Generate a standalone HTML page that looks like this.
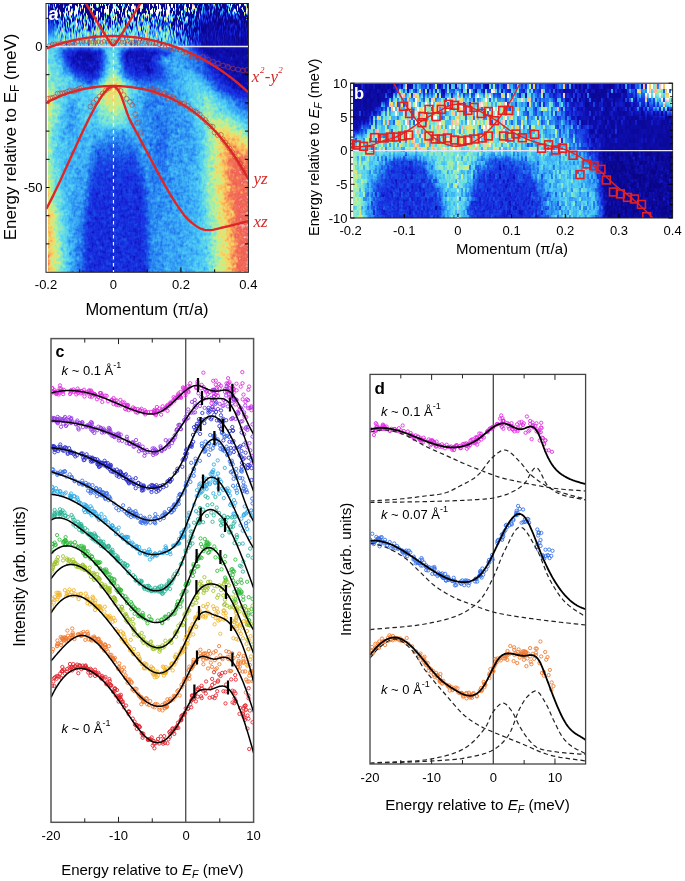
<!DOCTYPE html>
<html><head><meta charset="utf-8"><style>
html,body{margin:0;padding:0;background:#fff;}
body{width:685px;height:881px;position:relative;overflow:hidden;font-family:"Liberation Sans", sans-serif;}
svg{position:absolute;left:0;top:0;}
canvas{position:absolute;}
</style></head><body>
<canvas id="ha" width="200" height="268" style="left:48px;top:4px;width:200px;height:268px;background:linear-gradient(to bottom,#0c0a96 0%,#0c0a96 10%,rgba(12,10,150,0) 16%),linear-gradient(to right,#f5a05a 0%,#9fe0c0 5%,#50b8f0 14%,#2a50e0 22%,#2a50e0 45%,#3c96f0 55%,#48b0f2 70%,#90e0d0 80%,#f0dc70 86%,#f59a5a 91%,#ef6458 95%,#ef6458 100%)"></canvas><canvas id="hb" width="320" height="134" style="left:353px;top:84px;width:320px;height:134px;background:linear-gradient(to bottom,rgba(12,10,150,0.5) 0%,rgba(12,10,150,0) 45%),linear-gradient(to right,#70d0d8 0%,#2040dc 14%,#60c8ec 33%,#2040dc 48%,#4ab0f0 65%,#0a0590 78%,#0a0590 100%)"></canvas>
<svg width="685" height="881" viewBox="0 0 685 881">
<defs><marker id="m0" markerUnits="userSpaceOnUse" markerWidth="8" markerHeight="8" refX="4" refY="4" overflow="visible"><circle cx="4" cy="4" r="2.4" fill="none" stroke="rgba(195,60,50,0.85)" stroke-width="0.7"/></marker><marker id="m1" markerUnits="userSpaceOnUse" markerWidth="8" markerHeight="8" refX="4" refY="4" overflow="visible"><circle cx="4" cy="4" r="1.9" fill="none" stroke="rgba(195,60,50,0.85)" stroke-width="0.7"/></marker><marker id="m2" markerUnits="userSpaceOnUse" markerWidth="8" markerHeight="8" refX="4" refY="4" overflow="visible"><circle cx="4" cy="4" r="1.65" fill="none" stroke="rgb(225,40,225)" stroke-width="0.85"/></marker><marker id="m3" markerUnits="userSpaceOnUse" markerWidth="8" markerHeight="8" refX="4" refY="4" overflow="visible"><circle cx="4" cy="4" r="1.65" fill="none" stroke="rgb(150,55,225)" stroke-width="0.85"/></marker><marker id="m4" markerUnits="userSpaceOnUse" markerWidth="8" markerHeight="8" refX="4" refY="4" overflow="visible"><circle cx="4" cy="4" r="1.65" fill="none" stroke="rgb(40,45,205)" stroke-width="0.85"/></marker><marker id="m5" markerUnits="userSpaceOnUse" markerWidth="8" markerHeight="8" refX="4" refY="4" overflow="visible"><circle cx="4" cy="4" r="1.65" fill="none" stroke="rgb(55,110,230)" stroke-width="0.85"/></marker><marker id="m6" markerUnits="userSpaceOnUse" markerWidth="8" markerHeight="8" refX="4" refY="4" overflow="visible"><circle cx="4" cy="4" r="1.65" fill="none" stroke="rgb(45,170,230)" stroke-width="0.85"/></marker><marker id="m7" markerUnits="userSpaceOnUse" markerWidth="8" markerHeight="8" refX="4" refY="4" overflow="visible"><circle cx="4" cy="4" r="1.65" fill="none" stroke="rgb(40,180,150)" stroke-width="0.85"/></marker><marker id="m8" markerUnits="userSpaceOnUse" markerWidth="8" markerHeight="8" refX="4" refY="4" overflow="visible"><circle cx="4" cy="4" r="1.65" fill="none" stroke="rgb(50,185,60)" stroke-width="0.85"/></marker><marker id="m9" markerUnits="userSpaceOnUse" markerWidth="8" markerHeight="8" refX="4" refY="4" overflow="visible"><circle cx="4" cy="4" r="1.65" fill="none" stroke="rgb(160,195,45)" stroke-width="0.85"/></marker><marker id="m10" markerUnits="userSpaceOnUse" markerWidth="8" markerHeight="8" refX="4" refY="4" overflow="visible"><circle cx="4" cy="4" r="1.65" fill="none" stroke="rgb(240,180,40)" stroke-width="0.85"/></marker><marker id="m11" markerUnits="userSpaceOnUse" markerWidth="8" markerHeight="8" refX="4" refY="4" overflow="visible"><circle cx="4" cy="4" r="1.65" fill="none" stroke="rgb(240,120,45)" stroke-width="0.85"/></marker><marker id="m12" markerUnits="userSpaceOnUse" markerWidth="8" markerHeight="8" refX="4" refY="4" overflow="visible"><circle cx="4" cy="4" r="1.65" fill="none" stroke="rgb(225,35,45)" stroke-width="0.85"/></marker><marker id="m13" markerUnits="userSpaceOnUse" markerWidth="8" markerHeight="8" refX="4" refY="4" overflow="visible"><circle cx="4" cy="4" r="1.65" fill="none" stroke="rgb(50,110,230)" stroke-width="0.85"/></marker></defs>
<rect x="46.0" y="3.5" width="202.4" height="268.8" fill="none" stroke="#222" stroke-width="1"/>
<line x1="46.0" y1="18.30" x2="49.5" y2="18.30" stroke="#000" stroke-width="1"/>
<line x1="248.4" y1="18.30" x2="244.9" y2="18.30" stroke="#000" stroke-width="1"/>
<line x1="46.0" y1="46.50" x2="49.5" y2="46.50" stroke="#000" stroke-width="1"/>
<line x1="248.4" y1="46.50" x2="244.9" y2="46.50" stroke="#000" stroke-width="1"/>
<line x1="46.0" y1="74.70" x2="49.5" y2="74.70" stroke="#000" stroke-width="1"/>
<line x1="248.4" y1="74.70" x2="244.9" y2="74.70" stroke="#000" stroke-width="1"/>
<line x1="46.0" y1="102.90" x2="49.5" y2="102.90" stroke="#000" stroke-width="1"/>
<line x1="248.4" y1="102.90" x2="244.9" y2="102.90" stroke="#000" stroke-width="1"/>
<line x1="46.0" y1="131.10" x2="49.5" y2="131.10" stroke="#000" stroke-width="1"/>
<line x1="248.4" y1="131.10" x2="244.9" y2="131.10" stroke="#000" stroke-width="1"/>
<line x1="46.0" y1="159.30" x2="49.5" y2="159.30" stroke="#000" stroke-width="1"/>
<line x1="248.4" y1="159.30" x2="244.9" y2="159.30" stroke="#000" stroke-width="1"/>
<line x1="46.0" y1="187.50" x2="49.5" y2="187.50" stroke="#000" stroke-width="1"/>
<line x1="248.4" y1="187.50" x2="244.9" y2="187.50" stroke="#000" stroke-width="1"/>
<line x1="46.0" y1="215.70" x2="49.5" y2="215.70" stroke="#000" stroke-width="1"/>
<line x1="248.4" y1="215.70" x2="244.9" y2="215.70" stroke="#000" stroke-width="1"/>
<line x1="46.0" y1="243.90" x2="49.5" y2="243.90" stroke="#000" stroke-width="1"/>
<line x1="248.4" y1="243.90" x2="244.9" y2="243.90" stroke="#000" stroke-width="1"/>
<line x1="79.73" y1="272.3" x2="79.73" y2="269.3" stroke="#000" stroke-width="1"/>
<line x1="113.47" y1="272.3" x2="113.47" y2="267.3" stroke="#000" stroke-width="1"/>
<line x1="147.20" y1="272.3" x2="147.20" y2="269.3" stroke="#000" stroke-width="1"/>
<line x1="180.93" y1="272.3" x2="180.93" y2="267.3" stroke="#000" stroke-width="1"/>
<line x1="214.67" y1="272.3" x2="214.67" y2="269.3" stroke="#000" stroke-width="1"/>
<text x="42.50" y="51.10" font-size="13" text-anchor="end" font-weight="normal" font-style="normal" fill="#000" font-family='"Liberation Sans", sans-serif' >0</text>
<text x="42.50" y="192.10" font-size="13" text-anchor="end" font-weight="normal" font-style="normal" fill="#000" font-family='"Liberation Sans", sans-serif' >-50</text>
<text x="46.00" y="289.40" font-size="13" text-anchor="middle" font-weight="normal" font-style="normal" fill="#000" font-family='"Liberation Sans", sans-serif' >-0.2</text>
<text x="113.47" y="289.40" font-size="13" text-anchor="middle" font-weight="normal" font-style="normal" fill="#000" font-family='"Liberation Sans", sans-serif' >0</text>
<text x="180.93" y="289.40" font-size="13" text-anchor="middle" font-weight="normal" font-style="normal" fill="#000" font-family='"Liberation Sans", sans-serif' >0.2</text>
<text x="248.40" y="289.40" font-size="13" text-anchor="middle" font-weight="normal" font-style="normal" fill="#000" font-family='"Liberation Sans", sans-serif' >0.4</text>
<text x="147.00" y="315.20" font-size="16.5" text-anchor="middle" font-weight="normal" font-style="normal" fill="#000" font-family='"Liberation Sans", sans-serif' >Momentum (&#960;/a)</text>
<text transform="translate(16.3,137) rotate(-90)" font-size="17" text-anchor="middle" font-family='"Liberation Sans", sans-serif'>Energy relative to E<tspan font-size="12" dy="3">F</tspan><tspan dy="-3"> (meV)</tspan></text>
<rect x="350.6" y="83.2" width="322.0" height="134.8" fill="none" stroke="#222" stroke-width="1"/>
<line x1="350.6" y1="218.00" x2="354.6" y2="218.00" stroke="#000" stroke-width="0.9"/>
<line x1="672.6" y1="218.00" x2="668.6" y2="218.00" stroke="#000" stroke-width="0.9"/>
<line x1="350.6" y1="211.26" x2="353.1" y2="211.26" stroke="#000" stroke-width="0.9"/>
<line x1="672.6" y1="211.26" x2="670.1" y2="211.26" stroke="#000" stroke-width="0.9"/>
<line x1="350.6" y1="204.52" x2="353.1" y2="204.52" stroke="#000" stroke-width="0.9"/>
<line x1="672.6" y1="204.52" x2="670.1" y2="204.52" stroke="#000" stroke-width="0.9"/>
<line x1="350.6" y1="197.78" x2="353.1" y2="197.78" stroke="#000" stroke-width="0.9"/>
<line x1="672.6" y1="197.78" x2="670.1" y2="197.78" stroke="#000" stroke-width="0.9"/>
<line x1="350.6" y1="191.04" x2="353.1" y2="191.04" stroke="#000" stroke-width="0.9"/>
<line x1="672.6" y1="191.04" x2="670.1" y2="191.04" stroke="#000" stroke-width="0.9"/>
<line x1="350.6" y1="184.30" x2="354.6" y2="184.30" stroke="#000" stroke-width="0.9"/>
<line x1="672.6" y1="184.30" x2="668.6" y2="184.30" stroke="#000" stroke-width="0.9"/>
<line x1="350.6" y1="177.56" x2="353.1" y2="177.56" stroke="#000" stroke-width="0.9"/>
<line x1="672.6" y1="177.56" x2="670.1" y2="177.56" stroke="#000" stroke-width="0.9"/>
<line x1="350.6" y1="170.82" x2="353.1" y2="170.82" stroke="#000" stroke-width="0.9"/>
<line x1="672.6" y1="170.82" x2="670.1" y2="170.82" stroke="#000" stroke-width="0.9"/>
<line x1="350.6" y1="164.08" x2="353.1" y2="164.08" stroke="#000" stroke-width="0.9"/>
<line x1="672.6" y1="164.08" x2="670.1" y2="164.08" stroke="#000" stroke-width="0.9"/>
<line x1="350.6" y1="157.34" x2="353.1" y2="157.34" stroke="#000" stroke-width="0.9"/>
<line x1="672.6" y1="157.34" x2="670.1" y2="157.34" stroke="#000" stroke-width="0.9"/>
<line x1="350.6" y1="150.60" x2="354.6" y2="150.60" stroke="#000" stroke-width="0.9"/>
<line x1="672.6" y1="150.60" x2="668.6" y2="150.60" stroke="#000" stroke-width="0.9"/>
<line x1="350.6" y1="143.86" x2="353.1" y2="143.86" stroke="#000" stroke-width="0.9"/>
<line x1="672.6" y1="143.86" x2="670.1" y2="143.86" stroke="#000" stroke-width="0.9"/>
<line x1="350.6" y1="137.12" x2="353.1" y2="137.12" stroke="#000" stroke-width="0.9"/>
<line x1="672.6" y1="137.12" x2="670.1" y2="137.12" stroke="#000" stroke-width="0.9"/>
<line x1="350.6" y1="130.38" x2="353.1" y2="130.38" stroke="#000" stroke-width="0.9"/>
<line x1="672.6" y1="130.38" x2="670.1" y2="130.38" stroke="#000" stroke-width="0.9"/>
<line x1="350.6" y1="123.64" x2="353.1" y2="123.64" stroke="#000" stroke-width="0.9"/>
<line x1="672.6" y1="123.64" x2="670.1" y2="123.64" stroke="#000" stroke-width="0.9"/>
<line x1="350.6" y1="116.90" x2="354.6" y2="116.90" stroke="#000" stroke-width="0.9"/>
<line x1="672.6" y1="116.90" x2="668.6" y2="116.90" stroke="#000" stroke-width="0.9"/>
<line x1="350.6" y1="110.16" x2="353.1" y2="110.16" stroke="#000" stroke-width="0.9"/>
<line x1="672.6" y1="110.16" x2="670.1" y2="110.16" stroke="#000" stroke-width="0.9"/>
<line x1="350.6" y1="103.42" x2="353.1" y2="103.42" stroke="#000" stroke-width="0.9"/>
<line x1="672.6" y1="103.42" x2="670.1" y2="103.42" stroke="#000" stroke-width="0.9"/>
<line x1="350.6" y1="96.68" x2="353.1" y2="96.68" stroke="#000" stroke-width="0.9"/>
<line x1="672.6" y1="96.68" x2="670.1" y2="96.68" stroke="#000" stroke-width="0.9"/>
<line x1="350.6" y1="89.94" x2="353.1" y2="89.94" stroke="#000" stroke-width="0.9"/>
<line x1="672.6" y1="89.94" x2="670.1" y2="89.94" stroke="#000" stroke-width="0.9"/>
<line x1="350.6" y1="83.20" x2="354.6" y2="83.20" stroke="#000" stroke-width="0.9"/>
<line x1="672.6" y1="83.20" x2="668.6" y2="83.20" stroke="#000" stroke-width="0.9"/>
<line x1="404.27" y1="218.0" x2="404.27" y2="214.0" stroke="#000" stroke-width="1"/>
<line x1="457.93" y1="218.0" x2="457.93" y2="214.0" stroke="#000" stroke-width="1"/>
<line x1="511.60" y1="218.0" x2="511.60" y2="214.0" stroke="#000" stroke-width="1"/>
<line x1="565.27" y1="218.0" x2="565.27" y2="214.0" stroke="#000" stroke-width="1"/>
<line x1="618.93" y1="218.0" x2="618.93" y2="214.0" stroke="#000" stroke-width="1"/>
<text x="347.50" y="87.80" font-size="13" text-anchor="end" font-weight="normal" font-style="normal" fill="#000" font-family='"Liberation Sans", sans-serif' >10</text>
<text x="347.50" y="121.50" font-size="13" text-anchor="end" font-weight="normal" font-style="normal" fill="#000" font-family='"Liberation Sans", sans-serif' >5</text>
<text x="347.50" y="155.20" font-size="13" text-anchor="end" font-weight="normal" font-style="normal" fill="#000" font-family='"Liberation Sans", sans-serif' >0</text>
<text x="347.50" y="188.90" font-size="13" text-anchor="end" font-weight="normal" font-style="normal" fill="#000" font-family='"Liberation Sans", sans-serif' >-5</text>
<text x="347.50" y="222.60" font-size="13" text-anchor="end" font-weight="normal" font-style="normal" fill="#000" font-family='"Liberation Sans", sans-serif' >-10</text>
<text x="350.60" y="234.80" font-size="13" text-anchor="middle" font-weight="normal" font-style="normal" fill="#000" font-family='"Liberation Sans", sans-serif' >-0.2</text>
<text x="404.27" y="234.80" font-size="13" text-anchor="middle" font-weight="normal" font-style="normal" fill="#000" font-family='"Liberation Sans", sans-serif' >-0.1</text>
<text x="457.93" y="234.80" font-size="13" text-anchor="middle" font-weight="normal" font-style="normal" fill="#000" font-family='"Liberation Sans", sans-serif' >0</text>
<text x="511.60" y="234.80" font-size="13" text-anchor="middle" font-weight="normal" font-style="normal" fill="#000" font-family='"Liberation Sans", sans-serif' >0.1</text>
<text x="565.27" y="234.80" font-size="13" text-anchor="middle" font-weight="normal" font-style="normal" fill="#000" font-family='"Liberation Sans", sans-serif' >0.2</text>
<text x="618.93" y="234.80" font-size="13" text-anchor="middle" font-weight="normal" font-style="normal" fill="#000" font-family='"Liberation Sans", sans-serif' >0.3</text>
<text x="672.60" y="234.80" font-size="13" text-anchor="middle" font-weight="normal" font-style="normal" fill="#000" font-family='"Liberation Sans", sans-serif' >0.4</text>
<text x="512.00" y="253.80" font-size="15" text-anchor="middle" font-weight="normal" font-style="normal" fill="#000" font-family='"Liberation Sans", sans-serif' >Momentum (&#960;/a)</text>
<text transform="translate(318.8,147.3) rotate(-90)" font-size="14.6" text-anchor="middle" font-family='"Liberation Sans", sans-serif'>Energy relative to <tspan font-style="italic">E</tspan><tspan font-size="10.5" dy="3" font-style="italic">F</tspan><tspan dy="-3"> (meV)</tspan></text>
<defs><clipPath id="clipa"><rect x="46.5" y="4" width="201.4" height="268"/></clipPath><clipPath id="clipb"><rect x="351" y="83.7" width="321.2" height="133.9"/></clipPath></defs>
<line x1="48" y1="46.50" x2="248" y2="46.50" stroke="#e6e6ff" stroke-width="1.3"/>
<line x1="113.47" y1="4" x2="113.47" y2="272" stroke="#f4f4ff" stroke-width="1.2" stroke-dasharray="3.6,3.4"/>
<line x1="353" y1="150.60" x2="672.6" y2="150.60" stroke="#e6e6ff" stroke-width="1.3"/>
<line x1="457.93" y1="84" x2="457.93" y2="218" stroke="#f4f4ff" stroke-width="1.1" stroke-dasharray="3.6,3.4"/>
<g clip-path="url(#clipa)">
<path d="M203.0 57.0L208.0 59.5L213.0 61.5L218.0 63.5L223.0 65.5L228.0 67.0L233.0 68.5L238.0 69.5L243.0 70.5L247.0 70.0L48.0 98.6L50.4 98.2L52.8 97.8L55.2 97.0L57.6 93.6L60.0 93.3L62.4 93.2L64.8 92.9L67.2 91.6L69.6 90.7L72.0 91.3L74.4 90.9L76.8 89.9L79.2 88.4L81.6 87.8L90.4 106.5L93.5 102.7L96.6 99.6L99.7 96.5L102.8 93.4L105.9 90.3L109.0 88.0L117.5 88.0L120.6 91.0L123.7 95.0L126.8 98.8L129.9 101.9L132.2 105.0L135.3 114.3L137.6 122.8L140.7 132.9L143.5 143.5L150.1 89.7L152.4 88.9L154.8 92.7L157.4 90.3L160.5 93.5L163.3 93.9L164.8 93.0L168.0 98.9L169.7 96.1L172.7 97.1L174.9 98.9L177.6 101.9L180.0 103.1L182.3 103.8L184.1 103.2L187.8 105.8L190.2 108.9L193.0 111.0L195.4 111.7L197.2 112.9L199.8 114.5L202.3 117.8L205.1 119.8L206.7 122.4L210.1 126.2L212.7 126.7L214.7 132.5L217.8 135.1L220.9 134.8L222.7 139.4L225.2 142.6L227.6 145.4L229.4 148.4L232.2 152.3L234.8 156.6L237.8 160.1L240.1 163.8L242.3 167.6L244.8 172.6" fill="none" stroke="none" marker-start="url(#m0)" marker-mid="url(#m0)" marker-end="url(#m0)"/>
<path d="M49.0 45.5L52.3 44.1L54.7 43.9L57.9 43.9L60.8 42.6L64.0 43.5L66.6 43.2L69.2 43.4L72.4 42.8L75.1 43.2L77.7 41.7L81.0 42.1L83.2 41.9L86.6 41.6L89.2 42.2L92.8 42.0L95.2 42.2L98.5 41.8L101.4 42.5L104.0 41.4L107.1 42.0L110.2 41.0L112.6 41.3L115.2 41.9L118.8 41.4L121.9 42.3L124.6 42.1L127.6 41.1L130.4 42.4L132.6 42.3L135.9 42.6L138.8 42.3L141.9 41.9L144.9 42.4L147.7 42.3L150.0 43.1L153.0 43.4L156.0 43.5L159.0 44.8L162.0 46.2L165.0 47.4L168.0 45.6L171.0 48.6L174.0 49.3L177.0 49.9L180.0 50.3L183.0 53.3L186.0 52.5L189.0 55.3L192.0 57.3L195.0 56.4L198.0 58.9" fill="none" stroke="none" marker-start="url(#m1)" marker-mid="url(#m1)" marker-end="url(#m1)"/>
<path d="M46.00,48.60 L47.70,47.95 L49.40,47.32 L51.10,46.71 L52.80,46.11 L54.50,45.53 L56.21,44.98 L57.91,44.43 L59.61,43.91 L61.31,43.41 L63.01,42.92 L64.71,42.45 L66.41,42.00 L68.11,41.56 L69.81,41.14 L71.51,40.74 L73.21,40.35 L74.91,39.99 L76.62,39.63 L78.32,39.30 L80.02,38.98 L81.72,38.68 L83.42,38.40 L85.12,38.13 L86.82,37.87 L88.52,37.64 L90.22,37.42 L91.92,37.21 L93.62,37.02 L95.32,36.85 L97.03,36.70 L98.73,36.55 L100.43,36.43 L102.13,36.32 L103.83,36.23 L105.53,36.15 L107.23,36.09 L108.93,36.05 L110.63,36.02 L112.33,36.00 L114.03,36.00 L115.73,36.02 L117.44,36.05 L119.14,36.10 L120.84,36.17 L122.54,36.25 L124.24,36.34 L125.94,36.46 L127.64,36.58 L129.34,36.73 L131.04,36.89 L132.74,37.06 L134.44,37.25 L136.14,37.46 L137.85,37.69 L139.55,37.93 L141.25,38.18 L142.95,38.46 L144.65,38.74 L146.35,39.05 L148.05,39.37 L149.75,39.71 L151.45,40.06 L153.15,40.44 L154.85,40.82 L156.55,41.23 L158.26,41.65 L159.96,42.09 L161.66,42.55 L163.36,43.02 L165.06,43.51 L166.76,44.02 L168.46,44.55 L170.16,45.09 L171.86,45.66 L173.56,46.24 L175.26,46.84 L176.96,47.45 L178.67,48.09 L180.37,48.74 L182.07,49.42 L183.77,50.11 L185.47,50.82 L187.17,51.55 L188.87,52.30 L190.57,53.07 L192.27,53.86 L193.97,54.67 L195.67,55.50 L197.37,56.35 L199.08,57.22 L200.78,58.11 L202.48,59.02 L204.18,59.95 L205.88,60.91 L207.58,61.88 L209.28,62.88 L210.98,63.90 L212.68,64.94 L214.38,66.01 L216.08,67.09 L217.78,68.20 L219.49,69.34 L221.19,70.49 L222.89,71.67 L224.59,72.88 L226.29,74.11 L227.99,75.36 L229.69,76.63 L231.39,77.94 L233.09,79.26 L234.79,80.62 L236.49,81.99 L238.19,83.40 L239.90,84.83 L241.60,86.29 L243.30,87.77 L245.00,89.28 L246.70,90.82 L248.40,92.39" fill="none" stroke="rgb(222,38,38)" stroke-width="2.35"/>
<path d="M84.00,0.23 L84.74,1.44 L85.48,2.66 L86.22,3.88 L86.96,5.10 L87.70,6.31 L88.44,7.53 L89.17,8.74 L89.91,9.96 L90.65,11.18 L91.39,12.39 L92.13,13.61 L92.87,14.82 L93.61,16.04 L94.35,17.25 L95.09,18.47 L95.83,19.68 L96.57,20.89 L97.31,22.10 L98.05,23.32 L98.78,24.53 L99.52,25.74 L100.26,26.94 L101.00,28.15 L101.74,29.36 L102.48,30.56 L103.22,31.76 L103.96,32.96 L104.70,34.16 L105.44,35.35 L106.18,36.53 L106.92,37.71 L107.66,38.87 L108.39,40.02 L109.13,41.15 L109.87,42.24 L110.61,43.28 L111.35,44.22 L112.09,44.99 L112.83,45.44 L113.57,45.44 L114.31,44.99 L115.05,44.22 L115.79,43.28 L116.53,42.24 L117.27,41.15 L118.01,40.02 L118.74,38.87 L119.48,37.71 L120.22,36.53 L120.96,35.35 L121.70,34.16 L122.44,32.96 L123.18,31.76 L123.92,30.56 L124.66,29.36 L125.40,28.15 L126.14,26.94 L126.88,25.74 L127.62,24.53 L128.35,23.32 L129.09,22.10 L129.83,20.89 L130.57,19.68 L131.31,18.47 L132.05,17.25 L132.79,16.04 L133.53,14.82 L134.27,13.61 L135.01,12.39 L135.75,11.18 L136.49,9.96 L137.23,8.74 L137.96,7.53 L138.70,6.31 L139.44,5.10 L140.18,3.88 L140.92,2.66 L141.66,1.44 L142.40,0.23" fill="none" stroke="rgb(222,38,38)" stroke-width="2.35"/>
<path d="M46.00,102.97 L47.70,102.03 L49.40,101.12 L51.10,100.25 L52.80,99.40 L54.50,98.59 L56.21,97.81 L57.91,97.06 L59.61,96.34 L61.31,95.64 L63.01,94.98 L64.71,94.34 L66.41,93.73 L68.11,93.15 L69.81,92.59 L71.51,92.06 L73.21,91.55 L74.91,91.07 L76.62,90.61 L78.32,90.17 L80.02,89.76 L81.72,89.38 L83.42,89.01 L85.12,88.67 L86.82,88.35 L88.52,88.05 L90.22,87.77 L91.92,87.51 L93.62,87.27 L95.32,87.06 L97.03,86.86 L98.73,86.69 L100.43,86.53 L102.13,86.40 L103.83,86.28 L105.53,86.19 L107.23,86.11 L108.93,86.06 L110.63,86.02 L112.33,86.00 L114.03,86.00 L115.73,86.03 L117.44,86.07 L119.14,86.13 L120.84,86.21 L122.54,86.31 L124.24,86.43 L125.94,86.56 L127.64,86.72 L129.34,86.90 L131.04,87.10 L132.74,87.32 L134.44,87.56 L136.14,87.83 L137.85,88.11 L139.55,88.41 L141.25,88.74 L142.95,89.09 L144.65,89.46 L146.35,89.85 L148.05,90.27 L149.75,90.71 L151.45,91.17 L153.15,91.66 L154.85,92.17 L156.55,92.71 L158.26,93.27 L159.96,93.86 L161.66,94.48 L163.36,95.12 L165.06,95.79 L166.76,96.49 L168.46,97.22 L170.16,97.98 L171.86,98.76 L173.56,99.58 L175.26,100.43 L176.96,101.31 L178.67,102.23 L180.37,103.18 L182.07,104.16 L183.77,105.18 L185.47,106.23 L187.17,107.32 L188.87,108.45 L190.57,109.61 L192.27,110.82 L193.97,112.06 L195.67,113.35 L197.37,114.68 L199.08,116.05 L200.78,117.46 L202.48,118.92 L204.18,120.43 L205.88,121.98 L207.58,123.58 L209.28,125.22 L210.98,126.92 L212.68,128.67 L214.38,130.47 L216.08,132.32 L217.78,134.23 L219.49,136.19 L221.19,138.21 L222.89,140.29 L224.59,142.42 L226.29,144.62 L227.99,146.88 L229.69,149.20 L231.39,151.58 L233.09,154.03 L234.79,156.55 L236.49,159.13 L238.19,161.78 L239.90,164.51 L241.60,167.30 L243.30,170.17 L245.00,173.12 L246.70,176.14 L248.40,179.24" fill="none" stroke="rgb(222,38,38)" stroke-width="2.35"/>
<path d="M46.30,209.00 L53.17,195.60 L60.35,180.46 L67.70,164.34 L75.10,147.97 L82.41,132.09 L89.50,117.45 L96.23,104.79 L102.49,94.85 L108.12,88.37 L113.00,86.10 L115.24,86.80 L117.27,88.69 L119.12,91.55 L120.84,95.17 L122.47,99.34 L124.03,103.83 L125.56,108.45 L127.11,112.98 L128.71,117.20 L130.40,120.90 L132.06,124.10 L133.73,127.27 L135.40,130.43 L137.08,133.56 L138.75,136.68 L140.42,139.77 L142.08,142.85 L143.73,145.92 L145.37,148.97 L147.00,152.00 L148.53,154.87 L150.05,157.75 L151.56,160.61 L153.07,163.47 L154.56,166.30 L156.06,169.11 L157.54,171.89 L159.03,174.63 L160.51,177.34 L162.00,180.00 L163.35,182.39 L164.69,184.76 L166.02,187.12 L167.35,189.44 L168.68,191.74 L170.01,194.00 L171.35,196.22 L172.69,198.40 L174.04,200.53 L175.40,202.60 L176.60,204.40 L177.80,206.19 L178.99,207.96 L180.19,209.70 L181.39,211.40 L182.61,213.05 L183.85,214.64 L185.10,216.17 L186.39,217.63 L187.70,219.00 L188.87,220.14 L190.09,221.26 L191.32,222.34 L192.58,223.37 L193.85,224.36 L195.11,225.28 L196.37,226.13 L197.61,226.91 L198.82,227.60 L200.00,228.20 L200.83,228.58 L201.63,228.92 L202.40,229.21 L203.16,229.46 L203.92,229.67 L204.69,229.85 L205.48,229.98 L206.31,230.09 L207.18,230.16 L208.10,230.20 L209.48,230.18 L210.94,230.05 L212.47,229.83 L214.05,229.54 L215.69,229.19 L217.37,228.79 L219.09,228.37 L220.84,227.94 L222.61,227.51 L224.40,227.10 L226.66,226.59 L229.00,226.04 L231.42,225.45 L233.89,224.84 L236.39,224.21 L238.92,223.56 L241.46,222.91 L244.00,222.26 L246.52,221.62 L249.00,221.00" fill="none" stroke="rgb(222,38,38)" stroke-width="2.35" stroke-linejoin="round"/>
</g>
<g clip-path="url(#clipb)">
<path d="M385.00,64.29 L386.84,68.42 L388.67,72.43 L390.51,76.34 L392.34,80.15 L394.18,83.84 L396.01,87.43 L397.85,90.92 L399.68,94.29 L401.52,97.57 L403.35,100.73 L405.19,103.79 L407.03,106.74 L408.86,109.59 L410.70,112.32 L412.53,114.96 L414.37,117.48 L416.20,119.90 L418.04,122.21 L419.87,124.42 L421.71,126.52 L423.54,128.52 L425.38,130.40 L427.22,132.18 L429.05,133.86 L430.89,135.43 L432.72,136.89 L434.56,138.24 L436.39,139.49 L438.23,140.63 L440.06,141.67 L441.90,142.60 L443.73,143.42 L445.57,144.14 L447.41,144.75 L449.24,145.25 L451.08,145.65 L452.91,145.94 L454.75,146.12 L456.58,146.20 L458.42,146.17 L460.25,146.03 L462.09,145.79 L463.92,145.44 L465.76,144.99 L467.59,144.43 L469.43,143.76 L471.27,142.98 L473.10,142.10 L474.94,141.12 L476.77,140.02 L478.61,138.82 L480.44,137.52 L482.28,136.10 L484.11,134.58 L485.95,132.96 L487.78,131.23 L489.62,129.39 L491.46,127.44 L493.29,125.39 L495.13,123.23 L496.96,120.97 L498.80,118.60 L500.63,116.12 L502.47,113.54 L504.30,110.85 L506.14,108.05 L507.97,105.14 L509.81,102.14 L511.65,99.02 L513.48,95.80 L515.32,92.47 L517.15,89.03 L518.99,85.49 L520.82,81.84 L522.66,78.09 L524.49,74.22 L526.33,70.26 L528.16,66.18 L530.00,62.00" fill="none" stroke="rgb(222,38,38)" stroke-width="1.4"/>
<path d="M349.00,147.00 L351.62,146.86 L354.29,146.76 L356.99,146.68 L359.67,146.59 L362.31,146.46 L364.88,146.27 L367.36,146.00 L369.70,145.60 L371.51,145.17 L373.24,144.66 L374.90,144.08 L376.51,143.46 L378.10,142.82 L379.68,142.18 L381.27,141.57 L382.90,141.00 L384.54,140.49 L386.19,140.03 L387.83,139.58 L389.48,139.14 L391.13,138.68 L392.76,138.19 L394.39,137.63 L396.00,137.00 L397.68,136.25 L399.38,135.42 L401.07,134.54 L402.75,133.61 L404.41,132.66 L406.03,131.69 L407.59,130.74 L409.10,129.80 L410.34,129.00 L411.52,128.19 L412.66,127.37 L413.78,126.55 L414.88,125.73 L415.99,124.92 L417.13,124.10 L418.30,123.30 L419.57,122.46 L420.85,121.62 L422.15,120.78 L423.46,119.94 L424.78,119.11 L426.11,118.29 L427.45,117.49 L428.80,116.70 L430.18,115.92 L431.60,115.16 L433.04,114.40 L434.48,113.66 L435.92,112.93 L437.32,112.21 L438.69,111.50 L440.00,110.80 L441.07,110.20 L442.10,109.58 L443.11,108.97 L444.10,108.36 L445.07,107.78 L446.04,107.24 L447.02,106.74 L448.00,106.30 L448.88,105.95 L449.75,105.63 L450.63,105.34 L451.50,105.07 L452.37,104.85 L453.24,104.66 L454.12,104.51 L455.00,104.40 L455.87,104.34 L456.73,104.32 L457.60,104.35 L458.47,104.41 L459.35,104.50 L460.22,104.61 L461.11,104.75 L462.00,104.90 L462.97,105.09 L463.94,105.31 L464.91,105.55 L465.88,105.83 L466.88,106.13 L467.89,106.46 L468.93,106.82 L470.00,107.20 L471.41,107.72 L472.87,108.29 L474.38,108.91 L475.92,109.56 L477.48,110.25 L479.05,110.97 L480.63,111.73 L482.20,112.50 L483.95,113.40 L485.73,114.34 L487.53,115.32 L489.33,116.35 L491.14,117.40 L492.94,118.48 L494.73,119.58 L496.50,120.70 L498.30,121.90 L500.06,123.17 L501.80,124.48 L503.55,125.81 L505.31,127.14 L507.09,128.44 L508.92,129.71 L510.80,130.90 L512.84,132.10 L514.93,133.27 L517.06,134.42 L519.23,135.53 L521.41,136.60 L523.61,137.62 L525.81,138.59 L528.00,139.50 L530.09,140.31 L532.17,141.04 L534.26,141.73 L536.35,142.37 L538.46,142.98 L540.60,143.58 L542.78,144.18 L545.00,144.80 L547.55,145.46 L550.20,146.07 L552.92,146.66 L555.66,147.24 L558.38,147.84 L561.04,148.49 L563.59,149.20 L566.00,150.00 L567.91,150.74 L569.73,151.51 L571.47,152.31 L573.16,153.15 L574.83,154.04 L576.51,154.97 L578.23,155.96 L580.00,157.00 L582.15,158.31 L584.35,159.70 L586.58,161.17 L588.83,162.70 L591.08,164.29 L593.32,165.93 L595.53,167.60 L597.70,169.30 L599.91,171.13 L602.09,173.05 L604.24,175.04 L606.38,177.06 L608.51,179.09 L610.65,181.11 L612.81,183.09 L615.00,185.00 L617.18,186.80 L619.37,188.54 L621.58,190.24 L623.80,191.93 L626.02,193.63 L628.25,195.35 L630.48,197.14 L632.70,199.00 L635.20,201.20 L637.85,203.59 L640.57,206.09 L643.25,208.61 L645.82,211.06 L648.20,213.33 L650.28,215.34 L652.00,217.00 L652.65,217.63 L653.22,218.19 L653.73,218.70 L654.20,219.17 L654.64,219.62 L655.07,220.06 L655.52,220.52 L656.00,221.00" fill="none" stroke="rgb(222,38,38)" stroke-width="1.4"/>
<rect x="346.1" y="139.9" width="7.8" height="7.8" fill="none" stroke="rgb(228,32,32)" stroke-width="1.6"/>
<rect x="352.3" y="141.1" width="7.8" height="7.8" fill="none" stroke="rgb(228,32,32)" stroke-width="1.6"/>
<rect x="359.7" y="142.4" width="7.8" height="7.8" fill="none" stroke="rgb(228,32,32)" stroke-width="1.6"/>
<rect x="365.9" y="146.1" width="7.8" height="7.8" fill="none" stroke="rgb(228,32,32)" stroke-width="1.6"/>
<rect x="370.9" y="133.7" width="7.8" height="7.8" fill="none" stroke="rgb(228,32,32)" stroke-width="1.6"/>
<rect x="518.4" y="133.9" width="7.8" height="7.8" fill="none" stroke="rgb(228,32,32)" stroke-width="1.6"/>
<rect x="530.7" y="130.4" width="7.8" height="7.8" fill="none" stroke="rgb(228,32,32)" stroke-width="1.6"/>
<rect x="537.7" y="144.4" width="7.8" height="7.8" fill="none" stroke="rgb(228,32,32)" stroke-width="1.6"/>
<rect x="544.7" y="140.9" width="7.8" height="7.8" fill="none" stroke="rgb(228,32,32)" stroke-width="1.6"/>
<rect x="551.7" y="146.1" width="7.8" height="7.8" fill="none" stroke="rgb(228,32,32)" stroke-width="1.6"/>
<rect x="558.7" y="144.4" width="7.8" height="7.8" fill="none" stroke="rgb(228,32,32)" stroke-width="1.6"/>
<rect x="569.1" y="151.4" width="7.8" height="7.8" fill="none" stroke="rgb(228,32,32)" stroke-width="1.6"/>
<rect x="576.1" y="170.7" width="7.8" height="7.8" fill="none" stroke="rgb(228,32,32)" stroke-width="1.6"/>
<rect x="583.1" y="160.1" width="7.8" height="7.8" fill="none" stroke="rgb(228,32,32)" stroke-width="1.6"/>
<rect x="590.1" y="161.9" width="7.8" height="7.8" fill="none" stroke="rgb(228,32,32)" stroke-width="1.6"/>
<rect x="597.1" y="165.4" width="7.8" height="7.8" fill="none" stroke="rgb(228,32,32)" stroke-width="1.6"/>
<rect x="602.5" y="176.1" width="7.8" height="7.8" fill="none" stroke="rgb(228,32,32)" stroke-width="1.6"/>
<rect x="609.5" y="188.1" width="7.8" height="7.8" fill="none" stroke="rgb(228,32,32)" stroke-width="1.6"/>
<rect x="616.5" y="190.0" width="7.8" height="7.8" fill="none" stroke="rgb(228,32,32)" stroke-width="1.6"/>
<rect x="623.6" y="193.5" width="7.8" height="7.8" fill="none" stroke="rgb(228,32,32)" stroke-width="1.6"/>
<rect x="630.6" y="195.1" width="7.8" height="7.8" fill="none" stroke="rgb(228,32,32)" stroke-width="1.6"/>
<rect x="637.6" y="200.5" width="7.8" height="7.8" fill="none" stroke="rgb(228,32,32)" stroke-width="1.6"/>
<rect x="642.8" y="212.7" width="7.8" height="7.8" fill="none" stroke="rgb(228,32,32)" stroke-width="1.6"/>
<rect x="399.6" y="102.4" width="7.8" height="7.8" fill="none" stroke="rgb(228,32,32)" stroke-width="1.6"/>
<rect x="405.7" y="109.6" width="7.8" height="7.8" fill="none" stroke="rgb(228,32,32)" stroke-width="1.6"/>
<rect x="419.0" y="112.7" width="7.8" height="7.8" fill="none" stroke="rgb(228,32,32)" stroke-width="1.6"/>
<rect x="418.0" y="118.8" width="7.8" height="7.8" fill="none" stroke="rgb(228,32,32)" stroke-width="1.6"/>
<rect x="425.1" y="105.5" width="7.8" height="7.8" fill="none" stroke="rgb(228,32,32)" stroke-width="1.6"/>
<rect x="432.3" y="112.7" width="7.8" height="7.8" fill="none" stroke="rgb(228,32,32)" stroke-width="1.6"/>
<rect x="437.4" y="105.5" width="7.8" height="7.8" fill="none" stroke="rgb(228,32,32)" stroke-width="1.6"/>
<rect x="444.6" y="100.4" width="7.8" height="7.8" fill="none" stroke="rgb(228,32,32)" stroke-width="1.6"/>
<rect x="450.7" y="101.4" width="7.8" height="7.8" fill="none" stroke="rgb(228,32,32)" stroke-width="1.6"/>
<rect x="457.8" y="103.5" width="7.8" height="7.8" fill="none" stroke="rgb(228,32,32)" stroke-width="1.6"/>
<rect x="464.0" y="106.5" width="7.8" height="7.8" fill="none" stroke="rgb(228,32,32)" stroke-width="1.6"/>
<rect x="470.1" y="103.5" width="7.8" height="7.8" fill="none" stroke="rgb(228,32,32)" stroke-width="1.6"/>
<rect x="477.3" y="109.6" width="7.8" height="7.8" fill="none" stroke="rgb(228,32,32)" stroke-width="1.6"/>
<rect x="484.4" y="107.6" width="7.8" height="7.8" fill="none" stroke="rgb(228,32,32)" stroke-width="1.6"/>
<rect x="490.5" y="116.8" width="7.8" height="7.8" fill="none" stroke="rgb(228,32,32)" stroke-width="1.6"/>
<rect x="498.7" y="106.5" width="7.8" height="7.8" fill="none" stroke="rgb(228,32,32)" stroke-width="1.6"/>
<rect x="504.9" y="106.5" width="7.8" height="7.8" fill="none" stroke="rgb(228,32,32)" stroke-width="1.6"/>
<rect x="380.1" y="134.1" width="7.8" height="7.8" fill="none" stroke="rgb(228,32,32)" stroke-width="1.6"/>
<rect x="386.3" y="133.1" width="7.8" height="7.8" fill="none" stroke="rgb(228,32,32)" stroke-width="1.6"/>
<rect x="392.4" y="133.1" width="7.8" height="7.8" fill="none" stroke="rgb(228,32,32)" stroke-width="1.6"/>
<rect x="398.6" y="132.1" width="7.8" height="7.8" fill="none" stroke="rgb(228,32,32)" stroke-width="1.6"/>
<rect x="404.7" y="131.1" width="7.8" height="7.8" fill="none" stroke="rgb(228,32,32)" stroke-width="1.6"/>
<rect x="425.1" y="132.1" width="7.8" height="7.8" fill="none" stroke="rgb(228,32,32)" stroke-width="1.6"/>
<rect x="431.3" y="135.1" width="7.8" height="7.8" fill="none" stroke="rgb(228,32,32)" stroke-width="1.6"/>
<rect x="437.4" y="135.1" width="7.8" height="7.8" fill="none" stroke="rgb(228,32,32)" stroke-width="1.6"/>
<rect x="443.5" y="134.1" width="7.8" height="7.8" fill="none" stroke="rgb(228,32,32)" stroke-width="1.6"/>
<rect x="450.7" y="136.1" width="7.8" height="7.8" fill="none" stroke="rgb(228,32,32)" stroke-width="1.6"/>
<rect x="457.8" y="137.1" width="7.8" height="7.8" fill="none" stroke="rgb(228,32,32)" stroke-width="1.6"/>
<rect x="464.0" y="136.1" width="7.8" height="7.8" fill="none" stroke="rgb(228,32,32)" stroke-width="1.6"/>
<rect x="471.1" y="135.1" width="7.8" height="7.8" fill="none" stroke="rgb(228,32,32)" stroke-width="1.6"/>
<rect x="478.3" y="134.1" width="7.8" height="7.8" fill="none" stroke="rgb(228,32,32)" stroke-width="1.6"/>
<rect x="484.4" y="132.1" width="7.8" height="7.8" fill="none" stroke="rgb(228,32,32)" stroke-width="1.6"/>
<rect x="499.7" y="132.1" width="7.8" height="7.8" fill="none" stroke="rgb(228,32,32)" stroke-width="1.6"/>
<rect x="505.9" y="133.1" width="7.8" height="7.8" fill="none" stroke="rgb(228,32,32)" stroke-width="1.6"/>
<rect x="512.0" y="130.1" width="7.8" height="7.8" fill="none" stroke="rgb(228,32,32)" stroke-width="1.6"/>
</g>
<text x="48.60" y="19.80" font-size="17.5" text-anchor="start" font-weight="bold" font-style="normal" fill="#fff" font-family='"Liberation Sans", sans-serif' >a</text>
<text x="354.00" y="99.00" font-size="16.5" text-anchor="start" font-weight="bold" font-style="normal" fill="#fff" font-family='"Liberation Sans", sans-serif' >b</text>
<text x="251.80" y="81.60" font-size="17" text-anchor="start" font-weight="normal" font-style="italic" fill="rgb(212,40,40)" font-family='"Liberation Serif", serif' >x<tspan font-size="9" dy="-8.5" dx="0.6">2</tspan><tspan dy="8.5" dx="0.3">-y</tspan><tspan font-size="9" dy="-8.5" dx="0.3">2</tspan></text>
<text x="253.50" y="184.00" font-size="17" text-anchor="start" font-weight="normal" font-style="italic" fill="rgb(215,40,40)" font-family='"Liberation Serif", serif' >yz</text>
<text x="253.50" y="227.00" font-size="17" text-anchor="start" font-weight="normal" font-style="italic" fill="rgb(215,40,40)" font-family='"Liberation Serif", serif' >xz</text>
<rect x="51.0" y="338.6" width="202.6" height="483.69999999999993" fill="none" stroke="#555" stroke-width="1.5"/>
<line x1="185.7" y1="338.6" x2="185.7" y2="822.3" stroke="#555" stroke-width="1.4"/>
<line x1="84.75" y1="822.3" x2="84.75" y2="818.3" stroke="#222" stroke-width="1"/>
<line x1="84.75" y1="338.6" x2="84.75" y2="342.6" stroke="#222" stroke-width="1"/>
<line x1="118.50" y1="822.3" x2="118.50" y2="816.8" stroke="#222" stroke-width="1"/>
<line x1="118.50" y1="338.6" x2="118.50" y2="344.1" stroke="#222" stroke-width="1"/>
<line x1="152.25" y1="822.3" x2="152.25" y2="818.3" stroke="#222" stroke-width="1"/>
<line x1="152.25" y1="338.6" x2="152.25" y2="342.6" stroke="#222" stroke-width="1"/>
<line x1="219.75" y1="822.3" x2="219.75" y2="818.3" stroke="#222" stroke-width="1"/>
<line x1="219.75" y1="338.6" x2="219.75" y2="342.6" stroke="#222" stroke-width="1"/>
<text x="51.00" y="839.50" font-size="13" text-anchor="middle" font-weight="normal" font-style="normal" fill="#000" font-family='"Liberation Sans", sans-serif' >-20</text>
<text x="118.50" y="839.50" font-size="13" text-anchor="middle" font-weight="normal" font-style="normal" fill="#000" font-family='"Liberation Sans", sans-serif' >-10</text>
<text x="186.00" y="839.50" font-size="13" text-anchor="middle" font-weight="normal" font-style="normal" fill="#000" font-family='"Liberation Sans", sans-serif' >0</text>
<text x="253.50" y="839.50" font-size="13" text-anchor="middle" font-weight="normal" font-style="normal" fill="#000" font-family='"Liberation Sans", sans-serif' >10</text>
<text x="152.3" y="875" font-size="15" text-anchor="middle" font-family='"Liberation Sans", sans-serif'>Energy relative to <tspan font-style="italic">E</tspan><tspan font-size="10.5" dy="3" font-style="italic">F</tspan><tspan dy="-3"> (meV)</tspan></text>
<text transform="translate(24.9,576.5) rotate(-90)" font-size="16" text-anchor="middle" font-family='"Liberation Sans", sans-serif'>Intensity (arb. units)</text>
<text x="55.50" y="357.00" font-size="16" text-anchor="start" font-weight="bold" font-style="normal" fill="#000" font-family='"Liberation Sans", sans-serif' >c</text>
<text x="61.6" y="375" font-size="13" font-family='"Liberation Sans", sans-serif'><tspan font-style="italic">k</tspan> ~ 0.1 &#197;<tspan font-size="9" dy="-7">-1</tspan></text>
<text x="61.6" y="733" font-size="13" font-family='"Liberation Sans", sans-serif'><tspan font-style="italic">k</tspan> ~ 0 &#197;<tspan font-size="9" dy="-7">-1</tspan></text>
<rect x="370.0" y="374.4" width="215.60000000000002" height="389.6" fill="none" stroke="#444" stroke-width="1.3"/>
<line x1="493.30" y1="374.4" x2="493.30" y2="764.0" stroke="#444" stroke-width="1.3"/>
<line x1="400.81" y1="764.0" x2="400.81" y2="760.0" stroke="#222" stroke-width="1"/>
<line x1="400.81" y1="374.4" x2="400.81" y2="378.4" stroke="#222" stroke-width="1"/>
<line x1="431.64" y1="764.0" x2="431.64" y2="758.5" stroke="#222" stroke-width="1"/>
<line x1="431.64" y1="374.4" x2="431.64" y2="379.9" stroke="#222" stroke-width="1"/>
<line x1="462.47" y1="764.0" x2="462.47" y2="760.0" stroke="#222" stroke-width="1"/>
<line x1="462.47" y1="374.4" x2="462.47" y2="378.4" stroke="#222" stroke-width="1"/>
<line x1="524.13" y1="764.0" x2="524.13" y2="760.0" stroke="#222" stroke-width="1"/>
<line x1="524.13" y1="374.4" x2="524.13" y2="378.4" stroke="#222" stroke-width="1"/>
<line x1="554.96" y1="764.0" x2="554.96" y2="758.5" stroke="#222" stroke-width="1"/>
<line x1="554.96" y1="374.4" x2="554.96" y2="379.9" stroke="#222" stroke-width="1"/>
<text x="369.98" y="781.60" font-size="13" text-anchor="middle" font-weight="normal" font-style="normal" fill="#000" font-family='"Liberation Sans", sans-serif' >-20</text>
<text x="431.64" y="781.60" font-size="13" text-anchor="middle" font-weight="normal" font-style="normal" fill="#000" font-family='"Liberation Sans", sans-serif' >-10</text>
<text x="493.30" y="781.60" font-size="13" text-anchor="middle" font-weight="normal" font-style="normal" fill="#000" font-family='"Liberation Sans", sans-serif' >0</text>
<text x="554.96" y="781.60" font-size="13" text-anchor="middle" font-weight="normal" font-style="normal" fill="#000" font-family='"Liberation Sans", sans-serif' >10</text>
<text x="477.5" y="809.5" font-size="15.2" text-anchor="middle" font-family='"Liberation Sans", sans-serif'>Energy relative to <tspan font-style="italic">E</tspan><tspan font-size="10.5" dy="3" font-style="italic">F</tspan><tspan dy="-3"> (meV)</tspan></text>
<text transform="translate(350.5,569.3) rotate(-90)" font-size="15.2" text-anchor="middle" font-family='"Liberation Sans", sans-serif'>Intensity (arb. units)</text>
<text x="374.50" y="394.00" font-size="17" text-anchor="start" font-weight="bold" font-style="normal" fill="#000" font-family='"Liberation Sans", sans-serif' >d</text>
<text x="381" y="416" font-size="13" font-family='"Liberation Sans", sans-serif'><tspan font-style="italic">k</tspan> ~ 0.1 &#197;<tspan font-size="9" dy="-7">-1</tspan></text>
<text x="381" y="519" font-size="13" font-family='"Liberation Sans", sans-serif'><tspan font-style="italic">k</tspan> ~ 0.07 &#197;<tspan font-size="9" dy="-7">-1</tspan></text>
<text x="381" y="693.6" font-size="13" font-family='"Liberation Sans", sans-serif'><tspan font-style="italic">k</tspan> ~ 0 &#197;<tspan font-size="9" dy="-7">-1</tspan></text>
<defs><clipPath id="clipc"><rect x="51.5" y="339" width="201.6" height="483"/></clipPath><clipPath id="clipd"><rect x="370.5" y="374.9" width="214.6" height="388.6"/></clipPath></defs>
<g clip-path="url(#clipc)">
<path d="M52.2 388.0L52.2 388.4L52.9 391.6L52.7 392.5L54.6 390.2L55.1 392.4L55.3 391.9L56.4 393.6L55.8 392.2L56.7 392.7L56.4 394.0L58.2 391.1L59.7 388.4L58.6 394.5L59.3 393.0L60.0 385.4L60.5 391.0L61.1 388.6L62.0 390.6L63.0 391.6L63.2 394.1L63.8 389.8L70.1 394.0L70.9 392.6L70.7 390.8L71.4 390.0L74.7 390.8L73.8 391.9L73.5 389.4L76.2 394.4L76.9 391.1L77.6 388.6L77.8 393.0L78.6 390.7L79.5 391.6L80.9 391.0L81.1 393.5L82.5 392.8L81.9 391.0L83.4 392.3L84.0 389.7L84.5 396.5L86.7 392.2L86.8 393.4L89.0 390.4L89.6 391.0L89.9 396.6L91.1 394.5L89.6 392.8L91.0 390.5L91.8 396.8L91.1 391.6L92.3 392.7L94.2 393.9L94.3 395.1L94.7 394.4L94.9 394.3L97.0 399.3L95.8 395.3L98.3 396.9L100.0 393.0L101.0 398.2L101.1 393.0L102.2 395.4L102.3 402.0L101.5 395.3L102.5 397.0L105.3 395.6L106.7 395.9L108.0 401.3L112.1 399.7L111.6 400.5L111.6 400.3L113.6 398.1L114.0 401.2L113.5 404.1L115.5 400.6L116.0 403.5L116.5 405.0L116.7 400.4L118.6 405.3L120.4 399.9L120.7 405.5L120.5 403.7L122.6 402.3L123.9 405.2L124.3 404.6L124.3 402.5L125.1 408.9L126.6 409.4L126.9 405.1L127.3 406.4L127.3 406.4L127.2 406.9L128.0 404.9L128.6 410.2L131.3 409.2L133.0 407.4L135.1 409.0L134.6 408.5L133.9 409.7L135.7 412.1L137.4 412.7L137.7 409.1L138.6 411.7L140.1 410.3L141.4 408.7L140.0 410.2L144.1 413.0L144.7 410.2L144.7 411.9L145.2 414.4L146.1 412.0L148.3 412.2L150.9 411.9L154.3 409.9L154.0 413.1L154.3 413.7L156.0 413.7L154.2 411.3L154.5 411.3L155.9 415.2L155.3 411.2L157.0 412.6L156.9 407.0L157.6 410.8L156.9 410.7L159.4 408.7L161.1 414.7L161.4 410.1L162.6 406.3L163.0 410.2L164.5 408.7L165.8 408.2L167.5 410.8L165.9 407.7L166.7 407.3L167.1 405.7L167.7 404.9L168.7 406.0L170.0 404.1L170.4 402.4L170.7 403.3L170.6 403.7L171.3 403.2L173.1 400.6L173.6 397.2L174.3 401.3L174.5 399.7L174.9 398.2L177.0 397.2L177.7 395.2L177.8 397.9L178.5 396.3L178.5 393.5L178.6 397.6L178.1 397.8L179.4 396.0L179.8 396.8L180.5 392.0L181.0 397.8L179.6 395.5L180.8 396.8L183.0 387.4L183.3 388.5L185.0 390.3L184.4 390.9L185.5 395.3L184.7 390.9L184.7 388.2L185.4 391.9L187.6 389.8L187.9 386.3L188.3 391.2L188.5 392.1L189.7 386.8L190.2 383.2L196.2 388.0L196.2 386.9L197.6 383.9L197.5 381.7L201.7 384.8L201.0 388.4L203.6 387.1L203.4 372.7L206.1 391.5L206.6 398.1L206.5 390.4L207.8 394.1L212.1 390.3L211.5 403.1L212.5 390.4L212.4 399.5L211.9 400.3L213.2 389.7L214.0 396.1L213.2 380.8L213.8 393.3L215.8 380.6L215.6 394.5L216.7 387.8L216.7 389.4L215.8 384.7L216.9 392.6L218.0 395.9L219.1 384.1L219.7 388.3L220.9 385.7L223.5 399.8L222.6 406.0L224.9 391.9L225.1 389.1L226.9 391.2L226.5 383.4L228.1 378.2L227.8 384.1L228.4 392.4L228.7 387.9L228.5 383.2L229.5 382.1L228.8 391.0L229.6 388.4L229.4 397.7L232.4 386.4L233.8 388.8L233.4 389.2L233.7 392.7L235.4 404.5L235.5 399.5L236.6 390.3L235.4 400.6L236.5 399.6L236.5 383.7L239.6 409.6L238.9 405.8L240.7 386.7L242.5 383.2L242.3 372.1L242.7 399.3L243.5 394.6L244.6 417.1L246.3 417.1L245.5 401.8L246.8 399.3L248.4 389.8L248.1 408.3L249.1 386.5L249.6 407.9L251.3 406.3L251.4 410.2" fill="none" stroke="none" marker-start="url(#m2)" marker-mid="url(#m2)" marker-end="url(#m2)"/>
<path d="M52.2 420.5L52.2 417.9L52.2 418.7L54.6 418.9L54.2 418.7L54.2 418.1L54.7 420.4L57.2 422.4L56.7 421.6L57.2 419.1L57.7 420.7L58.7 421.2L57.7 416.9L57.9 423.2L58.0 419.5L59.6 418.3L61.0 426.8L61.5 419.1L62.6 420.7L62.1 419.8L63.1 423.6L62.7 420.9L64.1 418.4L65.0 416.9L65.3 420.5L66.0 426.0L66.9 419.5L66.8 424.7L68.5 420.2L70.8 419.0L69.4 417.3L70.4 422.0L70.9 423.0L72.0 422.3L71.3 418.0L72.6 421.4L75.8 424.1L77.0 422.2L76.1 424.4L78.3 428.2L77.3 420.5L78.7 429.5L78.6 424.5L79.2 423.0L80.2 423.0L81.5 423.8L82.2 422.1L82.4 422.9L82.9 427.2L86.3 426.8L86.8 426.0L87.5 425.2L89.6 424.0L88.7 426.5L89.9 425.7L91.0 427.4L91.1 429.6L91.1 422.1L92.0 422.8L92.4 429.5L91.6 424.3L92.7 431.2L93.3 427.4L94.3 433.0L95.6 428.5L97.2 430.2L98.4 426.7L100.4 427.6L102.0 430.0L100.8 428.0L102.4 429.9L102.0 432.6L101.4 428.5L103.6 428.6L103.1 430.9L104.4 430.2L104.5 432.3L106.2 431.5L108.7 429.7L108.8 427.9L109.0 433.2L109.6 431.1L109.6 432.9L109.8 428.8L110.6 431.5L111.4 433.9L111.6 435.7L113.2 436.1L114.5 437.0L113.9 434.3L114.3 436.9L115.1 435.6L115.4 434.8L117.4 434.1L118.7 438.3L118.3 436.3L118.7 434.7L119.0 436.0L118.9 440.5L118.5 433.4L120.8 434.6L122.1 440.9L126.9 436.8L126.6 443.1L126.7 438.9L128.1 441.4L129.0 443.6L130.0 444.1L129.9 443.8L132.0 442.6L133.1 442.4L132.3 442.6L133.6 446.8L134.1 444.2L134.5 446.5L136.1 440.0L137.2 445.1L138.6 446.6L138.0 445.5L138.9 451.3L139.3 444.1L140.2 448.5L141.5 449.9L142.7 446.6L142.3 450.3L143.8 449.9L144.4 455.8L145.2 452.8L146.8 449.9L147.2 452.2L150.5 452.1L153.1 450.5L153.8 452.9L153.7 452.6L153.2 455.0L152.6 448.4L154.3 448.5L155.3 449.8L157.1 452.8L156.1 453.7L156.6 450.9L156.2 451.8L161.1 450.1L160.5 446.3L160.8 447.9L161.8 451.1L161.4 450.5L164.8 449.1L165.4 447.9L165.7 440.1L168.6 444.8L168.2 444.5L169.1 440.5L169.1 446.7L168.2 442.1L172.1 443.1L173.5 439.9L172.4 439.1L172.8 440.2L174.6 435.6L175.1 437.4L175.7 434.6L177.0 429.7L176.4 430.6L177.0 429.2L178.4 425.1L179.9 424.8L181.0 429.2L179.4 425.0L180.6 428.9L185.0 421.2L184.0 420.1L185.8 416.6L185.7 419.0L187.4 414.2L186.8 418.9L188.3 418.0L188.2 409.4L191.0 412.7L192.0 401.9L193.4 412.6L194.8 400.0L194.7 403.0L195.1 412.3L194.6 406.9L196.1 407.6L198.5 393.4L199.9 406.0L201.2 396.9L204.6 407.9L203.5 399.1L202.9 398.3L205.1 389.5L209.5 392.4L211.4 397.9L212.1 407.1L212.8 406.7L214.0 396.5L213.5 390.4L214.4 389.8L214.0 409.9L214.9 400.3L214.9 390.8L217.9 409.0L216.2 402.1L219.7 403.9L223.6 405.4L225.4 401.9L226.1 395.5L226.7 386.2L226.9 388.7L228.7 394.0L227.9 406.4L231.5 396.9L231.2 419.0L232.5 418.4L233.7 399.5L232.7 418.0L231.9 403.6L234.0 399.9L235.6 418.9L233.4 398.7L236.4 400.2L237.2 412.2L238.2 413.7L238.4 413.1L240.9 407.8L241.7 428.5L240.9 421.5L241.7 409.2L242.3 421.2L244.1 412.4L243.9 414.4L244.1 434.3L244.5 457.9L245.6 442.4L245.7 428.7L245.2 405.5L246.1 427.3L248.1 400.1L247.4 447.3L247.4 429.9L247.8 427.0L249.5 443.1L251.7 455.8L251.3 463.6L252.5 436.6L251.0 407.5L250.3 450.3L252.5 424.4" fill="none" stroke="none" marker-start="url(#m3)" marker-mid="url(#m3)" marker-end="url(#m3)"/>
<path d="M52.3 446.1L53.2 448.4L53.3 447.0L54.2 446.4L53.6 446.4L54.6 452.3L55.9 448.4L54.5 449.0L55.1 449.9L58.2 451.0L57.9 447.4L58.8 449.1L60.1 446.7L60.3 444.5L61.7 448.3L62.6 450.1L63.7 450.9L64.0 448.3L65.1 447.2L66.4 448.0L67.7 452.6L67.7 453.9L69.1 448.2L70.1 451.5L70.5 451.0L70.8 453.0L72.1 452.6L74.2 452.7L73.8 454.3L75.3 456.4L77.0 455.3L81.2 453.5L81.3 454.2L82.6 453.5L83.7 460.1L83.0 457.5L84.2 456.2L84.4 459.9L86.0 457.6L86.6 454.3L87.4 456.9L90.5 459.4L89.9 457.4L90.9 461.6L91.9 460.7L92.3 457.6L91.7 458.2L92.2 458.8L92.6 461.5L92.4 458.8L93.8 460.7L94.7 459.0L95.1 459.1L97.3 459.4L97.3 464.1L98.8 461.3L97.5 462.2L98.2 462.3L98.2 464.9L98.9 466.9L99.0 464.0L99.6 466.5L101.4 462.9L100.4 465.9L100.4 462.5L101.2 463.6L102.1 463.1L102.2 463.1L104.1 465.4L104.6 460.8L105.0 464.1L105.1 463.2L105.8 463.1L106.0 466.0L107.2 467.3L107.8 463.1L107.8 467.4L109.9 469.6L109.2 465.4L111.0 471.4L109.8 466.6L110.5 467.0L110.8 464.9L110.5 465.9L112.7 471.8L113.8 469.8L114.1 472.3L114.4 470.9L116.8 475.6L116.9 469.6L117.4 473.7L118.9 476.8L118.3 471.7L120.3 471.3L121.9 474.5L119.1 474.4L120.7 472.9L120.8 472.1L122.0 474.3L121.7 475.0L123.2 478.0L123.1 475.4L125.0 475.2L125.9 474.2L126.4 479.8L126.0 478.8L128.0 481.5L126.8 479.5L129.4 477.3L129.0 483.4L128.9 482.6L130.8 480.4L130.5 482.1L134.0 484.2L132.5 479.7L133.5 483.4L135.7 478.1L135.0 483.7L135.7 488.2L138.1 483.1L138.5 482.8L139.2 486.2L140.9 484.5L142.3 488.2L142.3 487.5L142.4 489.7L141.9 490.6L141.7 486.0L143.4 486.0L143.4 490.1L143.6 487.0L143.8 485.5L143.7 487.4L148.1 488.2L149.1 486.7L151.4 485.1L152.6 485.3L151.5 489.5L152.7 485.7L151.5 492.0L153.3 487.6L156.1 488.8L155.2 486.8L156.5 485.2L154.5 486.3L155.8 487.6L156.4 491.9L158.0 487.4L158.6 490.7L160.2 489.0L160.2 486.0L162.9 485.0L163.4 487.2L166.4 485.9L167.4 481.5L168.5 480.9L169.9 481.6L170.1 481.5L170.0 479.2L171.8 479.5L177.1 470.9L174.8 473.1L177.5 468.7L182.3 466.8L182.6 460.0L183.9 458.3L184.8 459.5L185.9 453.9L185.2 453.9L186.0 457.2L186.1 449.9L187.5 448.8L187.0 453.5L190.3 446.1L190.5 445.8L191.7 446.8L191.8 444.1L191.5 445.3L193.2 441.8L193.0 434.9L194.0 427.2L195.3 430.3L196.3 425.9L196.6 431.0L196.6 426.1L196.9 423.9L197.5 428.3L198.9 419.2L199.6 421.0L200.1 433.9L201.5 419.8L202.3 413.0L204.4 423.1L204.7 419.3L208.9 417.5L208.4 412.6L209.7 411.6L208.5 410.2L208.5 407.9L211.1 419.3L212.6 409.6L211.7 417.7L214.2 414.6L216.0 411.9L215.5 403.7L216.9 420.4L219.1 420.1L220.2 421.4L219.4 426.1L222.1 432.3L221.4 428.6L221.0 410.5L220.9 415.3L220.9 429.2L221.4 422.1L223.0 422.3L223.2 418.8L223.4 440.4L226.2 420.2L229.5 441.8L229.1 436.8L229.8 430.9L230.7 448.0L232.3 442.3L232.3 427.0L233.1 430.6L232.8 430.8L233.8 452.0L234.0 448.3L233.5 441.0L236.5 447.9L239.6 455.1L239.3 447.4L240.2 446.3L241.5 451.0L241.6 432.5L241.6 457.5L241.7 466.8L242.0 462.8L243.3 459.0L243.5 444.7L245.6 452.7L244.2 465.1L248.0 467.7L247.6 468.2L248.1 464.9L249.6 465.5L248.7 457.8L251.6 480.0L251.6 468.1" fill="none" stroke="none" marker-start="url(#m4)" marker-mid="url(#m4)" marker-end="url(#m4)"/>
<path d="M52.2 469.4L52.9 472.4L53.1 469.5L55.7 472.5L57.7 472.9L57.3 474.9L57.9 473.7L60.5 471.5L60.1 473.7L61.2 473.8L63.2 471.9L62.3 473.0L65.0 471.7L64.7 471.1L66.4 476.6L69.7 474.4L71.8 478.1L71.8 476.9L74.5 481.2L75.1 480.7L79.0 482.5L79.0 483.8L81.8 483.3L82.2 480.7L83.1 483.9L82.7 484.8L86.3 485.1L87.0 486.0L85.8 482.9L87.4 486.3L88.1 490.7L88.9 484.5L89.0 485.3L90.6 493.2L90.8 489.1L90.8 491.6L91.0 490.8L92.5 485.1L94.3 492.7L94.8 490.3L95.9 488.5L95.7 491.7L96.1 491.1L96.3 491.6L96.3 488.0L97.0 496.2L98.9 491.7L99.4 494.4L100.0 489.2L99.8 490.5L100.2 494.4L102.8 495.3L101.5 495.3L101.5 492.1L102.6 492.4L103.3 492.8L103.1 494.8L103.3 492.4L104.2 496.5L105.2 498.1L105.4 495.3L106.5 493.0L105.4 499.0L106.3 494.2L106.9 493.5L108.6 500.1L109.5 497.6L109.3 496.6L110.4 498.9L114.1 503.6L116.3 508.1L118.7 510.2L122.0 509.4L123.1 505.3L124.6 511.3L126.7 513.6L128.0 511.6L126.9 512.8L128.6 515.2L128.2 511.0L129.2 508.9L130.0 514.0L130.4 510.6L131.1 516.9L132.3 512.2L132.5 515.1L132.2 513.1L133.6 512.3L134.3 514.5L134.4 516.3L134.5 516.0L135.5 511.1L135.8 514.0L135.9 515.6L136.8 513.9L137.2 517.0L137.8 518.0L140.7 515.8L140.5 522.2L141.8 520.7L141.2 521.7L142.2 523.0L143.4 518.4L144.0 520.4L145.3 518.9L144.4 517.8L145.6 521.2L144.9 521.9L146.8 522.1L145.8 523.6L147.9 520.5L149.7 516.7L150.3 522.7L154.3 518.6L154.5 522.3L154.8 518.3L154.6 522.3L155.9 518.3L155.3 523.3L155.3 514.1L157.9 517.1L160.2 519.8L162.4 516.0L162.4 515.3L164.3 515.9L163.8 518.1L164.8 513.6L164.7 512.2L166.2 513.7L165.6 514.1L169.0 508.9L171.2 510.0L171.0 512.5L171.9 512.0L172.4 507.3L174.1 504.5L174.0 510.1L173.8 508.5L174.0 505.5L175.5 507.2L175.2 504.4L176.6 504.7L178.0 500.8L177.9 501.7L178.8 503.9L178.7 500.2L178.4 497.4L179.6 494.6L179.8 494.4L180.4 494.0L181.5 494.7L184.5 492.3L184.7 490.3L185.9 485.4L185.7 486.0L186.2 484.8L186.7 485.2L186.3 482.2L186.2 485.2L189.3 478.3L191.2 462.8L190.6 475.4L190.4 481.9L193.7 475.8L193.6 471.6L193.5 468.7L194.1 469.0L195.7 463.8L195.5 458.7L196.3 461.2L199.9 460.8L201.8 443.5L202.1 446.1L203.8 447.7L204.4 451.8L205.3 451.1L205.5 449.8L205.5 441.6L208.3 446.1L208.9 454.9L208.9 443.0L209.3 443.6L210.5 449.8L210.2 435.0L212.7 448.3L214.6 437.5L214.0 436.5L213.2 435.9L213.8 445.0L214.6 435.2L215.1 444.1L214.4 439.3L215.5 438.8L216.6 441.6L217.7 439.3L220.0 445.4L219.6 442.6L220.5 448.9L221.9 433.1L222.5 448.1L222.7 450.0L224.5 437.0L223.2 449.5L224.4 451.2L223.7 434.1L225.4 436.4L225.1 449.2L227.1 455.1L227.1 435.9L226.6 446.7L228.0 450.8L227.7 454.5L229.9 452.6L228.2 448.9L229.8 461.2L230.7 464.2L230.1 453.6L231.8 460.7L231.6 462.5L230.8 472.0L232.2 471.2L232.8 464.2L233.6 478.9L233.1 485.8L233.5 474.5L236.2 468.9L236.4 476.5L236.8 477.8L236.5 473.2L236.7 490.4L238.0 485.0L240.1 478.1L241.6 469.6L240.7 455.7L241.9 471.6L241.0 470.8L242.4 478.3L242.7 490.8L243.4 486.0L243.5 482.3L243.6 488.8L245.1 486.5L244.8 491.3L246.0 523.2L247.0 492.3L246.3 490.0L251.2 510.5L251.3 459.7L252.2 498.6L252.5 503.4" fill="none" stroke="none" marker-start="url(#m5)" marker-mid="url(#m5)" marker-end="url(#m5)"/>
<path d="M52.6 490.3L52.2 487.5L52.2 491.0L52.4 487.0L52.4 489.9L53.9 492.3L53.6 490.8L56.1 488.2L57.3 491.6L57.7 491.6L60.1 494.9L59.7 491.0L60.4 491.4L62.3 494.0L64.4 493.7L65.8 492.6L69.9 495.6L70.3 497.5L70.8 497.5L70.8 495.7L70.6 497.2L71.2 498.0L71.1 493.5L74.7 496.6L74.1 496.0L77.1 497.5L77.8 499.4L76.6 501.1L78.7 501.9L79.4 502.6L79.1 502.3L80.6 503.1L83.9 510.2L84.0 507.0L85.5 505.0L84.2 504.3L84.7 506.7L84.9 512.1L87.5 509.1L86.7 505.8L88.2 509.3L86.6 506.6L88.7 510.9L86.6 508.1L88.1 512.2L88.6 511.8L88.6 508.7L90.8 513.4L90.6 506.3L91.6 515.3L91.8 508.4L92.7 511.8L92.6 511.0L94.0 511.8L94.8 511.8L96.0 513.5L96.4 515.5L96.9 516.0L97.4 517.5L98.9 519.8L98.8 516.4L100.2 519.1L99.4 517.2L101.4 514.0L103.1 520.8L104.6 517.3L105.7 520.1L105.2 522.4L104.7 520.4L108.2 522.3L110.4 526.2L111.1 527.7L112.2 525.2L112.5 525.9L112.5 528.3L113.9 528.2L116.5 529.3L116.1 534.1L115.7 530.2L118.1 531.9L118.8 527.6L120.7 536.0L121.8 535.0L122.9 538.8L125.4 536.8L124.8 537.9L124.2 537.9L126.0 538.9L126.8 537.4L127.6 542.7L126.8 536.9L128.2 537.0L129.1 542.9L128.7 540.3L130.8 543.5L132.2 542.6L132.8 546.4L133.6 544.4L136.2 547.0L136.0 547.1L136.7 546.2L136.7 547.9L136.9 546.3L136.7 548.8L139.1 547.0L139.8 552.6L140.1 553.5L141.0 550.6L144.6 550.9L145.4 553.5L145.3 554.4L145.9 552.6L147.2 554.9L147.7 554.7L147.8 552.1L149.5 551.9L149.1 549.4L149.9 559.5L150.2 551.7L152.4 557.3L152.9 555.9L155.0 553.7L153.9 554.7L155.1 553.4L156.1 555.4L154.9 554.8L156.9 555.5L159.3 553.1L159.9 552.4L162.0 552.9L163.4 552.9L164.4 549.8L166.2 550.1L165.6 546.3L166.0 548.0L167.0 553.1L168.1 550.9L170.4 554.2L169.8 551.9L173.1 545.6L173.9 546.2L175.5 544.9L177.8 543.9L177.8 542.6L177.8 542.7L179.2 543.2L178.9 543.0L179.0 538.9L181.1 538.1L181.4 535.9L181.3 532.5L182.7 536.7L181.7 533.0L182.4 536.1L183.1 537.2L184.0 529.9L182.9 534.7L183.9 533.8L185.7 529.1L187.2 518.5L188.5 525.4L188.3 526.4L188.2 518.4L189.3 514.6L189.0 512.7L194.2 504.6L196.1 511.2L196.7 496.1L197.0 490.2L199.4 484.4L197.9 495.7L199.4 492.1L199.7 493.4L199.2 486.6L201.6 488.3L200.5 483.4L201.2 492.3L202.3 491.2L204.4 488.4L204.5 486.5L203.6 477.7L205.1 486.0L206.6 488.9L206.2 481.9L206.7 485.3L206.5 478.8L206.7 484.8L206.7 481.8L209.9 484.2L210.3 482.6L212.3 474.4L211.9 472.0L210.6 474.1L213.1 479.4L213.4 470.1L213.1 472.2L213.6 477.7L213.3 493.3L215.1 483.0L213.9 464.5L215.1 482.3L217.8 482.4L216.6 477.1L217.7 460.4L218.0 473.5L217.6 482.6L219.1 493.6L218.5 488.1L219.5 479.4L221.2 481.9L222.1 488.6L223.0 490.1L223.8 498.1L224.8 467.9L226.1 490.5L225.7 489.1L227.6 488.3L227.3 491.0L229.4 491.2L228.2 493.2L230.2 505.0L231.1 503.3L229.9 495.5L232.6 516.6L234.0 500.1L234.0 506.6L233.5 513.6L234.4 514.1L234.6 521.7L235.4 488.2L235.3 502.9L237.0 492.9L237.1 516.3L240.5 525.4L242.8 543.6L241.4 518.7L243.7 515.3L242.7 530.6L243.9 515.1L244.4 513.9L244.7 506.5L246.1 513.5L247.3 529.1L247.2 512.3L246.1 525.8L247.8 510.9L248.6 521.3L249.6 537.9L251.0 515.7L252.4 512.4" fill="none" stroke="none" marker-start="url(#m6)" marker-mid="url(#m6)" marker-end="url(#m6)"/>
<path d="M52.2 516.0L54.6 510.0L54.6 512.8L54.6 514.0L54.6 517.0L54.1 516.0L55.0 514.8L56.8 512.6L58.0 513.6L60.0 509.3L60.8 511.9L60.6 512.6L60.8 512.7L60.5 515.9L60.0 513.8L61.8 514.5L62.4 512.8L62.6 510.4L64.5 512.5L65.1 515.8L65.8 515.7L67.8 516.9L72.7 517.3L71.5 515.0L73.3 524.5L73.2 519.6L74.2 523.5L74.5 520.1L75.8 523.5L75.9 526.7L78.0 521.8L79.2 529.8L80.2 526.4L79.4 523.7L79.6 525.2L80.6 526.8L80.5 525.4L81.3 524.1L81.4 526.7L81.7 526.0L81.9 530.7L82.6 530.0L82.3 528.6L83.6 531.7L82.4 531.9L85.2 528.2L87.3 530.1L87.6 533.9L89.5 534.1L90.6 534.1L89.2 535.2L92.1 534.6L91.4 534.8L91.4 534.4L91.6 538.3L89.9 533.6L91.5 535.2L94.4 533.4L93.0 539.2L94.4 539.5L96.1 537.0L95.2 535.3L95.4 535.9L95.6 541.3L95.9 536.8L98.1 541.2L98.0 542.7L98.4 538.2L98.8 541.7L100.7 542.4L101.1 541.6L100.9 546.0L100.8 541.3L102.2 544.4L102.1 543.4L103.4 547.1L103.4 541.7L104.0 545.1L104.4 545.4L104.0 545.2L104.9 546.3L104.9 547.5L106.6 546.9L108.3 546.2L108.2 547.5L108.4 546.5L108.7 545.8L110.3 549.3L110.5 551.4L111.0 553.0L111.3 552.4L111.1 551.4L111.1 552.4L112.2 552.7L112.0 554.4L112.4 549.8L113.2 552.5L115.8 555.2L115.8 557.8L117.6 556.4L117.4 560.5L116.8 558.2L117.7 559.1L117.5 558.5L118.1 558.4L120.7 560.9L119.6 561.8L123.3 563.0L124.7 563.5L124.3 566.5L125.6 567.8L125.2 564.2L127.3 565.8L127.6 565.2L128.4 573.0L129.3 571.4L133.3 575.2L135.1 577.0L135.6 580.6L136.3 579.7L136.2 580.3L139.9 583.2L141.5 580.8L139.7 580.6L139.5 583.8L140.7 582.2L141.6 581.9L143.8 586.0L144.3 587.4L143.7 587.2L144.6 589.0L147.0 586.0L147.3 589.7L148.8 590.2L148.5 585.8L149.0 586.3L150.5 587.8L151.3 591.2L151.5 590.1L152.6 590.3L151.2 590.8L154.3 589.8L155.0 591.3L155.0 587.8L157.8 589.2L158.2 591.5L158.6 589.3L157.8 588.0L159.8 591.5L159.4 586.7L161.3 590.2L161.5 592.2L161.5 585.8L161.8 590.7L161.5 590.6L162.9 593.4L161.9 589.1L162.2 593.8L164.7 591.4L163.9 586.6L164.2 587.8L167.4 587.7L166.3 588.2L166.6 589.0L168.3 585.5L166.7 584.5L167.0 585.8L169.0 580.4L169.0 582.3L168.9 583.1L169.6 581.5L170.1 588.9L169.3 584.7L169.7 582.8L171.5 583.0L172.6 580.0L173.2 576.5L173.7 578.3L174.7 573.9L177.4 570.9L177.6 574.2L181.7 563.3L180.8 564.4L183.4 558.2L185.6 550.2L186.0 551.9L185.8 552.1L188.6 547.7L190.2 545.6L189.0 541.5L190.7 536.1L190.1 542.8L190.7 538.3L190.8 531.5L192.5 543.5L192.5 536.7L192.2 531.6L194.0 522.7L198.5 521.4L197.7 523.4L198.6 513.4L198.1 519.1L200.0 507.9L199.2 523.0L200.0 518.3L200.1 522.1L203.1 522.2L203.1 509.6L205.5 496.2L207.0 515.9L207.5 505.1L207.6 497.7L211.3 512.5L212.2 504.3L212.5 521.8L213.8 515.4L215.4 497.0L216.1 511.4L216.7 507.6L220.4 520.1L219.0 512.9L221.1 525.2L221.7 521.7L222.4 535.7L222.8 523.8L224.1 515.8L226.0 522.1L227.6 517.4L227.9 517.3L227.7 528.9L229.2 532.5L230.8 526.5L230.7 532.1L231.9 517.5L230.9 527.2L233.7 523.3L232.9 526.7L234.5 543.2L234.9 516.9L235.5 539.7L237.0 537.1L236.7 535.1L239.2 544.0L240.0 565.7L241.4 566.5L242.9 571.6L243.4 561.5L248.1 555.6L250.1 548.6L252.5 557.8" fill="none" stroke="none" marker-start="url(#m7)" marker-mid="url(#m7)" marker-end="url(#m7)"/>
<path d="M52.2 551.9L52.3 544.1L52.2 546.8L53.0 543.9L54.8 545.2L54.7 542.6L55.8 544.7L57.1 535.1L59.6 539.7L63.5 541.6L63.1 542.6L64.2 541.3L65.1 540.1L65.4 545.0L65.6 537.1L65.4 540.7L65.9 543.9L66.3 541.1L67.1 542.9L69.8 543.5L70.9 542.7L72.2 544.3L75.0 542.2L76.2 545.6L77.8 546.8L78.3 547.5L79.8 546.3L82.4 548.3L81.6 545.9L83.1 553.0L83.4 549.3L83.4 548.6L83.9 546.7L85.2 550.7L84.5 554.1L84.9 555.9L83.8 547.8L85.9 556.3L86.0 551.8L87.7 551.2L89.5 554.7L88.9 556.1L90.3 558.6L91.7 556.3L92.0 556.8L93.1 559.3L94.9 562.0L96.2 564.0L96.2 561.7L96.1 563.2L96.4 564.2L96.3 563.9L97.5 563.1L97.7 561.9L98.9 562.9L98.9 562.7L100.1 568.9L100.2 562.3L100.1 568.3L102.8 570.7L103.8 570.9L104.5 569.6L105.5 571.5L105.1 572.3L106.5 572.8L106.2 569.5L106.8 571.6L108.3 574.5L109.7 574.3L109.2 577.9L110.3 578.3L110.9 582.3L111.7 578.2L111.7 578.8L112.4 583.4L113.8 582.9L114.3 579.1L113.9 582.8L114.5 580.2L114.2 583.7L116.6 590.1L117.6 586.3L118.9 589.7L119.5 589.7L118.3 592.1L119.1 588.7L120.9 590.4L119.4 591.6L120.8 589.8L120.8 590.1L120.1 592.5L122.8 595.4L122.3 595.4L125.5 596.4L126.2 599.0L127.5 599.1L127.0 603.0L131.1 602.1L131.8 603.9L131.3 609.0L133.7 607.2L133.4 606.3L135.1 608.1L135.5 609.1L134.9 609.2L134.6 613.8L137.5 610.3L138.7 609.8L138.2 616.0L138.8 614.5L140.2 615.8L141.1 615.2L141.2 615.9L139.9 616.5L142.1 616.6L142.7 613.0L143.0 617.0L143.2 615.2L143.5 618.2L146.3 620.2L147.5 623.3L149.2 616.3L150.6 619.5L151.6 619.7L157.6 620.5L162.1 623.2L161.4 619.7L161.5 619.8L162.3 622.6L164.4 617.7L165.1 616.5L166.0 616.9L168.0 618.5L168.8 614.1L170.8 615.1L173.0 611.6L173.6 614.2L175.8 609.9L174.8 613.5L176.4 608.4L177.1 605.0L176.6 606.5L177.1 604.2L177.9 601.4L180.4 606.8L180.1 603.6L181.5 601.5L182.0 599.8L182.5 594.0L181.5 594.8L183.4 591.2L184.2 591.4L186.5 591.4L185.7 585.4L187.3 584.5L186.2 583.2L185.7 585.2L187.9 584.0L188.2 583.0L189.2 581.0L191.1 572.5L191.6 571.1L192.9 576.0L192.1 571.3L193.5 564.2L194.1 572.0L193.6 565.9L194.8 568.3L196.9 559.6L197.2 566.6L198.3 566.2L198.2 558.5L197.6 556.9L198.0 555.4L199.0 558.2L200.4 557.1L200.5 538.4L200.9 544.1L202.2 546.9L201.6 558.0L203.5 551.0L204.8 539.0L205.3 548.7L208.1 544.2L205.3 545.9L206.3 542.8L206.5 545.9L207.3 541.9L206.7 545.0L207.5 543.0L208.1 552.8L207.9 545.7L209.9 549.0L209.4 543.9L209.1 552.2L211.2 549.3L214.3 546.4L215.5 557.4L215.6 549.6L217.3 570.8L219.9 557.4L220.7 558.3L220.9 558.7L221.5 569.3L222.9 563.2L224.8 562.1L225.3 556.2L225.9 579.4L225.1 577.6L225.7 580.8L229.6 572.9L231.5 569.5L232.0 577.8L232.8 575.0L232.3 569.1L233.0 571.1L233.2 580.6L234.3 591.7L233.9 601.5L234.2 571.6L236.0 584.0L235.4 559.6L235.3 599.4L236.5 589.2L237.6 582.3L238.3 590.4L239.2 592.2L239.6 589.4L238.8 592.3L239.5 593.6L240.9 579.6L241.3 591.4L240.6 593.2L241.7 582.9L243.2 596.6L241.6 592.5L243.3 599.9L245.2 606.2L246.4 610.2L247.1 581.8L247.8 622.9L248.7 597.2L248.6 613.0L248.8 620.0L248.5 614.7L249.1 620.4L249.0 625.0L251.4 609.1L252.5 598.9L252.5 614.2" fill="none" stroke="none" marker-start="url(#m8)" marker-mid="url(#m8)" marker-end="url(#m8)"/>
<path d="M52.2 569.2L52.2 571.5L52.2 569.4L53.4 564.7L52.9 566.8L53.0 567.6L54.5 564.5L54.7 564.0L54.9 562.4L55.9 562.0L56.9 563.5L56.6 559.6L57.9 557.1L57.5 560.7L63.0 556.3L63.0 560.5L66.7 558.4L67.2 559.9L68.4 564.0L69.2 559.6L69.1 560.8L70.8 561.6L72.5 563.5L72.9 559.5L73.3 563.9L74.1 561.9L73.3 562.3L75.1 563.6L75.8 564.2L75.7 563.3L76.2 566.5L77.9 567.0L78.1 565.0L78.7 566.3L80.0 567.3L81.1 566.3L81.5 568.5L82.6 564.7L81.9 567.9L82.4 565.5L83.1 565.3L84.6 569.2L84.2 569.7L85.1 570.0L84.8 566.8L84.6 568.5L85.1 567.3L85.0 567.9L87.8 571.2L89.2 571.2L89.1 572.9L89.6 572.0L89.7 567.6L91.0 576.9L93.2 574.8L93.5 572.9L93.6 578.4L93.9 580.0L94.3 573.6L94.2 575.1L97.3 574.1L97.4 577.2L98.8 578.2L99.3 580.0L98.7 577.9L99.7 579.0L101.6 586.7L101.4 586.3L101.9 583.7L101.5 584.1L105.4 585.3L105.4 587.0L105.1 586.9L107.1 588.4L109.0 592.7L107.8 588.7L108.1 590.3L108.3 587.9L109.4 592.6L109.2 589.2L109.9 588.2L109.5 590.2L109.7 592.0L109.2 590.8L110.6 597.3L114.5 597.9L113.8 597.3L114.2 597.7L114.9 600.5L115.0 599.0L114.7 603.6L115.7 600.8L118.8 606.4L120.6 610.4L121.3 609.0L122.1 607.0L121.8 606.7L122.6 610.3L124.9 614.8L125.9 620.4L125.8 613.9L126.5 615.8L126.5 616.4L127.5 622.2L127.9 618.7L129.5 619.7L129.6 621.8L132.7 619.1L133.7 628.4L131.6 626.3L133.1 628.7L133.4 623.9L134.8 630.6L133.7 630.2L133.9 634.5L134.1 629.3L137.6 635.5L138.7 636.2L139.2 634.7L141.7 633.0L141.9 640.4L142.9 639.0L143.4 642.9L143.2 639.9L143.7 637.0L145.5 642.1L147.3 643.0L147.6 644.3L148.4 645.5L150.3 645.1L150.9 641.5L150.7 642.4L152.5 646.2L151.9 646.5L152.7 648.9L152.8 646.9L153.9 649.1L155.5 648.2L157.4 646.9L159.5 651.7L160.1 647.6L159.4 647.5L158.7 648.1L160.0 649.8L160.0 646.9L162.7 647.7L162.3 645.5L164.3 646.7L165.3 640.7L165.5 644.0L169.5 641.3L169.6 641.3L171.1 640.0L171.5 642.8L170.4 640.5L175.0 632.7L174.9 634.2L176.1 636.8L176.3 631.9L176.8 630.7L177.4 631.8L178.3 625.7L180.7 623.3L181.4 625.0L183.0 625.2L184.5 615.1L184.5 619.2L184.7 613.9L185.3 619.3L186.7 613.8L186.6 611.5L188.2 609.1L187.4 611.1L189.3 610.5L191.6 604.6L192.8 604.6L195.2 599.9L196.8 597.8L196.3 602.7L197.4 598.0L197.7 592.3L197.4 593.2L199.7 583.6L200.8 581.8L200.4 587.7L202.3 587.9L202.0 585.9L203.4 586.3L203.6 592.9L203.1 588.7L204.4 577.2L204.2 590.6L206.7 590.0L206.6 585.9L207.2 586.6L208.1 581.9L207.9 587.9L210.2 581.7L211.0 584.2L213.3 590.9L214.4 585.8L217.1 586.3L217.2 597.7L219.4 585.3L218.5 595.0L221.1 590.1L222.1 586.2L222.9 587.2L223.3 595.5L224.1 604.8L223.7 584.0L224.7 582.1L225.0 603.9L224.9 599.7L227.7 595.9L227.5 582.0L226.9 605.7L228.9 585.3L229.9 607.4L231.7 606.5L231.3 597.5L234.2 622.1L233.5 607.3L234.3 603.2L235.3 609.0L235.1 600.8L235.6 595.9L237.3 610.4L236.9 608.7L237.7 607.3L236.3 617.7L236.0 602.9L239.6 611.4L242.1 607.0L242.4 606.3L244.0 612.7L245.1 615.4L246.1 610.0L246.5 620.0L245.8 615.7L247.0 624.7L246.8 616.6L247.4 639.8L248.9 609.9L248.6 624.8L247.3 624.4L249.8 625.5L251.1 624.0L252.0 644.4L252.5 605.7" fill="none" stroke="none" marker-start="url(#m9)" marker-mid="url(#m9)" marker-end="url(#m9)"/>
<path d="M52.2 606.7L53.8 602.6L53.0 598.7L54.7 597.0L54.5 599.9L56.6 592.8L57.2 599.4L58.2 595.2L58.1 592.8L58.3 597.2L59.5 593.0L59.3 594.8L60.0 595.4L64.9 590.2L66.8 593.8L66.2 596.1L67.6 595.4L68.1 592.3L69.6 594.6L69.5 589.5L71.5 592.2L72.8 595.7L73.7 590.2L75.4 594.1L77.4 596.2L78.4 594.6L78.6 599.1L81.1 593.9L80.5 593.9L85.8 593.6L85.5 598.1L87.0 598.9L87.1 596.6L87.8 600.0L87.4 603.3L90.0 599.4L89.9 604.4L92.1 603.3L92.2 601.2L92.7 596.7L93.2 598.1L92.7 602.6L94.8 606.2L94.9 602.7L95.3 600.4L95.0 610.0L95.4 605.7L96.9 607.4L97.4 606.2L99.8 606.1L99.7 607.0L98.2 606.4L99.6 608.8L100.8 607.7L100.7 610.0L101.1 610.3L104.8 606.8L104.4 611.5L105.8 615.5L107.7 616.9L106.5 616.2L109.6 615.8L108.5 617.0L109.5 617.7L110.2 619.3L111.3 618.5L112.8 621.7L113.6 617.9L115.2 620.7L115.8 629.0L117.7 631.4L118.2 632.3L117.9 631.5L120.8 631.3L121.6 639.1L124.4 642.0L123.1 633.1L123.4 634.5L124.4 637.0L125.5 641.7L125.0 640.0L125.4 640.0L127.1 643.9L126.4 643.8L129.9 647.0L128.6 646.2L129.9 650.2L130.8 639.8L131.2 649.5L133.4 654.1L132.3 651.8L134.0 649.0L133.3 653.9L138.7 656.4L138.1 654.0L139.9 659.0L138.4 658.4L139.9 660.8L142.1 664.3L143.3 664.1L144.6 663.2L144.4 667.9L143.9 668.3L145.6 668.4L146.4 664.2L146.2 665.5L149.9 669.4L149.6 668.5L151.3 666.6L153.2 674.4L152.5 672.6L153.3 669.1L152.9 668.2L154.2 674.7L154.8 677.3L155.1 673.7L155.4 673.1L156.2 672.8L157.2 671.6L156.8 676.9L158.1 675.4L162.1 672.9L162.9 666.6L163.7 667.4L166.3 671.5L165.2 673.1L163.9 675.6L165.8 673.1L165.1 672.2L164.1 673.0L165.3 669.5L164.9 672.9L165.4 670.6L166.1 670.9L166.1 671.4L165.8 667.1L169.9 667.9L170.5 667.7L171.7 664.4L171.5 663.8L172.2 663.6L172.7 670.4L173.8 662.9L174.4 664.6L176.0 654.6L175.5 657.7L175.0 656.7L176.5 658.5L175.9 661.7L177.4 658.4L179.8 653.6L179.4 654.9L180.8 651.1L182.0 648.1L182.2 652.4L182.7 649.7L182.0 649.5L183.4 651.3L184.8 639.9L185.6 648.1L186.0 636.2L185.7 643.6L186.5 638.6L187.6 643.7L187.9 640.0L189.6 631.3L188.1 636.0L189.5 636.0L189.5 631.4L190.0 632.5L190.6 627.9L190.3 628.7L190.7 628.5L191.8 628.5L192.5 624.0L193.3 634.4L195.2 617.4L194.5 623.7L195.0 619.5L196.0 626.6L195.9 617.8L196.9 617.3L196.2 627.0L197.3 617.6L198.2 613.5L197.4 619.1L199.8 610.5L199.5 616.7L199.6 612.1L201.6 615.0L203.3 606.1L203.0 616.6L205.5 617.4L206.4 606.9L207.0 611.5L205.8 615.6L207.8 604.1L209.4 613.3L212.9 616.0L213.2 606.3L214.3 609.1L214.6 624.3L215.6 618.0L216.3 613.4L217.0 608.4L218.2 620.6L218.0 612.2L220.3 633.8L219.9 619.7L223.4 613.6L224.2 610.7L223.9 619.5L223.5 610.4L225.8 613.2L225.8 617.6L233.1 627.1L232.6 620.8L233.4 638.3L235.6 620.7L236.2 619.8L236.2 639.0L236.5 626.2L236.8 616.6L236.0 610.7L236.3 613.3L237.2 628.6L238.3 639.7L237.2 624.1L239.4 630.9L240.5 624.2L239.6 625.6L240.8 661.9L240.9 633.8L243.0 638.3L243.8 621.2L244.5 614.5L242.9 627.7L246.5 643.9L247.0 631.0L247.7 621.8L246.7 664.7L248.1 648.9L247.5 666.0L248.7 649.3L249.2 640.3L250.2 659.7L250.1 671.9L250.6 636.2L250.9 656.5L252.5 672.1" fill="none" stroke="none" marker-start="url(#m10)" marker-mid="url(#m10)" marker-end="url(#m10)"/>
<path d="M52.2 651.6L53.1 649.2L57.0 646.3L57.1 645.7L57.3 644.0L57.4 640.5L58.5 643.7L60.7 637.0L61.2 642.7L61.9 638.6L62.2 637.7L61.0 644.9L63.8 640.5L63.3 640.3L63.1 638.8L64.7 639.7L64.1 637.4L65.4 637.5L65.4 638.9L66.1 638.1L67.4 630.6L66.7 641.4L67.9 635.7L68.6 639.8L68.3 640.6L69.4 637.9L71.3 635.1L71.6 637.7L73.0 634.5L72.8 632.7L72.2 628.5L72.6 637.3L72.6 635.7L74.4 639.1L77.9 634.2L79.8 635.0L78.8 634.7L81.0 633.4L81.3 635.6L81.7 635.7L80.8 635.7L83.4 631.9L84.4 633.8L85.3 639.9L87.8 636.1L88.1 633.9L87.4 631.9L89.0 639.5L91.1 639.7L92.0 637.5L91.0 639.0L91.7 640.6L94.9 638.6L94.5 638.4L94.8 637.8L94.7 638.8L94.1 636.6L95.7 641.1L98.2 638.9L98.1 640.1L98.7 638.8L99.6 641.5L101.0 642.3L99.4 642.2L100.7 643.8L99.9 644.0L101.5 647.2L101.4 644.9L102.5 646.5L104.2 650.6L105.0 644.4L105.2 645.2L105.2 645.1L105.3 647.4L105.5 647.4L106.4 649.4L107.9 651.5L108.8 646.1L110.0 656.8L110.2 654.9L111.4 654.9L113.1 658.7L113.1 658.6L112.8 658.2L113.7 659.0L114.0 660.3L114.9 657.8L113.5 659.0L115.0 662.2L118.1 668.9L118.6 667.5L119.3 663.4L119.2 666.8L122.0 670.0L121.3 671.7L123.9 667.5L124.4 671.7L125.1 677.7L125.7 675.5L127.6 682.8L128.2 679.4L129.2 681.2L129.6 679.5L131.3 681.6L131.8 682.6L132.4 689.5L132.8 689.1L134.3 691.1L135.3 688.6L136.5 689.1L137.9 693.6L139.0 695.4L139.4 696.4L141.0 697.2L141.1 698.2L141.3 704.2L141.5 697.3L143.1 702.0L143.2 701.2L143.5 699.5L144.6 701.9L146.0 698.2L147.0 698.7L147.1 704.2L149.0 704.9L150.2 701.1L152.9 706.6L154.3 704.7L154.7 707.4L155.6 703.9L157.6 704.5L159.4 707.7L159.3 709.7L162.3 704.9L162.5 710.4L163.9 706.3L165.7 705.5L165.0 708.2L164.9 702.9L165.1 704.1L165.0 705.5L166.6 706.4L166.5 707.1L167.4 699.3L167.0 706.8L168.6 702.2L169.4 700.9L170.2 698.8L170.8 700.8L173.2 699.5L173.8 695.8L174.9 696.2L175.4 696.8L177.3 691.3L178.3 690.2L179.7 695.5L181.5 684.6L181.7 687.0L184.2 684.1L184.0 680.8L183.8 682.2L184.7 681.5L184.6 678.7L186.4 679.4L186.1 678.1L188.6 675.8L189.3 675.0L188.8 669.8L188.5 670.5L189.5 678.8L189.3 666.6L191.5 667.0L190.8 669.1L191.4 668.7L191.9 666.8L192.8 665.2L193.5 659.8L193.3 663.6L192.9 666.7L193.5 662.0L194.8 663.9L197.2 659.6L200.4 649.7L200.1 653.5L201.2 656.2L203.3 660.0L202.2 657.2L203.4 653.9L203.4 664.3L204.2 653.5L206.9 658.5L205.5 653.2L207.7 654.3L205.9 658.4L206.7 657.5L208.0 668.5L208.9 651.0L210.3 653.7L209.4 658.4L210.8 662.7L211.9 666.9L213.6 652.6L215.4 669.4L215.8 651.1L214.8 660.2L216.4 658.3L216.8 668.3L219.1 646.1L219.4 664.2L220.2 655.3L222.1 657.9L222.5 659.2L226.3 651.2L227.8 656.8L228.9 651.9L228.2 658.9L229.4 670.7L229.3 656.7L230.5 671.1L231.1 670.9L231.7 660.4L232.2 653.3L233.6 658.0L238.0 667.0L238.0 656.2L238.6 660.9L237.8 664.4L238.2 662.7L239.2 653.7L239.8 666.7L239.6 670.9L240.2 663.4L242.8 671.6L243.3 658.5L243.6 661.7L243.4 662.9L243.7 656.0L245.2 671.4L245.8 692.5L246.5 661.9L246.2 709.9L246.1 679.5L247.3 681.6L249.8 664.9L250.2 673.0L248.8 681.5L249.3 675.7L251.0 671.0L252.5 671.0L252.5 681.2" fill="none" stroke="none" marker-start="url(#m11)" marker-mid="url(#m11)" marker-end="url(#m11)"/>
<path d="M52.2 685.9L53.4 681.5L54.1 678.2L55.0 677.3L54.3 686.0L56.6 676.1L56.5 678.8L57.8 676.3L59.3 676.6L60.0 673.7L61.2 677.8L61.9 671.4L61.8 671.2L62.8 670.8L62.3 667.0L63.9 669.5L64.8 673.7L67.2 669.1L67.1 671.4L70.6 668.3L69.5 667.4L70.0 664.0L71.5 667.4L71.7 667.0L72.2 670.4L73.3 664.1L73.6 667.4L75.5 666.3L75.1 666.2L76.7 668.4L77.1 664.6L78.3 673.2L80.3 666.1L79.4 665.1L79.5 665.7L81.3 669.2L82.7 665.6L83.3 667.9L83.4 667.7L85.4 666.2L85.7 665.4L85.0 667.7L85.4 666.6L86.8 668.1L86.7 668.1L88.3 672.6L88.4 669.2L88.3 669.9L91.3 669.8L90.5 672.2L90.4 668.7L90.4 675.7L91.2 672.7L93.3 672.4L93.1 671.5L95.1 669.7L94.8 672.8L95.1 676.0L94.9 672.3L96.6 673.3L96.8 674.7L98.4 672.8L99.0 674.5L101.7 678.8L101.2 677.2L101.2 678.2L102.4 677.7L102.1 675.9L105.5 677.0L104.5 678.4L106.5 683.2L106.4 684.3L109.4 679.1L107.5 682.0L110.2 684.5L109.8 681.1L110.9 685.1L110.3 685.7L111.3 685.5L113.1 691.8L115.1 688.4L114.6 688.5L114.7 689.2L114.9 690.9L115.8 695.5L117.0 690.1L117.6 696.5L119.1 697.8L118.6 701.6L118.2 698.2L119.3 695.5L119.4 697.8L119.6 697.4L120.4 696.9L121.1 700.3L121.9 702.0L120.9 694.8L121.2 699.5L123.0 704.3L122.9 701.7L124.0 707.4L126.0 705.5L128.6 711.3L128.8 712.0L129.1 711.7L128.7 714.1L132.8 718.5L134.6 721.6L135.0 724.8L136.9 725.4L136.3 724.8L136.5 725.2L136.7 725.2L136.8 728.9L139.2 726.8L138.9 725.7L139.9 727.0L142.2 733.3L141.6 733.2L143.3 733.8L142.6 737.8L143.2 735.6L147.9 739.9L148.2 739.3L147.9 739.5L149.5 739.9L149.3 739.1L151.7 737.4L150.6 739.2L152.4 740.4L153.8 741.0L154.0 743.7L152.7 745.5L155.4 743.4L154.4 748.3L158.0 739.0L157.7 741.8L159.1 743.5L160.8 736.3L162.8 741.9L163.1 743.7L163.8 740.0L164.2 736.1L164.9 742.9L167.5 743.3L169.3 732.2L168.4 739.3L170.2 731.3L169.9 736.8L170.3 733.8L172.6 728.4L173.3 731.6L172.5 728.9L174.3 733.9L174.5 728.6L175.3 728.4L177.1 726.0L176.8 727.8L178.0 722.6L178.3 728.0L180.5 720.3L181.2 720.3L181.2 719.5L181.3 718.6L181.3 716.3L182.1 715.3L183.3 715.1L184.8 713.4L183.4 714.8L184.9 712.8L185.7 708.4L188.0 708.6L188.0 708.8L190.3 704.6L191.3 707.3L191.2 700.6L191.4 700.5L192.6 696.7L192.0 695.4L192.4 698.9L192.1 695.8L194.1 698.7L195.4 693.8L194.8 695.0L195.9 701.4L197.7 696.7L197.6 689.1L198.7 687.8L197.9 689.6L201.1 696.3L201.6 685.8L203.3 690.8L201.7 698.1L201.8 688.4L205.0 690.3L205.8 693.5L206.1 681.5L209.6 697.8L210.3 688.5L210.8 688.3L212.1 678.9L212.2 684.9L214.0 672.2L212.7 697.0L214.6 698.1L214.6 683.0L216.0 695.4L217.2 691.2L217.9 681.6L218.1 680.5L219.2 674.4L220.5 676.0L222.2 672.9L223.4 691.2L225.5 703.4L225.6 691.5L225.2 672.4L226.1 684.5L231.2 679.4L232.5 702.5L232.4 690.7L234.3 691.4L234.3 703.2L234.5 698.2L235.8 679.6L235.9 701.3L235.5 693.4L235.2 675.1L235.6 700.8L239.5 713.9L240.2 708.0L243.0 713.9L243.5 716.5L243.1 712.5L243.6 708.2L244.4 717.9L245.4 705.4L244.9 719.9L245.5 705.7L244.4 706.2L245.8 709.6L247.5 728.6L247.6 715.5L248.4 695.4L248.6 688.2L248.5 718.7L248.6 698.4L249.2 749.0L249.9 710.6L252.5 722.3" fill="none" stroke="none" marker-start="url(#m12)" marker-mid="url(#m12)" marker-end="url(#m12)"/>
<path d="M51.00,393.02 L52.00,392.75 L53.00,392.49 L54.00,392.25 L55.00,392.03 L56.00,391.82 L57.00,391.63 L58.00,391.45 L59.00,391.29 L60.00,391.15 L61.00,391.02 L62.00,390.91 L63.00,390.82 L64.00,390.73 L65.00,390.67 L66.00,390.62 L67.00,390.58 L68.00,390.56 L69.00,390.55 L70.00,390.56 L71.00,390.58 L72.00,390.61 L73.00,390.66 L74.00,390.72 L75.00,390.80 L76.00,390.89 L77.00,390.99 L78.00,391.10 L79.00,391.23 L80.00,391.37 L81.00,391.52 L82.00,391.69 L83.00,391.86 L84.00,392.05 L85.00,392.25 L86.00,392.46 L87.00,392.69 L88.00,392.92 L89.00,393.17 L90.00,393.42 L91.00,393.69 L92.00,393.97 L93.00,394.25 L94.00,394.55 L95.00,394.86 L96.00,395.18 L97.00,395.51 L98.00,395.84 L99.00,396.19 L100.00,396.54 L101.00,396.91 L102.00,397.27 L103.00,397.65 L104.00,398.03 L105.00,398.42 L106.00,398.81 L107.00,399.21 L108.00,399.61 L109.00,400.02 L110.00,400.43 L111.00,400.85 L112.00,401.27 L113.00,401.69 L114.00,402.11 L115.00,402.53 L116.00,402.96 L117.00,403.38 L118.00,403.81 L119.00,404.23 L120.00,404.66 L121.00,405.08 L122.00,405.50 L123.00,405.92 L124.00,406.34 L125.00,406.75 L126.00,407.17 L127.00,407.57 L128.00,407.98 L129.00,408.38 L130.00,408.77 L131.00,409.16 L132.00,409.54 L133.00,409.92 L134.00,410.29 L135.00,410.65 L136.00,411.01 L137.00,411.35 L138.00,411.68 L139.00,412.00 L140.00,412.31 L141.00,412.59 L142.00,412.86 L143.00,413.10 L144.00,413.32 L145.00,413.52 L146.00,413.68 L147.00,413.82 L148.00,413.93 L149.00,414.00 L150.00,414.03 L151.00,414.03 L152.00,413.98 L153.00,413.90 L154.00,413.77 L155.00,413.59 L156.00,413.37 L157.00,413.10 L158.00,412.77 L159.00,412.39 L160.00,411.95 L161.00,411.46 L162.00,410.91 L163.00,410.31 L164.00,409.66 L165.00,408.97 L166.00,408.23 L167.00,407.46 L168.00,406.66 L169.00,405.82 L170.00,404.95 L171.00,404.06 L172.00,403.16 L173.00,402.23 L174.00,401.29 L175.00,400.34 L176.00,399.38 L177.00,398.42 L178.00,397.45 L179.00,396.50 L180.00,395.54 L181.00,394.60 L182.00,393.68 L183.00,392.77 L184.00,391.89 L185.00,391.05 L186.00,390.24 L187.00,389.48 L188.00,388.76 L189.00,388.10 L190.00,387.51 L191.00,386.98 L192.00,386.52 L193.00,386.14 L194.00,385.84 L195.00,385.63 L196.00,385.51 L197.00,385.50 L198.00,385.59 L199.00,385.77 L200.00,386.03 L201.00,386.36 L202.00,386.74 L203.00,387.16 L204.00,387.61 L205.00,388.07 L206.00,388.53 L207.00,388.97 L208.00,389.39 L209.00,389.77 L210.00,390.10 L211.00,390.40 L212.00,390.64 L213.00,390.84 L214.00,390.99 L215.00,391.09 L216.00,391.13 L217.00,391.12 L218.00,391.04 L219.00,390.91 L220.00,390.75 L221.00,390.56 L222.00,390.38 L223.00,390.23 L224.00,390.12 L225.00,390.09 L226.00,390.14 L227.00,390.31 L228.00,390.61 L229.00,391.06 L230.00,391.70 L231.00,392.52 L232.00,393.53 L233.00,394.71 L234.00,396.05 L235.00,397.53 L236.00,399.14 L237.00,400.87 L238.00,402.70 L239.00,404.62 L240.00,406.62 L241.00,408.68 L242.00,410.78 L243.00,412.92 L244.00,415.08 L245.00,417.25 L246.00,419.41 L247.00,421.55 L248.00,423.66 L249.00,425.71 L250.00,427.71 L251.00,429.63 L252.00,431.47 L253.00,433.20 L253.60,434.18" fill="none" stroke="#000" stroke-width="1.5" stroke-linejoin="round"/>
<line x1="198" y1="378" x2="198" y2="392" stroke="#000" stroke-width="2.2"/>
<line x1="232.4" y1="383.8" x2="232.4" y2="397.8" stroke="#000" stroke-width="2.2"/>
<path d="M51.00,421.00 L52.00,421.01 L53.00,421.04 L54.00,421.07 L55.00,421.11 L56.00,421.16 L57.00,421.21 L58.00,421.27 L59.00,421.34 L60.00,421.42 L61.00,421.50 L62.00,421.59 L63.00,421.69 L64.00,421.79 L65.00,421.90 L66.00,422.02 L67.00,422.15 L68.00,422.28 L69.00,422.42 L70.00,422.56 L71.00,422.71 L72.00,422.87 L73.00,423.04 L74.00,423.21 L75.00,423.39 L76.00,423.57 L77.00,423.76 L78.00,423.96 L79.00,424.16 L80.00,424.37 L81.00,424.59 L82.00,424.81 L83.00,425.04 L84.00,425.28 L85.00,425.52 L86.00,425.76 L87.00,426.02 L88.00,426.28 L89.00,426.54 L90.00,426.81 L91.00,427.09 L92.00,427.37 L93.00,427.66 L94.00,427.96 L95.00,428.25 L96.00,428.56 L97.00,428.87 L98.00,429.19 L99.00,429.51 L100.00,429.84 L101.00,430.17 L102.00,430.51 L103.00,430.85 L104.00,431.20 L105.00,431.56 L106.00,431.92 L107.00,432.28 L108.00,432.66 L109.00,433.03 L110.00,433.42 L111.00,433.80 L112.00,434.20 L113.00,434.60 L114.00,435.00 L115.00,435.41 L116.00,435.83 L117.00,436.25 L118.00,436.68 L119.00,437.11 L120.00,437.55 L121.00,437.99 L122.00,438.44 L123.00,438.90 L124.00,439.36 L125.00,439.83 L126.00,440.30 L127.00,440.78 L128.00,441.26 L129.00,441.75 L130.00,442.25 L131.00,442.75 L132.00,443.26 L133.00,443.77 L134.00,444.29 L135.00,444.81 L136.00,445.34 L137.00,445.87 L138.00,446.40 L139.00,446.93 L140.00,447.45 L141.00,447.95 L142.00,448.44 L143.00,448.90 L144.00,449.35 L145.00,449.76 L146.00,450.15 L147.00,450.50 L148.00,450.81 L149.00,451.08 L150.00,451.31 L151.00,451.48 L152.00,451.60 L153.00,451.66 L154.00,451.67 L155.00,451.61 L156.00,451.48 L157.00,451.28 L158.00,451.00 L159.00,450.65 L160.00,450.21 L161.00,449.69 L162.00,449.08 L163.00,448.40 L164.00,447.64 L165.00,446.80 L166.00,445.90 L167.00,444.94 L168.00,443.91 L169.00,442.82 L170.00,441.68 L171.00,440.49 L172.00,439.24 L173.00,437.96 L174.00,436.63 L175.00,435.27 L176.00,433.88 L177.00,432.45 L178.00,431.00 L179.00,429.52 L180.00,428.03 L181.00,426.52 L182.00,425.00 L183.00,423.47 L184.00,421.94 L185.00,420.41 L186.00,418.89 L187.00,417.39 L188.00,415.90 L189.00,414.45 L190.00,413.02 L191.00,411.63 L192.00,410.28 L193.00,408.98 L194.00,407.73 L195.00,406.53 L196.00,405.40 L197.00,404.34 L198.00,403.36 L199.00,402.45 L200.00,401.63 L201.00,400.89 L202.00,400.26 L203.00,399.72 L204.00,399.29 L205.00,398.97 L206.00,398.74 L207.00,398.60 L208.00,398.53 L209.00,398.51 L210.00,398.54 L211.00,398.59 L212.00,398.65 L213.00,398.71 L214.00,398.75 L215.00,398.76 L216.00,398.74 L217.00,398.68 L218.00,398.62 L219.00,398.57 L220.00,398.55 L221.00,398.58 L222.00,398.67 L223.00,398.84 L224.00,399.12 L225.00,399.52 L226.00,400.06 L227.00,400.76 L228.00,401.63 L229.00,402.70 L230.00,403.95 L231.00,405.37 L232.00,406.96 L233.00,408.71 L234.00,410.61 L235.00,412.65 L236.00,414.82 L237.00,417.11 L238.00,419.50 L239.00,422.01 L240.00,424.60 L241.00,427.27 L242.00,430.03 L243.00,432.84 L244.00,435.71 L245.00,438.63 L246.00,441.58 L247.00,444.56 L248.00,447.56 L249.00,450.57 L250.00,453.57 L251.00,456.57 L252.00,459.55 L253.00,462.50 L253.60,464.25" fill="none" stroke="#000" stroke-width="1.5" stroke-linejoin="round"/>
<line x1="202" y1="391" x2="202" y2="405" stroke="#000" stroke-width="2.2"/>
<line x1="230" y1="397.5" x2="230" y2="411.5" stroke="#000" stroke-width="2.2"/>
<path d="M51.00,447.90 L52.00,447.96 L53.00,448.04 L54.00,448.12 L55.00,448.22 L56.00,448.33 L57.00,448.45 L58.00,448.58 L59.00,448.72 L60.00,448.88 L61.00,449.04 L62.00,449.22 L63.00,449.41 L64.00,449.61 L65.00,449.82 L66.00,450.04 L67.00,450.27 L68.00,450.51 L69.00,450.77 L70.00,451.03 L71.00,451.30 L72.00,451.58 L73.00,451.87 L74.00,452.18 L75.00,452.49 L76.00,452.81 L77.00,453.14 L78.00,453.48 L79.00,453.83 L80.00,454.19 L81.00,454.55 L82.00,454.93 L83.00,455.31 L84.00,455.71 L85.00,456.11 L86.00,456.52 L87.00,456.93 L88.00,457.36 L89.00,457.79 L90.00,458.24 L91.00,458.69 L92.00,459.14 L93.00,459.61 L94.00,460.08 L95.00,460.56 L96.00,461.04 L97.00,461.54 L98.00,462.04 L99.00,462.55 L100.00,463.06 L101.00,463.58 L102.00,464.11 L103.00,464.64 L104.00,465.18 L105.00,465.72 L106.00,466.28 L107.00,466.83 L108.00,467.40 L109.00,467.96 L110.00,468.54 L111.00,469.12 L112.00,469.70 L113.00,470.29 L114.00,470.89 L115.00,471.49 L116.00,472.09 L117.00,472.70 L118.00,473.32 L119.00,473.94 L120.00,474.56 L121.00,475.18 L122.00,475.81 L123.00,476.44 L124.00,477.06 L125.00,477.69 L126.00,478.30 L127.00,478.92 L128.00,479.52 L129.00,480.12 L130.00,480.71 L131.00,481.28 L132.00,481.85 L133.00,482.40 L134.00,482.93 L135.00,483.45 L136.00,483.95 L137.00,484.42 L138.00,484.88 L139.00,485.31 L140.00,485.72 L141.00,486.11 L142.00,486.46 L143.00,486.79 L144.00,487.09 L145.00,487.36 L146.00,487.59 L147.00,487.79 L148.00,487.96 L149.00,488.09 L150.00,488.18 L151.00,488.22 L152.00,488.23 L153.00,488.20 L154.00,488.12 L155.00,487.99 L156.00,487.82 L157.00,487.60 L158.00,487.33 L159.00,487.01 L160.00,486.64 L161.00,486.21 L162.00,485.72 L163.00,485.18 L164.00,484.58 L165.00,483.93 L166.00,483.21 L167.00,482.42 L168.00,481.57 L169.00,480.66 L170.00,479.68 L171.00,478.63 L172.00,477.51 L173.00,476.33 L174.00,475.06 L175.00,473.73 L176.00,472.31 L177.00,470.83 L178.00,469.26 L179.00,467.61 L180.00,465.89 L181.00,464.09 L182.00,462.20 L183.00,460.24 L184.00,458.19 L185.00,456.06 L186.00,453.85 L187.00,451.56 L188.00,449.21 L189.00,446.82 L190.00,444.43 L191.00,442.04 L192.00,439.69 L193.00,437.40 L194.00,435.20 L195.00,433.11 L196.00,431.14 L197.00,429.31 L198.00,427.60 L199.00,426.02 L200.00,424.55 L201.00,423.21 L202.00,421.98 L203.00,420.86 L204.00,419.84 L205.00,418.95 L206.00,418.16 L207.00,417.49 L208.00,416.95 L209.00,416.53 L210.00,416.23 L211.00,416.07 L212.00,416.04 L213.00,416.14 L214.00,416.37 L215.00,416.72 L216.00,417.20 L217.00,417.79 L218.00,418.50 L219.00,419.31 L220.00,420.24 L221.00,421.27 L222.00,422.40 L223.00,423.63 L224.00,424.95 L225.00,426.36 L226.00,427.87 L227.00,429.45 L228.00,431.12 L229.00,432.87 L230.00,434.69 L231.00,436.58 L232.00,438.54 L233.00,440.57 L234.00,442.66 L235.00,444.80 L236.00,447.01 L237.00,449.26 L238.00,451.56 L239.00,453.91 L240.00,456.30 L241.00,458.72 L242.00,461.18 L243.00,463.68 L244.00,466.20 L245.00,468.75 L246.00,471.32 L247.00,473.91 L248.00,476.52 L249.00,479.13 L250.00,481.76 L251.00,484.39 L252.00,487.02 L253.00,489.66 L253.60,491.24" fill="none" stroke="#000" stroke-width="1.5" stroke-linejoin="round"/>
<line x1="200.6" y1="417" x2="200.6" y2="431" stroke="#000" stroke-width="2.2"/>
<line x1="223" y1="418.5" x2="223" y2="432.5" stroke="#000" stroke-width="2.2"/>
<path d="M51.00,471.69 L52.00,472.00 L53.00,472.31 L54.00,472.63 L55.00,472.95 L56.00,473.28 L57.00,473.61 L58.00,473.94 L59.00,474.28 L60.00,474.62 L61.00,474.97 L62.00,475.33 L63.00,475.68 L64.00,476.05 L65.00,476.42 L66.00,476.79 L67.00,477.17 L68.00,477.55 L69.00,477.94 L70.00,478.34 L71.00,478.74 L72.00,479.15 L73.00,479.56 L74.00,479.98 L75.00,480.41 L76.00,480.84 L77.00,481.28 L78.00,481.73 L79.00,482.18 L80.00,482.64 L81.00,483.11 L82.00,483.58 L83.00,484.07 L84.00,484.55 L85.00,485.05 L86.00,485.56 L87.00,486.07 L88.00,486.59 L89.00,487.11 L90.00,487.65 L91.00,488.19 L92.00,488.75 L93.00,489.31 L94.00,489.88 L95.00,490.45 L96.00,491.04 L97.00,491.63 L98.00,492.24 L99.00,492.85 L100.00,493.48 L101.00,494.11 L102.00,494.75 L103.00,495.40 L104.00,496.05 L105.00,496.71 L106.00,497.38 L107.00,498.05 L108.00,498.73 L109.00,499.41 L110.00,500.09 L111.00,500.77 L112.00,501.46 L113.00,502.14 L114.00,502.83 L115.00,503.51 L116.00,504.19 L117.00,504.87 L118.00,505.54 L119.00,506.21 L120.00,506.87 L121.00,507.53 L122.00,508.18 L123.00,508.83 L124.00,509.46 L125.00,510.09 L126.00,510.71 L127.00,511.32 L128.00,511.91 L129.00,512.50 L130.00,513.07 L131.00,513.62 L132.00,514.17 L133.00,514.69 L134.00,515.21 L135.00,515.70 L136.00,516.18 L137.00,516.64 L138.00,517.08 L139.00,517.49 L140.00,517.89 L141.00,518.26 L142.00,518.60 L143.00,518.91 L144.00,519.20 L145.00,519.45 L146.00,519.68 L147.00,519.87 L148.00,520.02 L149.00,520.14 L150.00,520.22 L151.00,520.26 L152.00,520.26 L153.00,520.21 L154.00,520.12 L155.00,519.99 L156.00,519.81 L157.00,519.58 L158.00,519.31 L159.00,518.98 L160.00,518.59 L161.00,518.16 L162.00,517.67 L163.00,517.12 L164.00,516.51 L165.00,515.84 L166.00,515.11 L167.00,514.32 L168.00,513.46 L169.00,512.53 L170.00,511.54 L171.00,510.48 L172.00,509.35 L173.00,508.15 L174.00,506.87 L175.00,505.52 L176.00,504.09 L177.00,502.59 L178.00,501.00 L179.00,499.34 L180.00,497.59 L181.00,495.76 L182.00,493.84 L183.00,491.85 L184.00,489.79 L185.00,487.67 L186.00,485.50 L187.00,483.29 L188.00,481.04 L189.00,478.77 L190.00,476.48 L191.00,474.19 L192.00,471.90 L193.00,469.61 L194.00,467.35 L195.00,465.11 L196.00,462.91 L197.00,460.75 L198.00,458.65 L199.00,456.61 L200.00,454.63 L201.00,452.74 L202.00,450.94 L203.00,449.23 L204.00,447.62 L205.00,446.13 L206.00,444.76 L207.00,443.53 L208.00,442.43 L209.00,441.48 L210.00,440.68 L211.00,440.03 L212.00,439.55 L213.00,439.23 L214.00,439.07 L215.00,439.08 L216.00,439.26 L217.00,439.62 L218.00,440.16 L219.00,440.88 L220.00,441.78 L221.00,442.88 L222.00,444.16 L223.00,445.63 L224.00,447.27 L225.00,449.07 L226.00,451.02 L227.00,453.10 L228.00,455.32 L229.00,457.65 L230.00,460.08 L231.00,462.61 L232.00,465.23 L233.00,467.92 L234.00,470.67 L235.00,473.47 L236.00,476.31 L237.00,479.18 L238.00,482.07 L239.00,484.97 L240.00,487.86 L241.00,490.74 L242.00,493.60 L243.00,496.42 L244.00,499.19 L245.00,501.90 L246.00,504.55 L247.00,507.12 L248.00,509.59 L249.00,511.97 L250.00,514.23 L251.00,516.37 L252.00,518.38 L253.00,520.24 L253.60,521.29" fill="none" stroke="#000" stroke-width="1.5" stroke-linejoin="round"/>
<line x1="214.4" y1="431" x2="214.4" y2="445" stroke="#000" stroke-width="2.2"/>
<path d="M51.00,494.37 L52.00,494.43 L53.00,494.53 L54.00,494.64 L55.00,494.78 L56.00,494.95 L57.00,495.14 L58.00,495.35 L59.00,495.58 L60.00,495.84 L61.00,496.11 L62.00,496.41 L63.00,496.73 L64.00,497.07 L65.00,497.43 L66.00,497.81 L67.00,498.21 L68.00,498.62 L69.00,499.06 L70.00,499.51 L71.00,499.98 L72.00,500.47 L73.00,500.98 L74.00,501.50 L75.00,502.04 L76.00,502.59 L77.00,503.16 L78.00,503.74 L79.00,504.34 L80.00,504.95 L81.00,505.58 L82.00,506.22 L83.00,506.87 L84.00,507.54 L85.00,508.21 L86.00,508.90 L87.00,509.60 L88.00,510.31 L89.00,511.03 L90.00,511.76 L91.00,512.50 L92.00,513.25 L93.00,514.01 L94.00,514.78 L95.00,515.56 L96.00,516.34 L97.00,517.13 L98.00,517.93 L99.00,518.73 L100.00,519.54 L101.00,520.36 L102.00,521.18 L103.00,522.00 L104.00,522.83 L105.00,523.67 L106.00,524.51 L107.00,525.35 L108.00,526.19 L109.00,527.04 L110.00,527.89 L111.00,528.74 L112.00,529.59 L113.00,530.44 L114.00,531.30 L115.00,532.15 L116.00,533.00 L117.00,533.86 L118.00,534.71 L119.00,535.56 L120.00,536.41 L121.00,537.25 L122.00,538.09 L123.00,538.93 L124.00,539.75 L125.00,540.57 L126.00,541.38 L127.00,542.18 L128.00,542.96 L129.00,543.73 L130.00,544.49 L131.00,545.23 L132.00,545.95 L133.00,546.65 L134.00,547.33 L135.00,547.99 L136.00,548.62 L137.00,549.23 L138.00,549.82 L139.00,550.37 L140.00,550.90 L141.00,551.40 L142.00,551.86 L143.00,552.30 L144.00,552.69 L145.00,553.06 L146.00,553.38 L147.00,553.67 L148.00,553.92 L149.00,554.13 L150.00,554.29 L151.00,554.42 L152.00,554.50 L153.00,554.54 L154.00,554.53 L155.00,554.49 L156.00,554.41 L157.00,554.30 L158.00,554.15 L159.00,553.96 L160.00,553.74 L161.00,553.49 L162.00,553.21 L163.00,552.89 L164.00,552.55 L165.00,552.18 L166.00,551.79 L167.00,551.35 L168.00,550.88 L169.00,550.35 L170.00,549.76 L171.00,549.11 L172.00,548.37 L173.00,547.55 L174.00,546.63 L175.00,545.61 L176.00,544.48 L177.00,543.23 L178.00,541.85 L179.00,540.34 L180.00,538.68 L181.00,536.86 L182.00,534.88 L183.00,532.76 L184.00,530.51 L185.00,528.15 L186.00,525.68 L187.00,523.14 L188.00,520.52 L189.00,517.86 L190.00,515.16 L191.00,512.45 L192.00,509.73 L193.00,507.03 L194.00,504.36 L195.00,501.73 L196.00,499.17 L197.00,496.68 L198.00,494.29 L199.00,492.01 L200.00,489.86 L201.00,487.85 L202.00,485.99 L203.00,484.29 L204.00,482.75 L205.00,481.39 L206.00,480.21 L207.00,479.22 L208.00,478.42 L209.00,477.83 L210.00,477.44 L211.00,477.23 L212.00,477.21 L213.00,477.36 L214.00,477.67 L215.00,478.15 L216.00,478.78 L217.00,479.55 L218.00,480.45 L219.00,481.49 L220.00,482.65 L221.00,483.92 L222.00,485.30 L223.00,486.79 L224.00,488.37 L225.00,490.04 L226.00,491.79 L227.00,493.62 L228.00,495.53 L229.00,497.49 L230.00,499.52 L231.00,501.59 L232.00,503.71 L233.00,505.87 L234.00,508.06 L235.00,510.27 L236.00,512.50 L237.00,514.75 L238.00,517.00 L239.00,519.25 L240.00,521.50 L241.00,523.73 L242.00,525.94 L243.00,528.12 L244.00,530.28 L245.00,532.39 L246.00,534.46 L247.00,536.47 L248.00,538.43 L249.00,540.32 L250.00,542.14 L251.00,543.89 L252.00,545.54 L253.00,547.11 L253.60,548.01" fill="none" stroke="#000" stroke-width="1.5" stroke-linejoin="round"/>
<line x1="203" y1="474.5" x2="203" y2="488.5" stroke="#000" stroke-width="2.2"/>
<line x1="218.4" y1="477.5" x2="218.4" y2="491.5" stroke="#000" stroke-width="2.2"/>
<path d="M51.00,520.03 L52.00,519.48 L53.00,519.01 L54.00,518.63 L55.00,518.33 L56.00,518.10 L57.00,517.95 L58.00,517.88 L59.00,517.87 L60.00,517.93 L61.00,518.05 L62.00,518.23 L63.00,518.46 L64.00,518.76 L65.00,519.10 L66.00,519.49 L67.00,519.93 L68.00,520.41 L69.00,520.92 L70.00,521.48 L71.00,522.07 L72.00,522.69 L73.00,523.33 L74.00,524.00 L75.00,524.70 L76.00,525.41 L77.00,526.14 L78.00,526.88 L79.00,527.63 L80.00,528.38 L81.00,529.15 L82.00,529.91 L83.00,530.68 L84.00,531.46 L85.00,532.24 L86.00,533.02 L87.00,533.82 L88.00,534.61 L89.00,535.41 L90.00,536.22 L91.00,537.03 L92.00,537.85 L93.00,538.67 L94.00,539.50 L95.00,540.34 L96.00,541.18 L97.00,542.03 L98.00,542.89 L99.00,543.75 L100.00,544.62 L101.00,545.50 L102.00,546.39 L103.00,547.28 L104.00,548.18 L105.00,549.09 L106.00,550.00 L107.00,550.93 L108.00,551.86 L109.00,552.81 L110.00,553.76 L111.00,554.72 L112.00,555.69 L113.00,556.66 L114.00,557.65 L115.00,558.65 L116.00,559.66 L117.00,560.67 L118.00,561.70 L119.00,562.74 L120.00,563.78 L121.00,564.84 L122.00,565.90 L123.00,566.97 L124.00,568.03 L125.00,569.10 L126.00,570.17 L127.00,571.23 L128.00,572.28 L129.00,573.33 L130.00,574.37 L131.00,575.39 L132.00,576.40 L133.00,577.39 L134.00,578.37 L135.00,579.32 L136.00,580.25 L137.00,581.16 L138.00,582.03 L139.00,582.88 L140.00,583.70 L141.00,584.49 L142.00,585.23 L143.00,585.95 L144.00,586.62 L145.00,587.25 L146.00,587.84 L147.00,588.38 L148.00,588.87 L149.00,589.32 L150.00,589.71 L151.00,590.05 L152.00,590.33 L153.00,590.55 L154.00,590.72 L155.00,590.82 L156.00,590.85 L157.00,590.82 L158.00,590.72 L159.00,590.56 L160.00,590.31 L161.00,590.00 L162.00,589.60 L163.00,589.13 L164.00,588.58 L165.00,587.94 L166.00,587.22 L167.00,586.41 L168.00,585.51 L169.00,584.52 L170.00,583.44 L171.00,582.26 L172.00,580.98 L173.00,579.61 L174.00,578.13 L175.00,576.55 L176.00,574.86 L177.00,573.06 L178.00,571.15 L179.00,569.14 L180.00,567.00 L181.00,564.75 L182.00,562.39 L183.00,559.92 L184.00,557.37 L185.00,554.75 L186.00,552.07 L187.00,549.35 L188.00,546.61 L189.00,543.86 L190.00,541.13 L191.00,538.42 L192.00,535.75 L193.00,533.13 L194.00,530.60 L195.00,528.15 L196.00,525.80 L197.00,523.58 L198.00,521.49 L199.00,519.56 L200.00,517.80 L201.00,516.21 L202.00,514.81 L203.00,513.59 L204.00,512.53 L205.00,511.64 L206.00,510.92 L207.00,510.34 L208.00,509.92 L209.00,509.65 L210.00,509.52 L211.00,509.52 L212.00,509.66 L213.00,509.93 L214.00,510.32 L215.00,510.82 L216.00,511.44 L217.00,512.17 L218.00,513.00 L219.00,513.93 L220.00,514.97 L221.00,516.10 L222.00,517.32 L223.00,518.64 L224.00,520.04 L225.00,521.53 L226.00,523.10 L227.00,524.75 L228.00,526.48 L229.00,528.28 L230.00,530.15 L231.00,532.09 L232.00,534.09 L233.00,536.16 L234.00,538.29 L235.00,540.47 L236.00,542.71 L237.00,545.00 L238.00,547.33 L239.00,549.71 L240.00,552.13 L241.00,554.60 L242.00,557.10 L243.00,559.63 L244.00,562.19 L245.00,564.78 L246.00,567.40 L247.00,570.04 L248.00,572.70 L249.00,575.37 L250.00,578.06 L251.00,580.76 L252.00,583.46 L253.00,586.18 L253.60,587.80" fill="none" stroke="#000" stroke-width="1.5" stroke-linejoin="round"/>
<line x1="200.6" y1="507.5" x2="200.6" y2="521.5" stroke="#000" stroke-width="2.2"/>
<line x1="225" y1="518" x2="225" y2="532" stroke="#000" stroke-width="2.2"/>
<path d="M51.00,553.71 L52.00,552.71 L53.00,551.78 L54.00,550.93 L55.00,550.15 L56.00,549.43 L57.00,548.79 L58.00,548.21 L59.00,547.70 L60.00,547.26 L61.00,546.88 L62.00,546.56 L63.00,546.30 L64.00,546.11 L65.00,545.97 L66.00,545.89 L67.00,545.87 L68.00,545.90 L69.00,545.99 L70.00,546.13 L71.00,546.33 L72.00,546.57 L73.00,546.87 L74.00,547.21 L75.00,547.60 L76.00,548.03 L77.00,548.51 L78.00,549.04 L79.00,549.60 L80.00,550.21 L81.00,550.85 L82.00,551.54 L83.00,552.26 L84.00,553.02 L85.00,553.81 L86.00,554.64 L87.00,555.50 L88.00,556.39 L89.00,557.31 L90.00,558.26 L91.00,559.24 L92.00,560.25 L93.00,561.28 L94.00,562.33 L95.00,563.41 L96.00,564.50 L97.00,565.62 L98.00,566.76 L99.00,567.92 L100.00,569.09 L101.00,570.28 L102.00,571.48 L103.00,572.69 L104.00,573.92 L105.00,575.16 L106.00,576.41 L107.00,577.66 L108.00,578.93 L109.00,580.19 L110.00,581.47 L111.00,582.74 L112.00,584.02 L113.00,585.30 L114.00,586.58 L115.00,587.86 L116.00,589.14 L117.00,590.41 L118.00,591.68 L119.00,592.94 L120.00,594.19 L121.00,595.43 L122.00,596.67 L123.00,597.89 L124.00,599.10 L125.00,600.29 L126.00,601.47 L127.00,602.63 L128.00,603.77 L129.00,604.90 L130.00,606.00 L131.00,607.08 L132.00,608.13 L133.00,609.16 L134.00,610.16 L135.00,611.13 L136.00,612.08 L137.00,612.99 L138.00,613.87 L139.00,614.72 L140.00,615.53 L141.00,616.30 L142.00,617.03 L143.00,617.73 L144.00,618.39 L145.00,619.00 L146.00,619.57 L147.00,620.09 L148.00,620.57 L149.00,621.00 L150.00,621.38 L151.00,621.71 L152.00,621.99 L153.00,622.21 L154.00,622.38 L155.00,622.49 L156.00,622.55 L157.00,622.55 L158.00,622.48 L159.00,622.35 L160.00,622.16 L161.00,621.89 L162.00,621.56 L163.00,621.15 L164.00,620.67 L165.00,620.11 L166.00,619.47 L167.00,618.75 L168.00,617.94 L169.00,617.04 L170.00,616.06 L171.00,614.98 L172.00,613.81 L173.00,612.55 L174.00,611.18 L175.00,609.71 L176.00,608.14 L177.00,606.46 L178.00,604.68 L179.00,602.78 L180.00,600.77 L181.00,598.64 L182.00,596.40 L183.00,594.06 L184.00,591.64 L185.00,589.14 L186.00,586.59 L187.00,584.00 L188.00,581.39 L189.00,578.77 L190.00,576.17 L191.00,573.59 L192.00,571.05 L193.00,568.58 L194.00,566.18 L195.00,563.86 L196.00,561.66 L197.00,559.58 L198.00,557.63 L199.00,555.84 L200.00,554.23 L201.00,552.79 L202.00,551.54 L203.00,550.47 L204.00,549.58 L205.00,548.86 L206.00,548.31 L207.00,547.93 L208.00,547.71 L209.00,547.65 L210.00,547.75 L211.00,548.00 L212.00,548.40 L213.00,548.95 L214.00,549.64 L215.00,550.47 L216.00,551.44 L217.00,552.55 L218.00,553.78 L219.00,555.14 L220.00,556.62 L221.00,558.22 L222.00,559.93 L223.00,561.75 L224.00,563.66 L225.00,565.67 L226.00,567.75 L227.00,569.92 L228.00,572.15 L229.00,574.44 L230.00,576.78 L231.00,579.18 L232.00,581.61 L233.00,584.07 L234.00,586.56 L235.00,589.07 L236.00,591.58 L237.00,594.10 L238.00,596.62 L239.00,599.13 L240.00,601.61 L241.00,604.07 L242.00,606.50 L243.00,608.89 L244.00,611.23 L245.00,613.52 L246.00,615.74 L247.00,617.90 L248.00,619.98 L249.00,621.98 L250.00,623.88 L251.00,625.69 L252.00,627.39 L253.00,628.98 L253.60,629.88" fill="none" stroke="#000" stroke-width="1.5" stroke-linejoin="round"/>
<line x1="196.6" y1="549" x2="196.6" y2="563" stroke="#000" stroke-width="2.2"/>
<line x1="220.4" y1="550" x2="220.4" y2="564" stroke="#000" stroke-width="2.2"/>
<path d="M51.00,578.82 L52.00,577.35 L53.00,575.97 L54.00,574.68 L55.00,573.47 L56.00,572.34 L57.00,571.30 L58.00,570.33 L59.00,569.45 L60.00,568.64 L61.00,567.90 L62.00,567.24 L63.00,566.66 L64.00,566.15 L65.00,565.70 L66.00,565.33 L67.00,565.02 L68.00,564.79 L69.00,564.61 L70.00,564.50 L71.00,564.46 L72.00,564.47 L73.00,564.55 L74.00,564.68 L75.00,564.87 L76.00,565.12 L77.00,565.43 L78.00,565.78 L79.00,566.19 L80.00,566.65 L81.00,567.16 L82.00,567.72 L83.00,568.32 L84.00,568.97 L85.00,569.67 L86.00,570.40 L87.00,571.18 L88.00,572.00 L89.00,572.86 L90.00,573.76 L91.00,574.69 L92.00,575.66 L93.00,576.66 L94.00,577.69 L95.00,578.76 L96.00,579.85 L97.00,580.97 L98.00,582.12 L99.00,583.30 L100.00,584.50 L101.00,585.72 L102.00,586.97 L103.00,588.23 L104.00,589.52 L105.00,590.82 L106.00,592.14 L107.00,593.48 L108.00,594.82 L109.00,596.18 L110.00,597.56 L111.00,598.94 L112.00,600.33 L113.00,601.73 L114.00,603.13 L115.00,604.54 L116.00,605.95 L117.00,607.37 L118.00,608.78 L119.00,610.20 L120.00,611.61 L121.00,613.02 L122.00,614.42 L123.00,615.82 L124.00,617.21 L125.00,618.59 L126.00,619.97 L127.00,621.33 L128.00,622.68 L129.00,624.01 L130.00,625.33 L131.00,626.63 L132.00,627.92 L133.00,629.18 L134.00,630.42 L135.00,631.64 L136.00,632.83 L137.00,633.98 L138.00,635.11 L139.00,636.21 L140.00,637.26 L141.00,638.28 L142.00,639.26 L143.00,640.20 L144.00,641.09 L145.00,641.94 L146.00,642.73 L147.00,643.48 L148.00,644.17 L149.00,644.81 L150.00,645.39 L151.00,645.91 L152.00,646.37 L153.00,646.76 L154.00,647.09 L155.00,647.35 L156.00,647.54 L157.00,647.65 L158.00,647.70 L159.00,647.66 L160.00,647.55 L161.00,647.35 L162.00,647.07 L163.00,646.71 L164.00,646.26 L165.00,645.71 L166.00,645.08 L167.00,644.35 L168.00,643.53 L169.00,642.61 L170.00,641.58 L171.00,640.46 L172.00,639.23 L173.00,637.91 L174.00,636.49 L175.00,634.98 L176.00,633.38 L177.00,631.70 L178.00,629.93 L179.00,628.08 L180.00,626.16 L181.00,624.15 L182.00,622.08 L183.00,619.95 L184.00,617.78 L185.00,615.58 L186.00,613.37 L187.00,611.16 L188.00,608.97 L189.00,606.82 L190.00,604.72 L191.00,602.69 L192.00,600.73 L193.00,598.87 L194.00,597.12 L195.00,595.46 L196.00,593.92 L197.00,592.48 L198.00,591.17 L199.00,589.97 L200.00,588.90 L201.00,587.96 L202.00,587.13 L203.00,586.42 L204.00,585.82 L205.00,585.31 L206.00,584.90 L207.00,584.57 L208.00,584.32 L209.00,584.14 L210.00,584.02 L211.00,583.96 L212.00,583.96 L213.00,584.02 L214.00,584.15 L215.00,584.35 L216.00,584.62 L217.00,584.96 L218.00,585.39 L219.00,585.91 L220.00,586.51 L221.00,587.21 L222.00,588.00 L223.00,588.90 L224.00,589.89 L225.00,591.00 L226.00,592.21 L227.00,593.54 L228.00,594.98 L229.00,596.53 L230.00,598.17 L231.00,599.91 L232.00,601.74 L233.00,603.65 L234.00,605.65 L235.00,607.71 L236.00,609.85 L237.00,612.05 L238.00,614.31 L239.00,616.62 L240.00,618.99 L241.00,621.39 L242.00,623.84 L243.00,626.31 L244.00,628.82 L245.00,631.35 L246.00,633.90 L247.00,636.46 L248.00,639.03 L249.00,641.60 L250.00,644.17 L251.00,646.74 L252.00,649.29 L253.00,651.82 L253.60,653.33" fill="none" stroke="#000" stroke-width="1.5" stroke-linejoin="round"/>
<line x1="196.4" y1="580" x2="196.4" y2="594" stroke="#000" stroke-width="2.2"/>
<line x1="226" y1="585" x2="226" y2="599" stroke="#000" stroke-width="2.2"/>
<path d="M51.00,613.02 L52.00,611.41 L53.00,609.89 L54.00,608.46 L55.00,607.11 L56.00,605.83 L57.00,604.64 L58.00,603.53 L59.00,602.49 L60.00,601.53 L61.00,600.65 L62.00,599.84 L63.00,599.10 L64.00,598.44 L65.00,597.84 L66.00,597.31 L67.00,596.85 L68.00,596.46 L69.00,596.13 L70.00,595.87 L71.00,595.66 L72.00,595.52 L73.00,595.44 L74.00,595.42 L75.00,595.46 L76.00,595.55 L77.00,595.70 L78.00,595.90 L79.00,596.15 L80.00,596.46 L81.00,596.81 L82.00,597.22 L83.00,597.67 L84.00,598.16 L85.00,598.71 L86.00,599.29 L87.00,599.92 L88.00,600.59 L89.00,601.31 L90.00,602.05 L91.00,602.84 L92.00,603.67 L93.00,604.52 L94.00,605.42 L95.00,606.34 L96.00,607.30 L97.00,608.28 L98.00,609.30 L99.00,610.34 L100.00,611.41 L101.00,612.51 L102.00,613.62 L103.00,614.76 L104.00,615.93 L105.00,617.11 L106.00,618.31 L107.00,619.53 L108.00,620.76 L109.00,622.01 L110.00,623.27 L111.00,624.55 L112.00,625.84 L113.00,627.14 L114.00,628.44 L115.00,629.76 L116.00,631.08 L117.00,632.40 L118.00,633.73 L119.00,635.06 L120.00,636.40 L121.00,637.73 L122.00,639.06 L123.00,640.39 L124.00,641.72 L125.00,643.04 L126.00,644.35 L127.00,645.66 L128.00,646.96 L129.00,648.25 L130.00,649.52 L131.00,650.79 L132.00,652.04 L133.00,653.28 L134.00,654.50 L135.00,655.70 L136.00,656.88 L137.00,658.05 L138.00,659.19 L139.00,660.30 L140.00,661.38 L141.00,662.44 L142.00,663.45 L143.00,664.44 L144.00,665.38 L145.00,666.28 L146.00,667.14 L147.00,667.95 L148.00,668.71 L149.00,669.42 L150.00,670.08 L151.00,670.68 L152.00,671.22 L153.00,671.70 L154.00,672.11 L155.00,672.46 L156.00,672.74 L157.00,672.94 L158.00,673.07 L159.00,673.13 L160.00,673.10 L161.00,672.99 L162.00,672.80 L163.00,672.52 L164.00,672.15 L165.00,671.69 L166.00,671.14 L167.00,670.48 L168.00,669.73 L169.00,668.87 L170.00,667.91 L171.00,666.85 L172.00,665.67 L173.00,664.38 L174.00,662.99 L175.00,661.49 L176.00,659.91 L177.00,658.24 L178.00,656.50 L179.00,654.68 L180.00,652.81 L181.00,650.88 L182.00,648.90 L183.00,646.88 L184.00,644.82 L185.00,642.74 L186.00,640.64 L187.00,638.53 L188.00,636.41 L189.00,634.30 L190.00,632.19 L191.00,630.10 L192.00,628.03 L193.00,626.00 L194.00,624.02 L195.00,622.12 L196.00,620.31 L197.00,618.62 L198.00,617.07 L199.00,615.68 L200.00,614.48 L201.00,613.49 L202.00,612.72 L203.00,612.20 L204.00,611.90 L205.00,611.80 L206.00,611.86 L207.00,612.06 L208.00,612.36 L209.00,612.74 L210.00,613.17 L211.00,613.63 L212.00,614.07 L213.00,614.48 L214.00,614.87 L215.00,615.23 L216.00,615.58 L217.00,615.93 L218.00,616.28 L219.00,616.64 L220.00,617.02 L221.00,617.42 L222.00,617.87 L223.00,618.35 L224.00,618.89 L225.00,619.48 L226.00,620.14 L227.00,620.88 L228.00,621.70 L229.00,622.62 L230.00,623.63 L231.00,624.74 L232.00,625.95 L233.00,627.26 L234.00,628.69 L235.00,630.22 L236.00,631.87 L237.00,633.63 L238.00,635.51 L239.00,637.51 L240.00,639.64 L241.00,641.89 L242.00,644.27 L243.00,646.78 L244.00,649.42 L245.00,652.20 L246.00,655.12 L247.00,658.18 L248.00,661.38 L249.00,664.73 L250.00,668.23 L251.00,671.88 L252.00,675.69 L253.00,679.65 L253.60,682.11" fill="none" stroke="#000" stroke-width="1.5" stroke-linejoin="round"/>
<line x1="199" y1="606" x2="199" y2="620" stroke="#000" stroke-width="2.2"/>
<line x1="231" y1="617" x2="231" y2="631" stroke="#000" stroke-width="2.2"/>
<path d="M51.00,660.97 L52.00,659.81 L53.00,658.64 L54.00,657.47 L55.00,656.30 L56.00,655.13 L57.00,653.96 L58.00,652.80 L59.00,651.66 L60.00,650.53 L61.00,649.42 L62.00,648.33 L63.00,647.26 L64.00,646.22 L65.00,645.21 L66.00,644.23 L67.00,643.29 L68.00,642.38 L69.00,641.52 L70.00,640.71 L71.00,639.94 L72.00,639.22 L73.00,638.56 L74.00,637.95 L75.00,637.40 L76.00,636.92 L77.00,636.50 L78.00,636.15 L79.00,635.88 L80.00,635.67 L81.00,635.55 L82.00,635.51 L83.00,635.54 L84.00,635.66 L85.00,635.84 L86.00,636.10 L87.00,636.43 L88.00,636.83 L89.00,637.29 L90.00,637.82 L91.00,638.40 L92.00,639.05 L93.00,639.75 L94.00,640.51 L95.00,641.32 L96.00,642.17 L97.00,643.08 L98.00,644.03 L99.00,645.02 L100.00,646.06 L101.00,647.13 L102.00,648.24 L103.00,649.39 L104.00,650.56 L105.00,651.77 L106.00,653.00 L107.00,654.26 L108.00,655.54 L109.00,656.84 L110.00,658.17 L111.00,659.50 L112.00,660.85 L113.00,662.22 L114.00,663.59 L115.00,664.97 L116.00,666.35 L117.00,667.74 L118.00,669.13 L119.00,670.52 L120.00,671.90 L121.00,673.28 L122.00,674.65 L123.00,676.01 L124.00,677.36 L125.00,678.69 L126.00,680.02 L127.00,681.33 L128.00,682.62 L129.00,683.89 L130.00,685.15 L131.00,686.38 L132.00,687.59 L133.00,688.78 L134.00,689.94 L135.00,691.08 L136.00,692.18 L137.00,693.26 L138.00,694.30 L139.00,695.32 L140.00,696.29 L141.00,697.23 L142.00,698.14 L143.00,699.00 L144.00,699.83 L145.00,700.61 L146.00,701.35 L147.00,702.04 L148.00,702.69 L149.00,703.29 L150.00,703.84 L151.00,704.34 L152.00,704.78 L153.00,705.17 L154.00,705.51 L155.00,705.79 L156.00,706.01 L157.00,706.17 L158.00,706.28 L159.00,706.31 L160.00,706.29 L161.00,706.19 L162.00,706.03 L163.00,705.80 L164.00,705.50 L165.00,705.13 L166.00,704.69 L167.00,704.17 L168.00,703.57 L169.00,702.90 L170.00,702.14 L171.00,701.31 L172.00,700.39 L173.00,699.39 L174.00,698.30 L175.00,697.13 L176.00,695.87 L177.00,694.52 L178.00,693.08 L179.00,691.54 L180.00,689.91 L181.00,688.19 L182.00,686.37 L183.00,684.47 L184.00,682.51 L185.00,680.50 L186.00,678.47 L187.00,676.43 L188.00,674.39 L189.00,672.38 L190.00,670.42 L191.00,668.51 L192.00,666.69 L193.00,664.95 L194.00,663.34 L195.00,661.85 L196.00,660.51 L197.00,659.34 L198.00,658.36 L199.00,657.57 L200.00,656.99 L201.00,656.62 L202.00,656.41 L203.00,656.36 L204.00,656.43 L205.00,656.61 L206.00,656.87 L207.00,657.18 L208.00,657.54 L209.00,657.90 L210.00,658.26 L211.00,658.58 L212.00,658.85 L213.00,659.04 L214.00,659.13 L215.00,659.11 L216.00,658.99 L217.00,658.80 L218.00,658.56 L219.00,658.29 L220.00,658.02 L221.00,657.76 L222.00,657.53 L223.00,657.37 L224.00,657.28 L225.00,657.30 L226.00,657.44 L227.00,657.73 L228.00,658.17 L229.00,658.78 L230.00,659.55 L231.00,660.47 L232.00,661.54 L233.00,662.76 L234.00,664.11 L235.00,665.60 L236.00,667.22 L237.00,668.96 L238.00,670.83 L239.00,672.81 L240.00,674.90 L241.00,677.10 L242.00,679.41 L243.00,681.81 L244.00,684.31 L245.00,686.90 L246.00,689.57 L247.00,692.32 L248.00,695.15 L249.00,698.04 L250.00,701.01 L251.00,704.04 L252.00,707.12 L253.00,710.26 L253.60,712.16" fill="none" stroke="#000" stroke-width="1.5" stroke-linejoin="round"/>
<line x1="197" y1="650.5" x2="197" y2="664.5" stroke="#000" stroke-width="2.2"/>
<line x1="232.4" y1="652.5" x2="232.4" y2="666.5" stroke="#000" stroke-width="2.2"/>
<path d="M51.00,697.46 L52.00,695.39 L53.00,693.41 L54.00,691.51 L55.00,689.70 L56.00,687.96 L57.00,686.31 L58.00,684.74 L59.00,683.25 L60.00,681.83 L61.00,680.49 L62.00,679.23 L63.00,678.05 L64.00,676.93 L65.00,675.90 L66.00,674.93 L67.00,674.03 L68.00,673.21 L69.00,672.45 L70.00,671.76 L71.00,671.14 L72.00,670.59 L73.00,670.10 L74.00,669.67 L75.00,669.31 L76.00,669.01 L77.00,668.77 L78.00,668.59 L79.00,668.47 L80.00,668.41 L81.00,668.40 L82.00,668.45 L83.00,668.56 L84.00,668.72 L85.00,668.94 L86.00,669.20 L87.00,669.52 L88.00,669.89 L89.00,670.31 L90.00,670.77 L91.00,671.28 L92.00,671.84 L93.00,672.45 L94.00,673.09 L95.00,673.79 L96.00,674.52 L97.00,675.29 L98.00,676.11 L99.00,676.96 L100.00,677.86 L101.00,678.79 L102.00,679.75 L103.00,680.75 L104.00,681.79 L105.00,682.86 L106.00,683.96 L107.00,685.09 L108.00,686.25 L109.00,687.45 L110.00,688.67 L111.00,689.91 L112.00,691.19 L113.00,692.49 L114.00,693.81 L115.00,695.15 L116.00,696.52 L117.00,697.91 L118.00,699.32 L119.00,700.75 L120.00,702.20 L121.00,703.67 L122.00,705.15 L123.00,706.64 L124.00,708.13 L125.00,709.64 L126.00,711.14 L127.00,712.65 L128.00,714.15 L129.00,715.65 L130.00,717.13 L131.00,718.60 L132.00,720.06 L133.00,721.50 L134.00,722.92 L135.00,724.31 L136.00,725.67 L137.00,727.00 L138.00,728.30 L139.00,729.57 L140.00,730.79 L141.00,731.97 L142.00,733.10 L143.00,734.19 L144.00,735.22 L145.00,736.20 L146.00,737.12 L147.00,737.98 L148.00,738.78 L149.00,739.51 L150.00,740.17 L151.00,740.76 L152.00,741.27 L153.00,741.70 L154.00,742.05 L155.00,742.32 L156.00,742.50 L157.00,742.58 L158.00,742.58 L159.00,742.47 L160.00,742.28 L161.00,741.99 L162.00,741.60 L163.00,741.13 L164.00,740.57 L165.00,739.92 L166.00,739.19 L167.00,738.37 L168.00,737.47 L169.00,736.50 L170.00,735.44 L171.00,734.31 L172.00,733.10 L173.00,731.82 L174.00,730.47 L175.00,729.05 L176.00,727.56 L177.00,726.00 L178.00,724.38 L179.00,722.69 L180.00,720.95 L181.00,719.14 L182.00,717.28 L183.00,715.38 L184.00,713.44 L185.00,711.50 L186.00,709.55 L187.00,707.61 L188.00,705.71 L189.00,703.84 L190.00,702.04 L191.00,700.31 L192.00,698.66 L193.00,697.12 L194.00,695.69 L195.00,694.39 L196.00,693.23 L197.00,692.23 L198.00,691.41 L199.00,690.77 L200.00,690.29 L201.00,689.95 L202.00,689.73 L203.00,689.61 L204.00,689.56 L205.00,689.56 L206.00,689.59 L207.00,689.61 L208.00,689.62 L209.00,689.58 L210.00,689.48 L211.00,689.30 L212.00,689.04 L213.00,688.73 L214.00,688.37 L215.00,687.99 L216.00,687.61 L217.00,687.24 L218.00,686.89 L219.00,686.58 L220.00,686.33 L221.00,686.16 L222.00,686.09 L223.00,686.12 L224.00,686.27 L225.00,686.57 L226.00,687.02 L227.00,687.65 L228.00,688.45 L229.00,689.41 L230.00,690.53 L231.00,691.81 L232.00,693.25 L233.00,694.83 L234.00,696.56 L235.00,698.42 L236.00,700.42 L237.00,702.55 L238.00,704.81 L239.00,707.19 L240.00,709.69 L241.00,712.30 L242.00,715.02 L243.00,717.85 L244.00,720.77 L245.00,723.79 L246.00,726.90 L247.00,730.10 L248.00,733.38 L249.00,736.74 L250.00,740.17 L251.00,743.67 L252.00,747.23 L253.00,750.86 L253.60,753.06" fill="none" stroke="#000" stroke-width="1.5" stroke-linejoin="round"/>
<line x1="194.4" y1="684.5" x2="194.4" y2="698.5" stroke="#000" stroke-width="2.2"/>
<line x1="228" y1="680.5" x2="228" y2="694.5" stroke="#000" stroke-width="2.2"/>
</g>
<g clip-path="url(#clipd)">
<path d="M370.2 428.8L372.9 430.3L373.9 435.0L375.9 430.8L375.8 423.2L374.7 431.1L375.7 429.7L376.4 427.2L376.5 424.4L377.4 426.7L379.6 429.4L378.5 428.7L379.2 427.8L380.8 428.4L382.4 428.2L383.3 427.4L382.9 424.6L382.9 429.0L382.6 425.7L384.1 427.5L383.7 425.5L385.3 429.1L384.9 426.9L386.6 426.6L387.2 429.2L389.6 430.4L390.0 431.1L391.7 428.8L394.3 429.0L395.0 429.1L398.0 431.2L398.9 428.2L400.8 430.3L401.7 432.7L402.7 425.5L403.8 431.0L407.8 431.5L410.7 433.1L409.7 436.0L411.0 435.0L411.8 435.9L413.5 435.9L413.3 437.6L414.3 439.1L415.5 435.3L417.9 436.5L419.1 439.0L418.2 437.0L419.9 440.0L420.2 437.8L421.4 442.0L420.4 439.2L423.0 442.4L422.5 440.1L423.7 437.7L424.6 440.1L428.8 439.4L429.0 442.1L430.3 440.7L430.5 445.2L431.8 440.3L431.3 444.3L432.5 440.5L432.9 441.5L432.3 441.3L434.3 442.2L434.0 442.2L434.7 444.8L436.0 446.7L436.2 445.7L436.6 441.6L437.9 444.7L439.6 446.8L439.8 445.1L442.0 446.8L441.9 444.3L444.1 446.0L445.0 448.3L446.7 444.7L447.9 447.0L449.9 446.9L451.2 446.5L452.1 448.1L452.3 449.8L454.3 446.9L456.1 446.1L455.0 446.9L454.1 450.0L456.0 445.6L456.8 445.1L460.1 445.8L460.2 448.2L459.4 446.8L461.1 448.0L462.8 444.1L463.9 445.4L464.4 443.7L466.3 443.3L466.6 445.9L467.1 444.4L466.8 448.7L468.5 446.8L468.6 444.3L468.7 443.6L470.5 440.6L471.5 439.9L470.0 445.1L472.7 439.3L472.6 442.9L474.1 442.7L475.5 443.0L475.6 441.1L475.6 437.4L477.1 437.8L477.1 444.6L476.9 437.2L477.9 439.3L478.6 441.3L479.3 433.5L480.4 436.2L481.3 439.5L481.0 433.7L482.1 436.6L483.9 437.5L487.2 431.5L487.6 431.2L487.5 432.1L488.3 430.6L489.8 428.5L490.8 428.4L491.5 429.0L492.3 427.2L493.4 427.1L492.5 427.4L496.7 424.4L496.9 424.3L497.6 423.9L500.6 424.8L500.0 418.6L501.2 415.4L501.8 426.9L501.9 423.9L501.5 423.3L502.5 418.2L503.4 421.3L503.4 428.8L503.9 424.6L503.1 420.7L503.5 420.8L507.3 423.0L508.7 424.0L508.5 426.6L509.2 428.7L511.0 425.9L511.5 423.2L512.2 429.1L513.0 429.7L512.9 426.6L514.3 431.4L517.1 424.3L517.6 431.1L517.5 429.5L517.6 428.2L519.3 422.4L520.7 426.1L521.5 421.9L523.0 425.1L523.8 423.3L525.6 432.8L526.9 416.5L528.4 431.4L529.4 430.3L530.2 421.0L530.2 423.9L531.6 439.1L532.5 422.5L533.1 426.4L532.7 425.3L533.7 427.5L535.4 426.0L536.5 423.3L536.5 431.4L537.2 429.5L538.5 431.4L538.5 430.9L539.7 440.5L539.4 432.6L540.9 427.4L540.8 432.3L541.6 428.0L541.2 422.8L542.9 438.0L541.9 437.6L544.0 444.3L544.2 443.7L545.2 440.5L546.2 450.6L545.5 440.3L548.8 450.3L552.0 451.8" fill="none" stroke="none" marker-start="url(#m2)" marker-mid="url(#m2)" marker-end="url(#m2)"/>
<path d="M370.1 539.4L370.9 542.7L372.3 533.8L373.1 542.5L373.8 544.1L374.2 541.9L375.5 541.0L375.0 541.7L376.3 536.9L377.9 538.3L378.0 539.5L379.4 539.0L378.8 538.7L379.6 546.3L380.1 539.5L380.6 543.2L380.6 537.4L381.7 537.2L381.2 541.6L384.0 543.4L385.0 539.8L384.4 542.0L387.1 545.6L387.4 545.5L389.7 542.1L391.1 548.1L392.7 548.7L395.3 548.3L394.2 543.5L397.1 546.1L397.7 548.8L398.8 548.3L402.0 550.3L402.4 551.5L402.5 551.2L402.6 552.3L404.5 555.0L404.5 552.5L405.2 551.5L405.2 552.5L406.4 550.6L407.4 553.7L407.3 556.1L408.9 550.7L410.3 552.3L413.5 559.6L413.7 556.7L413.8 558.3L415.0 559.8L415.8 563.3L416.5 561.9L417.8 563.0L419.3 563.3L419.6 560.3L420.0 562.9L420.7 565.5L421.5 558.1L422.1 559.8L422.5 565.6L424.0 562.5L426.2 565.3L426.0 566.8L426.2 570.1L426.6 567.0L427.9 567.7L428.1 570.4L429.2 567.3L432.5 567.7L432.3 573.9L434.4 567.0L434.2 568.3L434.7 569.1L434.8 573.5L435.2 573.8L438.7 574.9L437.5 576.0L438.3 572.5L439.2 574.0L440.8 574.0L441.6 575.8L441.8 575.8L442.3 573.4L441.9 576.6L442.6 577.3L443.0 578.0L442.2 576.2L444.5 577.8L446.3 576.9L445.2 573.9L446.1 580.2L445.9 580.7L448.0 576.8L448.6 578.1L448.5 579.4L448.4 579.9L448.5 579.4L452.6 580.5L452.1 581.1L453.7 577.8L454.5 581.6L454.8 580.8L455.0 585.4L456.2 585.0L460.2 583.0L461.0 581.4L461.2 583.9L462.4 580.4L464.2 585.2L465.1 581.7L465.8 582.5L465.4 580.4L467.1 580.6L468.5 585.5L469.4 582.9L468.9 581.1L475.1 581.5L475.9 578.7L475.4 578.9L476.6 578.9L477.1 581.6L480.0 575.1L479.1 575.9L480.2 575.2L481.6 577.6L480.3 572.2L480.6 572.6L481.2 572.6L480.5 576.2L480.3 570.9L483.2 574.7L482.4 568.5L483.8 571.8L486.1 569.5L487.7 566.3L489.3 562.5L488.5 562.3L489.1 559.9L492.1 557.6L492.1 554.9L492.8 559.6L497.4 541.2L497.4 543.2L498.1 539.9L500.4 539.1L501.7 534.5L502.1 539.8L502.6 534.3L503.2 534.0L502.5 537.4L504.2 531.7L503.2 536.5L505.4 530.1L505.8 525.5L506.3 524.8L507.2 526.9L509.5 525.2L511.1 523.6L511.9 524.4L513.3 520.4L513.4 519.3L516.1 514.4L516.0 515.3L516.6 510.8L516.3 512.7L517.6 514.7L517.6 512.7L518.1 505.9L519.8 508.9L521.6 522.7L523.1 509.5L523.3 522.1L524.9 519.2L525.9 520.9L525.1 522.1L527.4 518.9L528.3 519.2L529.1 522.8L536.4 547.1L538.2 535.5L537.4 544.0L537.3 529.5L538.8 532.4L538.6 533.1L538.3 549.8L539.4 542.9L540.6 545.9L541.3 532.9L540.5 540.0L542.7 555.2L542.5 556.1L542.9 557.7L544.2 558.8L545.5 549.7L545.9 555.8L547.7 555.3L548.0 555.3L549.1 549.6L549.6 558.1L551.3 555.9L552.5 550.8" fill="none" stroke="none" marker-start="url(#m13)" marker-mid="url(#m13)" marker-end="url(#m13)"/>
<path d="M372.0 650.9L372.8 653.5L372.7 652.8L372.5 652.8L372.1 647.0L375.4 643.8L375.5 647.9L376.3 648.0L377.6 643.5L379.2 641.5L378.1 647.0L379.2 644.4L379.1 647.9L382.7 642.7L382.0 638.6L382.1 642.0L385.1 645.0L384.2 641.0L388.2 640.8L387.9 637.8L389.5 635.3L390.8 639.9L390.9 639.3L390.6 636.7L392.6 640.2L392.9 636.0L395.5 639.3L394.9 637.8L397.4 638.5L396.4 638.0L397.1 638.6L398.7 638.7L399.3 640.3L401.4 640.9L400.4 638.5L400.9 639.9L402.9 640.4L406.2 643.2L406.7 638.0L408.2 643.8L412.1 646.3L414.4 652.1L416.2 651.4L418.9 656.0L420.5 653.5L419.8 655.0L420.6 660.2L423.2 657.8L423.5 660.0L424.5 656.8L424.5 662.7L424.5 660.3L425.7 664.7L426.0 662.9L426.8 665.4L427.7 663.0L428.6 670.7L429.2 667.8L431.4 672.4L431.1 669.3L433.3 671.0L433.9 674.8L434.6 676.9L436.2 673.0L436.9 675.0L437.9 675.7L437.1 676.1L437.7 678.2L440.1 681.4L439.9 680.2L439.7 681.7L440.1 677.0L440.4 674.0L441.0 680.6L441.6 682.8L441.5 680.9L442.3 683.7L443.3 680.8L448.2 686.2L446.6 684.7L448.5 686.8L449.3 685.5L449.7 690.6L451.3 687.1L452.8 689.5L452.5 690.1L454.1 688.3L455.7 687.5L457.5 688.2L458.4 692.6L459.8 692.9L461.5 693.4L461.5 692.9L461.8 693.2L462.8 694.4L463.1 696.7L463.5 695.6L466.6 698.4L466.0 693.6L466.5 693.0L468.3 696.3L469.0 692.8L469.8 694.5L470.1 697.5L471.2 696.5L471.6 695.6L472.1 697.8L473.1 694.1L473.5 693.0L476.9 696.4L476.9 695.8L479.8 690.5L481.3 691.1L482.1 690.1L481.1 688.0L483.7 681.9L484.4 687.1L484.6 683.9L485.3 684.9L484.3 684.0L489.4 678.1L489.3 675.2L489.5 673.5L490.4 669.1L492.9 668.1L493.2 670.9L493.4 671.5L494.2 666.8L494.8 664.9L495.5 663.6L495.3 658.9L496.5 659.7L496.8 662.1L497.4 658.5L499.9 658.6L500.1 657.8L500.8 660.4L503.7 658.3L504.3 656.1L504.7 656.5L505.1 658.5L506.2 656.3L507.5 651.0L506.6 653.8L507.3 655.3L507.3 659.9L509.7 653.7L510.3 646.0L514.2 649.8L513.6 661.1L514.1 647.3L514.4 654.9L515.3 653.2L516.8 654.2L517.2 663.0L517.8 652.0L518.6 649.4L519.3 654.7L521.0 654.3L519.7 657.6L521.5 653.5L521.5 652.4L522.7 655.6L522.4 654.8L522.7 651.4L524.3 651.1L523.6 655.7L523.9 659.8L523.9 656.2L525.1 651.9L526.2 652.0L525.5 652.4L526.2 653.3L526.4 666.1L527.4 658.4L528.3 653.7L530.1 648.1L530.1 656.4L531.4 664.2L530.7 661.8L532.8 653.8L534.1 658.8L535.8 655.1L536.0 652.7L535.7 648.5L536.8 648.7L541.2 656.4L539.5 663.1L540.4 641.5L542.0 672.9L543.9 675.7L543.9 671.9L545.2 652.0L546.2 659.7L547.5 657.1L548.6 675.1L549.9 669.9L551.7 682.4L551.3 689.7L553.5 686.1" fill="none" stroke="none" marker-start="url(#m11)" marker-mid="url(#m11)" marker-end="url(#m11)"/>
<path d="M370.00,432.00 L371.49,431.77 L372.97,431.51 L374.44,431.22 L375.91,430.92 L377.38,430.64 L378.86,430.38 L380.36,430.17 L381.87,430.03 L383.42,429.97 L385.00,430.00 L386.90,430.16 L388.84,430.41 L390.83,430.75 L392.85,431.18 L394.89,431.67 L396.94,432.24 L398.99,432.86 L401.02,433.53 L403.03,434.25 L405.00,435.00 L407.04,435.87 L409.06,436.85 L411.07,437.93 L413.06,439.06 L415.04,440.25 L417.02,441.45 L419.00,442.65 L420.99,443.82 L422.99,444.95 L425.00,446.00 L426.98,446.97 L428.97,447.91 L430.97,448.83 L432.97,449.73 L434.98,450.61 L436.98,451.48 L438.99,452.36 L440.99,453.23 L443.00,454.11 L445.00,455.00 L447.01,455.91 L449.04,456.83 L451.09,457.77 L453.13,458.70 L455.17,459.64 L457.20,460.56 L459.20,461.46 L461.17,462.34 L463.11,463.19 L465.00,464.00 L466.59,464.67 L468.14,465.31 L469.68,465.94 L471.19,466.55 L472.69,467.14 L474.17,467.72 L475.64,468.30 L477.10,468.87 L478.55,469.43 L480.00,470.00 L481.35,470.53 L482.69,471.06 L484.04,471.59 L485.37,472.11 L486.70,472.63 L488.01,473.13 L489.30,473.63 L490.56,474.10 L491.80,474.56 L493.00,475.00 L493.95,475.34 L494.85,475.67 L495.71,475.98 L496.56,476.28 L497.39,476.57 L498.24,476.86 L499.11,477.14 L500.02,477.42 L500.97,477.71 L502.00,478.00 L503.54,478.41 L505.18,478.82 L506.90,479.22 L508.70,479.62 L510.54,480.03 L512.42,480.42 L514.33,480.82 L516.23,481.22 L518.13,481.61 L520.00,482.00 L521.96,482.41 L523.93,482.83 L525.92,483.25 L527.92,483.66 L529.93,484.08 L531.94,484.48 L533.96,484.88 L535.98,485.27 L537.99,485.64 L540.00,486.00 L541.99,486.34 L543.95,486.68 L545.91,487.01 L547.87,487.33 L549.83,487.63 L551.81,487.93 L553.81,488.22 L555.84,488.49 L557.90,488.75 L560.00,489.00 L562.43,489.26 L564.91,489.49 L567.44,489.71 L570.01,489.91 L572.60,490.09 L575.20,490.27 L577.82,490.45 L580.43,490.62 L583.03,490.81 L585.60,491.00" fill="none" stroke="#222" stroke-width="1.2" stroke-dasharray="4.5,3"/>
<path d="M370.00,501.00 L373.01,500.81 L376.04,500.62 L379.09,500.44 L382.13,500.26 L385.18,500.08 L388.20,499.90 L391.21,499.70 L394.18,499.49 L397.11,499.25 L400.00,499.00 L402.61,498.75 L405.20,498.48 L407.76,498.19 L410.30,497.90 L412.82,497.59 L415.32,497.28 L417.78,496.96 L420.22,496.64 L422.63,496.32 L425.00,496.00 L427.11,495.73 L429.20,495.50 L431.28,495.28 L433.34,495.06 L435.37,494.83 L437.37,494.57 L439.34,494.27 L441.27,493.92 L443.16,493.50 L445.00,493.00 L446.62,492.47 L448.18,491.89 L449.70,491.26 L451.19,490.59 L452.65,489.88 L454.10,489.14 L455.55,488.38 L457.01,487.60 L458.49,486.80 L460.00,486.00 L461.69,485.13 L463.40,484.26 L465.13,483.39 L466.88,482.49 L468.62,481.56 L470.35,480.59 L472.07,479.56 L473.75,478.46 L475.40,477.28 L477.00,476.00 L478.73,474.38 L480.41,472.55 L482.04,470.56 L483.63,468.46 L485.20,466.32 L486.75,464.20 L488.30,462.15 L489.85,460.23 L491.41,458.49 L493.00,457.00 L494.20,455.98 L495.39,454.95 L496.58,453.95 L497.76,453.00 L498.95,452.13 L500.15,451.37 L501.35,450.74 L502.56,450.29 L503.77,450.03 L505.00,450.00 L506.48,450.31 L508.00,450.98 L509.56,451.95 L511.13,453.16 L512.70,454.55 L514.25,456.05 L515.77,457.61 L517.25,459.16 L518.66,460.65 L520.00,462.00 L521.11,463.16 L522.13,464.34 L523.08,465.54 L523.98,466.75 L524.88,467.97 L525.78,469.20 L526.71,470.42 L527.71,471.63 L528.80,472.82 L530.00,474.00 L531.66,475.48 L533.44,476.98 L535.34,478.49 L537.33,480.00 L539.38,481.49 L541.49,482.94 L543.63,484.33 L545.77,485.65 L547.90,486.88 L550.00,488.00 L551.96,488.95 L553.95,489.81 L555.97,490.61 L558.01,491.34 L560.06,492.03 L562.10,492.67 L564.12,493.27 L566.12,493.86 L568.09,494.43 L570.00,495.00 L571.63,495.48 L573.23,495.93 L574.81,496.34 L576.36,496.74 L577.91,497.12 L579.44,497.49 L580.97,497.86 L582.51,498.23 L584.05,498.61 L585.60,499.00" fill="none" stroke="#222" stroke-width="1.2" stroke-dasharray="4.5,3"/>
<path d="M370.00,502.50 L376.05,502.40 L382.19,502.31 L388.38,502.23 L394.58,502.14 L400.76,502.06 L406.87,501.97 L412.89,501.87 L418.78,501.76 L424.49,501.64 L430.00,501.50 L434.38,501.38 L438.69,501.26 L442.94,501.14 L447.11,501.01 L451.20,500.87 L455.18,500.72 L459.07,500.56 L462.84,500.39 L466.48,500.20 L470.00,500.00 L472.58,499.85 L475.07,499.71 L477.49,499.58 L479.84,499.44 L482.14,499.29 L484.38,499.12 L486.58,498.91 L488.75,498.66 L490.88,498.36 L493.00,498.00 L494.83,497.64 L496.63,497.26 L498.40,496.86 L500.14,496.43 L501.85,495.96 L503.53,495.46 L505.18,494.92 L506.81,494.33 L508.42,493.69 L510.00,493.00 L511.51,492.29 L513.00,491.55 L514.47,490.78 L515.92,489.96 L517.34,489.10 L518.73,488.20 L520.10,487.24 L521.43,486.22 L522.73,485.14 L524.00,484.00 L525.35,482.48 L526.64,480.62 L527.88,478.52 L529.08,476.32 L530.26,474.13 L531.41,472.08 L532.55,470.28 L533.69,468.85 L534.83,467.92 L536.00,467.60 L537.21,468.02 L538.38,469.12 L539.54,470.76 L540.69,472.81 L541.84,475.13 L543.00,477.58 L544.19,480.03 L545.41,482.34 L546.68,484.38 L548.00,486.00 L549.09,487.06 L550.17,488.04 L551.26,488.95 L552.37,489.79 L553.50,490.58 L554.68,491.31 L555.90,492.02 L557.19,492.69 L558.55,493.35 L560.00,494.00 L562.12,494.82 L564.43,495.55 L566.89,496.21 L569.46,496.80 L572.13,497.34 L574.84,497.86 L577.58,498.37 L580.31,498.89 L582.99,499.42 L585.60,500.00" fill="none" stroke="#222" stroke-width="1.2" stroke-dasharray="4.5,3"/>
<path d="M370.00,429.49 L371.00,429.21 L372.00,428.96 L373.00,428.74 L374.00,428.55 L375.00,428.38 L376.00,428.24 L377.00,428.13 L378.00,428.04 L379.00,427.97 L380.00,427.93 L381.00,427.92 L382.00,427.92 L383.00,427.95 L384.00,428.00 L385.00,428.07 L386.00,428.16 L387.00,428.27 L388.00,428.40 L389.00,428.55 L390.00,428.71 L391.00,428.89 L392.00,429.09 L393.00,429.31 L394.00,429.54 L395.00,429.78 L396.00,430.04 L397.00,430.31 L398.00,430.59 L399.00,430.89 L400.00,431.20 L401.00,431.52 L402.00,431.85 L403.00,432.19 L404.00,432.53 L405.00,432.89 L406.00,433.25 L407.00,433.62 L408.00,434.00 L409.00,434.38 L410.00,434.77 L411.00,435.16 L412.00,435.56 L413.00,435.96 L414.00,436.36 L415.00,436.76 L416.00,437.17 L417.00,437.58 L418.00,437.98 L419.00,438.39 L420.00,438.79 L421.00,439.20 L422.00,439.60 L423.00,440.00 L424.00,440.39 L425.00,440.78 L426.00,441.16 L427.00,441.54 L428.00,441.92 L429.00,442.28 L430.00,442.64 L431.00,442.99 L432.00,443.33 L433.00,443.67 L434.00,443.99 L435.00,444.30 L436.00,444.60 L437.00,444.89 L438.00,445.17 L439.00,445.43 L440.00,445.68 L441.00,445.92 L442.00,446.14 L443.00,446.34 L444.00,446.53 L445.00,446.71 L446.00,446.86 L447.00,447.00 L448.00,447.11 L449.00,447.21 L450.00,447.29 L451.00,447.35 L452.00,447.38 L453.00,447.40 L454.00,447.39 L455.00,447.36 L456.00,447.30 L457.00,447.23 L458.00,447.12 L459.00,446.99 L460.00,446.83 L461.00,446.65 L462.00,446.44 L463.00,446.20 L464.00,445.94 L465.00,445.65 L466.00,445.33 L467.00,444.98 L468.00,444.60 L469.00,444.20 L470.00,443.77 L471.00,443.30 L472.00,442.81 L473.00,442.29 L474.00,441.74 L475.00,441.15 L476.00,440.54 L477.00,439.90 L478.00,439.22 L479.00,438.51 L480.00,437.78 L481.00,437.01 L482.00,436.21 L483.00,435.40 L484.00,434.56 L485.00,433.72 L486.00,432.88 L487.00,432.04 L488.00,431.20 L489.00,430.38 L490.00,429.58 L491.00,428.80 L492.00,428.05 L493.00,427.33 L494.00,426.66 L495.00,426.03 L496.00,425.46 L497.00,424.94 L498.00,424.49 L499.00,424.10 L500.00,423.79 L501.00,423.56 L502.00,423.42 L503.00,423.37 L504.00,423.41 L505.00,423.55 L506.00,423.79 L507.00,424.10 L508.00,424.47 L509.00,424.90 L510.00,425.36 L511.00,425.85 L512.00,426.34 L513.00,426.84 L514.00,427.33 L515.00,427.78 L516.00,428.20 L517.00,428.57 L518.00,428.87 L519.00,429.09 L520.00,429.21 L521.00,429.24 L522.00,429.14 L523.00,428.93 L524.00,428.61 L525.00,428.24 L526.00,427.84 L527.00,427.44 L528.00,427.09 L529.00,426.81 L530.00,426.64 L531.00,426.61 L532.00,426.77 L533.00,427.13 L534.00,427.74 L535.00,428.62 L536.00,429.77 L537.00,431.21 L538.00,432.95 L539.00,435.02 L540.00,437.40 L541.00,440.01 L542.00,442.75 L543.00,445.53 L544.00,448.24 L545.00,450.79 L546.00,453.18 L547.00,455.41 L548.00,457.49 L549.00,459.43 L550.00,461.23 L551.00,462.90 L552.00,464.45 L553.00,465.88 L554.00,467.20 L555.00,468.42 L556.00,469.55 L557.00,470.59 L558.00,471.54 L559.00,472.43 L560.00,473.24 L561.00,474.00 L562.00,474.71 L563.00,475.36 L564.00,475.98 L565.00,476.57 L566.00,477.12 L567.00,477.65 L568.00,478.15 L569.00,478.62 L570.00,479.07 L571.00,479.49 L572.00,479.89 L573.00,480.28 L574.00,480.64 L575.00,480.99 L576.00,481.32 L577.00,481.64 L578.00,481.94 L579.00,482.23 L580.00,482.52 L581.00,482.79 L582.00,483.06 L583.00,483.33 L584.00,483.59 L585.00,483.85 L585.60,484.00" fill="none" stroke="#000" stroke-width="1.8" stroke-linejoin="round"/>
<path d="M370.00,543.00 L371.49,543.38 L372.98,543.73 L374.46,544.06 L375.94,544.38 L377.42,544.71 L378.90,545.07 L380.40,545.46 L381.91,545.91 L383.45,546.41 L385.00,547.00 L386.94,547.81 L388.94,548.71 L390.99,549.68 L393.06,550.73 L395.14,551.84 L397.21,553.00 L399.25,554.20 L401.24,555.44 L403.16,556.71 L405.00,558.00 L406.66,559.26 L408.25,560.58 L409.78,561.94 L411.28,563.35 L412.74,564.78 L414.19,566.23 L415.62,567.69 L417.06,569.14 L418.52,570.58 L420.00,572.00 L421.48,573.41 L422.94,574.84 L424.39,576.28 L425.83,577.73 L427.27,579.17 L428.74,580.59 L430.23,582.00 L431.77,583.37 L433.35,584.71 L435.00,586.00 L436.83,587.34 L438.74,588.67 L440.70,589.96 L442.71,591.23 L444.76,592.47 L446.82,593.67 L448.89,594.83 L450.95,595.94 L452.99,597.00 L455.00,598.00 L456.80,598.85 L458.60,599.64 L460.38,600.38 L462.16,601.08 L463.95,601.75 L465.73,602.40 L467.53,603.04 L469.33,603.68 L471.16,604.33 L473.00,605.00 L474.94,605.72 L476.87,606.46 L478.80,607.20 L480.75,607.94 L482.71,608.67 L484.69,609.39 L486.71,610.09 L488.76,610.76 L490.85,611.40 L493.00,612.00 L495.51,612.63 L498.09,613.22 L500.72,613.77 L503.40,614.28 L506.12,614.77 L508.87,615.24 L511.65,615.68 L514.43,616.12 L517.22,616.56 L520.00,617.00 L522.92,617.45 L525.85,617.89 L528.79,618.30 L531.75,618.71 L534.73,619.10 L537.73,619.48 L540.76,619.86 L543.81,620.24 L546.89,620.62 L550.00,621.00 L553.44,621.41 L556.92,621.82 L560.45,622.23 L564.02,622.63 L567.61,623.02 L571.21,623.42 L574.82,623.81 L578.43,624.21 L582.03,624.60 L585.60,625.00" fill="none" stroke="#222" stroke-width="1.2" stroke-dasharray="4.5,3"/>
<path d="M370.00,629.60 L375.56,629.07 L381.20,628.60 L386.89,628.15 L392.59,627.71 L398.27,627.25 L403.89,626.76 L409.40,626.21 L414.79,625.58 L420.00,624.85 L425.00,624.00 L429.00,623.24 L432.95,622.45 L436.84,621.63 L440.65,620.76 L444.36,619.83 L447.97,618.84 L451.45,617.78 L454.80,616.62 L457.98,615.37 L461.00,614.00 L463.27,612.85 L465.45,611.66 L467.53,610.41 L469.52,609.12 L471.43,607.77 L473.27,606.36 L475.04,604.88 L476.74,603.33 L478.40,601.71 L480.00,600.00 L481.59,598.12 L483.07,596.14 L484.47,594.07 L485.79,591.91 L487.05,589.69 L488.27,587.41 L489.46,585.09 L490.63,582.74 L491.81,580.38 L493.00,578.00 L494.28,575.35 L495.48,572.60 L496.65,569.78 L497.78,566.91 L498.90,564.02 L500.03,561.12 L501.19,558.25 L502.39,555.42 L503.65,552.66 L505.00,550.00 L506.35,547.36 L507.75,544.46 L509.20,541.43 L510.68,538.40 L512.20,535.48 L513.74,532.80 L515.29,530.49 L516.86,528.67 L518.43,527.47 L520.00,527.00 L521.56,527.32 L523.18,528.34 L524.82,529.93 L526.48,531.99 L528.14,534.41 L529.79,537.07 L531.42,539.88 L533.01,542.70 L534.54,545.45 L536.00,548.00 L537.58,550.89 L539.05,553.98 L540.44,557.21 L541.78,560.54 L543.08,563.93 L544.38,567.32 L545.70,570.67 L547.06,573.93 L548.48,577.06 L550.00,580.00 L551.37,582.45 L552.74,584.86 L554.12,587.22 L555.52,589.52 L556.96,591.77 L558.43,593.95 L559.97,596.07 L561.57,598.12 L563.24,600.10 L565.00,602.00 L566.82,603.76 L568.74,605.41 L570.75,606.97 L572.82,608.46 L574.93,609.90 L577.08,611.31 L579.24,612.70 L581.39,614.10 L583.51,615.53 L585.60,617.00" fill="none" stroke="#222" stroke-width="1.2" stroke-dasharray="4.5,3"/>
<path d="M370.00,540.85 L371.00,540.74 L372.00,540.66 L373.00,540.61 L374.00,540.60 L375.00,540.61 L376.00,540.66 L377.00,540.73 L378.00,540.84 L379.00,540.97 L380.00,541.13 L381.00,541.31 L382.00,541.53 L383.00,541.76 L384.00,542.02 L385.00,542.31 L386.00,542.62 L387.00,542.95 L388.00,543.30 L389.00,543.68 L390.00,544.07 L391.00,544.49 L392.00,544.92 L393.00,545.37 L394.00,545.84 L395.00,546.33 L396.00,546.83 L397.00,547.35 L398.00,547.89 L399.00,548.44 L400.00,549.00 L401.00,549.57 L402.00,550.16 L403.00,550.76 L404.00,551.37 L405.00,551.99 L406.00,552.62 L407.00,553.26 L408.00,553.91 L409.00,554.56 L410.00,555.22 L411.00,555.89 L412.00,556.57 L413.00,557.24 L414.00,557.93 L415.00,558.61 L416.00,559.30 L417.00,559.99 L418.00,560.68 L419.00,561.37 L420.00,562.07 L421.00,562.76 L422.00,563.45 L423.00,564.14 L424.00,564.82 L425.00,565.51 L426.00,566.18 L427.00,566.86 L428.00,567.53 L429.00,568.19 L430.00,568.84 L431.00,569.49 L432.00,570.13 L433.00,570.76 L434.00,571.38 L435.00,571.99 L436.00,572.59 L437.00,573.18 L438.00,573.76 L439.00,574.32 L440.00,574.87 L441.00,575.40 L442.00,575.92 L443.00,576.43 L444.00,576.92 L445.00,577.39 L446.00,577.84 L447.00,578.27 L448.00,578.69 L449.00,579.09 L450.00,579.46 L451.00,579.81 L452.00,580.15 L453.00,580.46 L454.00,580.74 L455.00,581.01 L456.00,581.24 L457.00,581.46 L458.00,581.64 L459.00,581.80 L460.00,581.94 L461.00,582.04 L462.00,582.12 L463.00,582.16 L464.00,582.17 L465.00,582.14 L466.00,582.07 L467.00,581.96 L468.00,581.80 L469.00,581.58 L470.00,581.32 L471.00,581.00 L472.00,580.62 L473.00,580.17 L474.00,579.66 L475.00,579.08 L476.00,578.43 L477.00,577.70 L478.00,576.89 L479.00,576.01 L480.00,575.04 L481.00,573.98 L482.00,572.83 L483.00,571.58 L484.00,570.24 L485.00,568.80 L486.00,567.26 L487.00,565.62 L488.00,563.89 L489.00,562.09 L490.00,560.22 L491.00,558.28 L492.00,556.30 L493.00,554.26 L494.00,552.20 L495.00,550.10 L496.00,547.98 L497.00,545.86 L498.00,543.72 L499.00,541.60 L500.00,539.49 L501.00,537.40 L502.00,535.34 L503.00,533.32 L504.00,531.35 L505.00,529.44 L506.00,527.60 L507.00,525.83 L508.00,524.15 L509.00,522.56 L510.00,521.08 L511.00,519.71 L512.00,518.46 L513.00,517.35 L514.00,516.37 L515.00,515.55 L516.00,514.88 L517.00,514.38 L518.00,514.06 L519.00,513.92 L520.00,513.98 L521.00,514.25 L522.00,514.72 L523.00,515.42 L524.00,516.35 L525.00,517.52 L526.00,518.91 L527.00,520.50 L528.00,522.27 L529.00,524.21 L530.00,526.30 L531.00,528.51 L532.00,530.84 L533.00,533.25 L534.00,535.73 L535.00,538.27 L536.00,540.83 L537.00,543.41 L538.00,545.99 L539.00,548.54 L540.00,551.05 L541.00,553.51 L542.00,555.90 L543.00,558.23 L544.00,560.50 L545.00,562.71 L546.00,564.86 L547.00,566.96 L548.00,568.99 L549.00,570.97 L550.00,572.90 L551.00,574.76 L552.00,576.57 L553.00,578.33 L554.00,580.03 L555.00,581.68 L556.00,583.28 L557.00,584.82 L558.00,586.31 L559.00,587.75 L560.00,589.14 L561.00,590.47 L562.00,591.76 L563.00,593.00 L564.00,594.19 L565.00,595.33 L566.00,596.42 L567.00,597.47 L568.00,598.47 L569.00,599.42 L570.00,600.33 L571.00,601.19 L572.00,602.01 L573.00,602.78 L574.00,603.51 L575.00,604.20 L576.00,604.84 L577.00,605.45 L578.00,606.01 L579.00,606.53 L580.00,607.01 L581.00,607.46 L582.00,607.86 L583.00,608.22 L584.00,608.55 L585.00,608.84 L585.60,609.00" fill="none" stroke="#000" stroke-width="1.8" stroke-linejoin="round"/>
<path d="M370.00,658.00 L370.98,656.88 L371.94,655.75 L372.88,654.59 L373.81,653.44 L374.76,652.29 L375.72,651.16 L376.71,650.05 L377.75,648.98 L378.84,647.96 L380.00,647.00 L381.32,645.97 L382.72,644.88 L384.18,643.79 L385.69,642.72 L387.24,641.71 L388.80,640.81 L390.38,640.05 L391.94,639.47 L393.49,639.10 L395.00,639.00 L396.52,639.17 L398.05,639.57 L399.60,640.18 L401.14,640.98 L402.67,641.93 L404.19,643.00 L405.69,644.18 L407.17,645.42 L408.60,646.70 L410.00,648.00 L411.64,649.71 L413.19,651.63 L414.68,653.71 L416.12,655.93 L417.53,658.24 L418.95,660.61 L420.38,663.01 L421.85,665.40 L423.38,667.74 L425.00,670.00 L426.84,672.40 L428.74,674.81 L430.70,677.23 L432.69,679.66 L434.72,682.08 L436.78,684.50 L438.84,686.90 L440.91,689.29 L442.96,691.66 L445.00,694.00 L446.98,696.30 L448.98,698.65 L450.99,701.03 L453.00,703.39 L455.02,705.73 L457.04,708.01 L459.05,710.20 L461.05,712.28 L463.03,714.22 L465.00,716.00 L466.52,717.27 L468.04,718.45 L469.55,719.57 L471.06,720.62 L472.56,721.61 L474.06,722.55 L475.55,723.45 L477.04,724.32 L478.52,725.17 L480.00,726.00 L481.29,726.70 L482.54,727.35 L483.77,727.96 L484.99,728.53 L486.22,729.08 L487.47,729.63 L488.75,730.18 L490.09,730.75 L491.50,731.36 L493.00,732.00 L495.29,732.98 L497.74,734.01 L500.33,735.07 L503.03,736.17 L505.80,737.29 L508.64,738.43 L511.50,739.58 L514.36,740.72 L517.21,741.87 L520.00,743.00 L522.88,744.21 L525.75,745.47 L528.63,746.76 L531.51,748.06 L534.42,749.35 L537.35,750.62 L540.31,751.84 L543.32,752.99 L546.38,754.05 L549.50,755.00 L552.92,755.89 L556.42,756.65 L559.99,757.32 L563.61,757.91 L567.26,758.44 L570.94,758.94 L574.62,759.42 L578.31,759.91 L581.97,760.43 L585.60,761.00" fill="none" stroke="#222" stroke-width="1.2" stroke-dasharray="4.5,3"/>
<path d="M370.00,763.00 L376.18,762.65 L382.50,762.39 L388.89,762.17 L395.30,761.97 L401.67,761.74 L407.95,761.45 L414.08,761.07 L420.00,760.55 L425.66,759.88 L431.00,759.00 L434.90,758.23 L438.70,757.43 L442.39,756.59 L445.97,755.68 L449.45,754.69 L452.80,753.61 L456.04,752.41 L459.16,751.09 L462.14,749.62 L465.00,748.00 L467.44,746.39 L469.79,744.62 L472.06,742.71 L474.23,740.70 L476.30,738.61 L478.26,736.47 L480.12,734.31 L481.86,732.16 L483.49,730.05 L485.00,728.00 L486.07,726.38 L486.99,724.71 L487.80,723.02 L488.52,721.32 L489.20,719.63 L489.86,717.97 L490.54,716.36 L491.27,714.82 L492.08,713.36 L493.00,712.00 L493.89,710.84 L494.83,709.62 L495.82,708.40 L496.85,707.22 L497.89,706.10 L498.94,705.10 L499.99,704.24 L501.02,703.58 L502.03,703.16 L503.00,703.00 L503.84,703.11 L504.67,703.42 L505.50,703.91 L506.31,704.55 L507.12,705.32 L507.92,706.18 L508.71,707.10 L509.48,708.07 L510.25,709.04 L511.00,710.00 L511.98,711.36 L512.92,712.89 L513.82,714.55 L514.70,716.31 L515.57,718.13 L516.43,719.98 L517.30,721.83 L518.18,723.64 L519.07,725.37 L520.00,727.00 L520.85,728.41 L521.71,729.81 L522.57,731.20 L523.44,732.57 L524.32,733.91 L525.21,735.22 L526.11,736.48 L527.02,737.71 L527.95,738.88 L528.90,740.00 L529.71,740.93 L530.51,741.83 L531.30,742.70 L532.09,743.54 L532.90,744.35 L533.75,745.12 L534.64,745.85 L535.58,746.55 L536.60,747.20 L537.70,747.80 L539.25,748.50 L540.93,749.10 L542.71,749.61 L544.59,750.05 L546.54,750.44 L548.56,750.78 L550.63,751.09 L552.74,751.39 L554.87,751.69 L557.00,752.00 L559.62,752.36 L562.35,752.68 L565.15,752.96 L568.02,753.20 L570.94,753.43 L573.88,753.63 L576.84,753.84 L579.79,754.04 L582.71,754.26 L585.60,754.50" fill="none" stroke="#222" stroke-width="1.2" stroke-dasharray="4.5,3"/>
<path d="M370.00,763.50 L376.18,763.26 L382.48,763.03 L388.86,762.80 L395.25,762.58 L401.61,762.36 L407.88,762.12 L414.01,761.88 L419.94,761.61 L425.62,761.32 L431.00,761.00 L434.82,760.77 L438.50,760.56 L442.05,760.36 L445.50,760.15 L448.86,759.93 L452.15,759.67 L455.39,759.36 L458.60,758.99 L461.80,758.54 L465.00,758.00 L467.98,757.45 L470.99,756.87 L473.99,756.27 L476.96,755.61 L479.89,754.90 L482.75,754.12 L485.51,753.25 L488.16,752.28 L490.66,751.20 L493.00,750.00 L494.84,748.91 L496.57,747.76 L498.22,746.54 L499.78,745.27 L501.28,743.92 L502.71,742.50 L504.09,741.00 L505.42,739.42 L506.72,737.76 L508.00,736.00 L509.48,733.63 L510.85,730.97 L512.12,728.09 L513.32,725.06 L514.46,721.97 L515.56,718.88 L516.65,715.86 L517.74,712.99 L518.85,710.35 L520.00,708.00 L520.80,706.53 L521.58,705.12 L522.34,703.76 L523.11,702.46 L523.87,701.23 L524.65,700.05 L525.44,698.94 L526.26,697.89 L527.11,696.91 L528.00,696.00 L528.76,695.27 L529.56,694.52 L530.38,693.78 L531.21,693.08 L532.06,692.43 L532.91,691.88 L533.75,691.43 L534.59,691.12 L535.41,690.96 L536.20,691.00 L537.14,691.32 L538.06,691.94 L538.97,692.80 L539.87,693.86 L540.76,695.08 L541.63,696.41 L542.49,697.81 L543.34,699.24 L544.18,700.65 L545.00,702.00 L545.98,703.66 L546.92,705.43 L547.83,707.30 L548.72,709.23 L549.60,711.21 L550.47,713.22 L551.34,715.22 L552.21,717.20 L553.09,719.14 L554.00,721.00 L554.86,722.73 L555.70,724.49 L556.55,726.25 L557.39,728.00 L558.24,729.73 L559.10,731.42 L559.98,733.06 L560.89,734.63 L561.83,736.11 L562.80,737.50 L563.61,738.56 L564.43,739.56 L565.25,740.52 L566.09,741.42 L566.95,742.29 L567.83,743.13 L568.74,743.95 L569.68,744.74 L570.67,745.52 L571.70,746.30 L572.92,747.15 L574.21,747.95 L575.57,748.71 L576.96,749.45 L578.39,750.16 L579.84,750.87 L581.30,751.56 L582.75,752.26 L584.19,752.97 L585.60,753.70" fill="none" stroke="#222" stroke-width="1.2" stroke-dasharray="4.5,3"/>
<path d="M370.00,655.00 L371.00,653.71 L372.00,652.45 L373.00,651.24 L374.00,650.07 L375.00,648.94 L376.00,647.86 L377.00,646.82 L378.00,645.83 L379.00,644.89 L380.00,644.00 L381.00,643.16 L382.00,642.37 L383.00,641.64 L384.00,640.96 L385.00,640.33 L386.00,639.77 L387.00,639.26 L388.00,638.81 L389.00,638.43 L390.00,638.11 L391.00,637.85 L392.00,637.65 L393.00,637.53 L394.00,637.47 L395.00,637.48 L396.00,637.56 L397.00,637.71 L398.00,637.92 L399.00,638.20 L400.00,638.55 L401.00,638.95 L402.00,639.42 L403.00,639.94 L404.00,640.52 L405.00,641.15 L406.00,641.84 L407.00,642.57 L408.00,643.36 L409.00,644.19 L410.00,645.07 L411.00,645.99 L412.00,646.96 L413.00,647.96 L414.00,648.99 L415.00,650.06 L416.00,651.16 L417.00,652.28 L418.00,653.43 L419.00,654.60 L420.00,655.79 L421.00,657.00 L422.00,658.21 L423.00,659.44 L424.00,660.67 L425.00,661.91 L426.00,663.15 L427.00,664.39 L428.00,665.62 L429.00,666.85 L430.00,668.06 L431.00,669.26 L432.00,670.45 L433.00,671.62 L434.00,672.77 L435.00,673.90 L436.00,674.99 L437.00,676.06 L438.00,677.10 L439.00,678.10 L440.00,679.06 L441.00,679.98 L442.00,680.87 L443.00,681.71 L444.00,682.53 L445.00,683.31 L446.00,684.07 L447.00,684.79 L448.00,685.50 L449.00,686.18 L450.00,686.84 L451.00,687.49 L452.00,688.12 L453.00,688.74 L454.00,689.35 L455.00,689.96 L456.00,690.56 L457.00,691.15 L458.00,691.72 L459.00,692.28 L460.00,692.81 L461.00,693.31 L462.00,693.78 L463.00,694.21 L464.00,694.60 L465.00,694.94 L466.00,695.22 L467.00,695.45 L468.00,695.61 L469.00,695.71 L470.00,695.73 L471.00,695.67 L472.00,695.53 L473.00,695.30 L474.00,694.98 L475.00,694.57 L476.00,694.04 L477.00,693.42 L478.00,692.68 L479.00,691.82 L480.00,690.84 L481.00,689.73 L482.00,688.49 L483.00,687.12 L484.00,685.60 L485.00,683.95 L486.00,682.17 L487.00,680.30 L488.00,678.35 L489.00,676.35 L490.00,674.31 L491.00,672.27 L492.00,670.24 L493.00,668.25 L494.00,666.31 L495.00,664.45 L496.00,662.69 L497.00,661.05 L498.00,659.56 L499.00,658.24 L500.00,657.10 L501.00,656.15 L502.00,655.39 L503.00,654.78 L504.00,654.31 L505.00,653.97 L506.00,653.73 L507.00,653.57 L508.00,653.50 L509.00,653.48 L510.00,653.53 L511.00,653.62 L512.00,653.76 L513.00,653.93 L514.00,654.13 L515.00,654.34 L516.00,654.57 L517.00,654.80 L518.00,655.02 L519.00,655.23 L520.00,655.42 L521.00,655.57 L522.00,655.70 L523.00,655.77 L524.00,655.80 L525.00,655.76 L526.00,655.66 L527.00,655.52 L528.00,655.37 L529.00,655.23 L530.00,655.12 L531.00,655.09 L532.00,655.15 L533.00,655.33 L534.00,655.66 L535.00,656.17 L536.00,656.88 L537.00,657.82 L538.00,659.02 L539.00,660.50 L540.00,662.29 L541.00,664.35 L542.00,666.64 L543.00,669.10 L544.00,671.68 L545.00,674.33 L546.00,677.01 L547.00,679.69 L548.00,682.38 L549.00,685.06 L550.00,687.73 L551.00,690.38 L552.00,693.01 L553.00,695.61 L554.00,698.17 L555.00,700.68 L556.00,703.15 L557.00,705.56 L558.00,707.90 L559.00,710.18 L560.00,712.38 L561.00,714.50 L562.00,716.53 L563.00,718.47 L564.00,720.30 L565.00,722.03 L566.00,723.64 L567.00,725.13 L568.00,726.49 L569.00,727.73 L570.00,728.86 L571.00,729.89 L572.00,730.83 L573.00,731.69 L574.00,732.48 L575.00,733.21 L576.00,733.89 L577.00,734.54 L578.00,735.16 L579.00,735.75 L580.00,736.35 L581.00,736.94 L582.00,737.56 L583.00,738.19 L584.00,738.86 L585.00,739.58 L585.60,740.04" fill="none" stroke="#000" stroke-width="1.8" stroke-linejoin="round"/>
</g>
</svg>
<script>
(function(){
var L=[[10,5,135],[11,7,144],[11,9,154],[12,11,163],[13,14,173],[15,21,186],[18,28,199],[21,36,213],[22,44,221],[23,53,224],[24,63,226],[25,72,229],[27,83,231],[29,95,234],[32,107,236],[35,119,238],[40,130,239],[45,142,241],[50,154,243],[56,166,244],[61,175,244],[66,184,245],[71,194,245],[78,202,244],[85,208,239],[93,214,235],[101,219,230],[111,224,223],[121,227,213],[132,231,202],[142,234,192],[154,236,181],[166,237,169],[178,239,157],[190,240,145],[202,236,135],[214,232,126],[225,228,116],[236,223,107],[240,215,104],[244,208,100],[248,200,97],[250,191,94],[249,181,93],[249,171,92],[248,162,90],[247,151,90],[245,139,89],[244,128,89],[242,117,88],[242,111,88],[241,107,87],[241,102,87],[240,97,86],[240,93,86],[241,106,100],[242,122,117],[243,139,133],[244,155,150],[246,173,169],[248,194,190],[250,214,212],[253,235,233],[255,255,255]];var A="ABCDEFGHIJKLMNOPQRSTUVWXYZabcdefghijklmnopqrstuvwxyz0123456789+/";var M=new Array(128);for(var i=0;i<64;i++)M[A.charCodeAt(i)]=i;
function d(id,w,h,s){var c=document.getElementById(id);var x=c.getContext("2d");var im=x.createImageData(w,h);var D=im.data;
for(var i=0;i<w*h;i++){var q=L[M[s.charCodeAt(i)]];D[4*i]=q[0];D[4*i+1]=q[1];D[4*i+2]=q[2];D[4*i+3]=255;}x.putImageData(im,0,0);}
d("ha",200,268,"RYCAHRA/HACPAAAPDAAABa//AAAAAD/AA//9AAAAAAVA/AAA+/eA/A/AXkAAGkAAAAc+AA/AA/K+SAAA/KAA//AAACF/ei/AAAAIA/AA/nAA//A/FFAAAeA//AA//AA+AAOfAAQAOjAAA/AA8VHAAAPAAALcAAABSMAJMZjGACWACSAAAAJcXjA/SAAPAAA//AAA//YALVCIBUA+EAAEAAAVIAAGQ8l9AAAdEC/ACP/HAAAAAAlA/AAAm/iAeAiAA/AAhPAAAAljAAUAA/NkXAAH+PAI//PLAAA/+//AAAEAA/AAYmAA//A/8AAAAbA//AA//AA+AAOMAAKAg/AAA/AAn9WAANAAAAQXGAACLNBIHVaLCAXHCQAAAAGSUjJ/AAAAANA/iAAAV9bACPDMAaGaBAAAAAAhIAbR//ARAAA/+J/MLA/AAAAAAA+d/AAAa/fADAAAA//A/AAAAA/kcHAAAAbhSDAaAUA///8bAAA///+AAABAA/AAAYAAD/A//AAFAYA+/aA//AA+AAMAAAAA+/HAA/AA9/9AAVAAGASRMAAEBLHFBQPSBATQAHAAAAGCQdW/AAAAA/AjIAAAALmAALCIAaRAAJAAAAAXAKeN//ABAAC//c/GSI/AHAAAAJl9+BAAMiIAADAAA//A/AAAAl//8kAAAA+gBNF/AIA////fAAAc//9GAAAAA+AAJAAAA/A//AATAUA9//AjdAA+AAGAAAAA//gAFJAA///HEMAAJATLNAAFAHIBCMIUAAJVAAGAAALAONdRAGAAA/AOAHlAAA9AAJABAQWAGdAAAAAAAcKA//AOSAA///ZA9L8A8AAAAARAieAAAAAAA+AAA//A/AADP/9/W/gAAA/TAH+/AAA+///aAKAA99fAAASAAcAA/AZAA/A//BAlAOA9//KAA/A/LAAQAAAA+dbAjAAD/9nfbCAABAWGMEABAIEAHNEPAABQAAPFAAMAWAdAGHOAA/AAAX/AAAjYBIDAAESAZbAMAAAAA/AA/9A+gAA///UA/AJA/AEAAAHAklTAAAAAE/AA///+/AAA//L/A//BAA/AAO/gAAAbbA/dDYAA/jAAAA+AAUBn/A/AC////mA/AIU8//PAA/O9BDAeAAAAkeaA/AAVmdG8lBAAAAXDOFAACPABNQAJBACCAATPDAEAhAWAEK/aA/AAAA/MAA8mEHLAAACA+LAeAAAAF/HK9bC/8AQ///KA/AAD/AAAAAHA+KLAAAAAI/AA/////AAA+/A/Af9/AA/AAf/ARAAWNA/9SAAA/cAAAGlZAN///A/A/////9A/VB+//9AAC9RZAAAZAOUATfmA/cAgYSAiaDAEAMVEQHECJUAETOAFAEIACJTOHAAAiCMACZ/9A8AAAAOhAA/hFIPABAAA/JA9MAAAG/eZATQ/9L8///AARAAE+AAAAAGA/ACAk/AACiAA/////AATa/A+AAN/AA+AA9ZAneAWWA//iAAA/QAAAAK+AA///AaD///UlMA/EA///nAAkAGWAAAGA/lAMVbA8/AVbDAeKBAGBWTFPLGFISAHWHAEAFIAKRSHHAAAbXGFM8b+NHAAAAAdBA/YFJOAFAAAbZA8/AAWN/gfAcm/gD//+/AIDAAMcAAAAABA8AEA//BgALAA+Z///AA+UkAMAAA/ATQAA/kA//fRcAZ/9AAAGHAABAJ/AA///JAY//+AYAA/AA///8AA/AAcAAAAA/cAPPAAL8AAhAAmDAAJAXSFPLJFDQAHTBAFADCAQSSBEAEAUdIDV9KgZATAAAAAkN/WDKLAFDAAA8Ab/IAVi/NjAm//QA/+f/ASFDAXKAVAAAAAKAFA//J/AAAAUA///AR/VfOBCAAcAmACA//J//+HSAB/8AAIABITgAh+BA8n/AAQ//aAeAA+AA9//9IV9AAYAAAAE/IASIAAARAAYAH+DAAPAUPEMKLFBOAEOAAECCACTOQABALANTNAUiLPPASNAAAA9M8VCLJCCHAAA8AH/FAL//CiA8+/HA/jK9HUHTAVFA/CAAAAAAAD//K/AADAMAeajAb+VedNhAAAA9ALA+/CW/+GKAA/gAPdAFeV/M/kfFhPNAAC//QA9AAVAA8/j9LlSAFNAAAKA/GAWAAAADBADAQ8DAAWAPMCHJJHCKACLBFEBDACRJMABAMCHGQAMXOCKFFQAAAAjAOPEMJEAHAAAbAA+AAH9/HXOijRJA9VAdPXMfAKLC/VAAAAAAAa//A/AAGAQAZAMAWlZamV/AAAA8AYAb/AAW8PKAA/ZD9dBOdJ9c/X+JcIAAACj/HI9AALACl/S8N8JHQBATFXAhSAZAAEAAEAAARXDAAYEKJBCIFIDGAELCIGAEAFLHHAEAKEEBOADPLAOKAIAEAASAAGHMJFBFACANAAYAAKZ/RIRciDOAYNJeXWZkAAUMjcAAAAAAFmjmAiACAAYAdAAAQnfU9M+MAAAbKeAR/JAAfaLMA/RD/PNSWAeX8M9KYMLEGRHnAYfSLHHMg/NhVlQVSAAaZVAXYATFObDAFAAARLBAAWIHJBAHCHDCCHICIIAFAHGHCFHAIGDCHAAMJARMDAAAAAFACBKMJGEDAFLCDKNAARL8YAJUjOPALLacdS8jAAaPeYABAAFAVmReAQAUAAfGdAAAJniM+AjOAADKddKSeVAAVmSVAPCJ/CSVZAWKbAlIRMfPLfBcAhXcUBfXdaOhblcUOAARmGAQUCCOjkKAGADFTGAGAUJHLBCGBEDAFJECHHAHAIDGAJIAHKCDCABLMAPNIAAAAAAARAKLKGFDBFUALSNAAcAWWABMckGAJKlRaK9dAHcQiTJAKABAlZAdAEAlAAfQUAIABghGiAcNATABjYaWSdOAM+jWAAAQ/AQbkGSCNAgDIKmZQcHUBbUaTA+ejPKnakkLFAAGiAKHQGAT/hKAJAPMSEAJAPIHMBGGCBFBGLCCGFAJAEBDAKGAGLBEAABJKDIMJBAAGAAAZAHLLGFFKESAQWRCAkAOPIFEO/AALK9GNDhWCVYNdYUASIAA+MAdAFJ9AAdRKAQKAadFRAfLAZAAbWdRPfhAL+/WAAAV9EMd9RQBFAgAARegSOJMPKRTPA+a8VD9VjlAAABISAdATMAY+dBAMATRMAAKIJGGLCJFFAIEGMCCDCDJBAABAJEADJADAAAFDGBJGGDAGBAAUBEKLGFHQDLARXTPJiALLYUAF+AAOT+AEDUQAgVJLibBORAA9LAdARPkQRhPEAREAXQKFNgNASACMXWAPf/AQk/YFGAYgKNanVUGGFcCAZS8QIJCdAMRJAfOidAhOdeAAAEUEAZAUTCcebAALARNHACJOCGEJFKFJCJEFLDBAAFHCAABCIDBBFACAAABADAFCJIBDEABICDILGGIUEEALVQbMaAMNVeADfGNTe/AGKMRAhXNA9bQIWAAiQKiDaVYUg8OFCPAAXAVCYaQAJFGDfTANi/AVblYRTAbVPQUaTbONXTKAWO+NMLAfALUAARHYbBPJTRAAKCgAJBAOVPdUYAAEAPFIAEFOAGDGHIFLEHDDHEBAAEFCAACDHECACAEAAABAAADCKKCBFACAAFHLGIHUIDAEUNdMSAMVFeAGWUaWh/KKQIYAXfUA8WeJXAATUhkJaVVPh+LMRLAAbAeEVQRMFEPH8dALl/AZZUWaWAeSSPNMUbYQgQTEJR+NRTCWAPTAFJIPQJHNGEAANAhGIAAESWXRTAAAANANACCLAFCEHFFJFEDCDEEABDEBAADDEHCACCFAABEDAACDJKCBEAEAAHIMIKGRNHDGVOYMRBJdAbALWddXd/aJXJcANkTAjPiMVAJLZ9fLYPWSX8JTXIAEeAfKPKPaKBZQn8APh8AcaJWeTAeWTJJGaUfPiVYNAPjOSdKPDRNAMHJIKPOYAAAANBXMAAAAUSMMKAFAAMBRAAALAECDGDFGFCEDDDGBDDCAAABDBJCCDEFDDFGEAACEHJCCEBFAAJJNJLGMPMFOXTUIUHFfAdARbfXVX/iHeNZJGkMFhFaMTAMOZ9ZJZHUfNfNYVHFHcJdRJMOiWBcVe8BXYcCYbAZcPAdbTGHKdTeRhcXRAIbLQkQMHRKHLKKJLPVjAAAAPFNMAAKAZJDHCAHACNGRBCAMAECCECDCDBEEDDGCDDAAACADAJCDEEEFGHGEDCCDFIBDECGABKKMKMILQNHXXVUDXKDbAhIZdbLSV/dLfTTPCnMP8ANLUAKRSmZJaDN8IWVdQGKFaRfWEURhgIZWcjGdPTENYAbXPEYeWLFTaZbXkiTMAFXGMhQJJTNKGQKUPMTlEAKASHJHAAYDcEAECKEAHPLMIEAMAGABCCAADCEDDDDDDEABCFAFAHCDFDEHIGFDGFCBDHADDCGACLLLKLKORNIbTSUDYQEVEbMdaUBPZ9TTbYPPC+Ta9ACJSFOLLgaOVIDjDRaiMDPFaUgYDZSbfSUXefDeJOKBPAYVTKUicVFcTfacnmSDNKWDNYMFPbQFGVMeTMIgHGRAXJMCJAaDbEADKOAAJQOHJEBJAHADBCABDCDDEDBFDEABEGBGADBEGBEHHFCDHGCACHADDBFBDLLLLLLRRPLbRLUMYXEUIQPXWSAQfhNbWYMKI+bgmAAIPNVCLeWXPQAVAPciNBVObRcVMaOVYbSbbaFbJOVAFDWWbPQmigDiOdbbklTAXQWFTQJDX8QALXOcWRAaGKLAcNVAVAVAaEAAPMAGHNOBDBCEBIAEACACECEDEDAGDDABFGBHAAAEFADHEEBDGHBAAGADDAEDELMMNMLRQRSYTGVbYXCVQIRKTVAVgdMcTUPGRkdeZAAHQVYBQgUePVHLAVacVEbacPWUZbGSVgVeVUNZPRdGBJYYkRO8nnAhKYacdfWDXUWMbNMGe+QCNYQSYZAXKKAAfPgBcATAXAAAOLAJEKJAAADCAIABABAEFCEDDBBGCCACFGBGBACFFACGCDCEFHBBAEBFEADFELMNNOMRQTZUVGYmZUARXHQBQaAZYcNVOQZJZaeXOCAHUbXHUiVkWVTKBeWXcLhidSWXeeBRYgddRPVYXWcWDNdY8UOm9lAYLYUgZeYNUWVTdPSJd9XKMXOLagGSUMACeMkEcKSBRAAAJMAKBHDAAAFFAIAAACAEFDDDDBDFDDADFEAGABDFEBCFADDGEGBCBECGEADGDMMONQNSRUbRSNZ8bWEJXKRCPdCbRXQOHRgQdXgUNJFIUgVSZhZmeUYPJhUceWljgWZcZdDUbelZUOVXebWfIUeYlXRd8eFPSdMiahWTUTSVbUVLYheSMWNOZjRNdRAOYHgJYTTKLCLACLALBGBAAAILCICAACADFEBDEBFEEEBFFDAHADEGEDEFADDHEFBCDFDGEBCGBNNOOSPUUYZROWZjfYNGSPUKQdGbQPUPGXeXdaiWUUPMRiTeefflgSUVRbVlbf8glZaeUcOZbckWbUTThdQbObdadXWQhXRMZhMkbiQQWOSSYbWNSXgWSXRWYhZJhVAaTEWNSXVKGIQAAIANCFCEABJPEIEABBAEFFBDFDFEFFCFEDAHAFDGEEGGBEDICDCBFGDEEDCFBOOOPSQVYcVTOdXbkaWMPUaQUeMZTKXXNeXZbcmZcdVQRhP8ielhdRNcTTUnaf9d8YXbVbcdYbcUefUOebRUVefcXWZHbVWNZfVmZdNNXLWQWhYSOTfYbdVebdbHgVAgTFKKNVVFDMPDAIAODECKAGJQFHFCBBADFDCDGEEDFECFDDBGCFCFFDGGEFEIBCDAGHCDEEDFCPQPRSQVacTWReVUkbZSTYjSYgTYVJbdUgWWYanagiWTUeO8dcmfbQKjUQVigZ9dnUUWcamdUZTRbjXKXXaVedjcUXaEVUWPWai8YZPNYOYPV8aXNVjYjgVgicZIeVFhYECFKRUBFPKGAMANEFANAIIQEFEECCDDFBDEGFDEGCDFCDCEDECEFCGHGEFHBCEAHHCEEFDECQSQSSQUaZTaWdSQfdYVXa9PXhaYYIgfWdcSVYiZiiXVXZOfTZhgdPJ9ZWYc8VlffQVVkY9bRXPRUcZLQVkblckZUZcIRVYSWT98YZTRcRWPU+ZYRZ8X8fRelcVLcZKbcDBDKMVFKSIIAPAJGFANDHGODEDFDEFCFAEFGFDEGBDFDDDEFDDEFDFHGDFGCDDCIIDFEEDFCRTSTSRTXWUdYcOPYeSXZY9NUheYcJlfXclOTYcXkiXTaUOTLVbkiPM+efdY9bekZQXW9X8aQVUUQUZTPY8g8egXYbgOPYdTZQ9nYcUXgUSQU9YWWZ8W9ZNdjYTPXgNUeEEJLJYLPTILALAGHEDNGGGMCDDGEEFDFBEEFGCEGBFFEDDDGCEEEEEGFBEFDDDDIHDFEDDFBTUTUTSUUVWfZcMRUeNXWX8PTgeWeMmcZa9PTbZVnhXRcTPLISZ8nSS+gkjY8la8YTaa9VgXQTaZQQYdQcjhmjcYcbkROfdScS8nZdSdgXPUUkZVcXgYnWNfeUVRRgRQdGKPNHaRUSKRADDFHDINJGHKBEDFEEEEFCEEEGBDGCFFEEDDGCEEDEDFEBDEFCCDHGCFDDDEBTVVWVUXTWWeZaOUVeMWUWiUVfcWcQjXca9UUdYW8dWSdTQKLVZm8Wa+ejnaj8a8bWcd8UZTTSbcXPXlScdhjlbaebkSSjVUdVk8abQfdaRaXbaTfYVXhZRieRbUOZXPbLPROEXUWRNXGAJDFDKKIEGKAFEEFEEEGDDEEFBDGDGFFDDDFCFEEDCFECCDFCCBFFBDDECEDUVWXWVZVYXcYXRWagPXVWeWVecWZUgUec8cXcYcnYUYeURMQcajnZh9cf8cgiZ8cZedkWYSYSYdfPW8UaYigkcXcZiRahMZcWj8aYRfacXbdXYPebNVeeWheQfXRSaPaRSQRBOVVPOYMANCEBJHIEFLBEFEFFDEHFCEFFCDFEGFFDEDFCEEEDCFECCCGCDAEEBCCECEEUWYXXWZYZZbaUUZdhRcYXbZWdeUWZeWcekgaYahkTTfgVTOUhaiial8ccmddbYlZdfZdZcVcVYejSX8WZZjdicRXWdRhbJbaXkiYWUfaddXiYTNadIUegbbdRfYSQaOYVUQWBHUTNNWOFNEIBGGHGELBDFEGFDDGFCFFEDEFEGFGDEEFDDEEDDFEDDAFDEAEEBBBEBEFVXZXXWZYZaccTWdehTdbZbcYaeTSeebXdhfZTdjhRSjhXVSVgZjeZk8eejaaaYiZgeXWZiZdZadiYYkYZbhcgcNTSWTiXNZYXicVXWebdfTjaOQZbHWdedXXTbXQSWNTWYQXFFTQJPWMJKIPDFHFIFJDEFDGFDBFFDFFEEEFDGGGEFEFDCEDDEFEEDAFDFADDBAAEBDEWYZWYXaXYadfTXfdfXXaZZdbYaSRgedUaecXSefgSRjgaWYTdWldYi8gfeVYdbhaccaRalZccabjcVgbZbbYedNQQRYeUVWZVfXSYYbdbdThcNTZXIZdaYYTUYWPWUKMXaPULHTLFSYJOHLSFGICJIHFFECFFEAEEDEEDFFFDEGFEFCFEDECDFEEEEBFDFBDDBBAEBCDYZYVYYaXYZegUXeddbOXYXbaWVRUfdcWXcZWVcbdRSjffVcSeUjgXgmgfcRZecicYbgOckXYfYamcQaeaaTRddOPRQdbTZUcWcVRYZZcaZTdcQWaVKbdZTZTVVWPaTLKYaPPOMTIEUaIRGLQHIIDILGHIEBFEFADDCEEDGFFDDGEEGCFDEEBDEEEEECFCECEDABBEBCDZZYVYYYXZYdfUYcebdKWYUaWTTQYddbXVeYVWbZZOTjeiUdRgXekZejeddSddcjdXchPbfVWhYclaOWebZPLcbQQUSfXUZVdYZWSVcZabUSYZUZaTKbdZSYXWTWPcTRQYZQOOPSMGUaIRHJNJKJEINHIKECEDGBDDCEEDFFFDCGEEFCFDEFCDDEFEFCFCDDEDACCFBDDZZYWYZXabYbdTWbeadMXZTbUSURbabbXTeXVUaYYLSibfUbQhcWicdebaeVhdbheaafSYcUXfbffXPUcdZQLbaRSYRdUUWUZXWZSTdXXdRRTVXYaRKacYTVaVUVPZTWXWZSQPPQUJTYKOIKNMMLGHMJIKFEDDFCEECEEDEFFDCFFEECGDFFEDDEFDFDEBDDEDADCEBDEZaYXYYVbcZZaTSYbZcPZbRaVUVSaZabWPbVWSaVaLRfXYVWReeQaebaXYeXgbabfbXcVVZSYccgYUQTadZUPaYPTZLYTRSRTTRZRQZSUdQPRSXTYOJXZUTUbTXWQWVXYUZTRTOOZKRVMNKMPNNKHGLLIJFFCDEDEEDFEDDFGEDFGEDDGDFFEEDEFCEEEBDDEDBDCDBDEZaYYZYVZdYXZTPUYYYPYaNWSVTRXXYYSJWQTOYTbJQbQOUQRbdLSdXYVVeXcYZVeaWaVWXPXcYeUPRRYbXWSVXLTWFSRKNLNOJUOMRMRbOMPPVNULJXUPSUZRYYPWXVYUWUTXQLYIRSOOLOROLIIFKLHIFGCDEDDFDFEDDFGEEFHDDEFEFFFEDEEBEEECDEECBECDBDEWXXXXWYYYYWUSRSTUURQPPQQRQOOPOOONNNOOOOPNOPOOQRRSSQRUVVUUWUWXXWXWVWXYWVVVUUSQSTTROOPPPNONNNLKLLMNMNOPPNOPONOOQPONQTSRRQSSRRORUUSRRSSSRRTSRRQPNNNLJIIGHHGFDDCDEEEFFFEEEGGFEEFDDCBCEEFFEDDDEFEDCEEEDDDFEFFWWXYXXYYYXVTRQRSSSQONMNNPOMMMMMLKKKLLLMMKLMNNOQPPQONPRTUVWVWWYWWXXYXYVUTUSSQOQQQOMLLMMJKJKJJIIHIKJLMMLKLMLLLMNMNNPRQQQQRPPPNQTUTRRRSTRSUUTSSQONOLKJIHIGFEEEDDEEDEEEDEEGFEDEEEDDDDEFFEEEEEEFEDDEDDDDDFEEFYXXYZYYXYWUSSRQOOPONLKLLNMLKKKJJIIJJJJKJHIKMMNONOOMLMOQSTWWXXYWWZaaXXVUTTRQPPPONLJIJKKHJIIIIHHGGIHJKJIJKLJJJKLKMNOPPOPPPNPPPQRSTSQQTUTTVTTSSRONNLKJJIIFFFFFEDEDDEEDDDEFDDDEEFFEDDEDCCDEEFFEEDDEDDDBBDDDEaYYZbZXWVVTSSRPMMMMMKJJJKKJKJIHHGGHHHHHHGGIKKKKJLLJIKMOPQVWYYYXXacbYYXWTSPNNOMKJIHGHJIHIHHHHGGGFGGHIIIJJJIHHJJIKLLMNOOOONOPQRQRSSRSUVTUTTTSRQONNMLKKIIGGGGGEDEDDDEDCDDDCDDEEEEDEDDCBBDDDEEDDDDDEDDBBCCCDbZZZaYXVVVUSSRPLKKLKJIIIHHIIIGFFFFGFFGGGGGGHIIHGIIHGIKMNPUWZZaZYZaYYZYWTRNMMMKIHFGEFHFGHFFFGFFGFFFFHHHIHHGFGIJHJJJKLMNNNNNOQSQQSUSTUUTSSTTTQQPOOOMMLJIHGGGHEDEDDDEDCCCDCEEEECDEFFECBCDCCEDDDDCCDDCBCDCCDbZYYZYYXWVTTRQOLKKKIIIIIGGIHGFEEEFFFEFEEFFGGGHGFGIHGHJMNPTWYYZaaZYXZZYVTRNMLJIGFEFEFFFFGFFFGFFFFGFFGGGGFFFFFGIHKJKKKJJLMLMMPSQRTVTUTVUUSTUUQQQPPONNNLJIHHGHFEFEDCECCCCDDEEDECDEFFEDCEDBCDDDDCBBDCCBDDCCCcZYZaZaYWVTSRPNMKKJHIIIIGGIGFEEEDEEFEEEEEFFFFFFEFIGGGJMOQTVXXYaaaZYZXVSRQNNLIHFEEFEFFGGFFFFFFFFFHGFGFGGEEFFFFGIKJKKKJIJKLMNPRRSTVUUTVWWTTTTRQQPPOMNOMKJIHHHFGFEECDACCDDDEEDFEEEEEDDDEDBDEDCDECBDDDBCDCCCcaYabaYWUVTTSRONLKJIIHIIGGIGEEEEDEDEDEEEDDDFFEFFFIGHHKMOQRTWYYZZaaZZWUSRPNMKHHEEFGFFFGGFFFFFFFEFHGFGFHGFEGGHHIJKLMMLKIJLNPPPQRSTUSUTUUVTTSSRRQPPOMNNMKLJJJIGIGFGEDCCDDDDDDDFFFFDEDDDEDCDEDCEFECEDECCCDDFccaabYVTUVUTSROOLLJHIIIHGGGEEEFFEFEFEEEDCBCDFFGGGIHIHKMNPPRVYZaZaaaZWVUSROLJHGDEGHFFFGFFEEFFFFEEGFFFFGFGFHHJJKJKNOOMLJKNPRQPQQRSTTUTTRSSTSTTSPOQPNNNMMMMLKIHJHHHFEEDEDEEDCDEFFFEEDDDDECDCBBDFEDECDCDDDFGbcaaaYVUVWTSRQONLLJGGGHGGFGDEEFFGGEFFEEDCCCDFFGGGIHIILMNOPRVXZaaaZZZYWVTSOKJHGDFGHFEFGFGEEFFFFEFGEFFFFFFHIIKKLJJNPQPONNPQSQQSSSSTTTTSQSSTSTUSOOPPOOONMMNMKIIKIHGGFFEFDEFECDEFFGEFEDDDEDFDBBDFFEECDDEFEEFcbaabYWVWVTRRRPNLLKHGGHFFEFEFEEFGHFEEEDDDEDDFFGGGHHHJLMOOPSVWZaaZZYaaWTRQNKJHGEFGGFFFFGFEFGGGGGHGEFFFFFFIIJKJLJJNORRRRQQRURRTTUUTTSSRRRRSQQSRPPPPOPOMMMMMLJJKJHGGFFFFDFFECDEEEFEEEEDEFFGEDCEFEDEDDDEFEEEaaZbbZZXWVUTTTSPMMKIHHGFFDFGFEEEGGFEEEEDDEDDEEGGGHHHILMOOQSUWZaaZZabbWTRPMKJIHFFGHGHGFGFEGIHGFGHGFFFFFFGJJJKIKJIMORRSUSRRURQSTUUTTRTSSRRSQPQQPPQQPPNLMMMMMLKKIIIGFFEEDFEEDEEEEFDDFEEEEFHFEDEFDDDDDCEFEEDYZZZZZZWUUVVUTRQNMKJHHHGFEFGGFFEEFEDDEFEEEDDEDFGGHIHIKLNORSUYaabaaabaXUSOMLLJIFEGHHIHGHFFGGGEFFFFFFFEEFHKKKKIKKILORRTWUTSTRPSUVTSTRTTTTSRQQQPPPQQOOPONMNNNNLLJJJHGFFFEGFEEFFEDEDCEEEFEFGFEDEEDDEEDCDEDDCXYZZYYYVUUXXVTRQNMKJIIIGFFEEFFGFFFECDFGEEEDEFEFFGGIHHJKNPSSTXZbcbbaZYXVTOMMMLIFEGHHHGFHFFFFFEGFEEEFDEEFHKJKKJMMMNORSTXWVVVTRSUWUSTSSTTUTSRRQPPQRROPRROMNOOONLKJJIHGFGHHFFFGGFDDDDEEEFEFEEEDCDDDEEEDDDDDCYYaaZZZXVVXXXUTROMKKJJIGFEDEFFHHGFFEFFGFFFEFFFGFFEGGIJKOQSRSVXbcbcbbaYWSQNMLKIGEFHHGHFHGFFFFFGFEEEFEEEFHIIKLLNNPPPRSSUVWVVTRRSUUUVTRSTUSRRSSQQQRSPQRROMNONONLKJIIHGGHHGGGGGGFEDEEEEEEEEDDEDCCCCDEEDDDCCDXYZYXYaaXVVVWUSRONMLKKIGFEEGFFHIGFFEFEGGGGFFFGHFFEFHKJKOQSRSUVZbbdddcaXTRPOLIHGFFHIHIGGGFFFEFGGFFGGFFFGHHHIKLMMOPPRRRSUVTSRRSTUVVVTRTTTSRRTTRRPQRPQQPMMNNOONLKKIIGGGHHGHFEFGFECFEEEEDEEEDEECBCDEEFEDDBCDZZaZZabbYWUUVUSRPOMLLKIGGEFGFEFHGEEEEEFFGGGFFFHFFFGJKKMOQSTTUUYccedcaZWSRPONJHHHGHIHHGFHGGGFFHGGFGGGGHHGHHHJKLMNOPQRRSUUSRSTUVVVVUSRTTSSTSTTSRPQQPPPONNOOOPNKKKJJGHHHGGHFEFFEECFFFFFEEEFFEECCCDEEGFDDCDEdbbbbcbbZXWWWUSSQPNLLLHFHGGGFEEGGFEEFEEEFGHGGGHGGFGIKLMOPTUVWXZccdbZYYWTTQPNKIHHGHHGHGGIHHGGGHFGEFFGGIGGIHHJKLLLNOPQQSSSRRSUTVVVUSSSUVTTTSUUTSQRQOPQQQPPPONMKJKJJGHGHFGHGGGFEECEFFFGFFEFFFEDDDEEEFEDEDEEfcbbcbaZaZZZZWSRQQNLLKHGIHHGFFEFFFFEFFEEGGJHGGFFGFGIKLLNPTWXYZZbabYXYaZXVSPNLIHHFGGGHGGIHHGHGGFHFEFFFHHGIHGIKKKKMNOPQRSRQQRTSTTUURSUWWVUSRSUSSRSQOPRRRQPOONNMKKIIGHGGGFGGHHGEECDDEFHGHFFEFECDEEDDEEDDDEEfcbabbaZZYaaaWTSRPONNLJHIHIGGFFGFFGEFGFFGFHHGFEFGFGHKLLOPUWXXYYbZYWXYaaZXSPOMJHIHHIHHHGGHHGHIHHIFEEEEGHHIHHHJKKJMMNPPQRRQRRUSSTUTRRUWWVTRPQTSSRRQPPRQPPOOQPNMKKIHGHGGGFEFHHFDDEDDDFGFHFEEEECDDDCDEFDCDEDfdaYZaZZYWXYYXURQPPPPMLJIHIHGFGHGFGEEFGFGEFGGFEFGFFHJLMQQTWVWZabaYWXXXXXWRQOLIHJJIIHHIHFGGGHIIHIGFGEEGIHHIIIIKKJLLMOOPRRRSTVUUVVTRSUVUUSQPPRRSRRRQQQPMMNPRONMLLJHGHGHGFFFGFEDDEEEEFFEGFEEEECEDCDEFGEDDDDfdaYZYYYYYYXWXVRPQRQQNMLKHIHGGHHGFFEEGGFFFFFFFEFHGGHJLMQRTVVYcdcbYYYYXVUUSROKIIJKIIHIIHFFGGGHIHHFFGDDFHGGIJJIKKKLKKMNORRSTTTTVXWVUVVUUVUTRQQQRSTSRRQPMLNPQONNLMLKIHGHHGGGGFEDDEEFEEEEGEDEDEDEDDEFFGEDEDDedcZZZYZZaZYWXXRQQRRRONMLIIHGHHGGGGFFFFEEFFFEFFGHGIKKLLPQTVXaddccbabbZXVTRRPLJJKKJIIJIIFFGHHHHGGFFFDDEFFFHIJJKKKLKKMNPQQRRSSSUWVVWWVTTVVVUSTSTUTSRRPONNOPQPNNLMMMKJHGIHGGGFEEEEFEDDDEGEDEDFFFEDEEDFECDDCeecaaaaZaaZYWXYTSRRRQONMLJJHHIHHGHGGGFFEEEFEEFGHHGILLMMPRUXYabcceededbaWSQSQNLLKKJIIIIJGGHIIHHGGGHFDDDFFFHIJIJKKLLLNPQQRQQRRSUVUVVVVTSUVWVUVUVWUSSRPOPOOOPOMMLMMMKKIHJHHHHFFFEFGEDEDDFDDEEEFFFDEDCDDCCCCffeaaaaZabaYXXXTSRRRQPOMKKKIIIHIIIHHHFGHFFFEEGHIJHJMNOPQSWYYZbcdefeedbaVRRSQOLLLKIIIIIKHGHGGGHHHHHGEEEFGGHIJIJLKLMMNQQQSRRRRSUVWUUUUUSVVUUUUUVXWUTSQPQPNOPOMLLMLLJLJHIGGGGGFFDEGEEEEDFEEEDDDEGEFDCDCBBCDdffbaaaZbdbYXXVSTSRSSSQOLMMJKIHJKIIHGGHIGGFEFGIIKJJMOPRSSVYZacddedeecYWTSSTQOMMLLIIIIJJHGGGGHHHHIIIGEFFGGHHJJKLJKLMNPPORRRSSTUVWUTTTUTVWUUVVUVXWVUSRQQPPOPOLLKMKKJKKHIGGGGGFECDGFFEEEFFFEDBDDEEFFCCBBBBDbefcbbaacebYWWUTUUSSTTRQOOMKLJJKKIJHGHIHGGFGGHIIKKJMOOSSSUWYacdeedffcXWUVUTRPNOMMJJIJKJHHGIIIIIIIIJHFGGIHIJKKKKJJKNOOPOQQRRRTUUVTTTTUTUWVVVWWVXVVUTSRRQRQQONMKLKKKJJIJHHHHHGECEGFFEDDFFEEDCDCDDFGDBACCCCdffcbaaabdbZWWWVVUUTTTRRQQNLMLKLLJKJIJJIGHHHGGHHJJJMOOSSTVVXacddfefedZYWXVTRQOPNNLKJJLKHIGIIIIIIIIIHGHIKIJKLLKLKJLNPOPQPPRSRSSSTRSUUUTTWVVVXXWXWVVWUTUTTSSPOMLMKMMJJJJIIJJIHFEFHFFEDDFFEEEEEDEEFGDBADDCBgifcbaaabaZYWXXXVVWWUTTUSSOLNMKLLKLJJJJJHIIIGGHIIJILOPRSVXYZceededfeebbZaYUSRPQONNLKJLKIIGIIIIJJJIIHHIJLJKLLLKMMLMNONPRQQSUSRQRSRSUUUVTVUVVXXYYWWXXVUUVUSSRQONOKMNLLKKJIJJIGFFGGFEEEFFEDEFFFEFFEFECBDEDBfgebbbbbbZXYXYYYVVXXWWWVTSPMNMKLLMMLKIIJHIIIGHHIJJJLOPRSVYZadffeeejiheeccZURQPPONNNMLNLKJIJIIJKLLKKJJIJLLKKJKKLLLMMNMOQQQRTRRQQSSSSTUWUVVWWXXXWVWXWVUTUTSTSROOOJLNMMKKJIIIHFGHHHGEEFHGFEEEFFEFFEEEDBDEDBffdaaabccbZZZaZYXXYYYZYXTSQOPOMMNNNMLJIKIJJJHIIJKKLOQRTUWZabdefgghmlhffcbYVTSQPNNOOONNLLLKJJIJKLLKKKLKKLLLLKKKJKLMLMMNQPPPRRSSQRSRRSVWUVWXYYVWVVWXWVUTUTTTSQOPPKMNNMKJIHHHHFGHHGGEEFHGFEEEFEEEEEDEDCDEEBigcZZabcdccbbbaZYZaYYZaaWSQQRQOOPOMMMKJLKKKKIKLKLMNQTVWWYbcdfgikkjlkfdfdcZWWWUQPPQPPNNLLMMKKLLKLMLKKMLJKLLMLLLLMNOMNNOPPQPRSRSRQSSSTWUSUXYYYVXXWWYXWVTUUTUSQPRQLMNMMLJIHHIIIHHHGGEEFFEEEEDEEEDDDDDDDDDECigcYZZbbbbcccaYXZaaZYYYZWTRRTQPOQPMMNMLMLLJKJMNNMOQTTXYYZbdffgillkkiddghfcYXXWTTTRPPOPNLKLMNNNLLMLLKMKIKLMNLMNMNOPONOOPPSRSSRSSSTTVVWTTUXYXWVXYXWXXXWVVVVVTRSSQMNNMMLKJIIJKJIIHGFFGFEDEFFEFDEDCDDDDDEDEDedcaZZabcaabbYXWZaaaZWXXVTSSTQPPPPNNOMMNMLJKMOPQOQSUTWYZYaegfghklkjhfghihfZYYXVWXTRRRQOLKLNOOOMNMLLLMLILMNNMNNNNNOOOOOOPSSTTRSTUVVWWVUVUUVVVVXYYVVXXXWWVVUTSUUROPONNMMLKJJKKIIHGFGHFEEEFFEFDEEDDDDDDEDDDcbddbaaacbZaZYYYZaZZYWXYWUUUURQQPPQPPNMLKJJLNPQSQQTXVXZaZcghhiijkkjjjihhigbaZXWYYUTUTSQPNNOPPPOPNMNNNNLNNNNOPOOONNOOPPOQSSSTSTUUVVWWVUXWTTVWWXYYVVWXYWWVVUTTUUSRRPOPPPNKKKKKHHHHGGHGGGDFFDFDEEDDCCDDEDDDdbdffdcabcZZaabaZaZYVUXZYWWVUTTTSRRQQPNLKJLMOQQRQQUZYYabcgiijlkjhijlmlijjgdeebZYXVVVUSSRPOOOOPOPNNOOOOMOOOOPQOPPOOPPQPPRSRRSSUVVVUVVUVXWUUWXXYYYWXXZaYYXXXVUVUTTSRQQPOMKLLLKHGHHHGGHHGEGFEFEFDDDCDEDEEFFecdfgedaababbbcbaabZWVVXXWXWUUVVVTRPRRQNNMNNPRRQRRUYaZcdfiikmnkjhjlopnlljggigdZXYYXWUSRSQOPPPOOONOOPOQOPQQPPPOOPPOPRRPPQQQQRRTUUVUUUUVVUUVWXZYYXWYabbZZYZYWVVTSSSSRPONLLMMLJIIHIHGGHGFFGGEFFFDDEDEEDEFFGecdffedaacddcbbbbabZWWWWVXXWUUUVVUSRSTSQQQQPQSSSTTUYccefhjjmnnjjjmnppnlljgggebYYZZYWUTSSQPRRQOOONPPPPRQQQQPPQPQPPPPQRPPQRQRSSTTUUUUUTTUUVWXYaYYWXYaaaYYYZYWVVTSSRSRONOMNNMKJJKIKJHGHGFGGGEEEFEEEDEFDEDEGdcdffedbbcddbaaZaZZYWWXXVWWWVUVWVVUUVVUSTSRQRTUVWVVZedfgikjmnnlmlnmmlkjkkhfeecaZaYWUUVUTQRTSRPQPPQQPPRQPPQPPQRSQQQQPPPQRTSSTTTSUUUUUSTUVWXXXZYYYYYZYZZYXXWWWWUUTSTRPOPOOOMKKKLJLKIIHGFGHGEEEFFGFEDFDEDEFdcdfgfdbbaZZZaZYaaYXWVWXWWXXWVVXWWWVVUUUUSRSSTUWXXYbeeghijiklonoopmkiijlljheddcbbYWVVWWSRSUSRPQQRRRQPRQOOQPPQSTRRSRQPPRRSSRSTSSTVVVURTVVWWXXYXZZXYYYZbYWWXXXXVWXWVTRRRPOOMKJKKKLKJJIIIIGFEEFFFGGFEEDFEEDfedfhhebZYXWYaZXZaXXWUVVVWXYWVVXXWWVUTUUTRSTSTTUXYacfgiikkhiknnpqqnkijkkkjhfeedbaXWYYYXUSSSRQOPRTRRPPRQOOQQQRSTRSTSQPPQRRQQRSSSTWWTTSUWVXWYYYXYZWXYYZaYWXYZZYXXZXVUSRRQPPNKJKKKLKJJJJJIHFEEFEFGGFEEDGFECigdfhhfbaaXWXaZYZcYYXXWWWWWXWWVXXVWWUUUUTSTVUVUVZabceghillklmqprrroljjjjkjgghhhebYYZaZYXVTRRSRRTVTRPQRQPPPQQQRSRRSSQQRSSRQQQRSTTVUSUUVVVXXZZYXZZWXYZaZYWYZXYYYYYVVVSQQRQPNKJLLKKJKJJJJIIGFFGFFFFEDEDFEEDhfddeeedddaXXZbaacZYYYXWWWWWWXWYXWXWWWVVXXXYWZYZcccdeghhklmopsqqpqnljjijmkggihifcZZYZaZYXWTRTUTVVTSRRRQQQPOPQQRRQSSRSTTUTRQPQTTTUTSUTVWVWWYYWXZYWYYYaaZYXYWXYYXWTVVUSRQQPNLMOMLJJLJJIIJIIHGHGHGFEEFEEEEDjifffedddedZZZbaYaYYXYYXXYXVUXUVWWWXXXXXZaaZXaaceddefhkllkmpprpnmonnlkjknlghihgdbaaYYaaaZXUTUVTUUTSRSRPQQQPQQQPRQRTUUTTUTSRQPSTUTSSTTWWVWWXWVXZYWYYYZaaYWYXYZYXVUXXWUTRPONMOPNMKJLJJIHJIJIHHGHHFGGGGFFFFmkggigdbbddbbZaYWXYYYYZZZZYVUWSTUWXXXXXWZbaZYccdfedeegknnmmnmnlllnponkklnmijjgfdbabZYabaaYUSUWUUTUTTTSQQRRQRSRQSSTUUTRRSRRRRPQTVTSRTUWWVVVWWWXYYYZYYYZZYXZYYbaYWWZaYWWURQQPQPNNMKLJJIHIIJIHHHIHGHHHGGGGGkiggihecacdcbaaZYYYabaZZZYXWVWTUVYYXWWWXZaaZZbcdffedceiklllljjlmlnpomkkklmjjjhgecbcZYbaZZXVTUWUTTUTTSSRQRRQRTTRSTUVUTRQQQRSTRRTVUSQRUVVUUTVWXXYYYZZYYZaZYZZYccZXYabYWWVTTTSRQNOPONLLLIIIJJIHHHHGIIHGGHHHhhhhhgedcddccbbZYZYabbaYXWWWWWUWXYYXXXXXZaZYXZabdffdcehihijkijnnnnnmlkkkkmjijjhfdbaYWZYXXXXWWWTRSTSRQRRPQRQRTTSSRQSTTRPQQRTTSTUVVSQQTUTSTTUVXYYXXYZZZacbYZaaccZZYZaYWVVUUUTTSOPQQOMNNKJJJJJIIHGGIIHHHHHHiihhhgffeeccbccaYYZZXYZYXWWWWXVXXYXXXXXXYYXWWXZZbegffgiihijlmlnnnmlllkjllmkijjhecbZYWXWVVVYXYWURRSSRQRRPQSRRTTSSQPQSRQPPQSTSSTVUUTRQTTRSUUUVXYYWXXZaZaccaabcbbaaXZaYXWWWWUTVUQPPPONNOLKJJJKJJIHIIIHIIIIIkkhgfeghfebbabcaXWXXVWYYYZYXWXWXYXXXWVWWWXXXYZZZadfhkjjjkkkmonmmnmmlkihjjkljjhfecbaZYZXWVVXWWWWUSTSRQRRQQRQSSSTSQQRSQQQQSSTSSTUSTTSRTUSUWVUVXYXWXXZaYZcdaaaccbbbYacaZZYYXUTUURQQQQPOONNLKLLJJJIJIIHIIHHInmihffihedZZYZZXWWVWVVXYYaZXWXWXXXYZWVVWWXYYYZaYYcfjmljjmlkjnollnnnmkigiijjiihedcdbZZaXWVUVTSTVVUTSRRRRPPQPQRRTRPQRSRRRSTSRQRSTRSTSSUVVVXWTUWXWWXYZZZaddZZacdddcZbddbZXXWUTUURQQRRQQPPQMLNMJIJIIIJIHHHHHqojiihifccYYXYYVWYWVUUWYZZYXWWWXWXYaZXXXWXZYYaaZYbehkkiimlkjnnjknmmnlkjjkkhfghhecccZZYWXVSUSRSTUUSSTTRRRQQQPQRTSPQRSRRRTVRPPQTURSSSSTUWWXVSTVWWXYYYYZbcbXZbdeffeZZbcbZXXXWTUURQRSSQQQQROMNMKJLJJJKJIJJJHqokkigfdbcaZYabYXZXVTUVWXWWWWVVVVYYaZYYYWWYXXZZaZbeehjhgllklnmkmonlllljkllhddgifbaZXXVVXVSVUTUUUTSSTTRSSSQQPPQRSQQQRQQQTVRQQRSTTTSSSUVWWXVTUVXYaZYYYaccbZaacffgeaZabbaYZZYUVVTSSUTQQRQSPNMKMMNLLLMKJKLKJpnlkifdbbcbbabbZZZZXVUVVUTUVWUTTVYZZYYZYWVWWYaZbbdffghgfijklmljloolllkillkhddfgebZXUVTVWVUWWVUUTTSRRRQRRSRROOPQSRQQSQPQSVSSTRQSTUUTTUVWWXVTUWYacaYYYZbbbabYZdeeedbbaaaZZZYVWWUUUVURSRRTRPMLNNPNMMOLKLLKKonlkjgdbbbZZabbaZZZYVVVUUTSTVVUTVYYYYXXYVVVWZbabbcghhggefijklkjknnmljiimligcccdccbYVVUWWVTVVVTTUTRRQRQQQRQQOOOORRQRTRQRSTTRSRQRTVUUUUVWXXWUUVYZbbaaYYaaccbYZcceefecaaaZYWXWXWVWWXWTTRSTSRONPOPOMLNMLLLLMonlkihdbaZYYZabZZZZXVUVUUTTSUVWWXYYXXWWXWWWWYZZbbcgiihhfgjlllmllmmmljjjmliecaaccddbYWVXVUSTTUTSTTQQPQRRQQOPNONNQQRRSSRSSSSQSRRSTUTUUUUWXXXVWWWWYabcZYZaccbaadcddeedbaZYYWYXYWWXXYXUURSTSTRQQPPNLKMLLLLMMpnkihebbaZZYZYZYZZYWUTUUTTUUUVZYYZYXXYXYXYXWWWWYacfhighgilnmllllkjkllmkkljfdbbccbdbZVUXVVUVUUTSSQPQPQQQQPOPOOONPPQPQSSSSSTQSRSTTTSSTTUVXXVVXXVUXYZaZYZZabaabdddeddcaZZZZYZZaXXXXXWVVSRRSTSSRPPNMMNNNMMLLroligdcccabaZYYWXYXWUSSTTSTUUWaZZZXVXYXXYZXVUVVXadeghgggiknmkjkihgiklmljkkhfedcbbcbZUTVVVVWWUUTRPOQQQQPOOPQQQQOOOPNNRRQQRSQRRRTTTTRQSTVXXUUWWUUXYYZaZZZabZYZceffedcbabcbZZacZYXWWWVUSSSSTUTQOONNNPOONMLKppmlifeddcdbaZXVWXVVUTSTTRTUUXbZYXUTWYXXXXWVVXYYbeffffgghhkljhihhgklklkiijhhhfcccbbYVTTTUTVWVVUTRPRRQOOPOPQQQRQPOPNNQQQPQRQQRSSRSSQQSTVXXVVWVUVXXZababaabYXYbdffeeedccedaZbcYXYWWYWUUTTTUVTPNNNMOQOOMMLKonklifedeeecaYXVVWUUWWUTSSVVVWaZZXTTWYWYYWVVXZaadfeddffefhjihgiiijmljjiiiijjjgdbcaaZXUTTUUVWWWVTRPRPOOPQOOOPQRTSRRRQPQRPQPQRRSSQRSQRUTUVWWVVWVWXXYZbbdbabZYadfffffedccccbZaaYXYZZZXVVUUUUVTQONNNPQONNNNNlkhihgfdffedaXXWWWUUWVTRQSVUUVYYZYVVYaXXXXVVYYZacdbcegfcegigghjkjjljiihhihiiifbZbaZZYWUUVVVXXWURQPONOPQRQONNQSVTTTTSQRSQQQSRRRSQQTSTUUTSUWVVWWWWXWYacdcaccbdffghgedcdbabcaZaaZabZaXUVUUTUUTTRQOOPPNOONNNkjhjhggeeeddaYXXXXVUUTRQPRTSTVYXYYWXZbYXWXWVYXXYabbdfggeffgfgikkkkkhhigghggfgebZaaZaZXVTUVUXWVTRQPOOPRRSRQPORTUSSTTRQRRQRQSRQRRRQTTTUTSRRUWVWWWXYXXXZbaZdeeeedfhhedeedcdebZZaabaZZXUVUUTTTSTSSQPPPOONMMMlkjkheedeccdcbZXXXWTTSRQQSTSUUWUWWWXZaYXVWWUXXXYZaabefgggfffjlkjjllhijffhhgegfdaaaYaYXUTUVUVVUSQQQPPQRRSRSRQRSTSSTSRQQPQRRTRQRSTRTTTUTTTRTVVVVVXYYWVWYZZceeedbdghedffeeffdaYXYaZYZYVUTUUTUTTTTRQPPPONMMNkjiifddcdcbbbbaYXWVSSTTRQSTUVUUSVUUWYYXWWXXVXZYZYZZbdffffedejmljijljjhffhhfeffdbaaYYXWVUVVUUUUTRRQQQRQQQPRSRRSSRRSRRPPPQRSUTQSTUSSTTUTTUSSUVUUUXYXWWXYXZcdcdcbdffddeeeddedbXVWZZYYYYWUWVUUTTTTTSRQQPOOOOiihgdbcabccaYYZYXVTRRSTRQSUWWVTSVUUVWVVWXYYXZZYYWXZccdccdeddgkljiijiheggffeeecbaaZXXWVUUVUTTTTSRRQQRSQPOPQSSRTSQQRQQPPQQRRTTRTTTSSTUUSSUSSTTTUVYZYWYaYZacdbcddeeeddeedcabcaYWYbZYYZZYXXVUUUTSSUTRQRRSQPPijigdccaacecZYYYWVTSSTTRRTUWWVUSUVXXWUUVXXXXZYVVUWbdcbbbceedfhifghhhgfggfeeedZaZZYWWVVTTWVVUTSRRQQQSSQPOPRSRQRRQPRRQQQQQRPRRQSRSTTTUVRRTSTTSTVXYZaYZaZbcccbefeeeeggfedcZaaaaZZcZZYZZaYXVUUVUTRTTRRSTUSQRhjjhedecbcecaZZYXWUTTTUSSTSVUTTTVVYYWVVVWVVVYXVVWZdeddccceeeegfadghhhgggedddcZbaZYXXWXVUXXWUUSRSQPQSTRQQQRRQQQPQPSSRQPPQQOQQPQPRSSSTURRSSUUUVVXYaaaYZZZYZbcegffghhgffddaabbdcabaaYYZbaYVVWWVUSSTRSTTUSRThjligfhfddcbZYYXWWVUUUUTUTSUSSSUWWXWWVXWXUTUWWWWYcedegfedeegeedadgiiigfddccccbdcbYWXVYXWWXWUUSSSRQRSURRQQRQOQQPPOSSQOOPQQPQQQRRRSSSTTRRTTVWVUUXXbZZWXZZYXbddggghiifefddacccefbbaaYYZbaZWWXXUTTTTSUTSSSRTjkliffgffdcaYYXVUUUUUTTTVUTTSSVWWWWWWXYYZVTTUUWXZbdbdeeddffgfdeeffhiigfcddcbdcddbYWUUWVVUTTTTSRRQQRRURRQQRPOPPPPPSRQPOPQRQRRSSTTTTTSSSRTUWWUTTVVYXXVXZababeegggfijgefdccedcdeddbbaZaaZZXYZYUUWVUUUTRQSSUjjjgdcdefdbaXXWVUUVUTRQRUUUTUWYYXXXWWYYZZWVUUVWWYZbZcccbdeefedefgefghedceedcdccbbZXVWWWVSRRTSRQQQQQQSRRRQRQOONPPQQPQQPPQSSSRSSTTSSRRRTTTTVUSSTUUVVXWYZadccefhhgdehgfebbdedcddefddbbbbaZYaaZWVXXWUTTSRUSTghhfdcddfbXYWVUVUVVTUTRQRSSQTXYXWYYVVZaZYWXWWXXWXYZaccaZddcbcceffdcdebbceddbbabbcbaYYXVVTRSSSRRQQRQPRRSRQPQPNMOPRQPRRRRQRSSRRRSTSRQQRTUTQSTSSUUUUVYZcaYabbcehjiedggfdbceedcdeffccccddcaZZZaZYZZXUTUTTUSSffggebccdaWXVUTVVUUTUTSRRSSQTVVVVXXWWbbZXWWWYYWVVXZabaYZdecZadfggdcceddddcebbaabbbaYXVTSTSTTTTTQRSRQRSTRPORROLNOQQRRRRRQRRRSSRSTSTRRRTUTQRTUTUUUSUYZbaYYZabcfhhfeihfddeeffedefebbdeeeecaZXYaZbZWVUVUUTSRgfggebccdaXXVVUWWVVVVTTTSSSSUUUUVWXXZbaZXXXXYYWWXYbbbYYadecaceeegeddededccecbZYZYZYWVVTSTSTSTTURSTRQQTUQONQROMMOQQRRRRPOQQSTUSSRSVTUTTSTSSVVUUUUTTWXYZYYZaaacfghijhggfedfggffedbceggffecaYYaYaZXVUVVVTTTedeeecdfdbZYWWWWWVWWWTTTSSSSUTSTVWXXZaYYXYYYZZYYZZbbbZbddcaZbdccffddccdddddcbYYYXZYVVVUUUTUSRSTSTSRRPSURONPQONNOQQQRRRPOQRTTUSRPQTTVUSRSSSUVUUTVTTVWXYYZabbZaegiiifhihgfffikieccefiifeeebaaZXaaYWVVWXVWWfeefedefecbaYYXWVVWVVUUUTTUUUTTUXXXWYZYXYYZYZaYXYXZbbadfdbYYaccceedcbabddddbaZZZYYWVVVUUTSVTRRTSSRRRQTUSQOPPPOOOPQRRQQOPQRSRSSRPQSSTVTRRQRRTUUTUUUVXXYXZbdcabfhhhigilkjihgkmkhfefgijfeefeddaYaaaXWWXYXXWihgfecdffdcbZXWWVWWTTTTVVVUUVUUWYWWWXYYWXYYXZZXWXWYbbadddcaacdddeedcaabccdcabcbZXXWVWWTTSSVURRTSRRRSRTTSQPQQPPPPPPQRPPNPRRQQRSSRSSSSTTSSQQPQRSSUUVWXXYXYabbbcffggighklljihkmkjihffiieeffeffdbcaZXYXWWWVWkjgdcccdccbaZWUWWXWTSSTVVVVTVVTVXVVWXYYWXYXWXXXWYXYbbZbbccddccddedcdcddedecabdbYXVVWWVTTTSUTQRTSRRSSRSQPPPRQQPPPQNOQQPOQSSQOPRSSTRRSRSSSSSQPQRRUUVYXWXYZZZZaacdfgihghjkiiijkjjjjggiheeffdefeddbaYaZYWVUVkifeddcaYYYYZWWYXXWUSSSTTUUTVVUUUUVWWZZXYZWUVWWVWWYZaZabcbddbabccbcddeddccbbbbaXXUVWVUSTVSSRQRSRRSTSQQOPOPRRRPPPPNNQSQQRSSPPQRSRRQQSRRRSTTSSSSRTUWYZXZabaZYYYZbfhiihghkihhjjijjihjkjgeffddfedcbcbcbaYWVWiiggfdcYXXXXYVVYXWVURQQRRSTTVWWVUUWWWZYXZZXUTUWVVWYYYZabaabbaaaZbadcabbbZZZbaZYXXWWWUTSUVTTSRSSQRSTRQQPQQRRRRQPOONOPRQQRRRPRSSSPPOPSRQRSSSSUUTRRTVXYXZaaZYYZaadghjjhfgkkihjjhhhhhjjlifeeddgecccdddcaZaYYgiiigebZYXXYXVVYXVUSRPQQQRSTTVWWVVXWWYWXYYYWTUXXXYYXXYaaZaaaZZZYaZcbZZYZYXYaaZYXXXWWTTUUUUVSSSSRRQQQQQQQRRQQONOOPNOOPOOQRRRSTSRPPOORRQRRQQSUTTRRSVXYWXXYYYYacdfhgjjhfeijjikjhggiiijkifdcefgfeeefecaabcZahihgedbaZYYYXWXZXUTRSQRRRSSUTVWVWXZXWXVXXWXWWWXXYYXXXXYZYYYYYYYYaZaZZYWYYYXZaaYYYXWWSTUVVWWUSRRSSQQQRRQPQRQPNLNPPOPOPOPRRSSTTTSQQQOQRQRRQPRTRRSRSUWXWWWXYYYZccdeejjigehiiijkhgijkkkjjgfdgijhgeefdbZZabYafgfdccbaZYZYXXZYWTRQSRSTSTTVUUUUWXYXWWVXXWWXXWWWWXWYYWXXXXWXZXYZaYYXYXXZaZXYZYXZYYVVSTUUWXWVTRRRRRSSUSROPRPQOMOPPPQQQPPRRSSSSTTRRRQRSRSSRQRSQRTSSTUWVWXYYYYZcdbdeikjhgjijjkkijklmmkjjiighjkigccdbccaZZXZggfdaabaZYYYWWWVUTRRTSSSRTVVTTTUWVWWWXVWWWYXWVUUUWUWXWXXWWVWYXXXXWWVXWYYZXVVVWXXWXUUTVUTVVUTSSRSSSTTVTSPPQPPOOQQPPQQRPOQQRSRRSSQRSTSSRTUTRRSRSUVUTTVWXYYYYYadecddgijiijjlmmmkklllmkjllkihihgeaabcdecZZZajhfcZZbaZYXXVVVUVUUUTSRRRVXVTUVWVUWWUVUVWXXVUVVVTVUUVXYYVVUUWVVUTSTUVVXXWUSSUWXVUXWVVWUTTUTTTSQQRSTSTSTSQQPQPQRQOOQPPNNQQQRQQRRPPSVTSSUUTSRRRSVVTTTVXYYWWXYZbcbcdefhiijknmllmlmnmmlknljgghgfeccdgfedccbbjigcYYaYZZYWVVVTVVVVTSRRSVXVSUVWWWXXVUTUWXWVUVWXVVUUUWXWUUTTUTTSSSSUVUVVUTQPSVWUTWWVWUUTUTTUVTRPPQRRRRSRQQRSQQQPNOQQPONPRRRPPQSPPTXVTTUUTSQQRSVWUVTVXYXVVXYXYbcdeefgijjkmlkmnmmonnmkmkhfghgghgfgigfffedbjjhdaZaYaaYWWVVSUVVVSRSTTVVUTUVWXXXXXUTUVWVVVVWWVUWVUVVVUTSTTTSTUVUTTUUUTTROQSUUUWWUVUTUUTSUUTRQQQRSQRQPPRRSQQQPNOPPPPNPRSROPQTRQSWVTTTTUTRRTUWWWWTUVWWVVVXXXbddfeggijiilklmomlnnnnmnliiiihiihghkigfgfdaihgebZaabbYXXVVRSTUTSSTTSTUUTUVWYYYWXWUUVWVVVVVWVUWWVWVVUSSUUTTTVWVSRTSTSSSQQQSTUWVUVUTUUTQSTRRSTSSTRRQPQRQQPQQQPOOONOORSRQOQQRQPPTUTSSTUSSSTUVVWXVVUUWWXVWXXbdegggehjiilllmnmlmmmnnpnkkjjjjihgiljhefecahfefcaaaaaYZYWWSRSUUUTUTSSTTTUVWYXWVWWVUVVVVVUUVVUXXWXVUUTSTUTTTVWUSRSRSSSSRRRSSTUUUVVTTUVRSSRRRSSSUSSRRRQPPPQQQQNNNMNOQQQQPSSRPPORTSRSSTQRSSRTTUVVVVVXYZWXXXacegggfghiikklnnmmllmonpolllmliikijligddcbcfffgdbaZZaXZXWWUSSUVVUUUSSTTSTVWXVVVVWXWWVVWVTTTWUXXXYVTTTSSSSUUUVUTSRQSSSRRSTUSSUTTVWTSTVSSTTSRSRTVTSSTSQPPPQPQQONMNOPPOPRSVUSRQPSTRRRSSPQSRRTTUUVVWXXYZXYXXbcdffghfghhiknpommklnppoomlmnnijmllkhfdeedcgggfdbZYYZWWWWXWVVWWVVUUSSUVTTVWWTUWWWYYXUUWWSRRUUWVWXVUTSQRQQUTSSTUURQTTSQPRTVTSSTTVWTSTUSTUUTSSRSUTTTUSSRQQQRQRQPNOPPPOPQRUVUTUTUTRQRSSQQRQRTSUUWVWWWXYWXWYcddfefhfhhghloqommlnnqrpomklmolmonmlhfgigebggfcaaZaYZWVTVVWWXXWWVVVTSVVTSVWVTTVWWXXVSTVVRQQTUVTVWVUTSQQPPSQPRTTTQQTTSPOQTVTSRTUVUTTUUSSUUUTTQQRQSSSRSRPRSTQQQQOOOPPOQSRTUUVVUTTQQRRRQRQPQSRTTWVUVWYZWWWZccdefggehijkmmmnmmnoopqpomkmnpnponmlggijhfegfcaZYZbZaYVTTSUVXWUUTUVUTVVSRUVUUUTTTUVUTUVVSRQTUUTUVVUTSRSQQQOPQRRQPQSSRPPQSTSRRRSUTSTUUTTUVVUTQPPPRRRQRQPRSSQPQQPONOPPQTRSSSTTSSSPQRRRRSRQRSRSSUUUVWXYVVXabbbegigehjmnnjjklmopopqqpnmpponooomkgiljfgggfcaZVXaZaYWVUSRTWWUUUWXVUWVTSUUTUUSSSTUUVVXVTTRUUUSUVVSSSRTQRQQQQQQPPPRRQPQPRTRQRRRSRRSTUUTSUUSSQPQRRQQPRQQRQQQOQQPNNPQPQTSSRRSRQRSQRRRSTTTRSTTSRSTTVVWWUWYZYbcehjggjjlnmhhiknqrppqssqprsqoopqnkkmnkhihigebaWXZZaYXVVSSUWXVVVWXVVXVTTUTSUTSTSTTUWWYWTUTTTTSSTSRQSSTRSRSSQQQQQPRSRPQOPRRSTRQRRSSTUTSSUSQRRRSSSPPPRRSQPOQOOOPOPQRQQRSSRSSRQRSRSRSTTUURRTUTSRSTVVVVVYbbYadfiihijhimmjiilprssqqsrpqtusqprroklnmlkkiigfcbZZZYZYXWUTUVXXVUUVWUVWUUUUSQTUUTTTTUWWXWUUTTSRRRSRRQTSTRSRRRQQQRRQRSSQROPQRSTRPRSUVUUUTTURQRSSTRRPOPSTTQNNPMNOPQRRRQRSTTSTTSQRSSUUTTSTSRSUVUSSTVWWWWYaddaadghgghighlmlkknqrssrsronqssronqroklmlkjjhggfcabcbZZYYXVUVVXYXUTTVUUWVVWUTRTUVUTUUWXWVVUUTSRQQQRRSRTTSQRRQRQQRQQQQRRRSPPQRSSQQSSUVVUUTUUSRQSSSQQPPQSTSPNOPOOPPPQRSRSTUURRRSSTTUWWTSRRSSTUWVTUVWXXXYabccabceedffgghjllmnprstrqsspoqppppnppnlllkjjjfggebabbcaYZZYVVWWYZXTTUVVVXWWXVVVVVVVUVVWYWVUTTTSSRRRQQSSRRRPPQPQPQQOOPPPPRRPQRSRRQRSSSTTTTTTTRRRTSSQQPQRSSRPOOPOOOOOQRSTUTSTRPQSTVUUVVUTTSSTSUVVVVVWXWYYabbcbcbdccefhhhjmnoppqttrpsrqqrpnoqpomklmmlkkjgffdcaaabbXXYYWXYXYZVSSUVVVWWWXVWWVVVWVWWYYXVTTTSRRRSRQPQQPQPOOPOPOOOMNQQPOQPPQSRQPQRSRRRSTTSSSRRRTSSRONOQQRQONMMMNOONPRRTUTRRRRRTTUUUUUUUVTSTTUVVUUUUWVWXYaacdededdfgijiklnqpopsrqqsportrpprpoljmqrpmlkjeeccccccdYWXYYZZXXXVSTUVUUVWWYWWWVUUWVXXYXWUTTSSQQQQQQPPQPQPOOOOPNNONORRQOQPQQRQOOQRSRQRRSRQQQSRSSSTSPLNOQQPOMMLMOPONOPPSUTSRTUTTTTTTSSSTUSSTTTUUSSTTVUWWWYYadffeeefegijjikmmmoppqstpnrusqqrqomjmrsqoolkfecbcddddYWWZaZYWWWVVVUUUVWWWXWWXVTTVUXXXWUSQRRSRQQPPPPOPPQPMNNOOOOOONPQQQQPQQQPOOOOQRRQQQRQQPSSTTSTURMOQQPONNNMNPPPONNNRTSTTTUTTTSRRQSSSTTTUUUVVSSTUVUXXWYXZbddeefffgijjikmmnpqqqsupnqustttronmnqrqqpljgfdbbcbaaWWYYZYXXXXVVUUUVWXVUVVWWUSTUTVVVVTROOPQRSRPPOPPQQQOMMNNOOONOONOPRQOPQPOONNOQRRRQRSSRQSTTUSTUSOQSRPONPQOOPOPNMMNQRRTTTRRSTSSTSTSSUUVUVVVUSRTVVVWWWXYZaabdggffhjkkjmnnopqrqrtpopstwywspppqrrrqomkfgecaaZXWVXXWWXYYYYWUUUUWXYVTVVWVTSTTTUUVVTRPPPPQSRQPOPPQQPPONNMOONNONNNPRPNPPONNMNPQQRSQQSTRRTTTVTUVURRTRPONQROMOOPONOPQQRTSSQPRTRTUTTTSTTTUVVVTRRTVVVVVUWYZaabcfhgfgjkjjmnnppqrrttqoortvwwtqqppqrrpnmlghfdbbaXVVWWWXXYXWXUUVWWWXXUSVVVUTRRTUUVVVUTRSSPPRQPONPPPQOOPOMLNNNNNMMMOQPNOPOONMOPPQQQPPRTTSTTTVTSUURQRQQPNPQOMOPPONPRRSTURSQQSUSSSRTVSRRRSUSSSRSUVVVUVVVWZbbccdggefjjjjnonpoprsstqopstrsuusrppqrrpppokigfdcbYWWWXXYYXVWWUUWXWVVWUTWVWUUSSTVWVUTUTSTSPOPONMOOMMOOOPNMLMNNNNMNMNPONOQPPONOOOPPPNOQSUUUTTUTRSRPOPPRPNNPONPPPPOQSRSUTRSSSTUSRQQSVSSRQSTRRSRSTVWVUWWWWZbbccdghfeiiijopnmmprsrsrstuurqtttsrrstsqrrrkjihdbaYXXWXYYWWVWWVVWXVTTVVUWWXVUUUUWXVTTUSSRQNNNMNNPNLLOPPQOMLMNNLNMOMNONOPQPQPOPOOPPOOPRRTVWVUUUSRQPPQPRPNMNNOQQQPPQSRSTRQRTTRTSRQRSVSTSRTTSSTSRSVVVUWXXYZabccdgihfiihhlmlkknpqprsuuuusrtuvurrtusqrsthiigdZYYXXWWWXVVVXWWVVWUSTUTTUWZWUTVUVXWVVVTSRPMNMMNOPNNNOPPPOMLMNNLMNPNONOPQPOQPONNNONOOPQRSUWWWUTRQOQSRPPONMMOPRQPOOQSRSTRRSTSRTRQQRSVTTSRSSTSTSSTVUUUXZZZacddcddfhhjiifhkmmmoqrpqsuwuttuvxzxtrrrppruufhhgcZYYXWXXVVVVUWVWVUTSRUTSTTVXWVUVUUWWWVTRRRQNNLKNNPOOONPOOOMLNMMMMNONOMOPQPOPPMMMNNMOOOQRSSUVWTSQONRURPONNNOOOQQONNPSRRSRRSTTTTSQQSSUTTSRSSTSRRTVXUTUYabacddeddefhhjiighlponqstsstvxvrtuvx0yvtqpoprvufhffbXYZYXYYVWVWVVWXVTTSSUTSTTUVUVVVUVVUUTRQQQQOOLJMNPOOONONNOMLNMMNNNNOPMONOOOOPMLMNMMOPPPQQRTTTRRQONPSRRPOOOPQOPPPOOPRQQRPPRTTTTSRQSTUTTUTSTUSRRSUVUUWZaaZaccdccfggfhhihkosrprttttuvwvrstuwxvwvsrpqsvvfgdeaWXYYYYYWWWWWVWYWVUTTUUUVUTTSVWWUVVUTSQQQQQOPLJMOONNNNNLMNMMNMNONNMOOMMMMNNMNMLMMLMOQQPOPRTSQOQQPQQRRRPPPPQQOOOQPOPRQPQPNQSTTRRRQSTVVWWUTTSRQRRRTTVYZZZXZbcccdfgfefgiloqusoprtuuuuuustsstsptuvurstuuedbcaYYXYYWWWXXWWVWZXWVVVWVVWVTTSVWVUVVVUSQQPQQOQNLMNNNOOOMKLLMNNMPOONMNNKMMNNMMNMMMLLMNQQPOQSTRQPQQQQQSSRPPRQPQOOPQPNOQQQQQOQSSSPQSRSTVWWVUTTSRRSRSTUVXXYZWYabacefhhgfgknpqsrooqttttttttuttronqtwwsuwwvcdccaZZXXYWWWXWXYWWYWVVVVVWWWUSSSUVVUVVUUSQQPRQOQOMLMMNPOONKKLMMMMPNNNMNMLMNONMNNMKKLMMLOQPQRTTRQRSRQQQSRQPQSRQPOOPRONNQRRRQPRSSSQQSSSSUVUUTSSSSTVUVWXXYXXYWXZbadfgjkighmoooqrqqpqrtuuuuuvvuspqtvxxuwyxweffdaZZYXYWXWVVXYXWXWVVVVVWXWTRRTUVUTUUTTSQQPQQOOMLKLLMNNNNLLNNLLLNLMMMNMMNMMNMNMKIKKNMLOPQRQSSQQSUSSRRSRQQQSQQQPQQROOOQQQQQRSUTTSSSSSSTVTUTSSSSTUUWXYXYYXYXYbcceegkkihimmmoopopooqtvuvuuwxuttuxyyywyywvhggdbbbZXYYYXWWXWWUVVVVWWWXYXTTSUVVUUUUUSRQQOPPOOMKKLMMMMLNLMNNLLKLKLLMMMLLLLLMMMLJKKMLLOPQQPRRQRSSSSSSSQPQRRQPPPRRQOPQRQQQQSTVUVTSRRTTTWWWTRRRSTUUVWWWWYXYYabcdedhkkhhikkjmnnnpoprtvvxwwy0xvvvyyxxxyywuhffdddbZYYaaZYXWVVTTVUUVWWXYXUVUVUUVVUUUSRPPNPPOOMLLLMMLLLMMLMNMLKKKLLMNMKJLMMMLNMKMLLLMOPQQPQRRSSSRSSSRRPQQQQPPPRQQPQRSRRQPRSUTUTTRQSSTVWWUSRQQTUTUUVWWYXYZccdfgfhhiggikkikmoqrpqstvy0zyz0xwwx0yxxxxyxxfedddebZYZaZYXXXVVUUUUUUVVVWWVVVVTTVWVTTTSQPOQPOPMLLLLLKLLLLLLMLLKJKMLLNMKKNNMMKLLKMKLLMNPQQPRRRRSRQSTSRSRQQQQNPOQOQPRRTSRQPRSTRSSTRPPRTUVWUTSQPRSSTVVXWXYZadccfhhgfgefikkjjkosurqstx00zzyxwwy02zzywuwz2fddbdebZYaaXXWXWTUUUUUTTUUSTWUVWUTTVWVUVUTRRPQPONLKKKKMMMLKLLLLKLLJKMKJLKKLNMMKJKKKMKKLLMOPPQRQQPRPPRSSRRRRQQPNPOPOPPSTVTRQQRSSRSSRQPOQSTUVUTTTSSSSTVVXWXZZadccdefefffhijjklmorutrtuxzzyyyxxy11100zwsuz3hfdcedaXYbaYYXXWTTUUUUUUUTSTVUVVTTUWWVUUTSRSQQPNMKIKJKNONMLLKLLLLLJKLKKLKLLMLKJIKJJLJJKKLNMOQRQRRRQPRSRSRQRPQPNONPPPPRTWURQQRRRQTSRQRPRRRTTTSTTUTTTTUVWWXYYacbcdeedddfiiijkmoprttstwxxxxyyyyz110z00zuvy1jhfcdbaZYZYXYWWWUTUUUVVVUTTTVVVUTUUVVUTTSQPQPPOMMKILKKMNNMLLJLLLLLKJKKLMLLMLKIIJKIIJJJJKKLKNPQRSSSRQRSRRQPQPQPNOORPQPQSWVSSSTSRRTSRSTSTSSSSTSSTUUTSTUUVWYYYbccceffedcejjjlmnooqrustwxwwxxy0zy11z00zxvwxzjigccaaaZYYWXWVWVTTUUVUUTUUUVVUTUWUTTSRRRQPQOPONMKJMLKKMMMLLJKKKLKKJJKLMMLMLKJJKLJIJKKKKLMLOQQRSSSSRRSQQQPQPQOOOPQOPPQSVTSRSUTTSUTTTUSUUTSRSSTUUUVUUUUVWYYYbceddggfefhkljlmoppqqtssvwwxwwy11z00zzzwtuxxxhhgddbZYZZZXXWWXYVUUTUSSSUVVVUVUVVTSSRQRRRQQPPNNNLLLKKKLLKKKKLKJKKLJKKLLLKLKLLLLMLJLLMLKMNMOQQRRRQRSRRQQQPQPQPPOOPOPPQQRQQQSTTTSSTTUUSUUUTRSUUWUTWWWUTVYYXYacedehgggikmnllmnooqprsqtvwwwxz00z010zzvtuzzyhffeecYYZZZXXWWXZYWUTURRSVWWVUVVVURRSQRTSRQPPPMLMMLLJJKKKJJJKLLJKKKIJKKJKJKKKKJKLLKLLLKLNONOPPPPPQRSSRQQRQPPQQQPPQOOOPPPPRTTTTSRRSUWUTUUTSSTVVWWTWYXVSUXZZYZbdefighghjmpnnmmllooqqqsuuuvxzz001zz00wuwz10hffffcYabaYXXWWWYYXVUVTTSVXWUSVWWURRSRSTTQQPPOMLLLLLKKKKJJJJKLLIJKKIJJJJKKLLJJIKLLKKKLKLNOOOOONNPRTTTQPPQQPPQRQQQQOPPQPPRTVTTTTUSTTUTTTUTSUVWUVXVWXXVSTVYZZYabdefeeddgkooomlllnoqpoqstttvxz10zwz11xwz000hffeecabbbZYYWWWVXXVUUTTTVVURQTVVWUSTTTSRPQPONNLKKKMKLLKJJLLLKJIJKKKLJKLLKMLLKJLLLKKLLLMMNMNNMMOQTVUTQPPRRRPRSRQQPOPQQQPSTVUUUTVUUSSSTSSSRUVWUVXWWWVVTTUWXYZabcdeecbbegmnmllllmoqpoquttuvuwzzyw023201122hggeecbbabbbZVUVTVWUUUSTUWTSRRRTTVVUTUTRPOPPPMMLJJKMKLMKJKNNMKKIJKLKLJKLMLLKKKJJKLLKLMLMLLLMMLMOQSTSTRRQRRRPQRRQRPOPPPPPTUVVUTSUUUSSTUSRRQSUVVVWWVVUUUVUUVYabbbdfgdcddeklkklmlmoqpqtvuuxxvvzzzx112321354hggeeccdbbcbZWUUSVVUVUTUWXUSTUSRRUVUTTSQOMOPPNMLLKKLKLMKJKLLKJKKJKKIJIKLMKKJJJIIKLMKLLLMLLKLNNNOPQRQSRRRQPPOOQRRSQOPOPPPSTUUUUTVUUTSTUTSRQRSTUVVVUVVVWXVUWYZabcefgddeegklklmnmnprstuvuwzzz14300321010120gfeedbcdcbZZYXWUSUUUWUUVXXUSTTSQQUVVTTSQOMNOPNMLLKKKKLLKJIJJIIKKJJJIJIJKLJIJJKIIJKLKKLMLLLKMPONOPQQQQQQQPPPPPPRSTSPPOPPQSSSTUVVVVUSRTVTSSRRSSUUVWVWWWWYWXYZZZacddedefgjmnmnmnpprsuvwwux02345313652011zxwgfedcaaacbZZYXXVUVVUVSTUWWVSSRRRSUTTSTTSPNONNMLKKKKJKKLLJHIIHIKJIIJJKIJJKIIJKKJIIKKJJKLKLLKNPOOOQPRRQPQQPPPQQOPPRSQRQQQRSRSUUTTUWWTSTVTRTTSTRRTVUUVWWWYYaZaZabdddfhihiklnonlnpppsvvxxux023210z25631340vwgggfdbZYbbaaYXXVUVWVVTTVWVWUSQQSTVUTTUTTPOONMKIJKKKIJIKKJIJJIKLJJIIIKKJJKJIIJKKJIJJJJJJJLMMOOMOOOQSSRQRQPPQRQNNOQRQRRSSRRRTVVSRSVWUTTUUSTSSTRRTUSTVXXWXYaZaZabddegjjiijkmlkjlnnorvvwxuwyzzz00z13541240wvhhhfdcbbcbaZXXXWWVVVVVWWVVWWUSRTSUUTTUUTQPNNMKIILLLIIHIKJHJJKLLJKIHHJKKKKIJIJKLKIJJJJJIIKLNMLLNONPTSRQRQOPRRQOOPRSRSSSRQRQSVWTSSUTSSSTVSSSSUTTUUSUWYXVVWZacbaacdfgiiiijklljikmpqrttwwuwxwux210z1221010xxkjhfdeddbbbZXXXXXVVWWWXXWUWXWTSUTTUTTUVUQPMMMLIJLLKJJIIKKIJKMLLKKIHGIKKKKIJJJJKKJKJJJIHHIKMMLKMONQTSRQQQPPQRRRQRTSSTTRRRSRSVWTTTTRQRSTURRTSUUVVVUVXYXVVWYacbbabdfgfghilllkkjknrsrrruwvxyxvz20zzzyz0yyzzzlkheddcbZacaYYYXWUUXWVWXVTVVVTTUTSTTTTVTRPMMNMKJKKJIJJKLKIKKMLLKKIHIIKKKKIJIJIIHIIIHIIIIIJKMLLLPPRUTRQQPOPQQQQQSTTRSSQRTTSSTUSTTSRRRSUVTSUTUTUVVVWVWWWVWXZbbcbbdegeegjmlkjjllmprrqptwwxyxw00xwyywxzyyyzzjhfdcbcbZZbZZYXVVSUXWVVUTSTTTRSSRQSSTSUSQOMNNMLKJJIIJIJKKJKJKKKJIIIJJKKJKIJHIIHGHIIIIJJJKJKLLKKOPSUTSRQPNPQPPPQQRRQPQPRTSQQSRRSTTSSTTUVUTVUUSSUWWWUUTUVXWYbbdcacceefiklkjijmmlnoqqpswyxxwx0zvtwxwy1zyzzyggeeccdbZaaZaYXVUSSXWVUUTSSSSQSQQQRSUTTQQPNOLLLLJIIJKIIJKJKIHHIIIIJKKLLLLJJIIJIGHIIIIKJJKKKKLLKMOQRRRRQPNPQPPPPPOPOOOOSTSPOPOPQTTTTSTTVUTUVVSSUWVUTTSSUWWXccccbbcfgjkjihijjllmmmosqswzxxvxzzwuwxxz21z131jiffeddZZbaaaXWVUTTWVUVUUUTSTSTSRRRSVUTQPOMMKJLLKJJJKJIJJIJIHGIIJJJKKLLLLJJJJJJHHIHHIKJIJJJJKLKLMPQRRRPPOOQQQPPQOOPOOPSTRPNPQQQTTTSQSTUUTUVVTUTUTTUSRRVWVXbbbcccdghiigffijjkkmmmosrrsxxxwyyzywyyzy221365nlhhhfcYZbbZZWVWVVVVTUVUUVUSTTUTRRRSVVTPPOMKJKLKKJJJJKKJIHIKHGHHIIIKKKKLLKJJIIJIIJIIIJJIJHIJKKKKKOQRRROPOPRRPPPRPPPQPRSRPOORSSRUUTSQSSUTUVVVTVUUTUVTUVXVWXbbZbcddegghgfgijjkjlnnnpppquwyz0yzzyz0zx144567omihgebYZabaZWVWVVWWTUVUUUTTTTTSSSTSUSQOPPNLKLMKKIIJJKKJJIJLJHIHHIHJKKKKLKJIHIJIIJJJJKJJKIJJLLLMLOQQQPOOPPQPOOPRPPPQQSSQPPPQTTSUTTSRSRTUTTTUSVVWVUVVXXXUWXacabceeeghiihhiiijjjkmmoppqsuwy0zzzyy011332235lkigfecZZaZYYWWWUTVWUUWUTSSUTTTSSTTSSRPOOONMMLLLKIIIKKKKJIIKJJJIHIHJJJKKKKKJIIIIJKKKKKJJKKMLLMNNNPPQQPPQQPOOPPPQPRRSRSSPPQQQTTTTTTRRSSUUTTSUSUVWWVWWXYXUWXabacdghffhijjiiiijjjjmoqrrrrtuxz000zzz2551zz02jihfffcZZaZXYXWVTTVWVUVUTTTUTTTTRRTSRSQOONMNMLKLLJIIJKKJJIIJJJKJIIHJJJKJIIJJJIIHJKJKKKJHJKMLKMNOPPPRSSRSSPOOQRPPPSSTRSTRRSSRTSTTTURQSTUUUTTVTVVWVXXWXYXVXYabaceikgeeegiijkjikmnnprsuuuuvy1221zzz264yvwyzkjhffecZZbZYYXWVUTVVWWXVVWVVTUUUSSTSRRQPOOLMMKKKLKIHJJJIJIIJIJKKJIHIJJJIGHIKKJIHIKJJKKJGIJLKKLMNPQQSTTSTSQPQRSQQQRSRQRTRRSSSTSSSTVRRTUUUUTTVUVVUTWXVWYXWXabZZZchieddefhkllklmoooqrrwyxxwxzz11zyz032wuvwxmkiggecZZbZYYWWWUSTVXYYXXXWUSUTTTTTSSRQPONLMLJKKLKJIJJJIJJJJIIJKJIHIJLJHGHJKIIIIIKJJKJJHHIJJKKLNQPQSTTSRRPPRSSSRRRRQQSSRRQRRTSRQSUSRTTTUUUSSTUVTTUVVVXYXYbcZYaceecefghimoonpopooqrqtvuwxvvuy1zyz000yxxxykkiggecabcZYXVWWUSTVWXYXXXUTRSSTTSTUVTSQNMKLLJLKKKLKKKKJJJKJIJIIIIHIKKJIHJJIHHIJIJJJKJJJJIIJJKKMPOPRSSRRRPOQSSSRRSSSSSSSRQQSTTRRSTTSSRSTTTSRRUWUUUVVVXYYYaaYabdeedfiijjlnnopppqqrsponnswuutw0xwxyyyzyxz1llheecbbddaZXVVVWVWWVVWXXVUUSTUUSQRTVTSQNMMMKIKKKJKKKLKLKJJJIJIHIIIJKKJIJJIIIIIJJJIKLJJIIIIJIKLNPNOPQQQSRQOQRSSQRTTTSSSTSRQRRSRSTTTSRQRSSSSTTVXWVUVVWXYZaaZYabedffgihijjlloopqpqrsqnkmrvvvvxzwvvwwxzzy02mlifedcdedaZXVWVWWXWUUVXXVUUSUWVTQRSTSRPNMMMKHJKKIJJJKILKJJIIJHHIJKJKKJIJIIKKJIJJKJKKIJHHHHJIJLNOMNPPQRSRQOQSRPPQSSUSTTUTURRQTSTTSSSSRRSSSUUTVWWVUVVXYWYZZZYabddffggfehhklpoqronprqonqvwvwwwxwvvxyz00z03lmjffdddecaaYXXWVWXWUTUXYVUUSTVUTSSSRQPONMLKJHIJKJJIKKIKJIIHHIHIJJKIIJJIJHIKKIGIKLJJJIIHGHIKIJJLMMOPPRSTSQOQRQPQPRRTTTTUSVTSSUTSSSSTTSTSRSVTSTWVUUVVXYVWYZZYbcefhfggedfhlnpopqnnprrqprwwtuvvxwvwy0020yz1mmjfedcdecacaYYWVVXVTUUVXUSTTTTTTVUTQPONNMLKJIIIJJJIKKIJIIJIIIIJJIJHHHIIIGIJKIGHKLJJIHHHGHJKJJJKLLNOOQRTTQOQRRQQPRRTTTSSSVTTTVTRRTTUUTUSQRSSSTVUUUUUVXUUYZZaccefhggfeegglopmmnnoqqrqpqwwvuvwyxwyzz02zvwyonifeeeeddbcbYYXWVVVUVUUTSSSTUUTUWUTSPONNMMLJJJIJJIHJKIJIJKKJIJLLJJHHHIIHFIJKJHIKLKKIHHHGGIJHJKLLLNNNOQSSOOQQRSRQSSTTSRRRTSSSTSQRTUTUTUSQRSSSTVTTVUTTWUUWWXacbceghheefhhloomlmopqqttsswxxwvwyyyzwux1yuwzpnkjhgfeddccaZZYXVUVWXWUSRSSSTTTTVTTSPOOOLKKJJJIHIHHJLJJJJKKIHJLLJJIHHIIHGJJKKIHJKJKIGHHHGIIHJLLLKMLMOQRRPPRQRRSSTRSRRSSRSRRRSRQQRSRRRSRRTTTTUVUUVVUUWUUVUWZcbbdfggffghhloonkknqrrtvvvxyyvuwyy01vru0yxz0qnkkihfdcddcbZYXXVTUXYXURRTTSSSTTVSSROPPPKJJIJJHGGGHJLLKKIJJIHJKJIIJIIIHHGIJJJJJKKKLJHHIIHIIJKLLKJLLNQRRQPQRRQPPRRQRRRTTSSSRRSRQPPQRSSSSTUVUUVWVUWWWVWVVWWYacaabefgggggikmnmklorttttuwxxywxzzz11wuw00121qmiihgecdedcbZXXXWTUWXWTRRSTSSSSTURQQOQRQLKIHIJIGGIJJLKJKJJJIIKJIHIJJIIHHGIJKKKKLLKLKIIJJIIJJKKLKLNNPQQQQQQRRRQPRQRRSSTTRRRRRTSRPOQSSSSTTUUUTUVUTWXXWVUVXXaZZZaacdfggggijjkjkmoqtuttvyyzzz00001211z11330qlhgfedccdcbaYXYYXVUUVUSTTSRQRSTTSRQRPPQQMKIIJIIGHJLKKIHJJJIHJKJIIJKKHHIJIIJKJKJKKKKJJKKJIIIIJKLLMNOQQPQRRQRRSSSSRSRRQQQQQQRSTSTRQSTSQRUTTTRRTUTRVWWWVVVXXaYXZbbcdefffhjjjlmllnoqssty000yxyzz01443133332oligedcbbaaaaYXYYXVUTTTTUVTRQSTTTSRSSPOOOMLKJJIJHHJKKJIGHIIGHIJJJIJKKHIKLJHJJJJJJKKKIJKLKJIHHIKMMMNPQQPPQQPRRSTTSRRQRPPQQQPQRTSSSSSTTRRVVVUSRTUUTTUWVUVWXWZZZabddddeghiiijmnmkmnpssuyyyyxwyzy01321121246mlihgfdcbbZZaZXXWWVVSTUTTUSSRTUUUTSSTROMMLLKJJIJHHIJJJJHGHIHHIHIJIJKJIIKKIGIIJKJKKKKIJKLLJHGGHKMMNORQQQQPQQSRTUTRQQQRPPQRSRQQSSTSRRSUSRVVUUTRSUVVUUWVUUWXXaZZabdeddfhjjhhiklllmnrvtuwvwwwyyzyz01221zz137ljgigeedccbbbbYXVWWXUTTSTSRRSTTUUUTSTROMKKKKIIHIIIIJJJJHGHIHHHHIJJKKIHHJJIGHHIJJKJIIIJJJKIHGGHJLNOQSRRQQPQQSSUVTQQRSSRRRSTTSRSTTTQQQTSRTUTTUSRTUVWVWVVVWXXZZabceffegjjjhgijklmnosvtuwuvwxzyxy01244300224igfhgdedbbcdccZXVVWYUTTSTSRRSTTUTTTRROOOLKKKIIHHIJJJJIIHHIJIHIIJJJJJIIHJJIHIHHIJKKJJJJIIJIIHIJKLMNOQQQQSRRRSSVVURRTTSTTTTSTTSSSSTRQQSSRSVUTTSRRSVWUUUVWYYXYYbceeggggjiigehllmnnosttuwuvwwyxxz23455321332jigffdedbccddcaYWWWXUTSSTSSTTTTUSTTQPMPPLKKJIIJHHJJIIIHIIJKIIJJJJJHIIIIJIHHJIHHJKKJJJIHIJJJIIJLLMMMOPQRTTTSSSUUTRSTTSUUTSQPQTTSSUTSSTTTTVUSRRTSTTTSTTUVXXWYXacfefhggihjifhlnmmnnpqtvvttuttuy233442000244mjgeedccccbbcbaaZWVVTTTSTSSUUSTTRSTQPNPOMLKKIIJIIIIGIJHIJKKJIKKKJJHIHIIIIGHIHHGHIJIIJIGHJJIHHJLLLMMOOPRTSSSSSSSRQQSRRTTSRPOPTTSTVUTSUUUTUTRRQTUUTTSUTTTVWWYYabedeggfhgjljhmppnonoquutsttssv1312320xyz123nkjigeddcbaabZZbZXWVUUURSRSTSRRRQRRQPOPPNLKKJHIHJIIHIKIIJJJJJKKKJIIIIIJHIHHIHHGHIJIIIIHHIJIHHJJJKMMNOPQSRQQQQRRQPPQPQSSTSQPPTUSTWUSRTUUUTSRRQSTVVUTVTUVWWWaabbcbdfgfgfhlljlnpppprsttssuuttz32z1320xwyz02qmlkigffecbbbYXZZWWVVVUSSQSTTRRQQRQPOOPPNKKKIHGHJJJHIJHHHJJKJJIJHIJJIHIGHIIIIHHHJLKJKJIIIJJIIKJIKMLNPQPQQPPPQRRQQQRPQRSTTSRRTUTTWUTRSTUUSTSSRSTWVTTVUVWYWXbcbabbdghggffikkiknqsstrqqsuvvvvz11z12100zz013upljigfedcbcbYYYXVVUVXWTSRSTVUSSSSRPOOPPNKJKIIHHJJJHHJIIHJJJIHHIHIJJIGHGIIIIIHHHJLKJLKIIIJIJIJJJKLLNPQOPQQQQRRQQRRRQRRRSTSRSTUVUVTURRSTUTTUUSTUVUTSVWVVWWXaaaabbceghhgfhihhjmpqrroortuuwvvxyz020yz210125upmjhgedcaaaaYYWWUVVVWWUSRRSTTSSSTSRPPOPNKJLIIHHIJJIHJIIHIIJHHHIJJIHIHHHIJIIIIIIIJIIKJIIHIIIIJKKLMLNQQPPQRSRSQOOQRRQQRRTUTRSTUVUUTTRQRSUSSUVUWWVUVSUWWVVWXYYabbbcdeghhhhhghkmmoqroqssstvvxywy142zz10z024qnligghfbZZZaYXVWVWWVVVUSRRRRRQRTTTRPPMNKJJLIJHHIIJIIIIIGHIHHIHJKJHHHIJJHJJIIJJIIHGHJJIIGHHIIJKLMNMNQQQPRSSRTQONPQQQRSTUVTRRTUUUVTUTRRSTSRSUVWWVVVSTVUTUXYYXZbddddeghggiigikkkmppprrpruuuyzxy1452110yx02omjhgijhebaaaXWVWWXWVVVUSSTSSQQQSSRQOOLMJIJKJJIHHHIIIHHHHHHGGIIKKIHHHIJJHJKJJKJJJIGHJJIIGFGJKJKKLMMNQQQPQRSRTRQPPPQRSSRSTSPQUWVUVTSTUTTVTRSUVVUUUVTUUTSVYYYXYaddcdghgegjjijkkknonoqrpsuvwyzyyy142133zvx0nnjihiihgecaZWVUVXWWVVVURRTSRRRRRQRPNMLNKJJJJJIHHHIIIHGHHGHHIJIIIGGJIJJIHJKKKKKIHIHIIIIIGFFJLKLLLLMOQRQPQRRQRQQRRRRSSRQRSSPOTVVVUSQTVUVVTRRTUUTTSUUVUTTXYXYYYYbcccghgfgjjilnmmppnoprqrtuy0yxyyz0zz352xwyonjiiihggfbaYWWVXYXXVUUTRSSRQRSRRQRQNLLLKJJJJKJIIIIIHHHIIHHIKJHGIHIJJKIIHJJJJIIHGHIJJIHHGGFIJJLLLLMOPQQQRSRRRPQRRRSSSRQSTTPPSTUVSRRTUTVUTRSTUUTTSUVVVUWYYWXZYYabcbegihgiiilmmlpsqoprqqrtwzxx00z0yx0540yznnljjjheeecaZZZYZbYXWVUTSTRRRRTSSQSQOMMKIJJJJKKJIIJJIKJJIIIJKJHGIIJJJKIIHHHIIHHHIIJLKIIIHIHJIIKKKKLMOQQQSSRRRQRQQPRRRRRRRSQRSTUTQQRUTSTUUTTTUTTUUUVVVVXYXVWZXWZaccdeiigijjjkkjnstqrutrqpsvwy01020xz33102lmmlljfcbcdcabbZYYWWXXVUSSQRSTTUURRQPNMKIIIIJLLJIIJJIKJJJIIJKKIHHIIIIJHHHHHIIHHIJJKLKJKJIIJKIHJJJJKMOPPQSSRPQRRQQPRRRSRQQQRSTTUTSSSTTSTTUTTUTSSTUUVTTUWXWVWYWVYacegfghhiiijlljlqsrsutspnosxyy0120yy01124mllmmiedceedbcbZWWWVXXVTSSQSUUUUTPRQPNMKIGGHJKLJIIIIHJIIIHIJLLJIIIIHIJIHIIIIIIJJKJIKJIJJIJJJIIJJKLNNOPPPRRQPRRRRRRTTSTSQPRSSRRTUVUSSTUUTTTTUURRSUTUTSTVWVVXYYWaccfhffhihgimpnlkoqqrssrqomqxzyz1110022367qnlmnkhgghgecdcaXXZYYWVTSSQSUVUUSPQQPNMKIHGHJKMKJIIHHJJIJHHJKKJIJJJJJKIIJJIIIIJJKIHIJHIIJKJJIKKKLNOOOPPPQRRRSRQRSSTTTTTQPSUSRRSTTUTTVWVTTVUUUSSSUTVTTUVVVWXXYYcddghghijhfinpmmmnnnqssprsopvyyy0134444468sqooolkiihgeddcbYYaXWVWUUSQSTTTTSPPPONMKJJIHIJLLKJJHHJKJJIHIIIGHJKLKKKJJJIHHIJJHIHHHHGHHIKIIIKJJMNOPPQPQQQSRRQPQRRSSTUTRSTVTTTSSSTUVXXWUTWUUUTTTUUVUUVVTUWXWXYbceggeghihgilnkmnnmnqutqsuppswyz0134444311rrqonmljigedbcaZXXYUVUWUVSQSSSRSRPPPOMMLKKJIJJLKJJJIIJKJJIIHHHHIJLLKKKJIHGGGHJJIHHHHHHHIIKIHIJIJLNPPOQPQQRTRQPPPQPRSSTUSUUWUUVTSRSUWXWUTTVTTUUUUUTVVVVVTUWXXZZbbegedefhhiklmjmonoprsrpstpqtw0111332333zwssqnmlmjhfecabZYXXXVUTVUVSRSTSRQPPPPNLMMMLJJKKJIIIJJJJJJKJHIIIJJJJKJKKJJHGGGGIIHHIIIIKJIIJHHHJIJKMONNPPQQRTRPPPPPORTSSURSTVVUUTSRSUVWWUUTTSSTUVVVTVVVUVVVXXZbabbefeeddghjlmnllmmoppooorrqsuv0210100000zzrrpnlkkigeecbcZXYWXXVTUTVUTTUSSRQPPPMMNMLLJIJIHGHHIJJHHHJIHHIKLJIJJIKKJJIHIHGIHGIJJJJLKJJJIHHJIKJKMMNOPQQSSQNOQQPPSVUTUSRRUUTSSSTTTTUWVVTRRSTVXWXVUUVVWXWXXZbaaacdefedehiinpolkkorpnnprstwww011121010zzznpmlkijhgfdcbbYXZWWXVSTSTUUTUTSSQQRQNMMLLMKIIIHFGHHIHGGHIIHHJJLJIJJIJKJJIIJIHIIHJJIIIJIIIJIHHJIJIJKLOOPQQRQQPQRQPRUWUUUSSSTUTSSTTTTTVWUVUSSTUUVVXWUUVWYYWWYaaZaabcdgfefhiinooljkorqqqrtvwxwy1002642320zyoolkjiiigedbaZWXYWWXVSRRSTTTUTTSRQSRPNMLKMLJIJIHGGIJIHIIJIIJJJJIHIJIIJJIJIKJIIJIJHHIIIHHHIIIHKJKJILMPOQRQQRSRQRQQSUUUVUSTUUTTTUUTTTSUVUUUTTTUTUTVWWVVWYXUVXZaZbbbbbedeeghhllllmmnnorsuvwvvux1002541000yvqolklljhgdccaZWYYWWXUSRSSTUUUUTSRQSRPOMLJLKLJJKIHHIIJJJJJIJJJJJHGIJJIJIHJJJJIJJIJHHIIJJIHJIIHJJJJJLNOPSSRSSRRQSRRSSSSTSSUUTRSTUUTUUSSVVVVTTTUUTSUVUUUWXWUWXYaZbbbcbdbddefgjjjlnmllnrvwuvvvux1z13430yy1zupnklmnjfgeeebZXZYWWWUUTTSUVUSTSSQQRQONLKIJJJJJKIIHIHJJKKKJIHHIJHFHJKJIHHJIJIHIJIJJIJJJKIIIIIHKJJKLLMNORSSSRRSQTTSSSSRRRSSSRQRTSSSUUSSUVVUTTTVUTTVUTTTXZXWYXYZabbcddeddeefgkkmnnkklorvwtuwxvy0yz1220zz11xqolklmiefdfecbZaYWWVTUUTTUVUSTTSQPPONMKHGHHIIIIIIHHGIJKKLKIGHIJHFGJKJIHIIIIIHHIIKJJKJJKIIIHHILKJJLKKLNRSTRQQRQTUUTSTQQRSRRRRRSRRRTSSRTVUTTUTVVUUUTTTUWZYXZXYZbcddeffgfgghhjlnomikmpptutvwyxyxwx122110z0zqomjjjiffdeeccaZYWXWUVUTUVUTSTSRQPPOMKJGGHIJIHHIIIIGHHIIKKIGHHIIHIJJIHHJIIIHIIIIKIJJIIJIJKIHJKJJJLLLMORSSQPQQQSTUUTSQPQRQQSSSSRSSUTRRTVTSTUUVVWWUTUVWWYXYYWYYacdcehghggfhghjlmkjmnooqttxyzxwwwy35522zy02onmkiijhgeddddaZXWXWWWUUVVSSTTSQQPPMLKJIHIJJIGHJJIIHHHHIJJIHJIJJJJKJHGHJIJKIIHJJJIIIIIKLLJIHIKJJKMMMNPQRRQQSQQSSTTTSRRQQPQSTSRSTTVUSRTVVUUUUUUXXXVWXYWXXYYXbaZZccegfffgefffikllloqqqrttxzzvuuw0576552147ommmkjjihecdddcaYWWXXWUUVVTTTSRPPPOLKKKKIIHIHHIJIIIIIGHJKIHHKKJJJKKJIGIJIJKIIGIIJIJIHIKKKHIHIKKJLOOOOOOPPQSTRQSSSSSRSRRRQSTUTRSUUVURRSUUTTTTTVWXXXXZYWXYYYYcbYYabbcdfghffgghkmllpstssttxzzutty2566876568pnnomjihhfdededbaXYZXWUTVUTTSQRQQPPLLLLLHIHHHIJIHIIIIGHIJHGIJIIIJKJIIHJKJJJHHGJIIIJIIIKJJHIIIKKKKOOOOPOOPQSTRQRSRRSSSRRRRUVUTRTUTTTSSSSTSSUUSUVVVVWYXWXZZZYaZZZabaZcfhihhhhiknkkmqqqqssvxzwut04435766455qpppnjiiiheeedcbaYabYVTTUTTTSQRQPPPMMLMLIIIIIJKIIIIIIGHHIHHIIGHGIIHHHIKLKKIGIHJIIHIIIIJIJHIIHJKKJMNPPPOPPPRSRRSSSSTTSSRRRUUSSRSTSSSSTTTUTTVUTUUUUVVWVVWZZYWXYZaZaaZcfffghjjkkmkklnnpopsuuwxvv02214654234qpppmhghigfeeedcbYYYXVUTUSSSRQQPPOOMLLLLJJJJIIJIIIHHIHIIIIHIHHIHGGHHIJKKLKIGHIJIJIIIIHHHIIKJIJJJJLMPQPQRQPQQQRSTTTUTSTSRQTSRRQRSSTSSTTTUTTUUUVVVUVVVVWWYYYWWYccZYabdfedegklnllklkmopoorttuvvy23203532124ponnkffhhffeeedcbYYXVUUTUTSQPPPPPPPNMMLLKJJKJIJIIIGHIIIIIJIIIIKIHGIJKLKJKJIGIIJIJIIIIHGGHIKJIIIIJKLOPPRSQPPOPRSSTSSSRTRRQSRRSQQSTUUSSSSUTTTSUUVVVVWVVWWWXYWWZedaZbdegfffgjlmmljjjmpqopsuvuuw034302422223ponomhgggfedddbcaZZXVSTTUUTRPPOPPOPONLKKJKJKIHIHIIHIIKJIJJJIIHIIHIKLLLLIJJIIJIJIIHIHIGGGHIIIGIIIJJLNPQRSQPPPQRTSTSRRQTRSSSQRSSQRTUUSRRTUVUTSTTUVVXXVUVWWXXWXZdcbadeegggghiikmmkiilpqppqtvvuvz01310334434rrppoljhgfcbcbabaZZYWSTTVVUSRRPPPNOONLKKJKJJGGIIIJIIJLJIJJIHHGHIHJLKJKLJJIJIJIJJIHHHIGHGGHIHHIJJJKMNOPQSRRRQSSUSSTTSSTRUTSQQRSQRSTTRSTUUWVVUUSTTUWXVVVVWXXXXZcbbbbbdggfdfhhilmmiilopppprvwvvwxz32yz23335rsrppmkjggcacdbbbZZZXUUVVVSRQRQQQOOONLKJIKIIFFIIIIIIKKIHIIHGGGIIHJKJIJKJJIKJIHIJKJJIJIJHGHIHIJJJKLMMNNPRQQQQRRSQRSTUUUTVTSQQQRPRSRQQTUUTUVWVVRRSTUVUWXWXXXXYYaZabZZdigdcehjjmmmjkmoooqpqtwwvwvv01ywy0135prrnomkjghebcdbbZYZYXVVUTSQQPRRQRPNNLKJIIJIJHHIJIIIIKKIHHHHHGGJJIJKKIIIIIILJIGHJKKJIJJJHHHJHIJJKLMMMMMOQQQQPRRSQQSUUUVUVUSRSRRPRRQPQUUUTUUVUVSTSTUUUVYXXWVWXWXXYYXYcgfbdfhklnlljknpoorsttvwyyxvx00xwx122prqmljjjgfdcbcaaZYZYYXWWUSQRQRRRROMLKKJIJJIJJJIJIIIIKJIHGHIIHHJIHJJKIIIIHHJJJHHIJJIHJJIHHHJHIIJKKKLMMMOPQRRQRTTRRSTUTTUUTTTTTSRSSRRSUVWUUUTTTUUSTVUUUXXXVUWXVWYYXXZcfdbdfhklmjkkkmqporvwuvw132zxz2zzz000orqmljiigeddaZZaZYYWXYWXVTRSSSRRQONLKLJIJJIIIJJJIHIIJHHIHHIJHHJIGHIKIIIJIHIHIHIHIIIIJJIHIHKJJJIJIIKMNOQQRSSQSUTSRRRTSTTTTTUTUUTTTTTUWWWTSTTSTTTTUWVVVWXWVVWYXXaZZZaceedehjlkkkmlllnpprvxuux2442yx0z12113nqqomljhefeeaYYaaYYVWWVVTSSSSRQRQQPNLMKIIIIIIJJJIIIIIHHJIHIJIIJIHHJLKJJJJJIGGHIHHHHIIJJJJJKJIIJJJJKLOQRSRSSRSUUSRRQSSSUUUTUVVVVUTTTUUUTSSTTUTUUVWXVUVXYXWWXababaacdeffggjmolklomlkmpqruwrtw2431xvyz36545mpponokhfhgebaZZaYXUVVUTRRSSRRQRRRQOLLKKIIIHIJKKJJIIHHIJIHJIHGHIHIJKLKIIIJJHHIJIIJIIJJKKJIJIHIJJJKLLNOPQRSSRSTUTTRPSTTUVVTTUVWVUTTRRRSRSTUTUTUVWXXVTTWYXXYXbcabbbeeffhjijkmljknmmlmqqprtpswz00zxwy058656lnooonljhjfdbaZZaZXVUUVUTTTTSRRSRQONMLLLIIIHHIKKJIHHHGIJIHJIGGFHHJJJLJHHIKLKLLKHHJJJJIJIHGHIHIJJJJLMMNOQSTSRSSTTTRQSTSSUUTSSUVVUTTRQRTSSUVSTSUVVWVVTTUVXYaYbcZabbbceeijiijkkiiklmlossnproqtxwyyyyxy14335ooppnmlljiecaZZZaZYVTTVVUUUUTRRUSPNMLKKKHHHHHIJJIHGGHHIJIHJJHHFHIJKJLJHIJKLLMMKHHJIIJIIHHHGIHJKKJKMOOOOPRTTTTTUUTRSTTSQTTUSRTTVVTTSSTUTTUUTUUVVVVUVUUTTWYZYaaXZaZZacdggghjjkhiijmoqsrmprqqtwuwxyzyxx1213pprspnmligeebZZZZZXVSRSUSSUUUSQTSPONLKKKIIIIIIIIJJHGHHIJJIKKJIHHIJJIKJIKKKKKLLKIHIHHIHIHIIGIGIIKLLMOPPPPRUTUUSUUTRSTTTRTTTRRSSTVTTUUTSSUUTUVVWVVWWWVVTTVXXYYYWYZZZbdeebcgjkkijjjnrqqqnpsssuwwxwz10yxz200rpqrpnligffgecaZYYXUSQSSRSVVVRPSTRPOMJKKJJIHIJIHKLJHHIHJKJKKJJHGIJIIKJIKKJIIKKKJIIHHJIIGHIHHGIHJLLLOQRRRTUSSSQSTSPRTTUSTTTSSSRSUTUVVTRRTTTVXWVVVWYYXVSSUWYZYYXYZaadffeccfiiihikikopppnqrstvvwxxz11001420rononmmjgfhhgecZYXXVTRTUSUVTTRPRSQPPMKLLKJIHHIIIKMKIIIGIJJJJIIHHJIIJLKIKIIIIJKKKJIHGIJHFGHHHHJIJLLKOPQRSUTRQRPRSQOSTTTTUUUTTSRSTTUUVTSRRTUWXWUUUUWWWVUTUWYZZZYXZabdfgfffghhhhjlkjklnoprqqruuuwy001122432ommnmmmkihihgfcZZYYXUSUVUVURRQPRQOOPNLLKJIHHGGIHJLKJIIGHIJJIHIIIJIIJKJIKHHIIJKLKJIHGIKHGHIGGHJKLLKKNONPSTSRQQPRSRPSTTTSUTTTUTSSTSTSTTSRSWWWWWWWVTUUVWVUVWXYZZZXabbbdfggghiiiiilmljimoqqoopssstxz02243221omnonmkjijigfdaZbZaYVTVWVVTRRQPPPOOOMLKJJIIIGGHGHKKIHHFGIJJIIIJHIJIIJIIKIHIIJJKJJIHHIKIIIIGGHKLLLKJNNMPRRRRQQPRSQPRTSQRSQRSUTSSTTSRSRRRUXWUUVXXWVVVVWWWWXYYYZaYbccaacfgfgjkjjjlnnjhkoqqnnorrttxz25574223qoonmkighkjffdaZbabZVTWXVUTSRQPOPPONKJKJJJIIGGIIHIJIIIGGIJJIIIJHGJIIIIJKJJJJJJJIIIIJJJHIIJHHIKKKKJJMNNPQQRRRQQRSPPRRRQRRQRSUUTRTTTTSPQQTVTRTVXWVWXWVWXWYZZYXYZXbcbZZbdffhkjiilnnmkjlmpqqqrtuvx1346652136rqomkjighkifecaabZZXWUWXVVUSQOOOQQONLKLKKKJIGIIJHIJKKKHHIJIGHHIHGIJHHHHJKKKKKKIHIIIJIIHHHJIIIJJJIJJLMNPPPQRQQSSTQQSSRSSSRTUVSSQSTUUTRQRTUUTTVWWVVWXVVWWXZZZXXXVZcdcdefgghiiijmonlknomnqttuvvwy246541yzz3rpnmkkjhgihecZYaaZXWWVXWVVURPNNNOPONMKLKJKJIGJIJIJKKLMJIIIIHHIJIHIJHGGFHJJKKJJHHIIIJJIHHHIIIHIJIJKKLMOPQQQRQRTTSQRSTSTTTSTVVRRRSTUUTTTTUVWVTUUUUUVXWVWWXXYYXXVTXcddegggfhiiijlmmlloqooqttttuwx023320y0z1pnmmmkjihgfdbWXacbYWXWWVVTSQOOOONNNNMKKIHHIIHJIKJJKJKMJJIHIIIIKJIHJHGHGHIJKJIIHHIIJKJIIIIIHHHJKKKKKKMOPQRRTSTTSRQRRTSTUUSTUURRSTTUWVUUUVVVUTUTTSTVWWVXXXXWXXWVUXbccehhffhjjkkkkjllnoqrqrssqsvxy001122214lmnonlkkjhgebWWaccYWXXVVUSQOPPPPNMMOOMJHGGHHHJIJJIJIIKIJIGIIJJKIIHJHHHHIJKJIIIHHJJJKJIJKJHHGGIJJKLLLMOOQQRTTTSRQQQQSSTTTSSTTSSSTSUXWVUVVVVTTUUSRTUWWUVXXXVWYYYXYabbehgfgjjjkllkijjkloqrssssvyyxyy1011023koonlllmkhhgeZXYabYXYXVTTRQOPOPPOMMPPMKIHGHHHJJJJHIIHIHIIHJJJKKIHGJIHIHIIJJJIJJIKJJJJIKKKHHHHHHHKMMMNPPPQPSSTSQSSRPSTSSTSSSSSSSTTTWWWUVVUUTUVVTQSTVVTUWWWUVZabaZbccdeeegiihjlmljjhijlprtssuy31ywx2100022oqpnlmmmigggheaYZaZYYWTTUSRPQQQQQNNOOMKJIHGHIIJIHHIJHGGGGHKJJJKIIIJIHIHHGIIJIIJJKJJJJJKKKIIIIJHHJNMNORQQPOQRSRQSTRPRTTSTSTTSSSSSRRUUVUVWVVVVVVVSTUVUSUWWWVVYZbbZabcdedeggffimnnljgiklorsrtvy32yxx1221354qqpoonmmifeghgcZabbYXTRSVTTSRRRRRPNMLKJJJIIJJIIHGHJKIHHGGGIIIJIIIIJIHHGGGHJKIHIIJIJJJJJIIIJIIJJIILMNNQRQPPRRRQQRRRRSUUUVTUUUTSTTQSUUUUWXWXWVVVVUUVUUSUWWWWWYYaaYXYafgeegfffjoonmlijlmorrruvx00z001121366rrrqrnkljgfgggdZZbbXXRPSUUUSPPPQRQMKKKKIIJJJIIJIHIKKJKIHHHIIIJHHHHIJIJHHGHJLJHHHHHIJJJJHGIJHIJJJIJLNLOQPOQRQQQPPPQRSUUVWVVUUTTVUSTUTTUWWVWWVUUTTTTTTSSUVWXVWWYYWWYbfgffiiijlnnnoollmnpsssuvvwyz001011245ttsqpmjkkjhgfedZZbZXXSQSTUUROOOPRQMKJKKIIJJJIJJIHIJKJKIIIHJIJJHHHHIJJKJIHHJJKJIIHIIIJJKIHIIIIJJJJILNLMPPPRRPOPPPPRRSSSSTUUUVVUUUSTSSSTUUTTUUUUTTTUUVTSTUUWVVVXXXabcedefikllkmnoppnnopqtuuwxvuwxyxyy22003xurpnlkllljigdcZabZXXUTUTTUROPQPRROKJJJIJKKKJIIIIIIJIIIIIHIJJJHGIIJKJJJJIHIIJJJKKJHHIIIIHHHJJJIIJILNNOQQQRRQPPQRRSSTSRRSTTUVVTTTSTRQRTUSRSUVVVUUVWXXVUVWVWWWWWYZbaabcdfhijjjmnoppnnpppruwyyvvwwwxyz00yy3xtpolkkmmmkiecbYZaYYXVVVSSSRQRSQQQOKKJJIJKLLJIIIIIHHHGHIIIIIIIHHIIIJIJIIHGIIIIJLLJGHHGFHHIHJJJIIJJMNOPQRQRQRRRRSTSRSSSRRSUVVUSSSSTRPQUUSRSUWVVUVVWXWWWWXWXYXWWYaaYXZbcfhgggikkklmnonnpruwwvtwyyyz10yzxy1vqmnmljllkifdccZYZYYYWWVTSSRSUUQPPOMMJJIHILLKIHHIIHHHGGGHIIIHIIIIIIIIIIHHGIJIJJKKJGIIGFIIJJJJJJJKJMMPQRRRQQRRRSTTTQRRQRSTUUUUSSSSTRQQVWTTUUVTVWVVUWWXXXXXXYXXYabaYZabbfhgfefghikloqonpsvwusqtx13320y1yy2snklkkjjihgfdeebaaaaZXWVUUTRSVURQPONMKKIHGJKKJHHIJIIIHHGHHIIGHIJJIIHHIIHJIJKJJIIKKIJIHGIJJJIIJKKKJMMOPQQRQRRSSSUTTRRRQSTUTSTTTSSSTSSRVWUVVUUTXXVUUVWWXYYYWXWXaccbabcdceghfdefhjlmopqrrrvwurqtw2752z02016rpnljklkgfeeddfdcbaaaYXWWVTRRTTRRQPNMKKIHGIJKJHIJIHHIJIHHIIJIIIJJIIHHHIHKKKKJJIHJKJKIGGJJIHHHJKJKJLLMMNORQRQRRRTUUSRSRTTUTSTTUTSSTUUSTTUUUVVVXXUTTVWWXXXXWYXXacccacefefggffhiikllnnqtrqtutrrsu0421011025usqlikmkgfefedeccaZZYYXWWVTQPRSRQQPNMLKIHJKJJKIIIIHGHJIHIJJKJIIIJJIIHHIHKJJKKJJHIJJKJHHJJIHGGHJJKJKLMLMOSQRQQQPRTTSSSRSSTSSTTUTRRTVVTSRTTTVWWWVTTTUWWYWWWWYYYabbbacdedefffhijjklllmnppprsstsrty100120025usojhilkhijjgdcZZZXXXXXUTUTRPQQQPPONNMLJILMKJKJIIIHHHJIHIJKKJHIHIJIJJIIHIHIJKJIHGHIKKJIIIIHHGHIJLLLMNOOPRRRRRQPPRTSSSSTTTSRSSTSSRSUUTSRTSSUWVUTTUUWXXZWWWWXXXYZaacedcbdffegijijkjlnnnoqrrrttrty10yz13345urnihjllkklkhedZZYVVUUURSSTSRQPPPONNNMMKJKLJIJIJIIHHGJJIIIKLKJKHIJJJJJJIHHIIKIHHGHIJJJIIJJHHIJIJMMMMOPPQRQQSTRQQRSSTTUUUUSRSSSSUSRSSRSTTSSUVVUUTUVXYXXUVWXXYXXYacfgdcbdggggjkjjjijmnnorsrsuvuwy00zz02456wtojjkjjjjjihedaZXVUTRRRTUTRRQOPPPOMLKKKJIJHHIHJIJHGGIJIHIKLKLLIJKKJJJKJIJJIJIIIHHIIIIIJKKIIJJJJLLMMOPPRRQQSSSSSSRRTVUUVVTSTSRSUSRRSRSTTTUUUWVUTUVXYVVTUXXXZaZYbdffcdfefhigikkklkjmnnnpstvvvyzyz000zz146vrnkkjhghighgedcaYWVUSSSUUURQNNOPQONKJKKJIIHHIGHHHGHHHIJIIJKKKKIJJJIIKKJIKJHIIIHIIIIIHJJLKIIIJJJKLMMNPPQQQPRSSSSRQPRVUTVTTTTSSSUTSSTSSSTTUUUWUTTUWXYWVUVYXXZaYXZbddbehfeghhiklmnllonnnpruxuty20z010yy034tpnljihghhffecefcaYXXVVUTTSQQNNNPPNNLKKJIIIHIIFGHIGHIIIKIHIIIIJHIIKJIJJJIKJHIIHGHIIJJIKKLJIIHJJIHJLLMOQQPPQRSSSRRQOQTSSVTTTTSSSVUSTTTSTTTTTTUTUUTWYZXWUVXWWZYXXYacbabeddegijjkklklnmmmnqtuqpw232110yz265qonnkjjhhhfedadedbYXXXXVTSRQRQPOQPMMLLJIIHHHIIGIIJHIIJJLJJIHGHIHIHJIHIJKJKIHHHHGIIIJJJJJKIHHGJJHGIKLMOQRQQQQSTTSRRPPSTTVTUTTSSSTUTUUTTVUUUTTUVXWUWWXWWUWXWXYWXYabcaZZcdeghjjjkijiklmnnmorrppw2220zyy0465qpopnlljihgecZbcdaXXWWVUSSRSSQPPQOMMLKIIIHHHIHHIJJHIIKKLJJJIIIJIHHIHGIJKKJHGGHIHIJJIJIIHIIHHGIJIHIJKLNPQQPPPRSSSSSRQSUVVTUSSSTSRSTWUTUWVVVUUVWYXWXWXXWUXYYXWTWXYbcbaZdfhijjjlljjhjlorspprsssx213zxxy120ytrqqonmjhggecabaaZXYXXUTSTRSROOOPPNNNLIJKIHJKIIHIJIIJKJKJJKJJIJIHHIHHJIJJJHIIJJIHIJIJIHGIIIIHIHHHIKKMOQRQQQPQRRRRSSSTVXWUUTRSTSRSSVUTUWUTTTUVVWWYYXXYXVXYYYVTVVWZddccfiiiiiikkijilnqturrtuvwwzz2zzzz00xwurppnoligffdcccZYZZZYXUSTTRRRQPOPOMNNLJJLIIJLJJIIJIJIJIIIIJJJIIIIIJJIKIIJKJKJJJHGHJJJIHHIIJKJIGHGIJLOQSRQSRQRRRQQQRRTVXVWVURSSSSTTUSSTWVUSSUTUUUWXXXYYXYYZZWTVWXZddccehijihijkjllnoqqrqtwvwxwwy101zyy012qnnnmnlihgfdcccaZbZXXWTSRRTSRRQPPNKKLLJJKIHHIIJJIIIIIIHIIIHIIIHHIJJJIKJIIJJJIIIHGHIKJHIIIJJJJJHHGIJMPQSRPSSSTRRRRQQRSSUTUUTSSSSTUSTRRSVWVTSUSTTTUVVXZZYZZYYWVWYYZccbacehkkjkjjkmmnoonnnqvuuwwwx01320z135llnmllkhihhedcbaZaZVVVSRPPUUSQPPPMIIKLJJJIHFHHIJJJIHGHHIIHGHIIHGHJJIHJJJJJJIHIJIGHIJJGIJJJIHGHHHGHINPPRRPQSSTQQSTRQRRQTTTTSSSRRTTSTSSRSUVTRUSSTUTTTWZaXXXVWXXYaZXabbZadhkmmljjlnnnommpopsrsuuvxy26763244");
d("hb",320,134,"CCBBCCAAHIFFCCEEDDCCFFCCCCBBDDCCEECCDDBBFFEEFFHIDEPQ78EEEEEEUTLLVVQQLLMMJJSSEEHHLMiiGGFFHHTTIIZZDDWWUUEELLXXLLUU++MMIIGGQQJJJJKKRRFFEECCZZMMfgLLHHQQLLFFHH88SSTTMMJJbbOOJJOOIIRRhhIInnJJPPIHLLNNJJHHHHGGDDIIMMQQNN77JJFFWVDCJICCFFBBHGDDCCKKFFDDCCDDDDFFGGCCCCCCBBCCDDGGJJCCGGDDTVFGJKEEFGNOMNSUEEo7JJ//mo//bcp7PP78+/op//////nnCCBBCCAAHIFFCCEEDDCCFFCCCCBBDDCCEECCDDCCGGEEFGIJEEQR78EEEEEEUUMLVVQQLLMMJJSSFFHIMMiiGGFFHHUUJJZZDDWWVVEELLYYLLVV++NNJJGGQRJJJKKKRRFFEECCZZMMggLLHHQQLMFGHH88SSTTMMJJbcOOJJOOIISShhJJnnJJQPIILLNNJJHHHHGGEDIIMMQQNN7pJJFFWUDCJICCFFBBGGDDCCKKFFDDCCDDDDFFGGCCCCCCBBCCDDGGJJCCGGDDTUFGJKEFFGNOMNSUEEo7JJ//np//bdp7PQ78+/op//////ooCCBBCCAAHIFFCCEEDDCCFFCCCCBBDDCCEECCDDCCGHFFGHJKEFRS88EEEEFEVUMMWVRRMMMMJJSSFFIIMMjjGGFFHHUUJJaaDDXXVVEEMMYYLLVV++NNJJGHRRKKKKKKRRFGEECCaaMMggMMHHRRMMGGII88TTUUNNKKccOOJJOOJJSSihJJonJJQQIIMMONKJIHHHGGEEIIMMQQNNpoJJFFVUDCJICCFFBBGGDDCCKKFFDDCCDDDDFFGGCCCCCDBBCCDEGGJJCCGGDDSUFGJKEFFGNOMNSUEFo7JJ//np//cdp7QQ78//op//////ooCCBBCCAAHIFFCCEEDDCCFFCCCCCCDDCCEECCDDCCHHFGHIKLFFTU89EFEEFFVVNMWWRRMMNNKKTTFFIINNjjHHFFIIVVJJaaDDXXWWEEMMZZMMVW++NNJJHHRRKKKKLLSSGGEECCaaNNhhMMIIRRMNGGII88TTUUNNKKccPPKKPPJJSSiiJJonKKQQIIMMOOKKIIIHHGEEIIMMQQNNonJJFFVTDCIICCFFBBGGDDCCKJFFDDCCDDDDFFGGCCCCDDBCCDEEGGJJCCGGDDSUFGJKEFFGNOMNSUEFn7JK//np//cdp7QQ88//p7//////ooCCCCCCAAHIFFCCEEDDCCFFCCCCCCDDCCEECCDDCCHIGHIKLNGGUV99FFFEFFWVNNXXSSNNNNKKUUFFJJNNkkHHGGIIVVKKbbDDYYWWFFNNZZMMWW++OOKKHHSSKKKLLLSSGGEEDDabNNhhNNIISSNNGGII89UUVVNOKKddPPKKPPJJTTiiKJooKKRQJIMMOOKKIIIIHHEEJIMMQQNNnmJJFFUTDCIICCFFBBGGDDCCJJFFDDCCDDDDFFGGCCCDDDCCDDEEGGJJCCGGDDSTFGJKEFFGNOMNSTFFnpJK//np//cdopQR78+/op//////ooCCBBEECCCCEFEEDDBBDDDDBBFFEEBBDDBBFGFFCCDDHHHIacTULMVVEERRYXMMIIRRooNNGGddEEQQIIVVHHbbOOEEDDKKbbNNMMKKTTPPOOGGZZccFF++TTJJEESSRRIIEEZZJJJJ//99YYKKUVDDQQJKHHGGXXSSSTddKKIIGGOOccQPZZIIMMKJHH88YXIIIIMLFFOOFEIHFFGGEDDDEEEEEEFEKKGGDDGFCCIIFEBBFFFFBBCCDDBBCCCCFFEEUUDDIIEEFFCCBBDDJKSTLMMNGHkno7PQTUQR//89Za8878ghfgdeNNp7//PP//CCBBEECCCCFFEEDDBBDDDDCCFFEEBBDDBBFGFFCCDDHIIIcfVWMNWWEESSZYMMIISSppOOGGeeEERRJJWWHHccPPEEEEKKccNNNNLLUUQQPPHHaaddGG++UUJJEETTSSJJEEaaJJKK//99ZZKLVVEEQQKKHHGGXYSSTTddKKIIGGOOccQQaZIIMMKKHH88YYJIIIMMFFOOFFIHFFGGEDDDEEEEEEFEKKGGDDFFCCIIFEBBFFFFBBCCDDBBCCCCFFEFTTDDIIEEFFCCBBDDJKRTLMMMGHjmn7PQTUQR//89Za7877ghfgcdNNop//PP//CCBBEECCCCFFEEDDBBDDDDCCFFEEBBDDBBGGFGCDDEIJJJehWYNOXXFFTTaZNNJJTT77PPHHffEESSJJXXIIddQQFFEELLddOOOOMMVVRRQQHHbbefGG++VVKKEEUUTTJJFFbbKKKL//++aaLLWWEERRKKIIHHYYTTUUeeLLIIGGPPddQQaaIINMKKHH88YYJJIIMMFFPOFFIIFFHGEEDDEEEEEEFEKJGGDDFFCCIIFEBBFFFFBBCCDDBBCCCCFFEFTTDDIIEEFFCCBBDDJJRSLMLMGHhkmpPQSTQR//88YZ77p7fgefcdNNnn//PP//CCBBEECCCCFFEEDDBBDDDDCCFFEEBBDDBBGHGHDDEFJLKLhjYZOPYYFFUUbbOOKKUU88QQHHhhFFTTKKZZJJffRRFFEEMMffPPPPMNWWSSRRIIddggHH//WWLLFFVVUUKKFFcdKKLL//++bbMMXXEESSLLIIHHZZTTUUeeLLJJGGPPddRRaaJJNNKKIH88ZYJJJIMMFFPOFFIIFFHGEEDDEEEEEEFEKJGGDDFFCCIIFEBBFFFFBBCCDDBBCCCCFFEESSDDIIEEFFCCBBDDJJQSLLLMGHgjknOPSTQQ//78XYp7noefdebcNNlm//PP//DDBBFFCCDDEECCBBCCEEDDDDBBDDEEDDKKDECDCDPSKLWYTU77lmPPWVihJInnhhccOOTTIIQQLLQQMMSSffHHbbFFEEPPQQUUGGPPRRhhPPWWJJOOMMYYJJKKWW88UUTTNNeeWW77UUKKMMJJIIjkccJJ++WWLLYYSSMMGGTTWWEEaabbOOTTPPKKNNiiGGRQPPJIKJFFHGKKMLFF99GFIHGFEEKJDDIIHHCCGGCCQQDDCCBBCCCCCCCCCCDDJJBBDDCCCCCCCCGGEEDEIIHIGHLNHIQSWXNONO//Za//ac//cdfg//efZZ77p7////DDBBFFCCDDEECCBBCCEEDDDDBBDDEEDDKLEEDDDDSULMYaUW78noQQXXkjJJ77kjffQPVVJJSSMMSSNNUUiiIIddGGFFQQSSWWHHRRTTkkRRYYKKQQOOaaKKLLYY99WWVVOOhhYY88WWKKNNKKJJllddJJ++WWLLYYTTNNGGUUXXEEaabbOOTTPPLKNNiiHHRQQPJJKKFFHHKKMLGF98GGIHGFEEKJDDIIHHCCGGCCQQDDCCBBCCCCCCCCCCDDIIBBDDCCCCCCCCGGEEDEHIHIGGLMHHQRVWNNNN+/YZ//Zb//bcde//deYYopoo////DDBBFFCCDDEECCBBCCEEDDDDBBDDEEDDLNEFEEDEUWNOacWX89ppRRYYmmKK87nmihRRXXKKUUOOUUPPWWllJJggGGGGSSTTZZIITTVVnnSSaaLLRRPPddLLMMbb++YYXXQQjjaa99XXMMOOLLKKnnefKK++XXMMZZTTNNHHUUXXFFbbcbPPUTPPLLOOjiHHRRQPJJKKGFHHLKMMGG98GGIIGFFEKJDDIIHHCCGGCCPPDDCCBBCCCCCCCCCCDDIIBBDDCCCCCCCCGGEEDEHIHHGGKLGHPQTVMNMN9+WY//Ya//abcd++cdXXmnmn////DDBBFFCCDDEECCBBCCEEDDDDCCDDEEDEMOFGEFEEXZOPdeXY8977SSaaooLL88ppkkTTZZLLWWPPWWQQZZooKKjjHHHHUUVVbbJJUUXX77UUccMMTTRRffMMNNdd//aaZZRRmmcc++ZZNNPPMMKKppggLL//YYNNaaUUOOHHVVYYFFbbccPPUUQPLLOOjiHHRRQQJJKKGGHHLLMMGG88GGIIGGFEKJDDIIHHCCGGCCPPDDCCBBCCDDCCCCCCDDIIBBDDCCCCCCCCGGEEDDHHHHGGKLGHOPSULMMM89VW//XY+/ZZbc99bcWWllkl+///DDBBFFCCDDEECCBBCCEEDDDDCCDDEEDENPGGFFFFZbQRfgZa9977TTbb77MM9977nnVVbbNNYYRRYYSSbb77LLlmIIHHWWXXddKKWWZZ88WWeeOOVVSShhOOPPff//ccbbTTooee//bbOORRNNLL77hhLL//ZZNNbbVVOOIIVVYYFFcbccPPUUQQMLOOjiIHSRQQKJLKGGIHLLMMGG88GGIIGGFEKJDDIIHHCCGGDCPODDCCBBCCDDCCCCCCDDIIBBDDCCCCCCCCGGEEDDHHGHFGJKGGNORSLLLM78UV//WX9+XYZa89abVVjkij++//CCBBCCCCEECCBBEECCCCCCEEBBCCDDDDDEFGTWKLWYacPQabRSRRNOnnUUTTOO//kkXXRRLLddddMM88llPPTTUUbbXXLL++dd8888WWeekkllXXSSZZQQTSJJaaOOSSYYdd//bbMMaaSSddQQQQRRQQJJQQXX77TTSSeedd99ddVV7q88QQVVIIPPLLPPNNPOOOTSPPKJGGVVWVIINMEEEDGGNMDDDDKJCBFFFFDDEENNCCDDDDCCCCIIEEBBDDFFFFCCEEEEFFFFCCLMFGNOabGHEEOPJKJJJJp7OPMNSTLMefWXVV//NN++//efRRCCCCCCCCEECCBBEECCCCCCEEBBCCEEDEEEGHVYLMXZcdQRbcSTSSOOopWWUUPP//mmZZSSMMeeeeNN88nnQQUUVVccYYLL//ff9999YYffmmnnYYTTbbRRUUJJbbPPUUZZee//ccNNbbTTffRRRRSSRRJJRRXX77UUTTeedd99ddVV7p88QQWVIIQPMLQPNNPPPOTSQPKKGGVVWVIINMEEEDGGNMDDDDKJCCFFFFDDEENNCCDDDDCCCCIIEEBBDDEFFFCCEEEEFFFFCCLLFFNNYZGHEENOJJIJIJmoNOLMRSLLcdVWUU++MN99++ddQQCCCCCCCCEECCCCEECCCCDDEEBBCCEEEFEFHIXaLNZbdfRScdTUSTPPp7WXVVQQ//ooaaTTNNggggOO99ooRRVVWWeeaaMM//gg++99ZZggnnooZZUUccSSVVKKccQQVUaaff//eeNNccUUgfSSRRTTSRKKRRYY77UUTTeedd99ddVV7p88QQWVIIQQMMQQONPPPPTTQPKKHGWVWWIINNEEEEGGNMDDDDKJCCGFFFDDEENNCCDDDDCCCCIIEEBBDDEEFFCCEEEEFFFFCCKLFFMNWYGGEEMNIJIIIIjlMNLLQRKLabUVTT99MM8899bcPPCCCCCCCCEECCCCEECCCCDDEEBBCCFFFFFGIJZcMOacegSSdeUUTTPQ77XXWWQQ//ppbbUUNNhhhhOO99ppSSWWXXffaaNN//hh++++ZZhhooppaaVVddTTVVKKddRRVVbbgg//eeOOddUUggTSSSTTSSKKRRYY77UUTTeeed99ddWVqp87QQWWJJQQMMQQOOPPPPTTQQKKHHWVWWJINNEEEEHGNMDDDDKKCCGGFFDDEENNCCDDDDCCCCIIEECCDDEEEFCCEEEEFFFFCCKLFFMMVWGGEELMIIHIHIgiMMKLPQKKZaTTSS88LL7788aaOODDDDDDDDEECCCCDDCCDDEEDDDDDDMOKMFGHIililUWlnLLYYkkLLTTpp99WWhh//YYPPccYY++ffUU//XXkkoo77ffmmccPPaaaaaaffVV++//KKddUUIIjjVVYYVV8899ggnnaaeeTTccTTffmldd77//JJYYSSTTMMYXUURQUUQQHHkkSSNNXXOOHGcbIIPPRRedaZPPJJKKTTaZNNHHONGGFFFFHGFFHHIIFFBBCCEEDDKKDDDDGGGGDDEECCCCHHCCGGFFGGGGFFBCDDEEIIEEFGGHRSHIHHRRFFOPPQJJTULLXYVV++aabceejjDDDDDDDDEECCCCDDCCDDEEDEDDDEOQMNGHIJknkmVWmnLMYZklLLTTp799WWii//ZZQQddYY//ggUU//XXllpp77ggnnccPPaabbbbffWW++//KKddVVIIjjVVYYVV88+9ggnnbbeeUTccTTffmldd77//JJYYSSTTMMYYUURRUURQHHkjSSNNXXOOHHccIIQPRRedaZPPJJKKUTaZONHHOOHGGFFFHGFFHHIIFFBBCCEEDDKKEEDDGGGGDDEECCCCHHCCGGFFGGGGFFBCDDDEIIEEFFGGQRHHGHPQFFNOOPIISTKLVWTU89YYZacchhDDDDDDDDEECCCCDDCCDDEEDEDEEEQSOPHHJKnqloWXnoMMZZklLMTU7799XXii//ZZQQddZZ//ggVV//YYllpp77ggnnddPPbbbbbbffWW////KKddVVJJjjWWYYVV99++hhonbbeeUUccTTgfmldd77//JJYYSSTTMMYYUURRUURRHHkjSSNNXXOOHHccIIQPSRedaaPPJJKKUTaaONHHPOHGGFFFHHFFHHIIFFBBCCEEEEKKEEDDGGGGDDEECCCCHHCCGGFFGGGGFFCCDDDEHIEEFFGGPQHHGGOPFFMNNNIIRRKKUUSS77WXXYaaeeDDDDDDDDEECCCCDDCCDDEEEEEEEFSUPRIIKLp7npXYnoMMZalmMMUU7799XXjj//ZZQQeeZZ//hhVV//YYmmpp77hhooddQQbbbbccggWW////LLeeVVJJkkWWZZWW99++hhoobbeeUUccUTgfmldd77//JJYYTSTTNMYYUURRUURRHHjjSSNNXXPOHHccIIQQSRedbaQPKJLKUUaaOOIHPOHGGFFFHHGFHHIIFFBBCCEEEEKKEEDDGFGGDDEECCCCGHCCGGFFFGGGFFCCDDDDHHDEFFGGOPGHGGNOEFLMMMHHPQJJSSQQnoUVVWYYbbDDDDDDDDEECCCCDDCCDDEEEEEFFGUWRTIJLM78o7XYopMNZalmMMUV7799XXjj//aaRReeaa//hhWW//ZZmm7777hhooeeQQccccccggXX////LLeeWWJJkkWWZZWW99++hhoocbfeUUdcUUgfmldd77//JJZYTTTTNNYYUURRUURRIIjjSSONXXPPHHccJIQQSSeebaQQKKLLVUbaOOIHPOHHGGFFHHGGIHIIGFBBCCEEEEKKEEDDGFGGDDEECCCCGGCCGGFFFGGGFFCCDDDDHHDEEFFGNOGGFGMNEEKLLLHHOOIIQROPjkSTTTWWZZEECCDDDDEEDDCCDDDDDDDEGHGHIJGGMNHHZaNNmn//UV88fgVWTUmm//kkQQUUcc//kkkk++ddeeddOOnnmm99SSWW88kk//VViiXXjjZZnn99ppOO88llTTUUeennYYOOiigg//QQ////gf//bbnnSSZZQQMMVVSSeeppVVXXYYKKZZWWVVNNIISSXWjiffjiVUcbOOUTWV87OOHHVVHHJJHHFFMLHHEEFFEEGGEEDDDDDDEECCEDEEKKFFBBDDDDEEHIFFBBEEEEFFHIDDHHCCFFHHRSFGDELMGGSTIIJJTUQQWXIIhhNNefGGNNLLEECCDDDDEEDDCCDDDDDDEEGIGIJKGHNOHIabOOno//VV88fgVWUUmn//llQQUUdd//kkll++ddffddPPnnmm99TTWW88kk//VViiXXkkZZnn99ppOO88llTTVVeennZZPPiigg//RQ////gf//bbnnSSZZQQMMVVSSeepoVVXXYYLLZZWWVVNNJJSSXWjjffjiVUcbPOUUWV87POHHVVIHKJIHFFMLHHEEFFEEGGEEDDDDDDEEDCEEEEKKFFBBDDDDEEHHFFBBEEEEFFHHDDHHCCFFGHQRFFDDKLGGQRHIIIRSOOUVHHddMMbcFFLLKKEECCDDDDEEDDCCDDDDDDEEHIHIKLHIOQIJcdOPop//VV88ggWWUVmn//llRRUUdd//kkll++eeffeePPnnmm99TTWW88ll//WWiiXXkkZZnn9977OO88llUUVVffnnZZPPiigg//RR////gf/+bbnmSSZZQQMMWVSSeeooVVXXYYLLZZWWVVNNJJSSXXjjffjiVVccPPUUWW87POHHWVIIKJIHFFMLIHEEFFEEGGEEDDDDDDEEDDEEEEKKFFBBDDDDEEHHFFBBEEEEFFHHDDHHCCFFGGPPFFDDKKFFPPHHHIPPMNSSGGZaKLYYFFKKIIEECCDDDDEEDDCDEEDDDDFFIJIJLMHIPQJJdePPp7//VW88ghWXUVnn//llRRVVdd//llll++eeffeePPoonn99TTXX88ll//WWjjYYkkaaoo9977OO88mmUUVVffnnZZPPiigg//RR////gf/+bbnmSSaZQQNMWWSSeeooVVXXZYLLZZWWVVNNJJSSXXjjffjiVVccPPVUWW87PPHHWVIIKJIHFFMLIHEEFFEEGGEEDDDDDDEEDDEEEEKKFFBBDDDDEEHHFFBBEEEEFFHHDDHHCCFFGGOOEFDDJJFFNOGGHHNOLLQQGGWXJJVVEEJJHHDDEEEELLCCFFDDEEDDHHDDEEIJHITUZbOPefRSYYZZ//abTTTU99PPaabcMMbb99kkWW77pp//YYcchhffiiffYYRRaaSSVVZZon88VVkk77ffQQNN7788jjUU//99eebbNNppPPnnnned++YXhhjjcbVUppddWWWWZZ//YYVUOONNKKYYWWOOLLSSQQLLWWUUSRYXNMcbKKSRSRMLOOHGGFIIGFJIGGHHGGFFFFEEEDKJCCEEGGEEHGEECCDDCCFFGHDDFFDDCCDDCCDDEEFFHHEEFGFFHHBBEFJJFGHHKKEEHIEEKKCCLMFFQQNNQQDDEEEEKKCCFFDDEEDEIJDEEFJKIIUWacPQfgSSYYZa//bbTTUU99QQaaccMMbb99kkXX77pp//YYccihffiiffZYRRaaSSVVaaoo88VVkk77ffQQNN7788jjUU//99eecbNNpoPPnmnned++YXhhjjcbVVppddWWWWZZ//YYVVPOONKKYYWWOOLLSSQQLLWWUUSSYYNNccKKSSSSMMOOHHGFJIGGJIGGHHGGGFFFEEEDJJCCEEGGEEGGEECCDDCCFFGGDDEEDDCCDDCCDDEEFFHHDEFFFFGGBBEEIJFFGGJJDDHHEEJJCCKKEEOOLLOODDEEEEKKCCFFDDEFEEJKEFFGKLIJVXbcPQfgSTYZaa//bbTUUU99QQabccMMbb99kkXX77pp//YYcciiffiiffZZRRaaSSVVaaoo88VVkk77ffQQNN7788jjUU//99eecbOOooPPmmnned++YXhhjjcbVVooddWWWWZZ//YYVVPPOOKKYYWWOOMLSSQQMMWWUUSSYYNNccKKSSSSMMPOHHGGJIGGJIGGHHGGGGFFEEEEJJCCEEGGEEGGEECCDDCCFFGGDDEEDDCCDDCCDDEEFFGGDDFFFFGGBBEEHIEFFGIIDDGGEEIICCJJEEMMKKMMDDEEEEKKCCFFDDEFEFKLFFGHMNJKWYcdQQfgSTZZaa//bcTUUV99QQbbccMMcc99kkXX77pp//ZZcciiffiigfZZRRaaTTVVaaon88VVkk77ffRQNN7788jjUU//99eecbOOooPPmmnmed++YXhhjjcbVVooddXWWWZZ//YYVVPPOOLKYYWWOOMMSSRQMMWWUUSSYYNNccLKTSTSMMPOHHGGJIGGJJGGIHGGGGFFEEEEJJCCEEGGEEGGEECCDDCCFFGGDDEEDDCCDDCCDDEEFFGGDDEFEEFFBBDEHHEEFFHHDDFFEEHHCCHIEEKKIIKKDDEEEEKKCCFFDEFFEFLNGGHINOKLYZdeQRggTTZZaa//bcUUUV99QRbbcdNNcc99llXX77pp//ZZddiiffiiggZZSSaaTTWWaaon88VVkk77ffRROO7788jjVV++99eecbOOooQQmmmmed+9YYhhjjcbVVooddXWXWZZ//YYVVPPOOLLYYWWOOMMSSRRMMWWVUSSZYONdcLLTSTSNMPPHHGGJJGGJJHGIHGGGGFFEEEEJJCCEEGGEEGGEECCDDCCFFGGDDEEDDCCDDCCDDEEFFGGDDEEEEFFBBDDGGDDEFGGCCFFEEGGCCGGDDIIHHIICCCCDDEEDDDDDDEEIJEFWYMNikacQQacYZbcghUUUUWWQQZZffghhhbb77PPcccc88pp77gg88WWhhOO////ZZXWOORRggddRRZZYYllooccggeeOOggddooPPonXXgg88QQRRppSSTTiiZYjjccYYjj//XX77kkYYbbQQSSZZWWkkNNTTRQUUggNNcbQQRRcbQQXWSRPPONIILLPOOOHGQPMLFFFFIHDDEEFFFFFEFFDDDDIICCDDEEDDFFDDEEBBFFFFCCFFEEFFGGDDCCDDCCCCCCDDGGFFCCGGCCDDEEGGGGFFHHGGIICCCCEEHHCCCCDDEEDDDDDDEEIKFFXaNOkncdRRbcYZccghUUUUWXQQZZfghhhhbb77PPcccc88pp77gg88WWhhOO////ZZXXOORRhgddSSaaYYllooccggeeOOhheeooPPonXXgg88QQRRppSSTTiiZYjiccYYjj++XXqpkkYYbbQQSSZZWWkkNNTTRRUUggNNcbQQRRcbRQXXSSQPOOIILLPOOOHHQPMMFFFFIIDDEEFFFFFEFFDDDDIICCDDEEDDFFDDEEBBFFFFCCFFEDEEGGDDCCDDCCCCCCCDFFEECCFFCCDDDDFFFFEEGGFFGGCCCCDDFFCCCCDDEEDDDDDDEFJLFGZcOQnpdeRScdZZcchhUVUVWXQQZafghhhibc77PPccdd88pp77gg88WWhhPP////ZZXXOOSShhddSSaaYYllooccggffOOhheeooPPnnXXgg88QQRRooSSTTiiZZjiccZYjj++XXppkkYYbbQQSSZZWWkkONUTRRUUggNNccQQRRcbRRXXSSQPOOIILLPPPOHHRQNMFFFFIIDDEEFFFFFEFFDDDDIICCDDEEDDFFDDEEBBFFFFCCFFDDEEGGDDCCDDCCCCCCCCFFEECCFFCCCDDDFFEEEEFFEEGGCCCCDDFFCCCCDDEEDDDEDEFFKMGHbePRo7fgSTddZacdhhVVVVXXQRZafghhhicc77PPccdd88pp77hg88WWhhPP////ZZXXPPSShhddSSaaYYllooddggffOOhheeooPPnnXXgg87RRSRooSSUTiiZZjiccZYjj++XXppkkYYbbQQSSZZWWkkOOUURRUUggNNccQQSRccRRXXSSQQOOIIMLPPPOHHRQNMGFFFIIDDFEFFFFFFFFDDDDIICCDDEEDDFFDDEEBBFFFFCCFFDDEEGGDDCCDDCCCCCCCCFFEECCFFCCCCDDFFEEEEFFEEFFCCCCDDEEEEEEEECDFFDDEFEEKMGHXZKLVWUUQQkkUVp7RSTUNNhhmnffccWW//77RReeNN//////hhbbUUooZZddaadd88//iihhWWVVWW77jj88llccVVccTT//jjcc//bblldciiaajj99SSNN88edllYY8899QQggUUOOWWddOOPPkkXXbaPPSSXXYXXXmmWWMMPPUTfePOQPRRNNMMOOVVRQMLONHGNMLKIIEENMCCEEEDGGCCEEEEDDFFGGEEDDBBGGDDCCDDFFDDCCHHEEDDEEBBDDDDHHCCCCCCCCDDDDDDGGEEEEFFEECCCCDDCCFFCCEEEEEEDDGGDDFGEFLNHIYbLMWXUVQRklVVp7SSUUNNhhnnffcdWX//77RReeNN//////hhbbUUooZZddaadd88//iihhWWVVWW77jj88llccVVccTT//jjcc//bbllddiiaajj99TSNN88eellYY8799RRggUUOOWWddPPPPkkYXbbPPSSXXYYXXmmXWMMPPUTfePPQQSRNNMMPOWVRRMMONHHONLKIIEENNCCEEEDGGCCEEEEDDFFGGEEDDBBGGDDCCDDFFDDCCHHEEDDEEBBDDDDGGCCCCCCCCDDDDDDGGDDEEFFEECCCCDDCCFFCCEEEEEFDDHHEEGHFGNOIIacLMWXVVRRklVVp7SSUUNNhhmnfgcdWX//77RSeeNN//////hhbbUUooaaddaaee88//iihhWWVVWW77jj88llccVVccTT//jjcc//bbmlddiiaajj99TTNN88eemlYY8799RRggUUOOWWedPPPPlkYYbbPPSSYXYYXXmmXXMMPPUUffPPQQSSONNMPPWWSRMMPOHHONLLJIEEONCCEEEEGGDCEEEEDDFFGGEEDDCBGGDDCCDDFFDDCCHGEEDDEEBBDDDDGGCCCCCCCCDDDDDDGGDDEEFFEECCCCDDCCFFCCEEEEFFDEHIEFHIGHOQIJbdMNXYVWRRllVVp7SSUUNOhimnfgcdWX//77SSeeOO//////hhbbVVooaaddaaee88//jihhWWVVWW77jj88llccVVccUU//jjcc//bbmlddjibakj99TTON88eemlYY8799RRggUUOOWWeePPPPlkYYbbQQSSYYYYXXmmXXMMPPUUffPPRQSSOONNPPXWSRNMPOHHPOMLJJEEONCCEEEEGGDDEEEEEDFFGGEEDDCCGGDDCCDDFFDDCCGGEEDDEEBBDDDDGGCCCCCCCCDDDDDDGGDDEEFFEECCCCDDCCFFCCEEEEFFEEIJFGJKHIQRJKceMNXYVWRSllVVp7SSUUOOhimnfgcdXX//77SSeeOO//////hhbbVVooaaddbbee88//jjhhWWVVXX77jj88llccVVccUU//jjcc//cbmmddjjbbkk99TTOO88eemlZY8799RRggVVOOWWeePPPPlkYYbbQQTSYYYYYXmmXXNNQQUUgfQPRRTSOONNQPXXSSNNPPIHPOMLJJEEOOCCEEEEGGDDFEEEEEFFGGEEDDCCGFDDCCDDFFDDCCGGEEDDEEBBDDDDGGCCCCCCCCDDDDDDGGDDEEFFEECCCCDDCCFFCCEEDDEFFGLNJKKLKLIJacbcOPbbZaUVVWggRRVWZabbZaeeijWWggab+/UVff77eeeeccllWWggggUUkkcckk77llWWkkTTZZ//gg//eeggWW77eeoollmmkkffffZZPPlk//77//kjWVVVmlgfaajiUTffYYbbnmYYoonnTT++QQXXffLLiijiWWZZYYVVggTTVVYXbbdcMLJJRRRRLLRRSRPOUTHHJJQQKJFFHHJILKGGHHDDEEGGDDEECCGGDDEECCCCGGDDDDEEEECCCCDDDDDDDDDDDDCCCCCCDDDDDDDDDDDDDDCCEECCEECCEEEEDDEFGGMOKLLMLMJJcdcdPPbcaaVVWWggRRVWZabbZaeeijWWggab+/VVff77eeeeccllWWggggUUkkcckk77llWWkkTTZZ//gg//eeggWW77eeoollmmkkffggZZPPll//77//kkWWVVmlggaajiUUffYYcbnmYYoonnTT++QQYYffLLiijiWWZZZYVVggTTVVYYbbddMMKJSRSRMLSRSRPOVUHHKJRQKKFFHHJJLKGGHHDDEEGGDDEECCGGDDEECCCCGGDDDDEEEECCCCDDDDDDDDDDDDCCCCCCDDDDDDDDDDDDDDCCEECCEECCEEEEDDEFGHNPLMMNMNKKefdePQbcaaVVWWggRRWWaabbaaeeijWWggbb++VVff77eeeeccllXXggggUUkkcckk77llWWkkTTZZ//gg++eeggWW77eeoollmmkkffggZZPPll//87//kkWWWVmlggaajiUUffYYccnmZYoonnTT++QQYYffLLiijjXXZZZZVVggUTVVYYcbddMMKKSSSRMMSRTSQPVUIHKJRQKKFFHHJJLKGGHHDDEEGGDDEECCGGDDEECCCCGGDDDDEEEECCCCDDDDDDDDDDDDCCCCCCDDDDDDDDDDDDDDCCEECCEECCEEFFDEFGGIPRMNNPNOLLfgefQQccaaVVWWggRRWWaabbaaeeijWWggbb++VVff77eeeeccllXXggggUUkkcckk77llWWkkTTZZ//gg++eeggWW77eeoollmmkkgfggZZQQll//87//kkWWWWmlggbajjUUgfYYccnmZYoonnUT++QQYYffLLiijjXXaZZZVVggUUWVYYccedMMKKSSSSMMSSTSQPWVIIKKSRLKFFIHJJLLGGHHDDEEGGDDEECCGGDDEECCCCGGDDDDEEEECCCCDDDDDDDDDDDDCCCCCCDDDDDDDDDDDDDDCCEECCEECCEEFFEFEFIJIJMOLMXYYZbbSS7788YYWWWWghllVVOOggccffjkVWgheemm99iiaa++77ggTTaakkooccnnbbddooeejj7788bbeeVVVVkkcbSSmmZZddllllgfRRmmaaUUQP99hhggmleeTTlkonhg7799UUXXjjbbbbiiggWVaaUTXXRRNNUUUTffnmXXaaSSQQUUUTXXVViiSSLLTTOOSRWVMLNMONIHKKKKKKKKIHGGDDCCDDHHEECCDDEECCEECCFFDDJJCCDDCCEEDDEEDDCCCCCCCCDDEEEEEECCEECCDDEEDDDDDDEEDDCCDDCCGGGGFGJKJKOPLMYZZaccST7788YYWWWXghllVVOOggccefjjVWgheemm99iiaa9977ggTTaakjooccnnbbddnneejj7788bbeeVVWVkkccSSmmZZddlllkgfRRmmaaUUQQ99hhggmleeTTlkonhh7799UUXXjjcbbbiiggWWaaUUXXRRNNUUUUffmmXXbaSSRQUUUUXXWVjiTSMLUTPOSSXWMLNMONIIKKLKLKKKIHHGDDCCDDHHEECCDDEECCEECCFFDDJJCCDDCCEEDDEEDDCCCCCCCCDDEEEEEECCEECCDDEEDDDDDDEEDDCCDDCCIIHIHHLMKLPQMNZaaacdTT7788YYWWXXghllVVOOggccefjjVWgheemm99iiaa9977ggTTaajjooccmmbbddnneeji7788bbeeVVWWkkccSSmmZZddllkkgfRRmmaaUUQQ98hhggmleeTTlkonhh7799VVXXjjcbcbiiggWWaaUUXXRRNNVUUUffmmXXbaTTRRUUUUXXWWjiTTMMUTPOSSXWMMNMOOIILKLKLKLKIIHGDDCCDDHHEECCDDEECCEECCFFDDJJCCDDCCEEDDEEDDCCCCCCCCDDEEEEEEDDEECCDDEEDDDDDDEEDDCCDDCCKKJKIJMOLMQRNOababddTT7788YYWWXXghklVVOPggccefjjVWgheelm99iiaa9977ggTTaajjooccmmbbddnneeii7788bbeeWWWWkkccSSmmZZddllkkffRRmmaaUUQQ88hhgglleeTTlkonhh7799VVXXjjcbcbiiggWWaaUUXXRRNNVVUUffmmXXbbTTRRUUUUYXWWjiTTMMUUPPTSXWMMNNOOIILLLLLLLKIIHGEDCCEDHHEECCDDEECCEECCFFDDJICCDDCCEEDDEEDDCCCCCCCCDDEEEEEEDDEECCDDEEDDDDDDEEDDCCDDCCMMLMKKOPNNRSOObcbbdeTU7788YZWXXXggkkVVOPggcceeijVWggdelm99iiaa9977ggTTaajjooccmmbbddnneeii7788bbeeWWWWjjccSSmmZZddkkkkffRRmmaaVUQQ88hhgglleeTTlknnhh7798VVXXjjcbcbiiggWWaaUUXXRRNNVVUUffmmYXbbTTRRUUUUYXWWjiTTMMUUPPTSXWNMONPOJILLLLLLLLIIHHEDCCEEHHFECCDDEECCEECCFFDDIICCDDCCEEDDEEDDCCCCCCCCDDEEEEEEDDEECCDDEEDDDDDDEEDDCCDDCCIINOQRQROPTUWXdeZa88XXnnZZPPSSPPQQmmWWghVVccVVmnccbcff//nn77XXccllTT99lliiggffdd99pp99eeZZ99XXbbpp88WWeehhffZZoocceeQQffSSoollcciihheejjeebbYY99ffccjiYYYYhhlkhgRRaaZZddTTSSYYTTSSYYggZZhhSRddXXSSUURRVURRffTTNNTSVVQQWVMLLKVUMLNMMLLKIIHGJIFFFFGGEEDDFFGFEECCEEGGCCCBDDDDEEEEDDEEDDDDDDDDEEDDDDEECCDDDDCCDDEEEECCCCCCDDDDCCDDDDJJQQTTSTQRUVXXefaa88XXnnZZPPSSPPQQmmWWghVVccVVmmccbcff//mn77XXccllTT99kkhhggffdd99pp88eeZZ99XXbboo88WWeehhffZZoocceeRRffSSoollccihhheejjeebbYY99ffccjiYYYYhhkkggRRaaZZddUTSSYYTTSSYYggZZhhSSddXXSSUURRVURRffTTNNTSVVRQWVMMLLVUMMNMMLLKIIHHJIFFGFGGEEDDFFGFEECCEEGGCCCCDDDDEEEEDDEEDDDDDDDDEEDDDDEECCDDDDCCDDEEEECCCCCCDDDDCCDDDDKKSSVWUVRSVWYYffab88XXnnZaQQSSPPQQmmWWggVVccVVlmccbcef//mm77XXccllUU99kkhhffffdd99oo88eeZZ99XXbboo88WWeehhffZZnncceeRRffSSnnllcchhhheejjeebbYY99ffcciiYYYYhhkkggRRaaaZddUUTSYYTTSSYYggZZhhSSddXXSSUUSRVVSRffTTONTTWVRQWVMMLLVVMMNNMLLLJIHHJJFFGFGGEEDDFFGFEECCEEGGCCCCDDDDEEEEDDEEDDDDDDDDEEDDDDEECCDDDDCCDDEEEECCCCCCDDDDCCDDDDMMUUXYWWTTXXZZggbb88XYnnaaQQSTPPQQlmWWggVVccVVlmccbcef//mm77XXccllUU99kkhhffffdd99oo88eeZZ99XXbboo77WWeehhffZZnncceeRRffSSnnllcbhhhheejjeebbYY99ffcciiYYYYhhkkggRRaaaZddUUTTYYTTSSYYggZZhhSSddXXSSUUSSVVSSffTTOOTTWVRQWWMMMLWVNMNNMMLLJIHHJJFFGGGGEEDDFFGFEECCEEGGCCCCDDDDEEEEDDEEDDDDDDDDEEDDDDEECCDDDDCCDDEEEECCCCCCDDDDCCDDDDTTMMWWXXVWQRiihiPPccabMNeeffggbbWWXXffllYYaaijQQiiddRRopaa7799YYYYhhVVppjj77UUjjllUU77WWiiXXoo++hhhh88ddhhppll9988//gg87aa77++//XXffnnZZllllcbbaXXggppfe//SSYXhhUUddhhccZYiiddffeeVVSSWWaaXXggaaffYYTTddaaSRUT88IIcbUTSRPPNNcaLLLLONLLJIHHFFJIEEDDHHGGFFEDFFDDCCEEEEEEGGEEDDDDEEDDDDCCDDCCDDDDEEFFDDFFCCDDEEFFCCDDDDDDCCCCCCDDCCUVNNYYYYWXRRijiiPPccbbNNeeffggbbWWXXffllYYaaiiQQhiddRSopaapq99YYYYhhVVppjj77UUjjllUU77WWiiXXoo++hhhh88ddhhppkk9988//gg77aa77++//XXffnnZZllllcbbaXXggpofe//SSYYhhUUddhhccZYiiddffeeVVTTXWaaXXggaaffZYTTddaaSSUU88IIcbUTSRQPONcbMLLLONLLJIIHFFJIEEDDHHGGFFEEFFDDCCEEEEEEGGEEDDDDEEDDDDCCDDCCDDDDEEFFDDFFCCDDEEFFCCDDDDDDCCCCCCDDCCWWOOZZZZXXSSjjiiPPddbbNNeeffggbbWWXXeellYYZaiiQQhiddRSooaapp99YYYYhhVVoojj77UUjjllUUppWWiiXXoo99hhhh88ddhhookk9988//gg77aapp++//XXffnnZZllllcbbaYXgfooee//TTYYhhUUddhhcbZYhhddffedVVTTXWaaXXggaaffZYTTddaaSSUU88IIcbUTSSQPONcbMMMLOOMLJJIHFFJIFEDDHHGGFFEEFFDDCCEEEEEEGGEEDDDDEEDDDDCCDDCCDDDDEEFFDDFFCCDDEEFFCCDDDDDDCCCCCCDDCCWWPPZaaaYYSSjjiiQQddbbNNeeffggbbWWXXeekkYYZahiQQhiddSSnoaapp88YYYYhhVVooji77UUiillUUppWWiiXXoo99hhhh88ddhhookk9977++gg77aapp++//XXffnnZZllkkcbbaYXgfooee//TTYYhgUUddhhbbZYhhddffddVVTTXXaaXXgfaaffZYTTddaaSSUU88JJcbUUSSQQOOcbMMMLPOMLJJIIFFJJFEDDHHGGFFEEFFDDCCEEEEEEGGEEDDDDEEDDDDCCDDCCDDDDEEFFDDFFCCDDEEFFCCDDDDDDCCCCCCDDCCXXPPaaaaYYSSjjiiQQddbbNNeeffffbbWWXXeekkYYZZhhQQhhcdSSnnaaoo88YYYYhhVVooii77UUiillUUppXXiiXXnn99hhgg88ddhhookk9977++gg77aapp99//XXffmmZZkkkkbbbaYXgfonee//TTYYggUUddggbbYYhhddffddVVTTXXaaXXffaaffZZUTddaaSSUU88JJccUUTSQQOOcbNMMMPOMMJJIIGFJJFFDDHHGGFFEEFFDDCCEEEEEEGGEEDDDDEEDDDDCCDDCCDDDDEEFFDDEECCDDEEFFCCDDDDDDCCCCCCDDCCPPWWjjkliiRRXXkkaaXXeeiibbccjjXXVVggTTeeWWiiUUmmfgccZZffaaYY77mm88XXUUWWnnooUU77ddYYgglleeffaaWWddVVllaa88VV88ZZZZjjooggdd++kkXXdd99iimm++aahhZZddhgUTccccjjXXTTddTTbbddUUYYTTMMRROOZYSSXXYYgfWWVVbajjWWZZVVSSPOVVTTTSgfQQSRONTTMMUTKKMMMLHHJIGGFFFEGFIHEEFEDDEECCDDDDDDDDEEDDDDCCDDEEDDDDEEEEEEDDCCCCDDDDEEDDDDEECCCCCCCCDDCCCCPPWWjjkkiiSSXXkkaaXXddhhbbcciiXXVVggTTeeWWhiUUlmfgccZZefZaYY77mm77XXUUWWmmooUU77ddYYgglleeffaaWWddVVllaa88VV88aaZZiioogfdd++kkXXdd88iimm++aahhZZddggUTccccjjXXTTdcTTbbddUUYYTTMMRROOYYSSXXYYffWWVVbajjWWZZVVTSPPVVTTTSgfQQSSOOUTMMUTLKMMMLIHJIHGFFFFGFIHEEFEDDEEDCDDDDDDDDEEDDDDCCDDEEDDDDEEEEEEDDCCCCDDDDEEDDDDEECCCCCCCCDDCCDDQQWWjjkkiiSSXXjjaaXXddhhbbcciiXXVVggTTeeWWhhUUllffbcZZefZaYY77mm77XXUUWWmmnnUUqqddYYfflleeffaaWWddVVllaa77VV88aaaaiiooffdd++kkXXdd88hhmm99aahhZZdcggUTcccbiiXXTTccTTaaddUUYYTTMMRROOYYTSXXYYffWWVVbajjXWZZWVTTPPVVUTTTgfRQTSPOUTNMUTLKNMMLIHJJHHFFFFGGIHEEFEDDEEDDDDDDDDDDEEDDDDCCDDEEDDDDEEEEEEDDCCCCDDDDEEDDDDEECCCCCCCCDDCCDDQQXXjjlliiSSYYjjabXXddhhbbbbiiXXVVffTTddWWhhUUklefbcZZeeZZYY77ll77XXUUWWllnnUUppddYYfflleeeeaaWWddVVllaa77WW88aaaaiiooffdd99jjXXdd88hhll99aahgZZdcgfUTcbbbiiXXTTccTTaaddUUYYTTMMRRPPYYTTXXYYffWWVVbajiXXZZWWTTPPVVUUTTgfRRTSPOUUNNUULLNMMMIIJJHHFFFFGGIHEEFEDDEEDCDDDDDDDDEEDDDDCCDDEEDDDDEEEEEEDDCCCCDDDDEEDDDDEECCCCCCCCDDCCCCUUYYddddYYYYYYffVVPPbbTTZZkkaaooRRbbccffWWbbbcccUUTTiihhffkkooYYmm88ookkllWWccoo88jjccffnn++mmcclljj//llggffYYZZccaahhggnn88ggeeUUiikkZZbbZZmmiimmVV99WWVVbbXXooXXVVgghhUUWWXXYYllhhffhhYYeeYYUUjjQPXXUUPPVVXXZZSSaZWWYYMMQQOOSRMMMLJJIIIILKGGEEHHFFGGGFEEEDDDDDDDDDFFDDDDDDDDDDEEDDDDDDCCDDDDFFEECCDDEECCCCDDDDDDEEDDDDDDCCDDDDVVZZddeeZZYYZYffVVPPbbUTZZjjaannRRbbccffVWbbbbbbUUTTghggeejjnnXXkk77mmjjkkWWbbnn77iicceemm99llcckkjj//kkggffYXYYccaahhggnm77ggddUThhjjZZbbZZllhglkUU99VVUUbbXWnnXXVVffhhUUWWWWXXkkggffggYYddXXUUjjQPXXUUQQVVXXZZSSaZWWYYMMQQPOTSNMMMKJJIIILLGGEEHHFFGGGFEEDDDDDDDDDDEEDDDDCCDDDDEEDDDDDDCCDDDDFFEECCCCDDCCCCDDDDDDEEDDDDDDCCDDCCWWaaeeeeZZZZZZffVVPPbbUUZZjjaammRRaabbeeVVaaaaaaTTSSffeecdhhllWWiiookkhhiiVVaall77hhbbddll89kkbbjjii++jjffeeXXYYbbZZggffll77ffccTTgfhhYYaaYYjjffjjUU88VVUUaaWWllWWVVeeggUUVVWWXXjjggeeggYYddXXUUiiQPXXUUQQVVXXZZSSZZWWYYMMRQPPTTNNNNKKJJJIMLHGEEHHGFGGFFEEDDDDDDCCDDEECCCCCCDDDDEEDDDDDDCCDDDDEEEECCCCDDCCCCDDDDDDDDCCDDCCCCDDCCXXbbffffaaZZZZffVVPPbbUUZZiiZZllRRaabbddVVZZZZZZSSRRddccbbffiiVVggmmiiffggUUZZjkooggaaccjj88jjaaiihh99iieeddXXYYbbZZffeekkpoeebbTSeeggXXZYXXhheehhTT87UUTTZZVVkkWVUUddeeTTVVVVWWiiffddffXXccXXTThhPPXXUUQPVUXWYYSSZZWWYYNNRRQQUTOOONLLKJJJMMHHFEIHGFGGFFEDDDCCDDCCDDDDCCCCCCDDDDDDDDCCDDCCDDCCEEDDCCCCDDBBCCDDDDCCDDCCCCCCCCCCCCZaeeffffcccabcffXYSSdbVXbZdeZZggUSYaaabcWWZaYYXWSURRaabZbabaeeVTacgfdebdcdUWZbggiideacdbhhllggbchfffmnfhffeeYYZZaZZadcefgfijedbbUUdcddXXZZWXdecadcVVigVVUUXYVVeeUVWUaaacVVXWVWXXdeabaabbWZaaXXWUcdQSXXTVTQUVWXZaUUYXWWYXPOTTRQTTPOPPONMLLLOMJHGFJIGEHGGGEEDDDEDEDDDCEEBAABBCDDFDDEBBACCBABEECBFEEEBBBBDDAAABDDCCCBEDBCDBCEACBDBBfeddcdeebcgfghffefcdbaVWbYdcccZZaYabWWdeVVaaYYXWYZZYQPZYcbYYabUSWYaaXYcdaaXYdeefaadecdedYXhgeeddedgfbbabdecbaaYXaZefcdedaabbWWhhYYVTZaZZYXTTTTccXVVUecUUTUXWXXbcQQXXQSWYUVWUTTZabcWWWWVTXZTTijYXcdXYTTRSVTUUVVUTdcbbPQYXaYUUTSVWUTOOUUPNQPKJHHKIJIGHIGEEFEAAEEBBCDBAABEDABDDBBEDBBBBCEGEAABCCCFEABEECBAAAACCDDCCAABBDDDDDDCEAAAAfeddcdedbcgghgefeeabaaWWaYcbbcZZZYZZUVccUTZYWWWWXXZWQPXWYYXWYZTSXXYYXXbcbZWXcdedYZddccdeYXggedccddffcbabcebaaZXWabffcddcZYaaVUffYWTUYYYWWVSSSRbbWWUSbaUUSTVVVWabQQXYRSWWSTVUUTYYabWVVVVUXYTUhiXWccYYSRRSVUVUWWTRcdcbQRYXaaUTSTXVTTNOVVQNRPLLIHIIKJIIIGEDDCAAEDAACDBABBEDBCDBAAEEBCDCDEGEAABCCCFEBCEDBCAAAACCDCCCAABBCCDEDCDDAAABffeeccedceihhgegfebcabWVXYbbaZVWYYYZUVaaTSXWVUVVVVYVONVUWXXVXXSSVWWXWWbcZYVWddddXYddcdcdYYfgedabdeeebbbacdaabaZXbcggccbbZYZZUTfeXWSTYYXVTTQRRQZZUUTRZZUUSRUVUUYZPRWXRQWVSTVUUUZYacVVUUUUXYUUhiWWcbXXRQQSWUUUWWTSeedcSRZZaZUSSTYWTUOOVVRPSQMMJIKLMLIIIHEEEDAADDAACDBABBDCABCBAAEEBADCCEFEAAAACCEFCDFCAAAAAABBDCCCAACBBCDEDCDEBAABggeeccfedejhggeffdabaZVUXYaaYXTTWXYXSTYXRSWUVTUUUUVTLMTSVVUUVVQRTUVUVVZcYYUVdcccXYddbdccYYggedbbdddeaabbddZbcbaYbcggdcabZZYYTUfdVURSYXUUTTPQQPWWSSRQWXRTRPTVTSWXOPUVPOVVSTVVTVaZabVVVUUTXYVVhiVXdbWXRQRRWVUUVVSSeeceRQaZZYTSTUYXVVQOUVRPTRMMIJNLMLHIIGEFFEAAEEAACCBABCCCABCBAADEBABCCEFEAAAACDGFBDEDAAABAACCDDDBAACCBCDEDCDDBBABfgdbTUjhWWXVbafgYYZbXVZaSSbbRRVVPRZXTTXXRQUUSRTRWVONRSVTUTTURRPQWWSQXYTVVWVXaaWXZaYYcccbdeZYccbbedbbXXfhaaceVUeeegYYeeZZdebbUVXWQQUVYWVVRSSRSRPQTSVTRRRTONPQRRWVSUWVSRWWPQWWOPZaXXZZXVTUTTYYbbXZWVUUTTXXWXVVWVQQbaWYbaYVTTVWUWSSSTZXUURPQPMLPPLJMLIHGGEFEDCABBDDGFCBEDAAAADECCCEDCBBACDCEEAAEDHGDEEDBBEFDCCCEFDBAACDBAABDDABAAEGgfcaTUhgUVWTbaffYYaaWUZaRQbaQQVVPPYWTUXXPOSURQSPTSMLQQUTSSSTSQOPUWSQWWSTUVWXaaWXZaYYcccbdeZXbbabedabXXfgaZdeTTdeffXYedZYddaaVVWVRQSTWVVUQRRRRQNQSRTSQPPRNNNOPPUTQTUUSRWVPPUUNNXYWWYZWVTUTSXXaaWZVVUUTUYYWXWVWWRRbaVXabXVUUVXVXSRSUaYUVSPRQNMRQLKNLKIHFEDDDDABACBGFECDCAAAACEDDCEDDBBAADEGFAADCFFCCDDBBFFDCCCEFCAAACCAABBEDBBAAFFfecbUUggUUUSabgfYXaZVUaZRQbZQRVUNMWVSTXVNLQROPPNRQLLOQSRQRRSRQNNUWRPVVRSTVWWaaWWZZZZddbbcdYYccbbedcbYYefaadeTUeeedXYeeaZecaZTUVUQQQQUTUSPOPQQPLNPPQQONOPMMNMNOSRPRSURRVVOOTSNOWXVVXYVVTTTTWWZaXYUUUUTVWWWWWUWXSSbaWXbcXWWWWWWXTRTWbZVWSQSRONSRLJLKJJIFEDEDDBCCDCGGDCCDBAAACDDEDEDCCCAACEHFAACCEEBDEFCCEEDCABFGCBAADCAACCDBBBAADDeeddVVggVTUUabhhYXZZWWZZRQaZRQUTMLVUPQVTLLOPLNONPPKLNOPQPPOQPOMMSURPVURSTVWWYZWUWYXZdcaccdYYddbbefddYYfgbZcdVVgeecXYeeZZdbZYRRTSPPQQSSSQNOOPONKLNNOONMOOKLMLNNRPOPRSQQTUONSSMNWXVUVXXXUTSUWWZaWWUUUTUUUVWWUTWXSTbaWXcdXXXXWWXXTTTVbbXXRRTRPOSRLJLKJKJGEDFDDCCCECEFBCEECAAADDEEDFDCDCBABCFEAACCDDCEEEDCEDDCAAEGBBAACDBACCCBCBAADEefddVWhgVTVVabghYXZZWWZYQPZZROTTMMUTPPTRMLNNLMMNNNKKLLNPNOLONMLLQRONTTQSTUWWYZWTVWVYdbbdddZYddbcffddXYffbZccVUffecXXdeZZdaZXQRSSONRRSRSQNONMMLJKNMNNOMNNJJLKOORPNOQQPPSSNMSSLMWXTTVWYYUTSTVXZaXWTUTUVUUUVVUUXWSTbbXYdcXXWXXWXWVVVVabXWRQTSQOSRMLLMKKJHGEFDBCBADDEFCCEDCBAADEEDEEDDEEBABAEEAADCDDDDDDDCEEDDBAEGBAAADDCAABBCDAAAEFgghfXaihYYffefccWWWVZYaZZXTUTRXWPPRRONKKLKMLLMMMJJJKLLJKHHIKOPLKNOMMQSOPPPWWUUXVTUbcbccdYXXXYYfgffefaaYZhhfeedYZZYdcdcVWYWSSXXVUZWVWPPQPMNMKMMJMNLIINNLLLLMMLLNNLLOOOONMPPOOQPRSSRSUTTVVNOVWXYZXYYUVWWUUUVXWbZQSWVYXUVXXSTXWRQYXTSXWSRQQRRTRPPOMJJKLLKHFGFCBDDDCBCCCAADBBAAABADDCDDEBACBCDEEEFAAAACBABDFBCEDDEDCCCEEECDEBCEDABDEighfXZigYYfefdbaWWWUYYZYZYTTSRWWPNQQNMLKKJMLKLMLHIJLMLKLHGIJNOLLMMLMPQNOOOTVTTWVTUcbcdddXXXWYZfgegfgcbZYhhfeeeYYZYdccbVVYWSSXVTTYVUWPOPOMNMKMMKMNLIIMMKMLMNMJJMOMLOOOPNMNONOQPQSSSUUSRUUOOVWXXbZYYUVVWWUVWYWbZQSVVYXTUWXSTWWQRWWRSYWSRQQRRSRQPOMKIKMLLHGHGDBEDBBBACCBBCBCCAAAACDDDEEBABBDEDDEFBAAADBABEFCCEEDEDDDDEEDCEDBCDCBCDDighgYZihZagegeccVWWUYYZYZYSSSSWVPMOONMKKJIMLJKMLIIKMMLKMHHIJNMLLONNMOOLMNNSUSSWWUUcbacccWWWVYZegfffhdbYYggddddYXYYedbaVUYXSRYVRTWVUVNNNMNLLLNMKLLKIJMLKMMNNOKJLNMLOONPNLMONNPPPQSSTSQQTTONVWXXZYYZVVVWWUWVXWaZSSUVYXTTWXTSVWQRWWTSYWTSRRSRRRQPONMKLLKKHGHFDCECACCABCBBBBCEBBCACDEDEEDCCCCEDDEGBAAACCBBEECBFFDDCCDEECDCDDCCDCCCDCighgZajhZbfefeccVVVVZYZZZXSRSSVUNMOPNMKKJILLJLMMJJKMLMLLIIIJNNKLNOOMOOMMONSTQSVVVVbbXbbbXWWVYXdffgfgcbYZggdcddZXXXedbaVTXZTRYVRSWVTTNNMMNLLMMMKKKKIJMKJLMMNNKKLMKKOPNNMMLNLLNOPPRRSRPRTSNNVVWYXWZYVVWWWUVUXWZaTSVWYXTTXXTSVVQQVWTTYVTTQRTSSRQPOONMLJJJHFGECBDCACDBBBAABCCDABCACCDCCDCCCCCDDEFFAABCCCBBDDCBFFDEBCEDECCCDDBBBECCDDjhaaaafdefVWccdbWWZYYWSSVVTSOORQPOLLPOMLKIIIHJLMKJIKJJKLJIJJMMLNKMNMNNOOSSUUSTRPUVbbaeffffZYdcfgdeffaaYYjjffeehhjillRQaYaaQPPNPPUTQQSSMLOOOOMLLLKKEHMKEHKKMLKLHHKLNONNOONPKKOOPPMNRQPRTUSSYXadTSWVWWYZXVOPXXWXUUWXVVYXUUWVWWXXVWaZWUSSXYVVXWPOQPQPNLIIGFEDDBAAACBABBCCAADDCCAAAACDBCCCAACCDDDBDDFFBBFEBDCCCDCDAADDEDEEBBCBACAACDjiabaaedfeUVccdcWWZXYWTSUTSSONQOPPLKNNMNKIJKJJKLKJIKJHKLJHIIMMKLKLKLNMNOQSUUSTPOTVbbbdfeefZZddggcdfgZZYYkjgfeeihkillQQZYbaPNONQOTSPPRRLLNPOOMLMLKKFHMKGHKJLMLMIHKMMMLLOOOPKKPNNONOSRPPTTTTXXabSTWWVWYZXUOQXXVWTTVWUVYXUTXWXXXXWXbZUUSSZYTTWXQORQQQNMJIHHGECAAABCBAAADCAADDCBAAAACECCECAACBCDCAEFFEBBEECDCCDEDDAACEDEEECBCBBCAABCjibcZZdefeUUbcecXXZWWXTSUTSSONPOQQLKNNMMJJJKJJKKJIIJHFJJHHIILLJKKJJLMMMOQSVUSSPPVWbbbdeeeeaZcbfgccefYXYZkkfggfhhljlkPQYYbZONNNQPSRONPQMKMONNLMLKKJFGKKIHKJLLLMJJLNLLLKNMOPJJONMNNPSRPQTSQRWWaaSTVWVWYYWUOQYXWWTRUWUTXXUUXWXXXXVWbaWVSSaZTSWXQNQPRQNMKJIIHECBBACCCBAAECAADCCCAABACEDCECAAABDEBADEFEBBDDDCBCCDDCAACDDDDFCBDCCDAABCihccYYcefdVUccedXXXXXWRRUTRRNNPPQPLJNNLKJJKKKKJKJHIJHGJHGHIIKKJKKJKKLLKMORUTRSPQVWaabddeeeaZbafgddefYXYalkfghfiimjlkQQXXYYPOOMPORQPOOPLLMMMMKLKJKJEFJLIIKJLKKLJJLNJJJKMMNOJJMNMNNNRQPQSRPQXXaaSRVUUVYYVVPQZYXWTRUWUSVWVVWVXXWWVVZaXUSUbaUTXXRNQQRPONLJHHGEDCBBCCDCBACCAADBCCAABABDCCEDAAABEECCCDFFBBDDBBBDCCDCBACDDDEFBBDDCCAACBhhbbZZddeeWUcbeeXWWWXVQQVSQQNNQPOMKJMMKJJIKKKJIKKIJJHGIHFGIIJKJLJJLLLKJKNQTTRTQQVUZabccdefZYbcfgddefYZZakkgfffiikkllRQYXXXQPNLNOQQPNNOLLNMMMLLIJJJEDIKHHIJKKJJIIMMKKKKMMMNJIKMMNMLQPOPRTPPYXZZSSUTTVYXVVQQYYWVTSVVVTVXWVWVYXXWVWYZWUSTbaWUXXRPSRRQOOLJHGEDECBBBBBCCABAABDBDCAAAABBDCDCAABDFFDDDDFEBBDDBBCCBABCCBDCEFFFABDECCAABBijmlbabaZYaZZXWWSRaZSSQRWTOPTRQQNLKJKLGHIHKKKJJLKHHHJJIIHIHHIIIJKLMKKMIILMRRTVUUTUTUXWSTZcdddfVUcdWWfggfefaYTVXXaaVUWUbbQPVUMLPQONMKMNMMJKKKLKJJKKJIJKMKIKJJHIKKLLJJJKMMMNQOMOPPNMRSRRRTPPWWUUSTTTTURRTVbbUVedSSaZaZZaZYRRccZZVXONZYSSUUaYXWUTRQTRPOJJIGEEDBEEBCBBECAABBABAABBBCAADDAADCACDEFDCCEECDCCCCBAAAAABCEDBDDCDDFEFFCDAAikmlbaabZZaZZYWWRQaYTSRSVSOQTRQQNLKJJJGHHHJJJIJJIHHIKJIJIIGGIJIILLKIKLIIMNPQSUTUTUSUWVTTZbddeeUUcdXWggffefaYUVWWaZTSUUaaPPTUNMPPOMLKMMMNJKJJKKKJJJIJKLMLIKJKIIKKKKJJKLMMMNPPNNPPMMRTRSSSPRWVWVTTUUUUQSTUaZUVdcSSabZYZZXYSSccZZUWPOZZTTUUZYYXTSRQSRQOJJHHGGDBFDBCCBDDAAABACAACBCDBAEDAADCABDEEDDDEEDDCBCEDBAAAAACECBCCCDDEDDECCAAjkmlbaabZYZYZYVVRQaYTSQQTTPPRRPPNMKJKKIIHIJJJJJJHHGHJJIJJJGGIIJKLJJHJKIIMONOSTSTSUSUUVUTYaddecSUccXXggeeeeZYUVVVaZTSVUbaQPSTNLNNOMKJMMMNJIIIJKJJKKIKLLLKIKKKIHJKJJIKKKMMMMOPNNONLMQSPQRRPRVVWVSRSTVUQRSSYZUVdbSRacbZaaXZSSccZYVVOPYXTUVUZYXWUSSSTSQOKKHHGHDCFEDECBCEAAABCCBBCBDEBBFDAADBAAEEEEEFFEDCDCCEDCAAAAADECBCBBCDCBEEBBAAkilmaZabZXYYYYVVQRaZTSRQTSPOQQOOMMKIKLIJIIKKJJKKIIGGIIJJJJGGHHIJKKKKJKIILNNPSTSSSUTUUVUUZZccddSUbcWXggddeeZZUUVUZYSTVUcbQPRSNLMMOMLJMMMNIGJJJJKKMKHKLKKKHKLKIGIKJKJJJKMLKKOONOOMKMQSQPRRPQUUUTRQQSWTRRRSZaVVdcRSZbcaaaYaSRcbZZWWPOYXSTUUYXWWUTTTUSPOLKIHFFDCEEDDBBCDAABCDCBBCBDECDFDAABBAAECDEFEEEDDDDCDDBAAAAADDCBCCBCCBBGEBCBBgejkeeiibZZYabXWTUUUYYXWQQQQNLOPMMLJHILMLLLLKKJJJIKJGHMMKKHILJJKLLLLKMKLJKQRQRPQUVSTXYYZZZVXeebbZbfecbggVVXXkiXWccWXZYfcOMRRQNMMLKIHNLKKHGKKHGNNLJFGKKKJIKLKHHIIHHMKLMLLLLIIKLMKKMQRUTQQWYVUMMRRWXVUYXOQaaTTXXccVWWWZaUVUTaZSSSTcaRRVWYYTTQQVWRRVTROIJJIDDEDBBBBCDAACCCCBBEDCCCCEEEEEEAAAAAAABBAAACBCCEECBECAADFCCCCFDDBAADCCDBCgfkkffiibaZXaZXVTSUTWWXVQQQOMKOOMKLJIJKLLLLKKKJKJIJKHHLLKKHILLKKKKLMLMKKIKQPPOOPTUSUYYYXZZVXddbbZcgcbcggVVXXjiYXbaWWYXdZNMSQOMLMLLIINLJJGGJJIHMMKLFFLKKKIJKJHIIIHGLKLNLMLLIIKLLLLLQRUTQQWYVUMLRSWWVUXXPSbZRTYXddVVVVZbVVUSYZSTSTdbSTWWZYUURRWWQPVUROHJJIEDEEBBBCDDAACBCCABEEDDCBCDDDDECAAAAAAAAAAABBCEFECBEDCCEEBCDDGECAAABCDDBCihmlgeghZYZYaZWWUTTSWUVUQQPOLLOONKLLJILLKKKKKKJKJJJKHGKKJIGHKLKLKLLMLLKKJKOPONNOSTRTXXWXZZVXddabZbecbcfgWVWWiiYYbaVVXWbYLLRROMKLJLIJNLIJHHIIIHMLKLFFKJJKJIKJIIIIFGLJLOMLMLIKKLKJKKOPSTPQWYUUMKRTWWVVXWPRbZRSYYdcWXVWaaUVUUaaRTRSdcTTXWZYTTRQWWPPWURQIIJHGEFEDCBCDDABCCBCABDECCBABCCDDDCBAAAAAAAACCBACEEEBBEDCCDECBCCFEAAAACCCCCBhhlkgdfhZYZXaaVUVUTTVTTSPPOPMNPPMKMMIILJIJKKKJJKJJLKGGJKJHGGJJKMLMKMLLKKKKNPONNOTUQQWVUVXYWWddZbaaddbbfiZWWWjiYZbaVUWWbYMMRQNLKMJKJJNMJJHHIIIHNNKKEFKJKKKJJIIIIIDEKKLOLLMLIJKLIIJJNOSTPPWYTUNMTUXXVUXXQPaaSRXXdcWYWWaaTUTUaZRSSTddSTWVYYTTQQVVPPVTSRJIIHGFFFDDAADDABDCCCAADDCCBBBBCDECBCAAAAABAACCBACCEEABDCCBCDDBCDDEBCAADCCCCBggjjgeefaZZXaaWUVTTTWWTTPPOOMMOOLKMLIHKJJJLLKJLLIJKJGGJKJHFFKJKLLMKLJKKKJKMPONMOTUPQWWUUWYWVcdabZadcabghXUVXjiYYbbWUVVbYLMQQMLKMKKJIMNKKIHKIHINNJJGGJJLLLLIIIHIIFEKKMNLLMLIIKKIIJKNORSPPUXUUNNUUYYVUXZPPaaSSXXccWYXWZaTVTUZZQRSRbcSSWWYZVURPVVQPVUTRJIJJGEFGDDAADCABDCCCAACDCDBBBBCDEDBCAAAABCAACBAABAEEBADCBCDDDBDDCDCDABECEDDBihffaYbbigddedYWUURQTTSSQPOOLLMLIJKKLKHIJJFGJIKJIIIHJJHIKJJKLKKKIKLLHHHHKMLMKKQSMNMMSTZZXZYYYbccbdbaabXVfeZacccbcdVTXVWUPQONMLHJKJJHLMJIHGJIKKIJHHKJKKHILKGFIJHIIIJJLMNNNMLKJIKKKLKLPPOOSVRROPTSSSVVYZXXZXTTTTTTXXYVYZabXXcdTUYYWVaYUVTTVVTRQQVUPORQRPJIHGFEBBCBDDABCDDCAACBBCCBBCABECDEDDEEDDAADCAAAACCCBCACEAACBFFDDBBABCDGFDBhheeaZbaigddecXXUTQQTSSQOONNLKMKJJKJKKHHJJFFJIJIIHIHJKIILKKKLKKJILNLHHHILLMMJKPSMMLMSTZaYZYZZabbadababWTfgaadbbcccVVYUWUQQOMLLHIIIIILMJIHGHHKJIIHHKKJJFHKJFFIIIHIIKKLKNMMMLKJIJJKKJLOONNSURRPPSRRRVWXZXXZXSTSTUUXWXVYZaaXYdeVVYYXXaYVVTTVVSSQQVVQORQSQKIIGEDBACCEDAADDCCAADBBDCCCCAADDFFEEEDCBAADDAABCDDBACABCABCCEFFFBBBACCGFBBhhedZYbbihedecWVTTQQSRROOOOOLLMKJJLJJKIIIJHFJKJIIHKKKKHHLKLLLKKKJLNLHIIIKKNLJKPSNNMMRTYaYYYZZZaaacababVTefaadbbbdbUVYVVTPPOMMLHIIJIHKLIIIIIHJJIIIIKLKIFGJJFGJIJIIILLLLNLLKKKJJJJLKJLNNMNSTQROPRRQQVWYZYYZXSTRSUVWWWWXYbaXZeeWVYXXWYZVVTTUVRRQQVVQPSPSRJIJGEDAACCFEABDBBBBADBBDDCCBAACDEFCCCDDCAACDAACCDDBBBACCACDDEGGGDDCABBFEBBiifdZYbbjifcecVVVURPRPRPOPNOMLMLJJLKKKIHIJHFJKJHIILKKKIHKKMMKKLKJLLKIJIHJLNLJJORMNMMQRXZXYZZYYbbacbaZaVTfeZZbbbadaTSVWVTPOONMLIIKKIGKLIIHIIIKJIKIIMMKIFGLKGHJJKJHHJKLLMLKKLKIIKKLKJJLMLMSTPPOOQRQQVVYYXZYXTTRRTVWWVWYZbZVYcdWWZZWVXYVVUTTURRQQVTOPTPQQJHJGEDBACCFGBCEBBBAABBADEDCCAADCDEBBACECAABDABCCEDCBBADDAACDFGEEDDDBBBEECCjjkjfdcbfeaZXVQQXVRQPNOOMMMNONMMJJJKKLJIHJIGIILJJKJIJJMLKKIIIJJIIKHHKLNMLMKIKKKLPPSUVVTVVVWWVVffWXUTefjiVUdcbbXXVTWURSVTOMOOLJMMLMLJIJJJIJKKKIIJIILLIIIIIHIJHILLIIJJHHJJJJHIIJKKLKKKIILNOPPQQPPSVWVVRQXZTTTRXYXYdeXWYYbZWXUVYZXXXVVWRSZYSTSSRRSQSSTRNLJHHEEDFDACBBCDDBFECCAABDCBBCEEEDAAAAABGEBABDCCEFEFAAABAABAABCBBBEEEFBBDCBCijlkeeddfeaZXVRQWUSRPNONLLMMOMLLIJJJJLKKKJIGIJLKKKIHIJMMKKHHIJIIJJIHKMONLLIIKLKMOOSTVWUWVUUWWVffVWTSegkjUUcbbaXXUTWVTTUTPMNOKJMMLMLJIJKJJJLKJIIIIIJIHIJIIGGIHJLKIJKIHHJKLJGHIJJKLLKJIKNONOPPOOQSWXVVRPWYUTTSZaXYdfXWXYcZVWTUYZXXXVVWSSYYTSTSRSTSTTUSOMKIIFDDFDACAABCCBFFCCAABDBABCEDDCAAAACDFEAABCBCDFEDAAABAABAABAABBDDDDBBEDBBhimkeddcedaZWWSRWURQQPOMKJMMNLLLJJKKKKJKLKIGJJKKKLIHIIMMKLHHIIIIJJHILMONKLIILLJLOORSUUTVUUVWWWfeVVTTfgjkUUeccaWWTTVVTSUROMONJJLLLLLKHIKKKKLJHHHIJIIIIIIIGGGIHKKJHHKIHGIJKJGIJKJKLLKKJKNOOPPPNNQTWWVWRQXYTTTTZZWWceXXXXaZVXUUXXYXWVWXSRYZTSTTRTTTUUUSOMLIHFECEBBCAAABBCGECCAABCBBBCEDDCAAABDDEFBABCBBEFEDAABBAAABBAAAAADEDCBBEEBBihjjfdcbddbaWWSRWVQPQQOMKIMLLLLLKJLMKJHIJKIGJJKLLLIHIJMLKJGGIIIIIHGHKMOMKLJJLLIILNQRSSSTUUVWWYffVVUUggjkUUeddbWVUTUTSQSQMLONJJLMMLKKHJJJJKJIGHHIJJJJJIIIFFHIIJJJHIKJGGHIJJHIKKJJLKKKJIMNOPQQNORTWVUVRQYZSTSSYXVVcdWXWVZZWXTVWWYXYXWYRRYYSTTTSUUSTTUSNMKIFFECDBCDAAABBCGECBAABBAABBDEEDAABCCCFFABBBBBEFDDAAABAAAAAAAABACEEDBBDEABjiijfecbddaYWXRQUUQPQQPOLJLMLLKJJJKLKIHHIJIHIIKLKKIIJKLLJJGFIJIIIHGGJLNMKKIILLJIKNPQRSQRUTUVWYffWUUTffijUUbcdbXXUSVTRQRQMMONJJMMMLJJIJJIKJKKIHHHIJKJJJIJFFIIJIJKIJKKHHIHIJIIKIIJLKJJIHLMOPQROORSWUUVQRYYSTSRYXWWddWWWWZZXYVWXWXWXXWXRRZZSSUTSUUTUTUSOMJIGGECCCDCAAACCCGFCBAABBAACBEEFFAAAABCGEBCCCBCFDBDAABBAAAAAAAADCCEECBBCCAAgfhgggWVfebZSTVTWVTSONPNMKKLJIJJKIHIKJIIGHKJKLGHIJJJJJHIKLIGIJIIKKGGIIHIKKKKLMLKKLMOLMOQSRUXZaWVXWZZZZZacaWXSSdcUTaYTRQPMLOMJKJJKLKJKKGHJHKMKIJJHIKIJKGHHHKJLLIJKJHIIILJGIJKKIKKIIHIHHKMQRQQPPQRVVSTVWXXWWVUVXVVXWSTTTacWWRScbaaYYRRccYaZYUUWWTTRROONKIIIHFDDDBACDAADDDCBCABAADEAABBFFBDDCABBAEDCBCCDCAAAADCCCDCBBCCDDCCDCAABBAAffhgfgVVfebaTTUSXUTRNNOMLKKLKIKKJHHIJJJJIIKKJLGGIIJJJIFHJLJHIIIHJKHGIIGIKKLKLLKJKKMNMMQRSSVWYaWVXXaZaYaadaYZTRcbTTZXTRQPLKOMIJIJKLLJKJFHHHKMLJJKIIIIJJHHIJJIKLIJKKHHHILJIJJJJIKKIIJJJHKNQPOPOPPPUVUTVXYXWWVVVWVUWWSTUVacXWRRdbbbZYSRcdXYaZVVWWSSRRNNMLJIIHFEDDAACEAACDCCADCBABEEAABCEECEDDBBBBEDCBBCDDBAAADCBBDDCBDDCCCBDCBABCAAffhgffVUffcaTTTTWVTSNMNMLKKKKJKJJIHIJHIKKJLLKLHGJIJJJIGHKLIHIIHHJLHGJJHIKLLLLKJKKLMOMMPRRSWVXaUUXXZZaYYZdcYZTRcbSTZWSRQPLJLLJJHIKLKJLLFHHILLKKIKJIIJJJHHIJJHKMJIKKHHGHJJIIJKJIJKIIIJJHJMPONNNOPPUVTTWXZXUUUVVVVUVWSTTVbcXWSQdcbcZZTTddZZZZVUVVUTSSOMMMLKIGFEDCAACEBACDBCCDCBACEEAACCEECDDCABBBDDCBBBDEAAAAABABDEBBEECCDCDDCAACAAgeggffWVffbYSTUSWUTSNMNLLKLKKJLJJJHHIGHJKJKLLMIHJJKJJIIILLHHIIIIJKHFKJJIJKJJLKJKMMMMMMOQRSWVYZSTXWYYaZXYddYYTRbbSTaWRQQPLJLLKIHILKJHLMGHHJLLJJHJKJIJIIGHIJJIKLIIKJHHGHJJIIJKJIHJIHGJJIKKNPNNNPQQUUSQVWXWTVUVVWVVVVRTTUbcXWSQabbcZZUUcdbaZYTTUWWUUSPNNLLKHFGFCCAACDBADEBCCCCCBDFFAABDEFCCDDBAAADCACCCDCAAAAAABBCEABDDCBCDEDCACCAAjiecccaYZYigTSQOUSQOTRJKQPLKHIIHJIIJIGFHNMIKJJJIMMHHJJLLHGIJHILNKKKIJJHGLMJKKLMNNNJJQQNOQRWWRQWXXXUUVUXZZZaZTTXXSSTQTQNMMKLKKIKJJIJIIJJJIJJKHHGILKHIIJHIKKHHGHJJJIIIJJJJIIIJIIJKIGLNKKKJKMNNOQRSQROLOPSSVXOOVVZYQQacUVXXWVdcZaXZXWSRUVVUVVPPXZYWYWQQQNJHHHFCFECACCCCAACDAADEEFCCCCCEECDCCEBABCFEACEEAABBEEDCFDCDBCCAAADEDDFFCBBBkjeccdbYZYjhTRONUTQNSPHIPPMLHIIHJIIKJIGHKLJJIJHGMMIHJJLMIHIIHJMNLKJJIIGGKLKLLMMNLLJKQPMPRQVWSRXXWXUUVVXZZYbZSSZXSQSPSPNMLKLJJJKJIIJJJIJIIIIJHGHJKIHIJKIIJJHHGHJIIHJIIJJJHHIIIILLHGMLJJIJLMOPOQQRQRNMQRTRVWNNVVaYRSccVVWWVWddaaXYWXSQUVVUVWPPYaYWXWRQQOKHJIFCEDBBCCBCAACDAACDEEDBBCBDDCCCCDBACDFFACDEBBCBEEDDFDDDBCCABBDCCCDGBBCCkidccdaXZYhgSQOOUSONSPIIOPMLGHGHIHIIJJIHLMKJIJGGMLIIKKKMIHIHHILLLLJKHIGGMMLLMMNNKJIJPPMPRRVURQXWVXUVUVXZaYaYSSZXTPRPSQNNMJJIIJLKIIKJIHJJIJKJGHIJJGGHKKJIIIHGFGKIJIKIJJJJHHJJJJMKHHMLJJJKLNNOOOPQPPMMQRUTXWNOVVaZSSddVVVWUVcdaaXWWXTSVUUTWWQPZaYWXWRQPOLHJIFDEDCBCDCCAADCAABEEECAABBCCCBCCCCBDCEGCBEDAABBDDECEDDCBCCBCBDDCBDFBABBjhcddcYXZYhfRQOPVSONSQKJPPMKGGEHHHHIJJIGLMLLJJHHMLJJLLKLIHIIIIJKLLJJHIGHMMKLLLMNKJIIOOLOQQUUPPWXVWVVUUYZZXaZTSXXSQQPSRMKLKIIJIKKHIKJIHLJIJKJHIIJJGFGKKIIIIHGGGKIIHIIJJIIHIKJJJLJGHMMKKKJKMMOOOQRPNKMPPUVXXPPUUYZSRcbVVVXVUcdacXWWWSSVVUUXWPQabXWXXQPQOLHIIGDGFDCDDDDAADCAACEDDCAABCBBCBBABCCCBEGCBDCAAABEEEDDDCDCBBBDBDEDCDEBAAAihddedYXZYhfRQPQVSONRSLJQPKIHGFIIIHIKKHGMMKKJJHHMNJJLMLKHGIIIIKLLLJJJJIIMNMNLKMMJJIIPPLNPQVVPPWXVWVVVUYZZXZZUSVWRQQQTSNLKJHIJIJJIIJJHHLJIJKJIIIJIIHGKKJJJJHHHGIIIHGIKKIIIJJJJIKJGJNOLLKJKLMMNOQRPNKNPOTVWWOOUUYYQQcbUUWXVUccacZZVUSRVVUUVVPQbaXXYXQQSQLIJJFCFFEDEDBEBACDAACDBCBABBCBBBCCABCBBCEFBCFDAAABEEEDDDDDCAAACCDDFEFDBCBAffkjffggccRRSRUUXVQQMNPMMLLKMLKLIJGHIJJIJJIIHHJJKLKKJJJILKGGIIJJGHIJLLLLIJMMJJIHLMJKNNLNQTVWWXdeYZXYbabbdaQPcbccYXSRWVRONOLLIIGGKJIJIJJHLKJIMLIIJKJIJJKKGGIIJHGHIHHKIJJJHIIJIHIHGJMMOOMLMNKJNPNNNOQTRQUVVVUTTTWXWWWVZaVVSRSRTVWWWVbcTSUUUWTTUTXYZXRRSPNMKJEDEDCDCBADBAABCDAACCAAAAEDCBDDDDBABCAABCEDEDCDDDCCEDBBDCAABCFFDDEDCDCAffjideihcbRRRQUSVWSQNMPNMMMLMLKKIJIHHIJIIJIHGGJKKKIKJIIIMMHGIIJJGIIIKKKKHHLLIJHHLLJKMMLLPSVWVXcdYZWXaabbcZPPaacbYXSRWUROOOMLJJGGKJIIIJIHLKJIMLIHJKJJIIIKGHHGHIIIIIJLHJKJHIIKIGIHGJMLNNLLMOKJNPMMMORSQRVUTUTUTUWYXWVVZZVVSRSRUTTUWVbcUSTTTWTSTUYZZXSRRPNMLHFEDDDDAACDBBACDDAADDBBABEDCCDDCBAACCAACCEDEFEDDDDCFEBBEDAAACHGDBDDBBCBfeijddigcbSRQRURVWSQMLPNMMNLLLLKIJIIIHJJJJIHGGIJJJHIIHHIMMHGHIJJGIJIJKJJGGKJHHIHKKJLMNLJPRVVUWcdXYVXbaabdbRQaZcbXWRQUTQOOOMMKJGGJKKIIJHHLKIIMLIIKKJIIIIJFGHHIJIHIIKKHIKJHIIJHGIJIJLJLLLLMOKJOPNMLNSSPRVUSTSVUUWXWWWXZaWVSTTTVTTUWWddTSUTTVUTUVYYXXTRRPOMJHGFDDDDBBDDAACDEDBACDBCBCFCCDEDBAACECAACCDEDDECBDDCGGDCECAAABGGDBCDAABCfejjfehfccSRRRUSWWSRMLOMLLNMLKKIIJHIJIJKJIHIHHJKJIGHGGHILMIGHHJJGHIHJLJJGGLJIHIHKLJLMMLKQTVVUWccXZWXcbacecRQaYdcXWQPTSONONKMKJHHKMKJIIHILKHHKKJJLLJIIIJJGGIIHIHHHGJJHHJJJKIIGHJIHJKHKKMLMNKJOPMMLMTSQQUTTUTVTTVVWXYZaZVWSSSSUTTUXXdcSTVVVVUUUVYXYYTRPNPNIHGFFEECBBCCBCCCEDBACDBCCBEDDDDCCBBDDBABCCCDBDECBDCBFFDCEDCBBBFEDDEEAABEhhhhihgeedbbXWVUVVMNRPMMMKJJIIJJIJIIIJLLJHIJHILLKLGFIIJJKKKJLKIHIIHGKLIIJJKJHIIIJKKMLLONPRVVQSWVVXbaXXYaZXbZZYYXUUXVPOJIHHGIIIGHKLIGJIHIKJJIGHMMKJIHGHKJJJJHDFKIIJGIJIJJJKHGIJJHIKHFIILLJIJJNNQRQSZZSROPTTRTOOXXSSUUbaVWUUXYccPQUTVTXYZYaZRSVWZZQQXTMMOMIHHGGGDBDEAAFEBBEEDCAAEECBAABBDDBBDFFDBDDDBDCDDDACBACCCBEECCDDBACCFFABEFhgggiggfdcbbYXUUVVKLPONMMJIIJIIJJJIIJJLKIHJJHILLLMIGJIJJKJIJLKHHIIHHKLIIIIJJIIJKKLJLLLOPPQVVQSWWVWZaWWZbYXaYZZYWUTWVQNIIIIHHHIGGJKIHJJHIJJJJGILLJIIHGGKKJKJHEFKJJLHIJIJIJKGGJJIFIKHGJJJKKIIKOORQRSYYSSOQTSSTNNXXSRTTbbUVUUZZcdQQUUVTXYYXaZQSVWYZQQWTNNOLIHIGGFCCDFABFECCEDDDAAEDBCBABACDCBEDEFCDDDCEEDCDACBADDBAEECDCCABCBEGBCFFhgggihgfcbaZYYUSUVKKPONMLIKJJIJJJJJJJJMLHIJJHHKJKKIHJIJKKJIILKHHHIHILMIJJJJJIIJLLKJKKLMOOPTVQTVWVWZaWVYZYWZZaZYVUTVVQMHHJJJHHJHGJKHIJIIIJIIJIJKLJIIIGFJKKKIGGFJJLKGHJIJIJJGHKIIGIKHGKKJJJJKLPNQPRSXYSTPRSRRSMNYZTSSTcbVUUTZaeeSRVUUTXYWWaaQTWVXZPPVUONNLHGGFGEBDEFACEDBCEDDEAAEDCDBACACDCADDEGDDCDDDEDDDACCBDDBAEEDDCCBCDCEGAADDihhhhfgfdcaZXYUQVUMKPONNLJKJJIKKKJJJIHLMIIJJHGJJLJGHJIJKKJIILLJHIIHJLMJKKJJJJJJKKKJKKMMMOPSVRUUWUWaaVUZYYWZZZZXVTTVUPMHIJJJIIJHHIIHIJHGIJIIJHIKLJJJIHFIKJKIGGFIJLKGGHGJJJIGHJJIHJLHGKKIIIJLLNMQQRTVXSUPQSSRRNNYZTRRSccVUTSXaedRSVTTTZZWVZaRTWUXZQOUUPNOMIHGGFDBDFFABECBBEDDDABFDCEBACCCCCACEFFEDDEDBCDDDBDCABCBAEECBCCCCDCDEBABBhfghgeffdcbZWWURUTMLPONLKKJKJJLKJJKJIHLMJJJJGHKJMKHHJIIIJJJILMJJLJIILKIKKIKLIJIKKLKIJLMNPQTVRSUXVWaaWWYYXWZZYZWVTTWUOLJIIIHHJKHGHIIJJHGIJIIJGHKLIJKHGGJJJKIHFFIIJJHHHGJJJJGGIJJJLLHHKKJJHJKJMNQQRTVWRTPPSSQRMNYXRRRSccVUSSYaecQRTSUTZaWXZaSSWUYaQPUUPOPNKIIGECABEEABEDBBEDDCABFDBDCBCCCCBACDEDCDDEDCCCCDBCCACCBACDBBCDCCCCCECABBZWYZedhhVTaYVVPNSRONLJQOKKIJIILMLLLMIJJIIJKKHHKJMKJIHHIHFHIIIILMJIJIKJGHKJIJJKJKLLEDIJIJOPPPSSXaWYYXabXYedaZWXZYTRPOMKKJIJLJJKJIIJKJHGIIHHIJGIHIJJLHHJJILMHHIGJKFGGGIJHHKJJJHILLJILLLLJIKMMLPPNOMNNMSTQQUUPPSSOMUVWXUTYYUTWYVVTTXYQPcdSRQQXWTSWYQPVVUUNMPNHFDCBBBBBCDCDCDBCCAABCAACBBBBCBAEEBBCCBBEDDECCDEBAABDDBCABDCABAABCCCAAYXZZffihWSZXVVPOSRNNLKPNKMJJJIMNKKKLJJKIHJKKIHIIKJHHHHJIFHJIJILLHHJIJKGHKJHJKKLLLKDDIJIINQQPRSXZWXYXabYYeebaWXaYTRPOLKKJJJMKJJIIJJKJHHIHHGIJGIIJKIJGGIIIKLHHHGKKGHFEJJHHJKKKIIKJGILKLLKILMMKPPMOMNNMRSQQSVRPSSNLVVXYSTYXTTXYUWUTYZQQdbRQQQXXUSXYQPWUTUNMQNHEDDCBCBCCDDDCBBDDAABBAACCBBCBBAEEBBDDAADCCEDDEFBABCEFDCABCBAAAACDCCBAYYZagffgVSYYWVPOSSNNLNQMJLIJJIONLLJJJJKKIHKKIHIJKJHHGHKIGHIIIIKLGHIILLGGLJHIIKMKLKDDIJIIMPPQRTYZWWXXZbZZeeaaXXaYTQONLJJIIHMLIIIIJLKJHIHGHHJJGIIIKIIHIJIJKLJIGHLJGHFFJKHHJKJJIJKIFHKJKKKJLLLKPQMOLLMLSSPQRUQORSNNWWYYSTYYUTYYUWVTYXRQdbQQPPYYTSXXRRXUTTNLPNIEEDBBCCDCCCCDBCEEBABAAADCBCDAABEDABDDBCDBBDDEFFAAACEEDCABBAAAAACDCDCBZZabheeeVVaYXVPPTTPOLMRNIJIIIGMLMLJKJJKLKIKKHHKLMKIIHHKIHHHGHIKLHHHJLLHGKJHHIJKJKJEEJKIHMNNPRRXZVVYZZbZZedZZYXZXSPMNLJJIJHKLIHJJLLIIHHGIHHIJIJIHIHHJKKIIKLIIGILKFGGGJJHIIJJIIIJIHILJJKJIKKKLRSNOKKMNSSPQSTOORRMNVXYXTTYYTTXYVWWVYYRQcaQQPPYXSSXXSSYVUTMKNLGEFCABDCDDCBCDBCEDBBABAADCCCDBBCDCAACDBCDBCDCCDDAAAADDCBAABBAAAADCBDEDeeffdbjjZZaYUSTSSTSQIIPNKLKKIHGGJIKKLLKJJIIIHHLMNLLKJKJJGFHHJKJJJJIJHHJJIJFHJJIIKIKKJKLLOOORUUSTUVYZbbVUQQYXXWTRXUKKMKMMLIGIIIIIJIFGIJJLHHIIKLLIKJKMKIHGJKGHFGKKJIJKIHFFGGIILKHIKKJIILHGMLKNKKNOPPSTRRQQQSTTRSYYQRVTUVSRabXYVVVUWWcbXWTSVWVUWXVWWXWTSPMKLJIGDBCEBBACCACDBCCBCCEEAAEEEEDCAAAAAAEEDCBBCDBBCCDFCCDEDCDDAACCBBEDAAAAeefecblkZYZXTSUSTUSRIHPNLLJLJHHFIIKJJJJIHIIIHIKKKJJJIJIJGFIJKJIIKKIJHHIKJIGIKKJIKJKKIKLKOPQSVWSTVXZYabVUQRZYWVTSXVLLNLMLKIGIIIIHIHFHJKJKHIIIJKJHJJLMKIHGIKGHEGJJKIIJJHFFFFHJLKIIIJIIILIHMNLNJIMNPPSSSSQQQSUUSTaYRRVUUVSQabYYUVUUWWccYXTSVVTRVWWWXYVURPMMMJIHCCDDBBABCBCCBCDCDCFDAACDCDCCAAABABEDBBDCCCBBCCEFBCDDCCDCAACCAADDAAAAeefdccmlZYaYUTTSSTRRIHONMLKLIHHHIJKJIIJJJIIJIJLJJKKJJJHJFFIJMKHHJKIKHHJLIIHJLLKIJJKLIKLKOQQSVXSUWXZYbbVUQQYZWWTSXVMMNLNLJJHJJJJHIHIIKLLKGHIHJKIIIJKLIIGGIKFGFGJIJJIJIHEFFGIJLKJIHJIHKLIINNLMIINNPQSQSSPQRSUUTSZaSRWUTUSQbbYWUVUUXYcbYXUTWXTSUVXWYXUUQPMMNKIHCCEDBBBACACCBBDCCCDCABDDCCCBAACCACEECADDCCCCCCEFBBDBBBCCAAAAAACCAAAAededcbllZZaaVSSRRSRQIIONMMLLIIHHIIKKJJKLJJIIIJKKLLLKKKIIEFHJMLIHJJIKHHJKJJIILLJJKJLLJKKKOQRSUWSTVXYWbaUUQQYYWWTSWVNMMLNMJJHIJJKKIHJIJKKKIIJJKKJJKJKJIHGGIJFGGHKJIKKKIHFFFGJIJKJIIJIIMNJINNLLIINNORRRRRPRTSTTSRZaSRWVTVSRbcXWUWVTXYdbXXVUXXUUWWXWXWUUQPMNNLJGCCDDBBBCDACCBABCBCEEABEECCCDACDDBCEECBDCCBCDDCFGBCDBBCCCBAAAAABDAAAAgddcbblmbZaZUSSRSRRRHIOMLMLKIIHHHGJKKKKKIIIHHIKLLKJJJLJJFGJJLMJIIIIJHGKKKJHHKKIJKJKKJKJJNQSRUUSUVXXWZbTURRXYVWURWVOMLKNMKJIIJKKKIHGIKKJKIJKKKKKKKKKJJHHGHIFGHHLKJKJKJIHGFGIHKKIIJKIIMOJHMMKKJJOOORQRRRPSTSTTSRYZRRXWTVRSccWXUWUTXXccWYVTVWUVYXXWWVTURQMMNLIFBBDCBAACDBEDBAABBCGFBBDECDCCACCDCBEDBBCCDBDDDCEFCDEDCDCBAABBAABCAAAAgeedfgijjhcaZYUSQQSSRPNMJKNMMLKKIJIIJHLMHIJIIJIJJJHHIKIJJIIHKKKKIIKJHHJIJJHHJLMNJHJJHILMORQPVVSTWYcbRTaaYYbcWWUTUTVTMLJJJKLKGIJIIHGIJKIJHIMMKJIJJJIIHGGGHGHJLKKJHHJJJJHHHHJIIJJJHJKLNOHGIIKMOOOOMOMMQQUVVWaaOOUTUXdcTUZbSSYaUVUTZaVVXXXURTYaWVTSSSNNONPONJFEEFDAAABEEDFECAABCDDDDCCDDEBBBEDDDDCCDDDEEDDDCBCCBDEDCBDCABBBDEBAEFAAgfedghijigaaZYVSRQSRQNMNLKNMMLKLIJHIJHLMIHJIIJHIIJIIIJHIJIHIKKLKIHJJHIJIIIIHKMNNIILJGILNQQOQVWSSWYdcSUbZYYdcWVUUUUVTNNKJKKLKGIIIHIGIKKIJIINLJIGIIJIIHHHFHGHJKKJIIIJIIJIIIIJJJJJJHJLMNMGFIIKMNNONMNMLRQUVVWaYNOUUUXdcTTZaRSZbTUUUaYVWYXWVSTYaWWTSRSONONONMIGEFGDABBBDDDEDCCBBCDDCDBCCDEBBCDDEDCCDDEEEDDDDBCCCBDEECBEDBBCBDECAEGBAeffeihhhgfZZZYURQPRPQOLMLLLKJKKLIJHIIGLMHHIHIJIJJIJIJIIIHHFGIJKJJILKIIJJHGHJJLNMGILKIJLNQRNOUXUUXYddTVbZYYddYVVWSTVTPOLLKJLLGHHGGJIIKJJJHHNKKIGHIIHJHIIHJIJJKKIJJIJIIIHIHIKNKIKJIJLLLLIHHIMMLMNMMNMNSSTVWWYYOPVVUWbcTUabSTbdVUTVaWUXYYXVSTZaVVUTQSNMMLNOKIHEGGCBCBBCCACCBCBBCDCCCACBEGBCDDFFFDDDDDCDCCBCACECBDFFCBEECAAADDDBDFCA");
})();
</script>
</body></html>
